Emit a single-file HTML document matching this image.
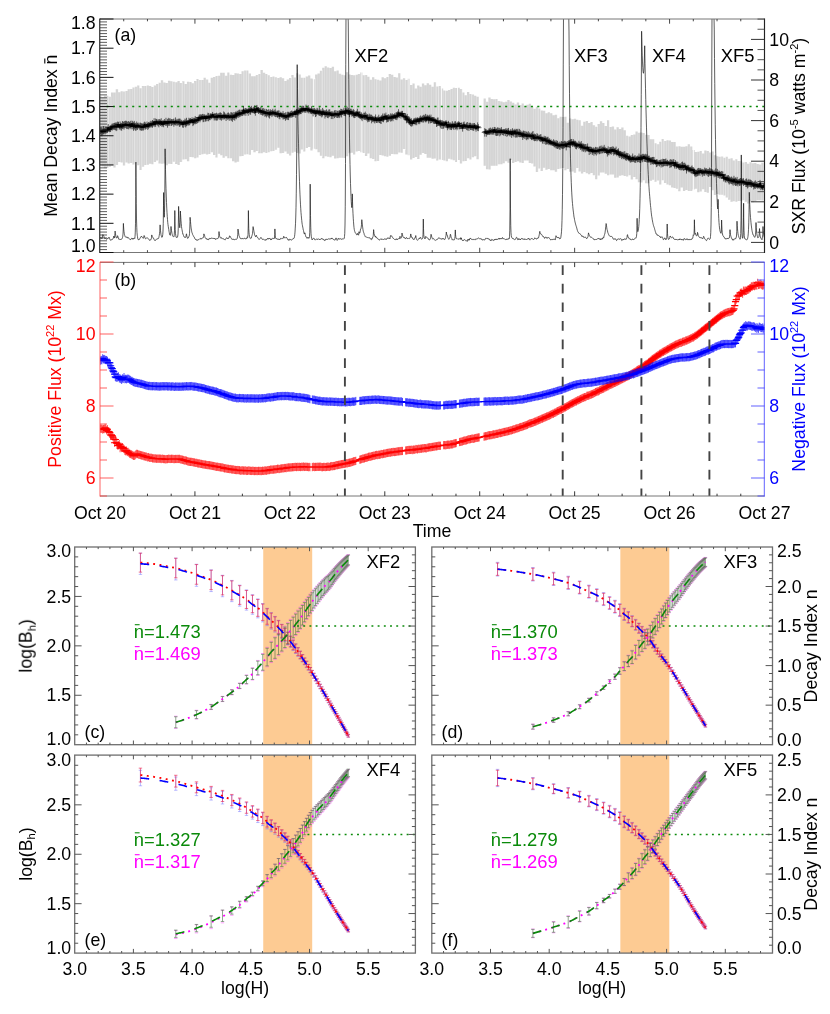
<!DOCTYPE html>
<html><head><meta charset="utf-8"><title>fig</title><style>html,body{margin:0;padding:0;background:#fff}svg{display:block}</style></head><body>
<svg width="830" height="1014" viewBox="0 0 830 1014" font-family="Liberation Sans, sans-serif" font-size="17.7px">
<defs><filter id="nf" filterUnits="userSpaceOnUse" x="0" y="0" width="830" height="1014"><feOffset dx="0" dy="0"/></filter></defs><rect width="830" height="1014" fill="#fff"/>
<polygon points="99.11,96.31 101.49,96.31 101.49,97.35 103.86,97.35 103.86,95.74 106.23,95.74 106.23,95.75 108.61,95.75 108.61,96.87 110.98,96.87 110.98,92.56 113.35,92.56 113.35,92.43 115.73,92.43 115.73,89.34 118.1,89.34 118.1,92.34 120.47,92.34 120.47,91.15 122.85,91.15 122.85,91.38 125.22,91.38 125.22,91.09 127.59,91.09 127.59,89.18 129.97,89.18 129.97,88.91 132.34,88.91 132.34,87.58 134.71,87.58 134.71,86.8 137.08,86.8 137.08,85.51 139.46,85.51 139.46,88.17 141.83,88.17 141.83,86.11 144.2,86.11 144.2,86 146.58,86 146.58,85.58 148.95,85.58 148.95,85.93 151.32,85.93 151.32,87.06 153.7,87.06 153.7,85.38 156.07,85.38 156.07,83.97 158.44,83.97 158.44,82.78 160.82,82.78 160.82,80.28 163.19,80.28 163.19,82.41 165.56,82.41 165.56,83.01 167.94,83.01 167.94,80.65 170.31,80.65 170.31,81.35 172.68,81.35 172.68,81.69 175.06,81.69 175.06,82.31 177.43,82.31 177.43,80.96 179.8,80.96 179.8,82.88 182.18,82.88 182.18,81.17 184.55,81.17 184.55,84.06 186.92,84.06 186.92,81.68 189.3,81.68 189.3,81.99 191.67,81.99 191.67,83.18 194.04,83.18 194.04,80.98 196.42,80.98 196.42,79 198.79,79 198.79,80.06 201.16,80.06 201.16,80.08 203.53,80.08 203.53,77.7 205.91,77.7 205.91,79.59 208.28,79.59 208.28,82.65 210.65,82.65 210.65,77.64 213.03,77.64 213.03,77.07 215.4,77.07 215.4,75.9 217.77,75.9 217.77,75.71 220.15,75.71 220.15,72.72 222.52,72.72 222.52,72.87 224.89,72.87 224.89,75.84 227.27,75.84 227.27,72.57 229.64,72.57 229.64,74.65 232.01,74.65 232.01,75.12 234.39,75.12 234.39,73.25 236.76,73.25 236.76,73.47 239.13,73.47 239.13,73.95 241.51,73.95 241.51,71.15 243.88,71.15 243.88,70.49 246.25,70.49 246.25,70.42 248.63,70.42 248.63,73.45 251,73.45 251,76.23 253.37,76.23 253.37,76.22 255.75,76.22 255.75,74.94 258.12,74.94 258.12,74.12 260.49,74.12 260.49,70.12 262.87,70.12 262.87,72.65 265.24,72.65 265.24,73.88 267.61,73.88 267.61,75.15 269.98,75.15 269.98,76.96 272.36,76.96 272.36,76.58 274.73,76.58 274.73,77.14 277.1,77.14 277.1,77.95 279.48,77.95 279.48,77.14 281.85,77.14 281.85,78.28 284.22,78.28 284.22,80.94 286.6,80.94 286.6,79.52 288.97,79.52 288.97,78 291.34,78 291.34,74.89 293.72,74.89 293.72,77.53 296.09,77.53 296.09,73.33 298.46,73.33 298.46,74.44 300.84,74.44 300.84,77.69 303.21,77.69 303.21,77.72 305.58,77.72 305.58,76.5 307.96,76.5 307.96,75.38 310.33,75.38 310.33,78.62 312.7,78.62 312.7,79.22 315.08,79.22 315.08,74.4 317.45,74.4 317.45,73.56 319.82,73.56 319.82,70.85 322.2,70.85 322.2,67.63 324.57,67.63 324.57,66.15 326.94,66.15 326.94,67.48 329.32,67.48 329.32,67.88 331.69,67.88 331.69,66.73 334.06,66.73 334.06,71.27 336.43,71.27 336.43,70.57 338.81,70.57 338.81,73.86 341.18,73.86 341.18,74.81 343.55,74.81 343.55,75.37 345.93,75.37 345.93,72.16 348.3,72.16 348.3,74.44 350.67,74.44 350.67,74.88 353.05,74.88 353.05,75.23 355.42,75.23 355.42,74.86 357.79,74.86 357.79,74.09 360.17,74.09 360.17,72.58 362.54,72.58 362.54,75.26 364.91,75.26 364.91,74.9 367.29,74.9 367.29,76.77 369.66,76.77 369.66,79.71 372.03,79.71 372.03,77.16 374.41,77.16 374.41,79.23 376.78,79.23 376.78,79.85 379.15,79.85 379.15,80.41 381.53,80.41 381.53,77.3 383.9,77.3 383.9,78.24 386.27,78.24 386.27,77.07 388.65,77.07 388.65,73.92 391.02,73.92 391.02,74.72 393.39,74.72 393.39,77.11 395.77,77.11 395.77,77.61 398.14,77.61 398.14,73.35 400.51,73.35 400.51,79.5 402.88,79.5 402.88,78.35 405.26,78.35 405.26,79.95 407.63,79.95 407.63,78.79 410,78.79 410,85.02 412.38,85.02 412.38,83.45 414.75,83.45 414.75,88.44 417.12,88.44 417.12,85.61 419.5,85.61 419.5,86.82 421.87,86.82 421.87,83.59 424.24,83.59 424.24,85.27 426.62,85.27 426.62,83.27 428.99,83.27 428.99,84.69 431.36,84.69 431.36,86.82 433.74,86.82 433.74,82.21 436.11,82.21 436.11,86.58 438.48,86.58 438.48,86.11 440.86,86.11 440.86,88.44 443.23,88.44 443.23,90.41 445.6,90.41 445.6,90.65 447.98,90.65 447.98,90.06 450.35,90.06 450.35,88.94 452.72,88.94 452.72,87.75 455.1,87.75 455.1,88.06 457.47,88.06 457.47,87.67 459.84,87.67 459.84,89.03 462.22,89.03 462.22,92.53 464.59,92.53 464.59,95.22 466.96,95.22 466.96,92.03 469.33,92.03 469.33,94.07 471.71,94.07 471.71,94.59 474.08,94.59 474.08,95.87 476.45,95.87 476.45,96.87 478.83,96.87 478.83,159.14 476.45,159.14 476.45,156.33 474.08,156.33 474.08,157.35 471.71,157.35 471.71,159.62 469.33,159.62 469.33,158.17 466.96,158.17 466.96,161.03 464.59,161.03 464.59,161.26 462.22,161.26 462.22,163.62 459.84,163.62 459.84,160.03 457.47,160.03 457.47,162.04 455.1,162.04 455.1,160.22 452.72,160.22 452.72,159.51 450.35,159.51 450.35,158.85 447.98,158.85 447.98,161.21 445.6,161.21 445.6,160.62 443.23,160.62 443.23,159.88 440.86,159.88 440.86,159.44 438.48,159.44 438.48,160.56 436.11,160.56 436.11,158.43 433.74,158.43 433.74,158.65 431.36,158.65 431.36,157.85 428.99,157.85 428.99,157.63 426.62,157.63 426.62,154.1 424.24,154.1 424.24,152.93 421.87,152.93 421.87,154.66 419.5,154.66 419.5,158.95 417.12,158.95 417.12,156.94 414.75,156.94 414.75,157.99 412.38,157.99 412.38,159.61 410,159.61 410,155.2 407.63,155.2 407.63,154.61 405.26,154.61 405.26,149.09 402.88,149.09 402.88,152.64 400.51,152.64 400.51,152.51 398.14,152.51 398.14,154.35 395.77,154.35 395.77,154.24 393.39,154.24 393.39,154.1 391.02,154.1 391.02,155.74 388.65,155.74 388.65,156.68 386.27,156.68 386.27,156.33 383.9,156.33 383.9,155.5 381.53,155.5 381.53,155.02 379.15,155.02 379.15,161.12 376.78,161.12 376.78,161.27 374.41,161.27 374.41,159.02 372.03,159.02 372.03,158.13 369.66,158.13 369.66,153.49 367.29,153.49 367.29,156.08 364.91,156.08 364.91,152.97 362.54,152.97 362.54,152.16 360.17,152.16 360.17,150.93 357.79,150.93 357.79,151.38 355.42,151.38 355.42,154.47 353.05,154.47 353.05,152.79 350.67,152.79 350.67,153.16 348.3,153.16 348.3,156.14 345.93,156.14 345.93,158.03 343.55,158.03 343.55,157.67 341.18,157.67 341.18,157.77 338.81,157.77 338.81,158.28 336.43,158.28 336.43,158.42 334.06,158.42 334.06,155.84 331.69,155.84 331.69,157.31 329.32,157.31 329.32,156.8 326.94,156.8 326.94,156.27 324.57,156.27 324.57,158.15 322.2,158.15 322.2,155.82 319.82,155.82 319.82,152.3 317.45,152.3 317.45,149.24 315.08,149.24 315.08,148.85 312.7,148.85 312.7,150.58 310.33,150.58 310.33,147.12 307.96,147.12 307.96,148.07 305.58,148.07 305.58,151.58 303.21,151.58 303.21,149.44 300.84,149.44 300.84,153.48 298.46,153.48 298.46,152.96 296.09,152.96 296.09,151.64 293.72,151.64 293.72,152.63 291.34,152.63 291.34,155.38 288.97,155.38 288.97,153.63 286.6,153.63 286.6,151.62 284.22,151.62 284.22,152.94 281.85,152.94 281.85,153.19 279.48,153.19 279.48,147.87 277.1,147.87 277.1,149.72 274.73,149.72 274.73,151 272.36,151 272.36,151.15 269.98,151.15 269.98,152.27 267.61,152.27 267.61,153 265.24,153 265.24,152.34 262.87,152.34 262.87,153.36 260.49,153.36 260.49,153.34 258.12,153.34 258.12,150.96 255.75,150.96 255.75,152.31 253.37,152.31 253.37,149.9 251,149.9 251,154.69 248.63,154.69 248.63,154.2 246.25,154.2 246.25,154.4 243.88,154.4 243.88,155.99 241.51,155.99 241.51,156.3 239.13,156.3 239.13,161.65 236.76,161.65 236.76,162.56 234.39,162.56 234.39,161.27 232.01,161.27 232.01,158.21 229.64,158.21 229.64,158.14 227.27,158.14 227.27,156.13 224.89,156.13 224.89,157.85 222.52,157.85 222.52,155.27 220.15,155.27 220.15,153.8 217.77,153.8 217.77,157.59 215.4,157.59 215.4,155.05 213.03,155.05 213.03,152.35 210.65,152.35 210.65,154.1 208.28,154.1 208.28,154.41 205.91,154.41 205.91,153.66 203.53,153.66 203.53,154.24 201.16,154.24 201.16,155.02 198.79,155.02 198.79,157.57 196.42,157.57 196.42,158.27 194.04,158.27 194.04,157.28 191.67,157.28 191.67,156.97 189.3,156.97 189.3,161.2 186.92,161.2 186.92,159.13 184.55,159.13 184.55,159.53 182.18,159.53 182.18,162.04 179.8,162.04 179.8,165.08 177.43,165.08 177.43,163.9 175.06,163.9 175.06,161.64 172.68,161.64 172.68,164.06 170.31,164.06 170.31,163.68 167.94,163.68 167.94,165.19 165.56,165.19 165.56,163.52 163.19,163.52 163.19,163.76 160.82,163.76 160.82,163.5 158.44,163.5 158.44,160.39 156.07,160.39 156.07,162.08 153.7,162.08 153.7,164.32 151.32,164.32 151.32,163.81 148.95,163.81 148.95,164.63 146.58,164.63 146.58,164.97 144.2,164.97 144.2,166.8 141.83,166.8 141.83,170.04 139.46,170.04 139.46,165.29 137.08,165.29 137.08,163.19 134.71,163.19 134.71,164.55 132.34,164.55 132.34,163.07 129.97,163.07 129.97,163.49 127.59,163.49 127.59,162.55 125.22,162.55 125.22,165.56 122.85,165.56 122.85,162.49 120.47,162.49 120.47,162.02 118.1,162.02 118.1,164.91 115.73,164.91 115.73,167.53 113.35,167.53 113.35,165.43 110.98,165.43 110.98,166.83 108.61,166.83 108.61,167.94 106.23,167.94 106.23,168.23 103.86,168.23 103.86,166.45 101.49,166.45 101.49,164.46 99.11,164.46" fill="#d4d4d4"/>
<polygon points="483.57,98.46 485.95,98.46 485.95,101.79 488.32,101.79 488.32,97.53 490.69,97.53 490.69,98.98 493.07,98.98 493.07,99.25 495.44,99.25 495.44,98.92 497.81,98.92 497.81,100.96 500.19,100.96 500.19,101.59 502.56,101.59 502.56,102.31 504.93,102.31 504.93,101.77 507.31,101.77 507.31,100.03 509.68,100.03 509.68,101.56 512.05,101.56 512.05,102.77 514.43,102.77 514.43,104.5 516.8,104.5 516.8,102.61 519.17,102.61 519.17,104.92 521.55,104.92 521.55,103.45 523.92,103.45 523.92,106.04 526.29,106.04 526.29,104.73 528.67,104.73 528.67,103.75 531.04,103.75 531.04,106.53 533.41,106.53 533.41,108.86 535.78,108.86 535.78,106.84 538.16,106.84 538.16,108.57 540.53,108.57 540.53,110.57 542.9,110.57 542.9,110.86 545.28,110.86 545.28,113.2 547.65,113.2 547.65,112.33 550.02,112.33 550.02,113.22 552.4,113.22 552.4,115.31 554.77,115.31 554.77,114.72 557.14,114.72 557.14,118.32 559.52,118.32 559.52,116.87 561.89,116.87 561.89,117.1 564.26,117.1 564.26,116.63 566.64,116.63 566.64,122.8 569.01,122.8 569.01,118.48 571.38,118.48 571.38,119.29 573.76,119.29 573.76,118.64 576.13,118.64 576.13,119.73 578.5,119.73 578.5,120.26 580.88,120.26 580.88,125.83 583.25,125.83 583.25,121.74 585.62,121.74 585.62,120.94 588,120.94 588,122.94 590.37,122.94 590.37,121.97 592.74,121.97 592.74,125.24 595.12,125.24 595.12,126.73 597.49,126.73 597.49,124.05 599.86,124.05 599.86,121.23 602.23,121.23 602.23,123.08 604.61,123.08 604.61,125.94 606.98,125.94 606.98,120.36 609.35,120.36 609.35,127.08 611.73,127.08 611.73,126.6 614.1,126.6 614.1,129.45 616.47,129.45 616.47,127.34 618.85,127.34 618.85,129.1 621.22,129.1 621.22,127.54 623.59,127.54 623.59,130.31 625.97,130.31 625.97,135.71 628.34,135.71 628.34,136.46 630.71,136.46 630.71,134.95 633.09,134.95 633.09,134.43 635.46,134.43 635.46,131.58 637.83,131.58 637.83,132.7 640.21,132.7 640.21,132.6 642.58,132.6 642.58,133.06 644.95,133.06 644.95,134.66 647.33,134.66 647.33,135.05 649.7,135.05 649.7,139.32 652.07,139.32 652.07,139.36 654.45,139.36 654.45,143.25 656.82,143.25 656.82,144.37 659.19,144.37 659.19,141.68 661.57,141.68 661.57,138.98 663.94,138.98 663.94,140.88 666.31,140.88 666.31,140.37 668.68,140.37 668.68,140.52 671.06,140.52 671.06,141.88 673.43,141.88 673.43,142.1 675.8,142.1 675.8,146.6 678.18,146.6 678.18,146.32 680.55,146.32 680.55,146.68 682.92,146.68 682.92,146.78 685.3,146.78 685.3,146.17 687.67,146.17 687.67,144.31 690.04,144.31 690.04,146.56 692.42,146.56 692.42,150.1 694.79,150.1 694.79,152 697.16,152 697.16,151.76 699.54,151.76 699.54,150.9 701.91,150.9 701.91,153.54 704.28,153.54 704.28,150.44 706.66,150.44 706.66,151.06 709.03,151.06 709.03,152.61 711.4,152.61 711.4,151.52 713.78,151.52 713.78,155.14 716.15,155.14 716.15,156.26 718.52,156.26 718.52,156.72 720.9,156.72 720.9,156.53 723.27,156.53 723.27,157.68 725.64,157.68 725.64,156.71 728.02,156.71 728.02,158.82 730.39,158.82 730.39,158.29 732.76,158.29 732.76,160.55 735.13,160.55 735.13,159.2 737.51,159.2 737.51,161.05 739.88,161.05 739.88,161.31 742.25,161.31 742.25,162.61 744.63,162.61 744.63,161.99 747,161.99 747,163.86 749.37,163.86 749.37,162.34 751.75,162.34 751.75,163.34 754.12,163.34 754.12,163 756.49,163 756.49,164.03 758.87,164.03 758.87,164.46 761.24,164.46 761.24,162.82 763.61,162.82 763.61,200.49 761.24,200.49 761.24,200.16 758.87,200.16 758.87,200.13 756.49,200.13 756.49,201.28 754.12,201.28 754.12,202.34 751.75,202.34 751.75,201.79 749.37,201.79 749.37,203.59 747,203.59 747,201.71 744.63,201.71 744.63,200.25 742.25,200.25 742.25,200.92 739.88,200.92 739.88,201.01 737.51,201.01 737.51,201.73 735.13,201.73 735.13,201.22 732.76,201.22 732.76,201.69 730.39,201.69 730.39,199.71 728.02,199.71 728.02,197.51 725.64,197.51 725.64,195.59 723.27,195.59 723.27,194.72 720.9,194.72 720.9,194.66 718.52,194.66 718.52,194.02 716.15,194.02 716.15,194.89 713.78,194.89 713.78,190.13 711.4,190.13 711.4,187.1 709.03,187.1 709.03,192.68 706.66,192.68 706.66,191.93 704.28,191.93 704.28,189.33 701.91,189.33 701.91,191.47 699.54,191.47 699.54,192.14 697.16,192.14 697.16,188.71 694.79,188.71 694.79,189.39 692.42,189.39 692.42,191.08 690.04,191.08 690.04,191.08 687.67,191.08 687.67,189.95 685.3,189.95 685.3,191.05 682.92,191.05 682.92,187.5 680.55,187.5 680.55,191.25 678.18,191.25 678.18,188.65 675.8,188.65 675.8,187.94 673.43,187.94 673.43,187.59 671.06,187.59 671.06,185.33 668.68,185.33 668.68,184.54 666.31,184.54 666.31,183.07 663.94,183.07 663.94,180.33 661.57,180.33 661.57,184.57 659.19,184.57 659.19,180.57 656.82,180.57 656.82,181.76 654.45,181.76 654.45,179.65 652.07,179.65 652.07,180.82 649.7,180.82 649.7,183.54 647.33,183.54 647.33,183.13 644.95,183.13 644.95,180.17 642.58,180.17 642.58,182.39 640.21,182.39 640.21,182.34 637.83,182.34 637.83,179.14 635.46,179.14 635.46,176.91 633.09,176.91 633.09,179.46 630.71,179.46 630.71,175.34 628.34,175.34 628.34,176.57 625.97,176.57 625.97,175.91 623.59,175.91 623.59,175.23 621.22,175.23 621.22,175.77 618.85,175.77 618.85,177.49 616.47,177.49 616.47,177.73 614.1,177.73 614.1,174.56 611.73,174.56 611.73,174.55 609.35,174.55 609.35,175.18 606.98,175.18 606.98,173.67 604.61,173.67 604.61,172.4 602.23,172.4 602.23,172.39 599.86,172.39 599.86,175.54 597.49,175.54 597.49,179.19 595.12,179.19 595.12,175.15 592.74,175.15 592.74,172.92 590.37,172.92 590.37,174.37 588,174.37 588,173.33 585.62,173.33 585.62,172.01 583.25,172.01 583.25,173.49 580.88,173.49 580.88,171.43 578.5,171.43 578.5,167.96 576.13,167.96 576.13,172.77 573.76,172.77 573.76,171.58 571.38,171.58 571.38,171.76 569.01,171.76 569.01,168.93 566.64,168.93 566.64,170.14 564.26,170.14 564.26,167.97 561.89,167.97 561.89,168.56 559.52,168.56 559.52,168.9 557.14,168.9 557.14,171.81 554.77,171.81 554.77,170.36 552.4,170.36 552.4,170.19 550.02,170.19 550.02,168.91 547.65,168.91 547.65,169.79 545.28,169.79 545.28,167.68 542.9,167.68 542.9,171.07 540.53,171.07 540.53,168.38 538.16,168.38 538.16,171.91 535.78,171.91 535.78,166.57 533.41,166.57 533.41,163.55 531.04,163.55 531.04,163.08 528.67,163.08 528.67,160.61 526.29,160.61 526.29,160.4 523.92,160.4 523.92,163.1 521.55,163.1 521.55,162.38 519.17,162.38 519.17,161.35 516.8,161.35 516.8,162 514.43,162 514.43,163.09 512.05,163.09 512.05,160.01 509.68,160.01 509.68,162.83 507.31,162.83 507.31,161.22 504.93,161.22 504.93,163.14 502.56,163.14 502.56,164.16 500.19,164.16 500.19,164.14 497.81,164.14 497.81,165.8 495.44,165.8 495.44,165.7 493.07,165.7 493.07,165.74 490.69,165.74 490.69,169.42 488.32,169.42 488.32,169.18 485.95,169.18 485.95,165.82 483.57,165.82" fill="#d4d4d4"/>
<path d="M101.49 95.31V165.46M103.86 96.35V167.45M113.35 91.56V166.43M118.1 88.34V165.91M127.59 90.09V163.55M148.95 84.58V165.63M151.32 84.93V164.81M156.07 84.38V163.08M165.56 81.41V164.52M170.31 79.65V164.68M177.43 81.31V164.9M179.8 79.96V166.08M186.92 83.06V160.13M191.67 80.99V157.97M203.53 79.08V155.24M213.03 76.64V153.35M220.15 74.71V154.8M222.52 71.72V156.27M227.27 74.84V157.13M232.01 73.65V159.21M234.39 74.12V162.27M236.76 72.25V163.56M241.51 72.95V157.3M251 72.45V155.69M253.37 75.23V150.9M255.75 75.22V153.31M262.87 69.12V154.36M279.48 76.95V148.87M281.85 76.14V154.19M286.6 79.94V152.62M288.97 78.52V154.63M300.84 73.44V154.48M307.96 75.5V149.07M310.33 74.38V148.12M312.7 77.62V151.58M317.45 73.4V150.24M319.82 72.56V153.3M331.69 66.88V158.31M334.06 65.73V156.84M338.81 69.57V159.28M350.67 73.44V154.16M353.05 73.88V153.79M357.79 73.86V152.38M362.54 71.58V153.16M367.29 73.9V157.08M381.53 79.41V156.02M383.9 76.3V156.5M391.02 72.92V156.74M395.77 76.11V155.24M410 77.79V156.2M419.5 84.61V159.95M424.24 82.59V153.93M426.62 84.27V155.1M428.99 82.27V158.63M433.74 85.82V159.65M440.86 85.11V160.44M447.98 89.65V162.21M459.84 86.67V161.03M474.08 93.59V158.35M478.83 95.87V160.14M490.69 96.53V170.42M493.07 97.98V166.74M502.56 100.59V165.16M507.31 100.77V162.22M519.17 101.61V162.35M528.67 103.73V161.61M531.04 102.75V164.08M542.9 109.57V172.07M547.65 112.2V170.79M552.4 112.22V171.19M554.77 114.31V171.36M569.01 121.8V169.93M573.76 118.29V172.58M583.25 124.83V174.49M588 119.94V174.33M590.37 121.94V175.37M592.74 120.97V173.92M599.86 123.05V176.54M602.23 120.23V173.39M606.98 124.94V174.67M611.73 126.08V175.55M614.1 125.6V175.56M618.85 126.34V178.49M621.22 128.1V176.77M623.59 126.54V176.23M630.71 135.46V176.34M635.46 133.43V177.91M642.58 131.6V183.39M649.7 134.05V184.54M652.07 138.32V181.82M671.06 139.52V186.33M673.43 140.88V188.59M680.55 145.32V192.25M682.92 145.68V188.5M685.3 145.78V192.05M694.79 149.1V190.39M704.28 152.54V190.33M711.4 151.61V188.1M713.78 150.52V191.13M718.52 155.26V195.02M732.76 157.29V202.69M747 160.99V202.71M754.12 162.34V203.34M756.49 162V202.28M758.87 163.03V201.13M763.61 161.82V201.49" stroke="#fff" stroke-opacity="0.18" stroke-width="0.7" fill="none"/>
<path d="M106.23 94.74V169.23M110.98 95.87V167.83M115.73 91.43V168.53M120.47 91.34V163.02M122.85 90.15V163.49M129.97 88.18V164.49M132.34 87.91V164.07M137.08 85.8V164.19M139.46 84.51V166.29M144.2 85.11V167.8M160.82 81.78V164.5M163.19 79.28V164.76M167.94 82.01V166.19M184.55 80.17V160.53M189.3 80.68V162.2M194.04 82.18V158.28M196.42 79.98V159.27M205.91 76.7V154.66M208.28 78.59V155.41M215.4 76.07V156.05M224.89 71.87V158.85M239.13 72.47V162.65M260.49 73.12V154.34M265.24 71.65V153.34M272.36 75.96V152.15M284.22 77.28V153.94M293.72 73.89V153.63M296.09 76.53V152.64M324.57 66.63V159.15M326.94 65.15V157.27M329.32 66.48V157.8M336.43 70.27V159.42M341.18 72.86V158.77M343.55 73.81V158.67M345.93 74.37V159.03M348.3 71.16V157.14M360.17 73.09V151.93M369.66 75.77V154.49M372.03 78.71V159.13M374.41 76.16V160.02M379.15 78.85V162.12M386.27 77.24V157.33M393.39 73.72V155.1M398.14 76.61V155.35M400.51 72.35V153.51M402.88 78.5V153.64M407.63 78.95V155.61M412.38 84.02V160.61M414.75 82.45V158.99M417.12 87.44V157.94M421.87 85.82V155.66M431.36 83.69V158.85M443.23 87.44V160.88M450.35 89.06V159.85M452.72 87.94V160.51M455.1 86.75V161.22M464.59 91.53V162.26M466.96 94.22V162.03M469.33 91.03V159.17M476.45 94.87V157.33M485.95 97.46V166.82M488.32 100.79V170.18M495.44 98.25V166.7M500.19 99.96V165.14M504.93 101.31V164.14M509.68 99.03V163.83M512.05 100.56V161.01M514.43 101.77V164.09M516.8 103.5V163M521.55 103.92V163.38M523.92 102.45V164.1M526.29 105.04V161.4M533.41 105.53V164.55M535.78 107.86V167.57M545.28 109.86V168.68M550.02 111.33V169.91M557.14 113.72V172.81M559.52 117.32V169.9M561.89 115.87V169.56M564.26 116.1V168.97M566.64 115.63V171.14M571.38 117.48V172.76M576.13 117.64V173.77M578.5 118.73V168.96M580.88 119.26V172.43M585.62 120.74V173.01M595.12 124.24V176.15M604.61 122.08V173.4M616.47 128.45V178.73M625.97 129.31V176.91M633.09 133.95V180.46M637.83 130.58V180.14M640.21 131.7V183.34M647.33 133.66V184.13M659.19 143.37V181.57M666.31 139.88V184.07M668.68 139.37V185.54M675.8 141.1V188.94M687.67 145.17V190.95M690.04 143.31V192.08M692.42 145.56V192.08M697.16 151V189.71M699.54 150.76V193.14M701.91 149.9V192.47M706.66 149.44V192.93M709.03 150.06V193.68M716.15 154.14V195.89M730.39 157.82V200.71M737.51 158.2V202.73M739.88 160.05V202.01M742.25 160.31V201.92M749.37 162.86V204.59M751.75 161.34V202.79M761.24 163.46V201.16" stroke="#fff" stroke-opacity="0.38" stroke-width="0.7" fill="none"/>
<path d="M108.61 94.75V168.94M125.22 90.38V166.56M134.71 86.58V165.55M141.83 87.17V171.04M146.58 85V165.97M153.7 86.06V165.32M158.44 82.97V161.39M172.68 80.35V165.06M175.06 80.69V162.64M182.18 81.88V163.04M198.79 78V158.57M201.16 79.06V156.02M210.65 81.65V155.1M217.77 74.9V158.59M229.64 71.57V159.14M243.88 70.15V156.99M246.25 69.49V155.4M248.63 69.42V155.2M258.12 73.94V151.96M267.61 72.88V154M269.98 74.15V153.27M274.73 75.58V152M277.1 76.14V150.72M291.34 77V156.38M298.46 72.33V153.96M303.21 76.69V150.44M305.58 76.72V152.58M315.08 78.22V149.85M322.2 69.85V156.82M355.42 74.23V155.47M364.91 74.26V153.97M376.78 78.23V162.27M388.65 76.07V157.68M405.26 77.35V150.09M436.11 81.21V159.43M438.48 85.58V161.56M445.6 89.41V161.62M457.47 87.06V163.04M462.22 88.03V164.62M471.71 93.07V160.62M497.81 97.92V166.8M538.16 105.84V172.91M540.53 107.57V169.38M597.49 125.73V180.19M609.35 119.36V176.18M628.34 134.71V177.57M644.95 132.06V181.17M654.45 138.36V180.65M656.82 142.25V182.76M661.57 140.68V185.57M663.94 137.98V181.33M678.18 145.6V189.65M720.9 155.72V195.66M723.27 155.53V195.72M725.64 156.68V196.59M728.02 155.71V198.51M735.13 159.55V202.22M744.63 161.61V201.25" stroke="#fff" stroke-opacity="0.6" stroke-width="0.75" fill="none"/>
<rect x="313.0" y="60" width="1" height="150" fill="#fff" fill-opacity="0.8"/>
<rect x="361.3" y="60" width="1" height="150" fill="#fff" fill-opacity="0.8"/>
<rect x="408.5" y="60" width="1" height="150" fill="#fff" fill-opacity="0.8"/>
<rect x="441.0" y="60" width="1" height="150" fill="#fff" fill-opacity="0.8"/>
<rect x="457.0" y="60" width="1" height="150" fill="#fff" fill-opacity="0.8"/>
<rect x="693.0" y="60" width="1" height="150" fill="#fff" fill-opacity="0.8"/>
<clipPath id="ca"><rect x="100.0" y="19.0" width="664.5" height="233.5"/></clipPath>
<polyline clip-path="url(#ca)" points="100,237.55 100.25,237.67 100.5,238.28 100.75,237.76 101,237.9 101.25,237.67 101.5,238.41 101.75,238.89 102,238.63 102.25,238.18 102.5,235.81 102.75,234.63 103,235.21 103.25,235.13 103.5,235.69 103.75,236.1 104,236.65 104.25,237.55 104.5,237.83 104.75,238.66 105,238.6 105.25,238.25 105.5,238.79 105.75,238.53 106,238.78 106.25,238.82 106.5,239.23 106.75,239.33 107,238.61 107.25,238.59 107.5,238.57 107.75,238.12 108,237.88 108.25,237.97 108.5,238.28 108.75,237.8 109,237.14 109.25,237.95 109.5,238.29 109.75,239.12 110,239.44 110.25,239.95 110.5,240.19 110.75,240.33 111,240.22 111.25,239.7 111.5,239.95 111.75,239.81 112,240.01 112.25,239.58 112.5,239.17 112.75,239.03 113,238.66 113.25,237.85 113.5,237.46 113.75,236.14 114,237.06 114.25,238.06 114.5,237.01 114.75,235.86 115,232.84 115.1,231.09 115.25,232.34 115.5,233.4 115.75,235.74 116,237.25 116.25,237.56 116.5,238.03 116.75,237.96 117,238.02 117.25,236.74 117.5,235.7 117.75,235.86 118,237.02 118.25,238.1 118.5,238.14 118.75,239.22 119,239.1 119.25,239.32 119.5,239.21 119.75,239.06 120,239.58 120.25,239.51 120.5,239.48 120.75,239.33 121,239.23 121.25,239.37 121.5,239.17 121.75,239.04 122,238.9 122.25,238.21 122.5,237.43 122.75,236.22 123,234.05 123.25,228.97 123.4,223.42 123.5,225.79 123.75,229.17 124,231.67 124.25,233.3 124.5,234.64 124.75,235.59 125,236.53 125.25,236.7 125.5,237 125.75,237.16 126,237.18 126.25,237.01 126.5,236.97 126.75,237.35 127,236.92 127.25,237.77 127.5,237.74 127.75,237.75 128,237.62 128.25,237.65 128.5,238.03 128.75,237.91 129,238.12 129.25,238.78 129.5,239.06 129.75,239.42 130,239.78 130.25,239.58 130.5,239.58 130.75,239.72 131,239.04 131.25,238.59 131.5,238.37 131.75,238.5 132,238.64 132.25,238.14 132.5,238.54 132.75,239.26 133,239.26 133.25,238.42 133.5,238.87 133.75,238.74 134,238.73 134.25,238.26 134.5,237.92 134.75,238.48 135,236.64 135.25,232.91 135.5,223.23 135.75,196.61 135.9,162.21 136,177.36 136.25,203.27 136.5,218.95 136.75,227.32 137,232.49 137.25,235.2 137.5,236.74 137.75,238.74 138,239.05 138.25,239.85 138.5,239.82 138.75,239.69 139,240 139.25,239.62 139.5,239.22 139.75,238.81 140,238.05 140.25,237.76 140.5,237.25 140.75,237.16 141,237.21 141.25,236.64 141.5,236.12 141.75,236.67 142,236.87 142.25,237.31 142.5,237.38 142.75,237.81 143,238.21 143.25,238.33 143.5,237.87 143.75,236.82 144,235.51 144.25,235.69 144.5,236.14 144.75,237.04 145,238.04 145.25,238.38 145.5,238.78 145.75,238.75 146,238.64 146.25,238.2 146.5,237.99 146.75,237.74 147,237.53 147.25,237.78 147.5,237.96 147.75,238.06 148,238.32 148.25,238.87 148.5,239.11 148.75,239.54 149,239.79 149.25,239.97 149.5,239.87 149.75,240.32 150,240.37 150.25,239.86 150.5,239.75 150.75,239.89 151,239.41 151.25,238.84 151.5,237.74 151.75,234.93 152,235.74 152.25,236.46 152.5,237.03 152.75,237.33 153,237.74 153.25,238.32 153.5,238.11 153.75,238.72 154,239.34 154.25,239.6 154.5,239.88 154.75,240.22 155,240.75 155.25,240.14 155.5,240.18 155.75,239.91 156,239.54 156.25,239.51 156.5,239.26 156.75,238.9 157,238.57 157.25,238.72 157.5,238.78 157.75,238.73 158,238.55 158.25,238.52 158.5,238.46 158.75,237.83 159,236.73 159.25,235.41 159.5,233.6 159.75,231.29 160,227.07 160.1,224.89 160.25,227.14 160.5,230.37 160.75,232.94 161,234.56 161.25,235.65 161.5,236.26 161.75,237.38 162,237.13 162.25,237 162.5,236.06 162.75,234.56 163,231.12 163.25,223.46 163.5,205.44 163.6,192.56 163.75,203.5 164,214.38 164.25,217.23 164.5,212.51 164.75,198.29 165,167.96 165.1,148.82 165.25,156.7 165.5,169.57 165.75,180.1 166,188.71 166.25,196.07 166.5,202.45 166.75,208.1 167,212.6 167.25,216.32 167.5,219.46 167.75,222.63 168,224.61 168.25,226.34 168.5,228.03 168.75,229.34 169,231.28 169.25,232.5 169.5,234.04 169.75,234.95 170,235.19 170.25,235.32 170.5,233.96 170.75,231.73 171,226.48 171.25,228.76 171.5,230.57 171.75,232.01 172,233.56 172.25,234.42 172.5,235.68 172.75,236.08 173,236.4 173.25,236.66 173.5,236.98 173.75,236.96 174,236.55 174.25,234.74 174.5,230.27 174.75,215.74 174.8,210.54 175,221.75 175.25,229.52 175.5,233.74 175.75,235.53 176,236.87 176.25,237.44 176.5,237.33 176.75,237.31 177,237.65 177.25,237.26 177.5,237.06 177.75,236.02 178,234.06 178.25,228.66 178.5,215.09 178.6,206.42 178.75,211.33 179,217.91 179.25,222.45 179.5,226.14 179.75,227.75 180,225.89 180.25,219.65 180.4,211.03 180.5,213.62 180.75,217.16 181,220.84 181.25,223.75 181.5,226.49 181.75,228.42 182,229.63 182.25,231.07 182.5,232.37 182.75,233.79 183,233.65 183.25,234.78 183.5,235.53 183.75,236.34 184,236.82 184.25,236.76 184.5,237.21 184.75,237.45 185,237.91 185.25,237.68 185.5,237.15 185.75,237.01 186,236.4 186.25,234.53 186.5,233.83 186.75,235.49 187,236.9 187.25,237.46 187.5,238.37 187.75,237.91 188,238.08 188.25,238.01 188.5,237.44 188.75,237.02 189,236.18 189.25,235.93 189.5,233.66 189.75,228.99 190,221.48 190.1,217.33 190.25,219.16 190.5,221.71 190.75,224.54 191,227.09 191.25,228.96 191.5,230.24 191.75,231.79 192,232.66 192.25,233.17 192.5,234.29 192.75,234.71 193,235.16 193.25,235.59 193.5,236.06 193.75,236.75 194,236.92 194.25,237.07 194.5,237.79 194.75,238.65 195,238.82 195.25,239.02 195.5,238.98 195.75,239.67 196,239.83 196.25,239.66 196.5,240.07 196.75,239.85 197,240.4 197.25,239.91 197.5,239.91 197.75,239.91 198,239.68 198.25,239.82 198.5,239.64 198.75,239.39 199,239.32 199.25,239.01 199.5,239.14 199.75,238.77 200,238.51 200.25,238.73 200.5,238.7 200.75,238.49 201,238.73 201.25,239.17 201.5,238.58 201.75,238.75 202,238.51 202.25,238.2 202.5,237.85 202.75,237.83 203,237.87 203.25,237.77 203.5,236.63 203.75,235.25 203.9,233.87 204,234.16 204.25,235.04 204.5,235.36 204.75,236.42 205,237.03 205.25,237.78 205.5,238.05 205.75,238.47 206,238.77 206.25,238.64 206.5,239.26 206.75,238.74 207,238.8 207.25,238.96 207.5,239.32 207.75,239.76 208,239.42 208.25,239.86 208.5,239.85 208.75,239.46 209,238.89 209.25,238.23 209.5,238.41 209.75,238.46 210,238.24 210.25,238.44 210.5,238.43 210.75,238.83 211,238.46 211.25,237.99 211.5,238.07 211.75,238.03 212,238.21 212.25,238.16 212.5,238.4 212.75,238.37 213,238.68 213.25,238.37 213.5,238.5 213.75,238.32 214,238.4 214.25,238.71 214.5,238.07 214.75,238.58 215,238.88 215.25,239.3 215.5,239.36 215.75,238.76 216,239.21 216.25,238.9 216.5,238.83 216.75,238.56 217,238.31 217.25,238.39 217.5,238.58 217.75,238.59 218,238.1 218.25,238.06 218.5,237.35 218.75,235.84 219,231.58 219.25,233.8 219.5,235.36 219.75,236.4 220,237.59 220.25,237.79 220.5,237.61 220.75,237.84 221,237.88 221.25,238.08 221.5,237.67 221.75,238.2 222,238.35 222.25,238.68 222.5,239.07 222.75,238.69 223,238.88 223.25,238.88 223.5,238.94 223.75,238.84 224,239.07 224.25,239.48 224.5,239.53 224.75,239.63 225,239.6 225.25,239.83 225.5,239.11 225.75,238.65 226,238.53 226.25,238.4 226.5,237.82 226.75,237.59 227,238.11 227.25,238.37 227.5,238.4 227.75,238.03 228,238.58 228.25,238.11 228.5,238.25 228.75,238.03 229,238.08 229.25,237.33 229.5,235.92 229.75,235.92 230,236.02 230.25,236.33 230.5,236.73 230.75,237.58 231,238.1 231.25,238.27 231.5,238.7 231.75,239.24 232,239.26 232.25,239.37 232.5,239.29 232.75,239.26 233,238.91 233.25,239.35 233.5,239.25 233.75,239.29 234,239.01 234.25,239.4 234.5,239.83 234.75,239.62 235,239.43 235.25,239.31 235.5,239.48 235.75,239.16 236,239.18 236.25,239.3 236.5,239.29 236.75,239.16 237,238.96 237.25,238.35 237.5,236.92 237.75,234.36 238,229.08 238.25,230.96 238.5,232.28 238.75,234.03 239,235.63 239.25,236.24 239.5,236.61 239.75,237.44 240,237.54 240.25,238.24 240.5,238.69 240.75,238.66 241,238.99 241.25,238.84 241.5,238.87 241.75,238.49 242,238.38 242.25,238.69 242.5,238.8 242.75,238.4 243,238.44 243.25,238.96 243.5,238.9 243.75,238.76 244,238.45 244.25,238.45 244.5,238.28 244.75,238.15 245,238.18 245.25,238.68 245.5,238.74 245.75,239.15 246,238.8 246.25,238.59 246.5,238.97 246.75,238.55 247,237.94 247.25,236.8 247.5,237.38 247.75,237.41 248,234.54 248.25,225.16 248.4,210.57 248.5,217.98 248.75,228.77 249,232.24 249.25,234.67 249.5,236.53 249.75,237.11 250,238.28 250.25,238.51 250.5,238.38 250.75,238.18 251,237.85 251.25,238.08 251.5,237 251.75,236.16 252,235.5 252.25,234.74 252.5,233.53 252.75,230.89 253,227.88 253.1,226.64 253.25,227.57 253.5,229.01 253.75,230.26 254,231.73 254.25,233.1 254.5,234.44 254.75,235.25 255,235.37 255.25,236.08 255.5,236.71 255.75,236.75 256,236.02 256.25,235.2 256.5,235.45 256.75,236.4 257,237.09 257.25,237.31 257.5,237.59 257.75,237.53 258,237.97 258.25,238.46 258.5,238.68 258.75,239.22 259,239.47 259.25,239.46 259.5,239.12 259.75,238.69 260,238.33 260.25,238.32 260.5,238.08 260.75,237.62 261,238.06 261.25,237.82 261.5,238.27 261.75,238.47 262,238.94 262.25,239.4 262.5,239.27 262.75,239.37 263,239.3 263.25,239.24 263.5,238.99 263.75,239.09 264,239.52 264.25,239.87 264.5,240.13 264.75,240.11 265,240.01 265.25,239.99 265.5,239.95 265.75,240.31 266,239.41 266.25,239.78 266.5,239.39 266.75,239.08 267,238.92 267.25,238.86 267.5,239.07 267.75,238.3 268,238.92 268.25,239.15 268.5,238.79 268.75,238.42 269,238.18 269.25,238.76 269.5,238.39 269.75,238.62 270,238.36 270.25,238.63 270.5,239.68 270.75,239.57 271,239.74 271.25,238.95 271.5,239.56 271.75,239.38 272,238.68 272.25,238.25 272.5,238.23 272.75,238.45 273,238.24 273.25,238.31 273.5,238.43 273.75,238.79 274,238.93 274.25,238.61 274.5,238.12 274.75,234.4 274.9,228.93 275,231.79 275.25,235.78 275.5,237.89 275.75,238.19 276,238.63 276.25,238.94 276.5,238.73 276.75,238.7 277,238.6 277.25,239.12 277.5,239.11 277.75,239.15 278,239.5 278.25,239.07 278.5,238.96 278.75,239.27 279,239.45 279.25,239.85 279.5,239.48 279.75,239.15 280,239.45 280.25,238.73 280.5,238.8 280.75,238.35 281,238.45 281.25,238.75 281.5,238.87 281.75,238.49 282,238.65 282.25,238.65 282.5,238.47 282.75,238.5 283,238.23 283.25,238.2 283.5,236.72 283.75,236.24 284,236.78 284.25,237.73 284.5,237.74 284.75,237.71 285,237.69 285.25,237.76 285.5,237.83 285.75,237.52 286,237.53 286.25,237.64 286.5,237.4 286.75,238.05 287,238.16 287.25,238.39 287.5,238.7 287.75,239.11 288,240.05 288.25,239.69 288.5,240.2 288.75,240.02 289,240.33 289.25,239.73 289.5,239.2 289.75,239.18 290,239.18 290.25,239.51 290.5,239.42 290.75,239.91 291,239.97 291.25,239.94 291.5,240.11 291.75,239.96 292,239.87 292.25,239.65 292.5,239.12 292.75,238.83 293,238.42 293.25,238.57 293.5,238.44 293.75,238.52 294,238.26 294.25,237.82 294.5,236.62 294.75,234.77 295,232.12 295.25,228.09 295.5,223.79 295.75,217.04 296,207.76 296.25,193.8 296.5,174.67 296.75,147.56 297,108.08 297.2,64.67 297.25,68.68 297.5,88.31 297.75,105.9 298,120.66 298.25,133.18 298.5,143.22 298.75,153.97 299,165.01 299.25,173.99 299.5,181.67 299.75,189.15 300,194.86 300.25,200.05 300.5,204.83 300.75,208.74 301,212.62 301.25,215.29 301.5,218.08 301.75,220.45 302,222.98 302.25,224.56 302.5,225.89 302.75,227.16 303,228.31 303.25,229.98 303.5,230.49 303.75,231.9 304,233.27 304.25,233.68 304.5,234.07 304.75,232.74 305,233.23 305.25,234.45 305.5,235.32 305.75,236.53 306,237.13 306.25,237.1 306.5,237.31 306.75,237.84 307,238.32 307.25,238.05 307.5,237.52 307.75,238.05 308,238.05 308.25,238 308.5,237.62 308.75,238.19 309,238.33 309.25,237.79 309.5,236.5 309.75,232.27 310,218.41 310.2,184.16 310.25,191.88 310.5,215.54 310.75,227.21 311,233.24 311.25,236.18 311.5,238 311.75,238.66 312,239.69 312.25,240.01 312.5,239.54 312.75,239.12 313,238.93 313.25,238.41 313.5,238.15 313.75,237.94 314,238.24 314.25,239.01 314.5,239.42 314.75,239.7 315,239.65 315.25,239.9 315.5,239.88 315.75,239.67 316,239.17 316.25,239.2 316.5,239.2 316.75,238.9 317,239.04 317.25,239.14 317.5,239.5 317.75,239.31 318,239.08 318.25,238.79 318.5,239.17 318.75,239.1 319,239.1 319.25,239.25 319.5,239.52 319.75,239.97 320,239.35 320.25,239.21 320.5,239.4 320.75,239.11 321,238.75 321.25,238.76 321.5,238.75 321.75,238.98 322,238.41 322.25,238.79 322.5,239.24 322.75,239.19 323,239.59 323.25,239.36 323.5,239.6 323.75,239.54 324,239.47 324.25,240.3 324.5,240.08 324.75,240.6 325,240.59 325.25,240.31 325.5,240.11 325.75,239.29 326,239.36 326.25,238.92 326.5,239.11 326.75,239.54 327,239.84 327.25,239.45 327.5,239.41 327.75,239.13 328,239.06 328.25,238.9 328.5,238.71 328.75,238.89 329,238.68 329.25,238.86 329.5,238.96 329.75,239.18 330,238.72 330.25,238.9 330.5,239.18 330.75,238.88 331,238.44 331.25,238.11 331.5,238.62 331.75,237.97 332,237.79 332.25,238.02 332.5,238.34 332.75,238.83 333,239.06 333.25,239.55 333.5,239.55 333.75,239.74 334,239.99 334.25,240 334.5,239.75 334.75,240.21 335,240.09 335.25,239.74 335.5,238.74 335.75,238.16 336,238.22 336.25,238.08 336.5,239.17 336.75,239.6 337,240.35 337.25,240.33 337.5,240.03 337.75,239.67 338,238.75 338.25,238.44 338.5,238.03 338.75,238.54 339,238.81 339.25,239.3 339.5,238.95 339.75,238.79 340,238.96 340.25,239 340.5,238.84 340.75,238.55 341,238.93 341.25,239.31 341.5,239.36 341.75,239.16 342,238.99 342.25,238.87 342.5,238.96 342.75,238.94 343,239.17 343.25,238.84 343.5,239.07 343.75,238.93 344,238.67 344.25,238.34 344.5,236.47 344.75,233.4 345,225.03 345.25,206.28 345.5,163.52 345.75,64.27 346,16 346.25,16 346.5,16 346.75,16 347,16 347.25,16 347.5,16 347.75,16 348,16 348.25,21.92 348.5,52.81 348.75,79.44 349,102.11 349.25,121.81 349.5,138.12 349.75,152.16 350,164.44 350.25,174.97 350.5,183.54 350.75,190.14 351,196.57 351.25,201.71 351.5,205.33 351.75,207.59 352,205.95 352.25,197.65 352.3,193.89 352.5,201.15 352.75,208.61 353,213.7 353.25,218.19 353.5,221.75 353.75,224.99 354,227.58 354.25,229.33 354.5,230.61 354.75,231.41 355,232.13 355.25,232.91 355.5,232.98 355.75,233.27 356,233.54 356.25,234.17 356.5,234.68 356.75,234.86 357,235.05 357.25,234.71 357.5,233.53 357.75,233.41 358,234.39 358.25,234.87 358.5,235.21 358.75,234.13 359,231.71 359.25,233.01 359.5,233.11 359.75,233.15 360,232.48 360.25,230.89 360.5,229.1 360.75,229.08 361,228.46 361.25,227.17 361.5,224.46 361.75,220.22 361.8,219.7 362,221.43 362.25,223.99 362.5,226.12 362.75,227.86 363,229.87 363.25,231.19 363.5,231.99 363.75,232.76 364,233.32 364.25,234.5 364.5,234.99 364.75,235.44 365,236.08 365.25,236.65 365.5,236.91 365.75,236.79 366,236.9 366.25,237.02 366.5,237.09 366.75,237.27 367,237.4 367.25,237.43 367.5,237.54 367.75,237.66 368,237.82 368.25,237.55 368.5,237.68 368.75,237.78 369,237.66 369.25,237.7 369.5,237.57 369.75,237.88 370,238.68 370.25,238.47 370.5,238.7 370.75,239.04 371,239.43 371.25,239.65 371.5,238.6 371.75,238.79 372,239.14 372.25,238.56 372.5,238.33 372.75,237.09 373,236.85 373.25,235.62 373.5,231.62 373.6,229.64 373.75,230.82 374,233.49 374.25,234.47 374.5,234.59 374.75,235.97 375,236.31 375.25,236.94 375.5,236.29 375.75,236.68 376,237.45 376.25,236.96 376.5,237.33 376.75,237.5 377,238.05 377.25,238.4 377.5,238.89 377.75,238.73 378,239.01 378.25,239.06 378.5,239.19 378.75,239.49 379,239.41 379.25,240.06 379.5,240.12 379.75,239.97 380,239.78 380.25,239.52 380.5,239.07 380.75,238.8 381,238.94 381.25,238.91 381.5,239.43 381.75,239.05 382,239.06 382.25,239.21 382.5,239.27 382.75,239.3 383,239.26 383.25,239.35 383.5,239.49 383.75,239.7 384,239.14 384.25,238.99 384.5,238.94 384.75,238.83 385,238.87 385.25,238.75 385.5,238.95 385.75,239.32 386,239.28 386.25,239.61 386.5,239.15 386.75,238.7 387,238.8 387.25,238.21 387.5,238.11 387.75,237.97 388,238.13 388.25,238.43 388.5,237.76 388.75,238.09 389,238.35 389.25,238.06 389.5,238.24 389.75,238.06 390,238.65 390.25,236.71 390.5,235.62 390.75,236.22 391,236.28 391.25,236.14 391.5,235.72 391.75,236.01 392,236.64 392.25,237.13 392.5,237.29 392.75,237.77 393,238.23 393.25,238.5 393.5,238.46 393.75,238.67 394,238.9 394.25,239.17 394.5,239.29 394.75,239.71 395,239.27 395.25,239.48 395.5,239.57 395.75,239.34 396,238.82 396.25,238.87 396.5,239.41 396.75,239.02 397,238.89 397.25,239.21 397.5,239.68 397.75,239.13 398,238.78 398.25,238.72 398.5,239.07 398.75,238.79 399,238.42 399.25,238.34 399.5,238.63 399.75,238.01 400,236.33 400.25,237.44 400.5,237.91 400.75,238.38 401,238.23 401.25,237.93 401.5,237.57 401.75,235.89 402,233.05 402.25,234.2 402.5,234.81 402.75,236 403,236.66 403.25,237.11 403.5,237.52 403.75,237.4 404,237.79 404.25,237.93 404.5,237.54 404.75,237.95 405,238.56 405.25,238.53 405.5,238.68 405.75,238.35 406,238.46 406.25,237.84 406.5,237.43 406.75,237.8 407,238.17 407.25,238.71 407.5,238.51 407.75,238.6 408,238.56 408.25,238.81 408.5,238.52 408.75,238.34 409,238.31 409.25,238.5 409.5,238.46 409.75,238.32 410,237.85 410.25,237 410.5,235.91 410.75,233.94 411,235.32 411.25,235.85 411.5,236.94 411.75,237.58 412,237.89 412.25,237.6 412.5,237.74 412.75,238.81 413,238.64 413.25,238.96 413.5,239.43 413.75,239.56 414,239.81 414.25,239.21 414.5,238.53 414.75,237.98 415,237.46 415.25,237.5 415.5,236.83 415.75,235.56 416,237.35 416.25,238.47 416.5,239.28 416.75,239.43 417,239.75 417.25,240 417.5,240.32 417.75,240.01 418,239.89 418.25,239.62 418.5,239.13 418.75,238.88 419,238.37 419.25,238.83 419.5,238.22 419.75,238.05 420,238.06 420.25,237.55 420.5,237.2 420.75,237.7 421,238.76 421.25,239.1 421.5,239.21 421.75,239.17 422,239.11 422.25,238.91 422.5,238.43 422.75,237.85 423,234.83 423.25,223.14 423.3,219.07 423.5,228.39 423.75,234.62 424,236.61 424.25,237.79 424.5,238.2 424.75,238.35 425,238.98 425.25,238.19 425.5,237.06 425.75,236.4 426,236.78 426.25,237.12 426.5,237.13 426.75,237.39 427,237.67 427.25,238.03 427.5,238.11 427.75,237.93 428,238.2 428.25,238.66 428.5,239.33 428.75,239.3 429,239.63 429.25,239.91 429.5,240.12 429.75,239.99 430,239.13 430.25,238.7 430.5,238.54 430.75,237.08 431,234.27 431.25,234.67 431.5,235.95 431.75,236.86 432,237.49 432.25,238.34 432.5,238.83 432.75,239.01 433,238.92 433.25,238.64 433.5,238.43 433.75,238.67 434,239.24 434.25,239.53 434.5,239.96 434.75,240.23 435,240.39 435.25,240.48 435.5,240.24 435.75,240.15 436,239.9 436.25,239.92 436.5,239.73 436.75,239.49 437,239.47 437.25,239.44 437.5,239 437.75,239.01 438,238.85 438.25,238.45 438.5,237.82 438.75,238.04 439,238.01 439.25,237.81 439.5,238.17 439.75,238.57 440,238.79 440.25,238.58 440.5,239.12 440.75,238.83 441,238.95 441.25,239.15 441.5,239.1 441.75,238.94 442,238.62 442.25,239.21 442.5,238.76 442.75,238.38 443,238.13 443.25,238.61 443.5,238.82 443.75,238.61 444,239.25 444.25,239.51 444.5,239.6 444.75,239.29 445,239.34 445.25,238.75 445.5,237.6 445.75,236.34 446,235.45 446.25,233.09 446.3,232.04 446.5,233.22 446.75,234.51 447,235.27 447.25,235.29 447.5,236.08 447.75,237.43 448,237.99 448.25,238.37 448.5,238.87 448.75,239.31 449,239.21 449.25,238.81 449.5,238.33 449.75,237.94 450,236.87 450.25,234.65 450.5,234.24 450.75,235.32 451,236.58 451.25,237.28 451.5,237.85 451.75,238.43 452,239.52 452.25,240.07 452.5,239.75 452.75,239.69 453,239.84 453.25,239.81 453.5,239.95 453.75,239.8 454,240.08 454.25,239.67 454.5,239.52 454.75,238.5 455,236.68 455.25,231.53 455.3,229.93 455.5,234.18 455.75,236.45 456,237.76 456.25,238.52 456.5,238.73 456.75,238.55 457,238.43 457.25,238.85 457.5,238.99 457.75,238.97 458,239.23 458.25,239.21 458.5,238.98 458.75,238.74 459,239.19 459.25,238.85 459.5,238.72 459.75,238.62 460,238.37 460.25,238.13 460.5,237.81 460.75,239.41 461,239.01 461.25,237.85 461.5,239.16 461.75,239.44 462,240.17 462.25,240.37 462.5,240.51 462.75,240.77 463,240.4 463.25,240.76 463.5,240.25 463.75,240.07 464,239.85 464.25,239.45 464.5,239.61 464.75,239.55 465,239.71 465.25,240.3 465.5,240.44 465.75,240.71 466,240.53 466.25,240.63 466.5,240.81 466.75,240.9 467,240.7 467.25,241.12 467.5,241.33 467.75,239.42 468,239.98 468.25,239.97 468.5,239.99 468.75,239.98 469,239.18 469.25,240.22 469.5,239.19 469.75,238.63 470,238.57 470.25,238.22 470.5,238.78 470.75,238.36 471,238.52 471.25,239.19 471.5,239.48 471.75,239.18 472,239.55 472.25,239.42 472.5,239.58 472.75,239.63 473,239.27 473.25,239.44 473.5,239.54 473.75,239.46 474,239.69 474.25,239.52 474.5,239.8 474.75,240.06 475,239.44 475.25,239.6 475.5,239.16 475.75,239.01 476,238.82 476.25,238.77 476.5,239.14 476.75,239.25 477,239.35 477.25,239.11 477.5,238.79 477.75,238.34 478,238.15 478.25,237.91 478.5,237.96 478.75,238.2 479,238.36 479.25,238.45 479.5,238.72 479.75,238.84 480,238.6 480.25,238.51 480.5,238.94 480.75,238.88 481,238.76 481.25,238.66 481.5,239.12 481.75,239.69 482,239.41 482.25,240.01 482.5,240.06 482.75,240.17 483,239.87 483.25,239.4 483.5,239.61 483.75,239.73 484,239.61 484.25,239.79 484.5,239.9 484.75,239.79 485,239.8 485.25,238.87 485.5,238.71 485.75,238.2 486,238.24 486.25,238.38 486.5,238.13 486.75,238.37 487,238.82 487.25,238.71 487.5,238.62 487.75,238.33 488,238.45 488.25,239.04 488.5,239.01 488.75,238.82 489,238.88 489.25,239.47 489.5,239.5 489.75,239.28 490,239.45 490.25,240.48 490.5,240.94 490.75,240.52 491,240.62 491.25,240.59 491.5,240.06 491.75,239.34 492,239.46 492.25,239.61 492.5,239.8 492.75,240.05 493,240.25 493.25,240.44 493.5,239.98 493.75,240.26 494,240.18 494.25,239.37 494.5,239.49 494.75,239.88 495,239.75 495.25,239.24 495.5,239 495.75,239.78 496,239.27 496.25,239.04 496.5,239.4 496.75,239.7 497,239.84 497.25,239.38 497.5,239.48 497.75,239.28 498,238.76 498.25,238.58 498.5,238.32 498.75,238.81 499,239.28 499.25,238.88 499.5,239.02 499.75,238.1 500,238.63 500.25,238.68 500.5,238.63 500.75,238.66 501,239.09 501.25,238.92 501.5,238.42 501.75,238.38 502,238.34 502.25,238.56 502.5,237.52 502.75,238.07 503,238.65 503.25,238.73 503.5,238.6 503.75,238.76 504,239.07 504.25,238.89 504.5,238.91 504.75,239.04 505,239.35 505.25,239.43 505.5,239.63 505.75,239.82 506,239.44 506.25,239.31 506.5,239.49 506.75,239.19 507,239.34 507.25,238.92 507.5,239.32 507.75,239.22 508,238.83 508.25,239.25 508.5,239.04 508.75,238.62 509,239.03 509.25,238.58 509.5,236.77 509.75,230.8 510,209.9 510.2,158.7 510.25,170.66 510.5,208.9 510.75,225.71 511,232.75 511.25,235.47 511.5,237.23 511.75,237.45 512,238.12 512.25,238.33 512.5,238.35 512.75,238.16 513,238.12 513.25,238.67 513.5,238.94 513.75,238.89 514,239.09 514.25,239.52 514.5,239.97 514.75,239.78 515,239.52 515.25,239.35 515.5,239.19 515.75,238.58 516,238.36 516.25,237.5 516.5,237.35 516.75,237.48 517,237.6 517.25,238.83 517.5,238.85 517.75,239.6 518,239.37 518.25,239.84 518.5,239.24 518.75,238.6 519,238.38 519.25,239.06 519.5,239.5 519.75,239.24 520,239.55 520.25,239.46 520.5,239.93 520.75,239.06 521,238.92 521.25,238.68 521.5,238.6 521.75,238.35 522,238.07 522.25,238.65 522.5,239.17 522.75,238.98 523,239.05 523.25,239.3 523.5,239.41 523.75,239.06 524,238.71 524.25,239.13 524.5,239.48 524.75,238.96 525,238.8 525.25,238.96 525.5,239.29 525.75,239.39 526,239.03 526.25,239.38 526.5,239.5 526.75,239.33 527,239.08 527.25,239.18 527.5,239.03 527.75,239.13 528,238.45 528.25,238.66 528.5,238.61 528.75,238.12 529,238.5 529.25,238.94 529.5,239.8 529.75,239.59 530,239.47 530.25,239.71 530.5,239.4 530.75,238.8 531,238.49 531.25,238.5 531.5,238.65 531.75,238.49 532,238.51 532.25,238.74 532.5,238.71 532.75,238.8 533,239.09 533.25,239.48 533.5,239.51 533.75,239.42 534,239.13 534.25,239.03 534.5,238.46 534.75,237.88 535,237.82 535.25,238.07 535.5,238.51 535.75,238.47 536,238.92 536.25,239.11 536.5,239.07 536.75,238.99 537,238.39 537.25,238.41 537.5,238.1 537.75,238.12 538,238.34 538.25,237.83 538.5,237.92 538.75,236.88 539,235.93 539.25,234.72 539.5,233.21 539.75,231.76 539.8,231.33 540,232.54 540.25,233.12 540.5,233.86 540.75,233.93 541,233.88 541.25,234.1 541.5,234.23 541.75,234.78 542,234.94 542.25,235.42 542.5,236.05 542.75,236.38 543,236.01 543.25,236.28 543.5,236.69 543.75,237.26 544,237.59 544.25,237.55 544.5,238.31 544.75,238.32 545,237.9 545.25,237.19 545.5,237.13 545.75,237.23 546,237.16 546.25,237.19 546.5,237.59 546.75,238.27 547,237.7 547.25,237.85 547.5,237.95 547.75,237.77 548,237.7 548.25,237.6 548.5,237.94 548.75,237.68 549,237.66 549.25,238.01 549.5,238.47 549.75,238.68 550,239.04 550.25,239.46 550.5,239.54 550.75,240.04 551,239.83 551.25,239.59 551.5,239.29 551.75,239.56 552,239.32 552.25,238.98 552.5,239.3 552.75,239.74 553,239.79 553.25,239.3 553.5,239.33 553.75,239.11 554,239.1 554.25,238.99 554.5,239.19 554.75,239.43 555,240.06 555.25,239.83 555.5,238.78 555.75,237.29 556,235.71 556.25,236.39 556.5,236.73 556.75,237.28 557,237.47 557.25,237.44 557.5,237.91 557.75,237.58 558,237.47 558.25,237.08 558.5,237.37 558.75,237.84 559,237.6 559.25,238.14 559.5,238.3 559.75,239 560,238.94 560.25,238.62 560.5,238.45 560.75,237.71 561,236.09 561.25,234.17 561.5,231.79 561.75,227.31 562,220.37 562.25,209.82 562.5,194.29 562.75,168.59 563,127.7 563.25,64.11 563.5,16 563.75,16 564,16 564.25,16 564.5,16 564.75,16 565,16 565.25,16 565.5,16 565.75,16 566,16 566.25,16 566.5,16 566.75,16 567,16 567.25,16 567.5,16 567.75,16 568,16 568.25,16 568.5,16 568.75,16 569,31.96 569.25,65.63 569.5,93.22 569.75,114.88 570,132.52 570.25,146.89 570.5,158.18 570.75,167.24 571,175.23 571.25,182.28 571.5,188.05 571.75,192.88 572,197.06 572.25,200.95 572.5,203.45 572.75,206.46 573,208.9 573.25,210.94 573.5,212.86 573.75,214.86 574,217.04 574.25,217.86 574.5,219.37 574.75,220.7 575,221.86 575.25,222.89 575.5,223.87 575.75,224.83 576,225.6 576.25,226.35 576.5,227.14 576.75,228.14 577,228.98 577.25,230.13 577.5,230.67 577.75,231.45 578,232.23 578.25,232.4 578.5,232.53 578.75,233.13 579,233.17 579.25,233.36 579.5,233.48 579.75,233.61 580,234.03 580.25,234.04 580.5,234.19 580.75,234.73 581,234.97 581.25,235.26 581.5,235.76 581.75,235.83 582,236.48 582.25,235.79 582.5,236.15 582.75,236.53 583,236.25 583.25,236.35 583.5,236.87 583.75,237.49 584,237.36 584.25,237.35 584.5,237.33 584.75,237.19 585,236.88 585.25,236.99 585.5,237.37 585.75,237.59 586,237.88 586.25,238.3 586.5,238.44 586.75,238.77 587,238.14 587.25,237.57 587.5,237.65 587.75,237.21 588,236.69 588.25,234.71 588.5,232.87 588.75,233.99 589,234.48 589.25,235.02 589.5,235.63 589.75,236.14 590,236.76 590.25,236.94 590.5,237.1 590.75,237.09 591,237.05 591.25,237.14 591.5,237.35 591.75,237.48 592,237.69 592.25,238.03 592.5,238.11 592.75,238.22 593,238.57 593.25,238.71 593.5,239.09 593.75,238.89 594,239.46 594.25,239.98 594.5,239.94 594.75,239.64 595,239.62 595.25,239.93 595.5,239.59 595.75,239.81 596,239.5 596.25,239.76 596.5,239.5 596.75,239.31 597,239.28 597.25,238.84 597.5,238.86 597.75,238.94 598,238.43 598.25,238.58 598.5,238.44 598.75,238.6 599,238.69 599.25,238.4 599.5,239.15 599.75,239.46 600,239.51 600.25,239.45 600.5,238.74 600.75,239.67 601,239.26 601.25,238.81 601.5,239 601.75,238.98 602,239.26 602.25,238.15 602.5,238.32 602.75,238.71 603,237.96 603.25,237.15 603.5,237 603.75,237.54 604,236.43 604.25,235.45 604.5,234.62 604.75,234.05 605,232.87 605.25,230.96 605.5,229.15 605.75,226.51 606,224.58 606.1,223.54 606.25,224.05 606.5,225.62 606.75,227.75 607,229.37 607.25,230 607.5,230.8 607.75,232.26 608,233.05 608.25,233.54 608.5,234.1 608.75,234.85 609,235.41 609.25,235.78 609.5,235.78 609.75,235.94 610,236.38 610.25,236.33 610.5,236.41 610.75,236.34 611,236.74 611.25,236.57 611.5,236.37 611.75,236.66 612,237 612.25,237.16 612.5,237.27 612.75,237.83 613,238.62 613.25,239.14 613.5,239.02 613.75,239.1 614,239.08 614.25,239.43 614.5,238.84 614.75,238.56 615,238.58 615.25,238.7 615.5,239.13 615.75,238.98 616,239.77 616.25,239.89 616.5,240.45 616.75,240.46 617,240.26 617.25,239.9 617.5,239.3 617.75,239.24 618,238.71 618.25,238.93 618.5,238.8 618.75,238.95 619,239.29 619.25,239.14 619.5,239.21 619.75,239.2 620,239.13 620.25,238.78 620.5,238.63 620.75,238.72 621,239.3 621.25,239.26 621.5,239.59 621.75,240.56 622,240.4 622.25,240.16 622.5,239.79 622.75,239.85 623,239.98 623.25,239.25 623.5,239.7 623.75,239.93 624,239.26 624.25,239.15 624.5,238.8 624.75,239.02 625,238.94 625.25,238.86 625.5,239.24 625.75,239.49 626,239.49 626.25,239.05 626.5,238.29 626.75,238.23 627,237.53 627.25,235.27 627.5,234.65 627.75,235.81 628,236.68 628.25,237.12 628.5,237.66 628.75,237.61 629,238.16 629.25,238.76 629.5,239.08 629.75,238.84 630,238.6 630.25,238.97 630.5,239.59 630.75,239.49 631,239.52 631.25,239.77 631.5,239.95 631.75,239.87 632,239.17 632.25,239.11 632.5,239.11 632.75,239.28 633,239.3 633.25,239.06 633.5,239.46 633.75,239.72 634,239.79 634.25,239.18 634.5,238.91 634.75,238.5 635,238.18 635.25,237.82 635.5,237.94 635.75,238.19 636,237.61 636.25,237.46 636.5,236.31 636.75,233.55 637,225.33 637.1,218.3 637.25,224.95 637.5,229.95 637.75,231.6 638,231.54 638.25,230.45 638.5,228.85 638.75,226.56 639,223.82 639.25,219.62 639.5,215.02 639.75,208.33 640,198.75 640.25,187.38 640.5,172.61 640.75,153.57 641,127.55 641.25,94.65 641.5,52.09 641.6,31.26 641.75,37.66 642,46.63 642.25,55.16 642.5,61.95 642.75,67.36 643,70.83 643.25,72.52 643.5,73.26 643.75,71.54 644,68.08 644.25,62 644.5,53.99 644.7,45.78 644.75,49.26 645,63.37 645.25,76.1 645.5,88.21 645.75,99.59 646,109.79 646.25,118.92 646.5,127.89 646.75,136.05 647,143.85 647.25,150.29 647.5,157.46 647.75,163.62 648,169.35 648.25,174.5 648.5,178.89 648.75,183.73 649,187.2 649.25,191.16 649.5,193.81 649.75,196.77 650,199.75 650.25,202.75 650.5,205.69 650.75,207.64 651,210.42 651.25,212.81 651.5,214.94 651.75,216.72 652,217.91 652.25,219.72 652.5,220.98 652.75,222.41 653,223.59 653.25,224.59 653.5,225.6 653.75,226.3 654,227.1 654.25,227.65 654.5,228.4 654.75,229.62 655,230.32 655.25,231.29 655.5,232.07 655.75,232.8 656,233.8 656.25,233.72 656.5,234.19 656.75,234.16 657,234.7 657.25,235.2 657.5,234.8 657.75,235.18 658,235.09 658.25,235.68 658.5,235.98 658.75,235.72 659,235.86 659.25,236.19 659.5,236.49 659.75,236.73 660,236.28 660.25,236.76 660.5,237.7 660.75,237.34 661,237.6 661.25,237.11 661.5,237.14 661.75,236.96 662,236.71 662.25,237.04 662.5,237.41 662.75,238.21 663,238.76 663.25,239.63 663.5,239.58 663.75,239.5 664,238.83 664.25,238.47 664.5,238.56 664.75,237.82 665,238.2 665.25,238.37 665.5,239.51 665.75,239.36 666,239.09 666.25,239.45 666.5,238.87 666.75,237.4 667,232.98 667.2,223.99 667.25,226.61 667.5,233.5 667.75,236.52 668,237.87 668.25,238.78 668.5,239.41 668.75,239.01 669,239.09 669.25,238.77 669.5,238.71 669.75,237.73 670,236.02 670.25,236.39 670.5,236.19 670.75,236.88 671,237.29 671.25,237.49 671.5,237.68 671.75,237.62 672,237.34 672.25,237.12 672.5,236.97 672.75,236.95 673,237.39 673.25,237.81 673.5,238.7 673.75,238.57 674,238.92 674.25,239.08 674.5,239.47 674.75,239.2 675,239.22 675.25,239.27 675.5,239.42 675.75,239.67 676,239.04 676.25,239.52 676.5,239.26 676.75,239.6 677,239.79 677.25,239.61 677.5,239.8 677.75,239.88 678,239.76 678.25,239.84 678.5,239.52 678.75,239.6 679,239.88 679.25,239.03 679.5,239.57 679.75,239.19 680,238.69 680.25,239.19 680.5,239.45 680.75,239.89 681,239.62 681.25,239.71 681.5,239.67 681.75,239.27 682,239.1 682.25,239.93 682.5,239.76 682.75,240.08 683,240.29 683.25,240.14 683.5,240.22 683.75,239.11 684,238.89 684.25,238.45 684.5,238.82 684.75,238.98 685,238.77 685.25,239.31 685.5,239.86 685.75,239.96 686,239.61 686.25,239.41 686.5,239.4 686.75,238.98 687,238.65 687.25,239.44 687.5,239.66 687.75,239.77 688,239.4 688.25,239.8 688.5,239.91 688.75,239.39 689,239.06 689.25,239.16 689.5,239.55 689.75,239.66 690,239.46 690.25,239.43 690.5,240.01 690.75,239.74 691,239.77 691.25,239.49 691.5,239.53 691.75,239.08 692,238.36 692.25,238.57 692.5,238.22 692.75,238.15 693,236.7 693.25,234.85 693.5,235.21 693.75,235.17 694,234.4 694.25,228.25 694.4,219.78 694.5,224.75 694.75,231.97 695,234.31 695.25,233.67 695.5,233.45 695.75,234.17 696,235.05 696.25,235.72 696.5,235.84 696.75,235.91 697,235.4 697.25,235.18 697.5,232.36 697.75,232.97 698,234.21 698.25,235.44 698.5,236.15 698.75,236.51 699,236.94 699.25,237.26 699.5,237.32 699.75,237.48 700,237.47 700.25,237.23 700.5,237.6 700.75,238.01 701,237.87 701.25,237.76 701.5,237.7 701.75,238.03 702,237.97 702.25,238.41 702.5,238.98 702.75,238.7 703,238.27 703.25,237.49 703.5,236.43 703.75,236.36 704,236.99 704.25,237.65 704.5,238.24 704.75,238.87 705,238.9 705.25,239.23 705.5,239.56 705.75,239.81 706,240.4 706.25,240.56 706.5,240.52 706.75,240.34 707,239.84 707.25,239.31 707.5,238.58 707.75,238.37 708,238.32 708.25,238.18 708.5,238.23 708.75,238.41 709,239.07 709.25,239.12 709.5,239.43 709.75,239.25 710,239.08 710.25,238.6 710.5,236.57 710.75,232.74 711,224.95 711.25,207.37 711.5,167.31 711.75,75.16 712,16 712.25,16 712.5,16 712.75,16 713,16 713.25,16 713.5,16 713.75,16 714,16 714.25,29.08 714.5,58.41 714.75,83.4 715,105.22 715.25,124.19 715.5,139.6 715.75,153.8 716,164.97 716.25,175.13 716.5,183.63 716.75,190.79 717,197.42 717.25,202.37 717.5,207.31 717.75,208.93 718,205.25 718.1,199.38 718.25,205.77 718.5,213.38 718.75,218.52 719,222.52 719.25,225.38 719.5,227.92 719.75,229.61 720,230.86 720.25,231.84 720.5,232.73 720.75,232.71 721,233.3 721.25,232.3 721.5,225.97 721.6,220.03 721.75,224.38 722,229.47 722.25,232.57 722.5,233.9 722.75,235.46 723,235.66 723.25,235.8 723.5,236.55 723.75,236.7 724,237.36 724.25,237.32 724.5,237.55 724.75,238.37 725,238.12 725.25,238.49 725.5,238.58 725.75,239.15 726,238.98 726.25,238.66 726.5,238.88 726.75,238.77 727,238.33 727.25,238.45 727.5,239 727.75,238.5 728,238.68 728.25,238.52 728.5,238.61 728.75,238.23 729,238.07 729.25,237.98 729.5,236.88 729.75,234.56 730,229.66 730.25,232.51 730.5,234.57 730.75,235.82 731,236.59 731.25,237.35 731.5,238.27 731.75,238.44 732,238.44 732.25,239.15 732.5,239.91 732.75,240.19 733,239.39 733.25,239.86 733.5,240.19 733.75,239.92 734,239.13 734.25,238.85 734.5,239.11 734.75,238.99 735,238.46 735.25,238.22 735.5,238.49 735.75,238.67 736,238.48 736.25,237.36 736.5,236.02 736.75,231.6 737,221.23 737.25,225.68 737.5,228.89 737.75,231.52 738,233.46 738.25,235.16 738.5,235.69 738.75,236.81 739,237.64 739.25,237.9 739.5,238.01 739.75,238.32 740,239.31 740.25,238.68 740.5,237.3 740.75,233.47 741,220.2 741.25,173.45 741.3,154.95 741.5,200.96 741.75,225.07 742,234.09 742.25,237.1 742.5,238.18 742.75,238.24 743,236.85 743.25,232.4 743.5,217.17 743.6,203.26 743.75,218.04 744,230.13 744.25,235.73 744.5,237.99 744.75,238.61 745,239.09 745.25,238.91 745.5,239.34 745.75,239.42 746,239.58 746.25,239.79 746.5,239.67 746.75,239.51 747,239.38 747.25,239.48 747.5,238.84 747.75,237.78 748,236.31 748.25,233.88 748.5,229.44 748.75,222.82 749,212.67 749.25,196.44 749.3,192.32 749.5,198.15 749.75,204.36 750,209.52 750.25,213.87 750.5,217.38 750.75,220.18 751,222.73 751.25,225.06 751.5,227.03 751.75,228.88 752,230.55 752.25,231.84 752.5,232.85 752.75,233.9 753,234.86 753.25,234.82 753.5,235.32 753.75,235.98 754,236.43 754.25,236.99 754.5,237.11 754.75,237.36 755,236.87 755.25,236.17 755.5,234.69 755.75,230.91 756,222.54 756.25,227.53 756.5,231.03 756.75,233.39 757,234.88 757.25,235.94 757.5,236.78 757.75,237.79 758,237.75 758.25,237.38 758.5,237.27 758.75,237.12 759,236.54 759.25,233.6 759.5,228.57 759.75,232.41 760,235.14 760.25,236.31 760.5,236.75 760.75,237.98 761,238.08 761.25,238.7 761.5,239.07 761.75,239.48 762,239.72 762.25,238.44 762.5,237.63 762.75,234.24 763,226.53 763.25,230.37 763.5,232.92 763.75,234.99 764,236.09 764.25,237 764.5,237.93" fill="none" stroke="#1a1a1a" stroke-width="0.7" stroke-linejoin="round"/>
<path d="M106.45 106.56h2.1M112.88 106.56h2.1M119.31 106.56h2.1M125.74 106.56h2.1M132.17 106.56h2.1M138.6 106.56h2.1M145.03 106.56h2.1M151.46 106.56h2.1M157.89 106.56h2.1M164.32 106.56h2.1M170.75 106.56h2.1M177.18 106.56h2.1M183.61 106.56h2.1M190.04 106.56h2.1M196.47 106.56h2.1M202.9 106.56h2.1M209.33 106.56h2.1M215.76 106.56h2.1M222.19 106.56h2.1M228.62 106.56h2.1M235.05 106.56h2.1M241.48 106.56h2.1M247.91 106.56h2.1M254.34 106.56h2.1M260.77 106.56h2.1M267.2 106.56h2.1M273.63 106.56h2.1M280.06 106.56h2.1M286.49 106.56h2.1M292.92 106.56h2.1M299.35 106.56h2.1M305.78 106.56h2.1M312.21 106.56h2.1M318.64 106.56h2.1M325.07 106.56h2.1M331.5 106.56h2.1M337.93 106.56h2.1M344.36 106.56h2.1M350.79 106.56h2.1M357.22 106.56h2.1M363.65 106.56h2.1M370.08 106.56h2.1M376.51 106.56h2.1M382.94 106.56h2.1M389.37 106.56h2.1M395.8 106.56h2.1M402.23 106.56h2.1M408.66 106.56h2.1M415.09 106.56h2.1M421.52 106.56h2.1M427.95 106.56h2.1M434.38 106.56h2.1M440.81 106.56h2.1M447.24 106.56h2.1M453.67 106.56h2.1M460.1 106.56h2.1M466.53 106.56h2.1M472.96 106.56h2.1M479.39 106.56h2.1M485.82 106.56h2.1M492.25 106.56h2.1M498.68 106.56h2.1M505.11 106.56h2.1M511.54 106.56h2.1M517.97 106.56h2.1M524.4 106.56h2.1M530.83 106.56h2.1M537.26 106.56h2.1M543.69 106.56h2.1M550.12 106.56h2.1M556.55 106.56h2.1M562.98 106.56h2.1M569.41 106.56h2.1M575.84 106.56h2.1M582.27 106.56h2.1M588.7 106.56h2.1M595.13 106.56h2.1M601.56 106.56h2.1M607.99 106.56h2.1M614.42 106.56h2.1M620.85 106.56h2.1M627.28 106.56h2.1M633.71 106.56h2.1M640.14 106.56h2.1M646.57 106.56h2.1M653 106.56h2.1M659.43 106.56h2.1M665.86 106.56h2.1M672.29 106.56h2.1M678.72 106.56h2.1M685.15 106.56h2.1M691.58 106.56h2.1M698.01 106.56h2.1M704.44 106.56h2.1M710.87 106.56h2.1M717.3 106.56h2.1M723.73 106.56h2.1M730.16 106.56h2.1M736.59 106.56h2.1M743.02 106.56h2.1M749.45 106.56h2.1M755.88 106.56h2.1M762.31 106.56h2.1" stroke="#0a8a0a" stroke-width="1.6" fill="none"/>
<path clip-path="url(#ca)" d="M97.3 130.8h6M100.3 127.36v6.87M98.09 131.06h6M101.09 126.96v8.2M98.88 132.16h6M101.88 127.97v8.37M99.67 131.66h6M102.67 128.56v6.19M100.46 130.22h6M103.46 126.04v8.35M101.26 130.58h6M104.26 128v5.16M102.05 131.31h6M105.05 128.18v6.26M102.84 129.81h6M105.84 126.68v6.26M103.63 129.85h6M106.63 127.13v5.43M104.42 129.76h6M107.42 126.54v6.43M105.21 127.81h6M108.21 124.03v7.56M106 129.63h6M109 127.2v4.86M106.79 128.96h6M109.79 125.75v6.42M107.58 128.68h6M110.58 125.38v6.61M108.37 127.19h6M111.37 124.58v5.23M109.17 127.06h6M112.17 123.52v7.1M109.96 126.38h6M112.96 123.65v5.46M110.75 126.49h6M113.75 123.09v6.8M111.54 126.27h6M114.54 122.87v6.8M112.33 126.28h6M115.33 122.51v7.54M113.12 126.96h6M116.12 122.8v8.33M113.91 126.33h6M116.91 122.19v8.29M114.7 124.79h6M117.7 121.53v6.51M115.49 124.63h6M118.49 121.87v5.5M116.29 126.87h6M119.29 124.16v5.42M117.08 125.27h6M120.08 121.42v7.7M117.87 126.59h6M120.87 122.79v7.59M118.66 126.8h6M121.66 122.94v7.74M119.45 124.99h6M122.45 121.04v7.9M120.24 125.21h6M123.24 121.82v6.77M121.03 125.55h6M124.03 121.47v8.17M121.82 124.55h6M124.82 120.97v7.16M122.61 124.24h6M125.61 120.71v7.05M123.41 124.81h6M126.41 120.85v7.92M124.2 125.5h6M127.2 121.94v7.14M124.99 125.01h6M127.99 121.2v7.63M125.78 125.26h6M128.78 121.11v8.31M126.57 125.1h6M129.57 122.07v6.06M127.36 124.58h6M130.36 120.8v7.55M128.15 126.43h6M131.15 123.6v5.65M128.94 123.82h6M131.94 120.6v6.44M129.73 125.24h6M132.73 121.2v8.07M130.52 126.55h6M133.52 122.3v8.49M131.32 125.05h6M134.32 120.86v8.38M132.11 126.51h6M135.11 122.72v7.58M132.9 127.05h6M135.9 123.06v7.96M133.69 125.58h6M136.69 121.52v8.11M134.48 126.4h6M137.48 122.91v6.96M135.27 125.37h6M138.27 122.66v5.42M136.06 126.56h6M139.06 124.33v4.47M136.85 126.51h6M139.85 122.71v7.6M137.64 126.52h6M140.64 122.73v7.59M138.44 127.03h6M141.44 123.3v7.47M139.23 126.71h6M142.23 123.3v6.84M140.02 127.36h6M143.02 123.78v7.16M140.81 126.28h6M143.81 122.57v7.42M141.6 124.98h6M144.6 121.67v6.63M142.39 126.05h6M145.39 122.46v7.17M143.18 126.39h6M146.18 123.72v5.34M143.97 124.81h6M146.97 121.49v6.64M144.76 126.44h6M147.76 122.92v7.04M145.56 125.38h6M148.56 121.99v6.79M146.35 125.17h6M149.35 122.43v5.48M147.14 123.95h6M150.14 121.48v4.93M147.93 124.26h6M150.93 120.69v7.15M148.72 124.61h6M151.72 122.17v4.87M149.51 123.88h6M152.51 120.01v7.74M150.3 123.96h6M153.3 121.37v5.16M151.09 122.01h6M154.09 118.19v7.64M151.88 124.19h6M154.88 121.24v5.89M152.67 122.56h6M155.67 118.47v8.19M153.47 121.69h6M156.47 119.02v5.35M154.26 122.8h6M157.26 120.27v5.06M155.05 122.58h6M158.05 118.96v7.24M155.84 123.54h6M158.84 119.72v7.65M156.63 122.04h6M159.63 119.11v5.87M157.42 122.85h6M160.42 119.66v6.38M158.21 121.85h6M161.21 118.26v7.18M159 124.21h6M162 121.39v5.64M159.79 123.13h6M162.79 120.12v6.03M160.59 123.85h6M163.59 120.47v6.78M161.38 121.87h6M164.38 119.04v5.67M162.17 122.89h6M165.17 120.38v5.01M162.96 121.91h6M165.96 117.8v8.22M163.75 123.06h6M166.75 120.61v4.92M164.54 123.38h6M167.54 119.11v8.55M165.33 121.79h6M168.33 117.82v7.95M166.12 122.23h6M169.12 119.09v6.28M166.91 122.02h6M169.91 118.01v8.01M167.71 121.79h6M170.71 119.45v4.67M168.5 122.52h6M171.5 119.14v6.76M169.29 122.34h6M172.29 119.39v5.88M170.08 121.88h6M173.08 119.05v5.66M170.87 122.63h6M173.87 118.55v8.16M171.66 122.78h6M174.66 120.5v4.56M172.45 121.45h6M175.45 117.43v8.02M173.24 122.18h6M176.24 119.82v4.73M174.03 122.44h6M177.03 118.81v7.25M174.82 122.28h6M177.82 119.48v5.6M175.62 121.98h6M178.62 118.68v6.61M176.41 122.75h6M179.41 118.61v8.29M177.2 122.59h6M180.2 118.71v7.75M177.99 122.79h6M180.99 120.39v4.82M178.78 122.61h6M181.78 119.77v5.68M179.57 124.24h6M182.57 121.01v6.45M180.36 124.11h6M183.36 120.4v7.41M181.15 122.24h6M184.15 120.03v4.42M181.94 122.57h6M184.94 118.55v8.03M182.74 123.5h6M185.74 119.54v7.94M183.53 122h6M186.53 117.79v8.42M184.32 122.81h6M187.32 120.18v5.25M185.11 122.56h6M188.11 119.92v5.3M185.9 121.7h6M188.9 117.75v7.9M186.69 121.81h6M189.69 118.52v6.56M187.48 120.79h6M190.48 118.07v5.43M188.27 121.31h6M191.27 119.07v4.47M189.06 119.96h6M192.06 117.31v5.31M189.86 122.49h6M192.86 118.87v7.24M190.65 121.46h6M193.65 117.72v7.48M191.44 120.88h6M194.44 117.94v5.89M192.23 120.2h6M195.23 116.07v8.25M193.02 120.54h6M196.02 117.27v6.54M193.81 120.45h6M196.81 117.16v6.57M194.6 120.05h6M197.6 117.02v6.06M195.39 119.4h6M198.39 116.36v6.09M196.18 117.61h6M199.18 114.66v5.91M196.97 118.38h6M199.97 114.45v7.86M197.77 117.51h6M200.77 114.38v6.25M198.56 117.34h6M201.56 114.66v5.37M199.35 117.06h6M202.35 113.95v6.23M200.14 118.06h6M203.14 113.92v8.29M200.93 118.44h6M203.93 114.9v7.08M201.72 116.6h6M204.72 114.18v4.84M202.51 118.51h6M205.51 115.43v6.16M203.3 118.13h6M206.3 114.95v6.36M204.09 116.85h6M207.09 114.62v4.46M204.89 116.93h6M207.89 112.71v8.44M205.68 117.13h6M208.68 113.01v8.25M206.47 117.58h6M209.47 115.17v4.83M207.26 116.83h6M210.26 113.47v6.72M208.05 115.96h6M211.05 113.11v5.71M208.84 116.6h6M211.84 113.95v5.29M209.63 114.72h6M212.63 111.94v5.55M210.42 116.15h6M213.42 113.83v4.62M211.21 116.89h6M214.21 113.24v7.29M212.01 116.47h6M215.01 113.5v5.94M212.8 116.84h6M215.8 113.17v7.34M213.59 116.6h6M216.59 112.69v7.82M214.38 117.07h6M217.38 113.67v6.81M215.17 116.41h6M218.17 113.49v5.84M215.96 115.64h6M218.96 113.14v4.99M216.75 116.16h6M219.75 112.6v7.14M217.54 116.07h6M220.54 112.45v7.23M218.33 116.92h6M221.33 113.08v7.68M219.12 117.22h6M222.12 114.73v4.98M219.92 116.26h6M222.92 113.96v4.59M220.71 115.49h6M223.71 111.45v8.09M221.5 115.82h6M224.5 112.34v6.95M222.29 116.09h6M225.29 113.69v4.8M223.08 117.3h6M226.08 113.61v7.38M223.87 116.71h6M226.87 114.39v4.64M224.66 116.3h6M227.66 112.77v7.05M225.45 115.86h6M228.45 112.49v6.73M226.24 117.14h6M229.24 113.44v7.4M227.04 116.71h6M230.04 114.31v4.79M227.83 116.34h6M230.83 112.23v8.22M228.62 116.53h6M231.62 112.36v8.35M229.41 117.53h6M232.41 113.26v8.54M230.2 115.9h6M233.2 112.09v7.62M230.99 116.99h6M233.99 114.14v5.71M231.78 116.44h6M234.78 112.18v8.51M232.57 115.09h6M235.57 111.6v6.98M233.36 115.55h6M236.36 111.84v7.42M234.16 114.27h6M237.16 110.68v7.18M234.95 113.68h6M237.95 111.04v5.27M235.74 113.86h6M238.74 109.87v7.98M236.53 113.19h6M239.53 109.63v7.12M237.32 113.94h6M240.32 111.27v5.33M238.11 113.22h6M241.11 110.23v5.99M238.9 113.28h6M241.9 110.78v5M239.69 112.92h6M242.69 109.81v6.22M240.48 110.19h6M243.48 105.91v8.56M241.27 112.5h6M244.27 109.5v6.01M242.07 111.06h6M245.07 108.03v6.06M242.86 111.9h6M245.86 108.02v7.77M243.65 111.03h6M246.65 108.66v4.75M244.44 111.38h6M247.44 108.93v4.9M245.23 112.03h6M248.23 108.26v7.53M246.02 110.01h6M249.02 107.53v4.95M246.81 110.93h6M249.81 107.44v6.97M247.6 110.83h6M250.6 106.91v7.83M248.39 109.25h6M251.39 105.86v6.76M249.19 110.77h6M252.19 108.4v4.74M249.98 110.16h6M252.98 107.53v5.27M250.77 110.02h6M253.77 106.69v6.67M251.56 109.63h6M254.56 105.43v8.41M252.35 112.14h6M255.35 108.56v7.15M253.14 109.33h6M256.14 105.67v7.33M253.93 108.38h6M256.93 104.93v6.9M254.72 109.76h6M257.72 106.87v5.77M255.51 110.52h6M258.51 107.04v6.95M256.31 110.8h6M259.31 108.58v4.44M257.1 111.28h6M260.1 108.21v6.14M257.89 110.76h6M260.89 106.85v7.81M258.68 112.23h6M261.68 109.6v5.26M259.47 112.01h6M262.47 108.45v7.12M260.26 111.72h6M263.26 108v7.43M261.05 112.22h6M264.05 109.69v5.06M261.84 112.71h6M264.84 108.71v8M262.63 113.47h6M265.63 110.76v5.42M263.42 113.2h6M266.42 108.98v8.44M264.22 112.87h6M267.22 109.94v5.85M265.01 113.13h6M268.01 109.64v6.97M265.8 113.46h6M268.8 109.27v8.38M266.59 114.63h6M269.59 110.71v7.84M267.38 112.48h6M270.38 109.26v6.44M268.17 112.85h6M271.17 110.24v5.22M268.96 113.58h6M271.96 110.09v6.98M269.75 112.24h6M272.75 108.8v6.87M270.54 113.06h6M273.54 110.73v4.67M271.34 113.26h6M274.34 110.25v6.01M272.13 112.83h6M275.13 108.69v8.27M272.92 113.88h6M275.92 110.57v6.61M273.71 114.08h6M276.71 111.5v5.16M274.5 114.23h6M277.5 110.68v7.1M275.29 113.61h6M278.29 110.46v6.31M276.08 114.61h6M279.08 110.49v8.24M276.87 116.11h6M279.87 112.88v6.46M277.66 114.02h6M280.66 111.77v4.51M278.46 115.18h6M281.46 112.64v5.08M279.25 115.52h6M282.25 112.95v5.14M280.04 115.33h6M283.04 111.14v8.4M280.83 116.25h6M283.83 113.29v5.91M281.62 116.07h6M284.62 113.14v5.87M282.41 116.55h6M285.41 112.3v8.5M283.2 117.11h6M286.2 114.47v5.27M283.99 115.79h6M286.99 112.28v7.01M284.78 115.87h6M287.78 111.68v8.38M285.57 115.98h6M288.57 111.87v8.22M286.37 115.04h6M289.37 112.51v5.07M287.16 114.9h6M290.16 111.71v6.38M287.95 113.75h6M290.95 111.02v5.46M288.74 114.16h6M291.74 110.49v7.34M289.53 114.42h6M292.53 111.7v5.43M290.32 114.16h6M293.32 111.59v5.14M291.11 113.88h6M294.11 111.11v5.54M291.9 112.24h6M294.9 109.77v4.95M292.69 114.09h6M295.69 110.38v7.41M293.49 111.73h6M296.49 108.94v5.57M294.28 111.95h6M297.28 108.91v6.08M295.07 112.8h6M298.07 110.02v5.56M295.86 110.58h6M298.86 107.58v6M296.65 111.68h6M299.65 108.84v5.68M297.44 111.1h6M300.44 108.16v5.88M298.23 110.39h6M301.23 106.7v7.38M299.02 109.01h6M302.02 106.45v5.13M299.81 109.32h6M302.81 105.68v7.28M300.61 108.84h6M303.61 105.91v5.86M301.4 110.09h6M304.4 107.69v4.79M302.19 110.19h6M305.19 107.74v4.9M302.98 108.68h6M305.98 104.59v8.18M303.77 109.22h6M306.77 106.93v4.58M304.56 109.6h6M307.56 106.82v5.56M305.35 109.33h6M308.35 105.32v8.03M306.14 109.6h6M309.14 107.23v4.73M306.93 110.74h6M309.93 108.1v5.29M307.72 110.96h6M310.72 108.2v5.53M308.52 110.17h6M311.52 106.21v7.91M309.31 111.04h6M312.31 108.6v4.89M310.1 112.21h6M313.1 108.02v8.37M310.89 111.06h6M313.89 108.61v4.9M311.68 111.34h6M314.68 107.96v6.78M312.47 113.23h6M315.47 109.4v7.65M313.26 112.97h6M316.26 109.6v6.75M314.05 111.14h6M317.05 107.88v6.53M314.84 111.65h6M317.84 108.53v6.24M315.64 112.64h6M318.64 109.91v5.46M316.43 111.52h6M319.43 107.24v8.57M317.22 112.87h6M320.22 109.82v6.1M318.01 112.87h6M321.01 109.33v7.09M318.8 114.03h6M321.8 110.61v6.85M319.59 112.15h6M322.59 107.93v8.44M320.38 112.19h6M323.38 109.48v5.43M321.17 112.81h6M324.17 110.28v5.05M321.96 114.45h6M324.96 110.37v8.18M322.76 113.67h6M325.76 110.4v6.54M323.55 112.9h6M326.55 109.36v7.09M324.34 114.47h6M327.34 110.96v7.03M325.13 114.39h6M328.13 110.55v7.69M325.92 113.35h6M328.92 109.39v7.92M326.71 113.04h6M329.71 109.37v7.35M327.5 113.89h6M330.5 111.68v4.42M328.29 115.09h6M331.29 111.13v7.92M329.08 114.58h6M332.08 112.29v4.58M329.87 115.09h6M332.87 111.09v8M330.67 114.49h6M333.67 112.29v4.4M331.46 114.3h6M334.46 110.47v7.65M332.25 113.65h6M335.25 110.11v7.08M333.04 114.55h6M336.04 112.3v4.51M333.83 114.2h6M336.83 110.42v7.57M334.62 114.5h6M337.62 111.08v6.83M335.41 114.92h6M338.41 112.46v4.91M336.2 114.09h6M339.2 110.04v8.08M336.99 113.88h6M339.99 110.44v6.88M337.79 111.92h6M340.79 108.75v6.34M338.58 113.25h6M341.58 109.07v8.37M339.37 112.37h6M342.37 109.74v5.25M340.16 112.03h6M343.16 109.46v5.14M340.95 111.81h6M343.95 107.73v8.15M341.74 113.29h6M344.74 110.75v5.07M342.53 112.34h6M345.53 108.42v7.83M343.32 111.03h6M346.32 108.39v5.28M344.11 110.58h6M347.11 106.67v7.82M344.91 111.85h6M347.91 108.79v6.11M345.7 111.55h6M348.7 108.06v6.99M346.49 113.65h6M349.49 110.18v6.95M347.28 111.73h6M350.28 108.7v6.06M348.07 112h6M351.07 108.71v6.58M348.86 113.14h6M351.86 109.58v7.13M349.65 113.01h6M352.65 110.52v4.97M350.44 113.33h6M353.44 109.21v8.25M351.23 114.19h6M354.23 110.26v7.86M352.02 115.36h6M355.02 112.72v5.27M352.82 113.64h6M355.82 110.97v5.35M353.61 113.81h6M356.61 110.78v6.06M354.4 112.6h6M357.4 108.78v7.64M355.19 114.27h6M358.19 110.98v6.57M355.98 115.15h6M358.98 112.29v5.72M356.77 114.8h6M359.77 110.99v7.63M357.56 116.3h6M360.56 113.69v5.22M358.35 115.98h6M361.35 112.3v7.38M359.14 117.36h6M362.14 113.58v7.57M359.94 116.62h6M362.94 114.21v4.83M360.73 116.11h6M363.73 112.71v6.79M361.52 116.28h6M364.52 112.83v6.89M362.31 115.86h6M365.31 111.62v8.48M363.1 116.06h6M366.1 113.24v5.66M363.89 117.58h6M366.89 114.42v6.33M364.68 118.12h6M367.68 113.96v8.33M365.47 119.11h6M368.47 116.64v4.95M366.26 117.7h6M369.26 113.62v8.17M367.06 117.6h6M370.06 114.63v5.94M367.85 117.54h6M370.85 114.62v5.84M368.64 119.05h6M371.64 114.76v8.58M369.43 118.81h6M372.43 115.79v6.04M370.22 118.86h6M373.22 116.14v5.44M371.01 119.82h6M374.01 117.18v5.27M371.8 119.77h6M374.8 116.11v7.32M372.59 118h6M375.59 114.47v7.07M373.38 120.25h6M376.38 117.55v5.4M374.17 119.82h6M377.17 116.58v6.48M374.97 119.34h6M377.97 116.54v5.6M375.76 118.66h6M378.76 114.7v7.92M376.55 120.05h6M379.55 117.1v5.9M377.34 119.99h6M380.34 116.5v6.99M378.13 119.91h6M381.13 115.79v8.24M378.92 117.72h6M381.92 115.02v5.4M379.71 117.76h6M382.71 113.56v8.4M380.5 119.05h6M383.5 115.83v6.44M381.29 116.94h6M384.29 113.39v7.09M382.09 117.13h6M385.09 114.35v5.54M382.88 116.25h6M385.88 112.6v7.32M383.67 118.85h6M386.67 115.13v7.44M384.46 118.42h6M387.46 114.98v6.89M385.25 118.12h6M388.25 114.11v8.02M386.04 117.77h6M389.04 114.58v6.38M386.83 117.46h6M389.83 115.23v4.46M387.62 117.48h6M390.62 113.36v8.24M388.41 117.81h6M391.41 114.42v6.79M389.21 116.77h6M392.21 113.28v6.98M390 117.79h6M393 114.33v6.91M390.79 116.31h6M393.79 114.02v4.57M391.58 116.07h6M394.58 113.26v5.61M392.37 117.28h6M395.37 114.89v4.78M393.16 116.16h6M396.16 112.6v7.13M393.95 116.17h6M396.95 112.18v7.99M394.74 114.85h6M397.74 111.27v7.17M395.53 113.12h6M398.53 109.21v7.82M396.32 115.12h6M399.32 112.22v5.8M397.12 113.73h6M400.12 111.46v4.53M397.91 115.49h6M400.91 112.43v6.12M398.7 113.44h6M401.7 110.88v5.11M399.49 113.73h6M402.49 110.89v5.68M400.28 115.85h6M403.28 113.15v5.4M401.07 116.43h6M404.07 113.86v5.16M401.86 116.86h6M404.86 113.22v7.29M402.65 116.92h6M405.65 113.46v6.91M403.44 119.35h6M406.44 115.43v7.86M404.24 118.17h6M407.24 113.9v8.53M405.03 119.76h6M408.03 117.06v5.4M405.82 120.18h6M408.82 116.01v8.34M406.61 121.22h6M409.61 117.41v7.62M407.4 122.64h6M410.4 119.26v6.76M408.19 122.34h6M411.19 118.09v8.49M408.98 123.14h6M411.98 119.86v6.55M409.77 123.3h6M412.77 121.04v4.52M410.56 121.06h6M413.56 118.6v4.92M411.36 121.22h6M414.36 118.36v5.71M412.15 121.55h6M415.15 117.89v7.32M412.94 120.92h6M415.94 117.53v6.78M413.73 121.62h6M416.73 117.99v7.27M414.52 119.55h6M417.52 117.31v4.48M415.31 120.97h6M418.31 118.25v5.44M416.1 120.92h6M419.1 117.56v6.73M416.89 119.98h6M419.89 116.41v7.15M417.68 118.58h6M420.68 115.47v6.21M418.47 119.59h6M421.47 116.93v5.32M419.27 118.91h6M422.27 116.05v5.7M420.06 119.05h6M423.06 115.25v7.6M420.85 118.44h6M423.85 114.73v7.41M421.64 118.25h6M424.64 115.53v5.44M422.43 118.09h6M425.43 113.9v8.39M423.22 120h6M426.22 117.7v4.58M424.01 117.21h6M427.01 114.52v5.38M424.8 118.21h6M427.8 115.09v6.24M425.59 119.68h6M428.59 115.79v7.78M426.39 118.08h6M429.39 114.7v6.77M427.18 119.78h6M430.18 116.17v7.24M427.97 118.82h6M430.97 114.62v8.4M428.76 119.94h6M431.76 116.97v5.94M429.55 119.54h6M432.55 116.96v5.16M430.34 120.08h6M433.34 117.02v6.12M431.13 120.52h6M434.13 117.14v6.77M431.92 120.57h6M434.92 118.09v4.96M432.71 121.03h6M435.71 118.75v4.56M433.51 123.21h6M436.51 119.49v7.45M434.3 121.98h6M437.3 117.7v8.55M435.09 121.65h6M438.09 117.5v8.31M435.88 123h6M438.88 120.01v5.98M436.67 123.17h6M439.67 120.02v6.31M437.46 123.66h6M440.46 119.72v7.88M438.25 124.6h6M441.25 120.34v8.54M439.04 123.22h6M442.04 120.27v5.9M439.83 124.81h6M442.83 120.61v8.4M440.62 124.86h6M443.62 121.19v7.33M441.42 123.94h6M444.42 121.43v5.02M442.21 124.41h6M445.21 121.26v6.29M443 122.35h6M446 120.15v4.41M443.79 125.13h6M446.79 122.08v6.11M444.58 126.93h6M447.58 123.63v6.6M445.37 124.7h6M448.37 120.83v7.75M446.16 125.4h6M449.16 122.5v5.79M446.95 126.11h6M449.95 122.55v7.13M447.74 126.15h6M450.74 122.56v7.19M448.54 126.77h6M451.54 123.47v6.6M449.33 124.7h6M452.33 121.21v6.98M450.12 125.84h6M453.12 122.67v6.33M450.91 126.55h6M453.91 123.07v6.96M451.7 124.59h6M454.7 121.42v6.33M452.49 125.34h6M455.49 121.22v8.23M453.28 126.64h6M456.28 124.21v4.87M454.07 126.26h6M457.07 122.25v8.03M454.86 125.37h6M457.86 121.61v7.53M455.66 123.58h6M458.66 121.36v4.45M456.45 125.62h6M459.45 121.91v7.42M457.24 126.05h6M460.24 123.09v5.92M458.03 125.88h6M461.03 122.61v6.53M458.82 125.76h6M461.82 122.47v6.57M459.61 127.91h6M462.61 124.16v7.49M460.4 125.47h6M463.4 122.25v6.44M461.19 125.04h6M464.19 121.5v7.07M461.98 126.35h6M464.98 123.69v5.32M462.77 126.42h6M465.77 124.07v4.7M463.57 126.27h6M466.57 122.67v7.21M464.36 126.26h6M467.36 121.99v8.55M465.15 127.04h6M468.15 124.68v4.73M465.94 126.92h6M468.94 122.81v8.22M466.73 125.75h6M469.73 122.75v6.01M467.52 126.37h6M470.52 122.8v7.14M468.31 127.08h6M471.31 124.32v5.52M469.1 126.62h6M472.1 122.97v7.3M469.89 127.37h6M472.89 124.25v6.23M470.69 126.99h6M473.69 123.13v7.74M471.48 125.78h6M474.48 123v5.56M472.27 127.16h6M475.27 124.26v5.8M473.06 128.16h6M476.06 124.65v7.03M473.85 127.54h6M476.85 125.12v4.84M474.64 126.61h6M477.64 122.36v8.5M475.43 127.7h6M478.43 124.23v6.95M481.76 132.41h6M484.76 128.17v8.48M482.55 131.49h6M485.55 128.91v5.15M483.34 133.07h6M486.34 129.38v7.38M484.13 132.52h6M487.13 129.9v5.25M484.92 132.63h6M487.92 130.26v4.75M485.72 131.64h6M488.72 128.51v6.26M486.51 131.59h6M489.51 128.4v6.38M487.3 130.91h6M490.3 127.54v6.74M488.09 131.49h6M491.09 128.31v6.36M488.88 131.66h6M491.88 129.04v5.22M489.67 131.05h6M492.67 127.42v7.26M490.46 131.8h6M493.46 129.04v5.52M491.25 129.77h6M494.25 126.96v5.62M492.04 130.82h6M495.04 126.98v7.68M492.84 132.17h6M495.84 128.54v7.26M493.63 132.28h6M496.63 128.56v7.45M494.42 131.57h6M497.42 127.43v8.27M495.21 131.55h6M498.21 127.56v7.98M496 131.06h6M499 128.4v5.32M496.79 132.08h6M499.79 127.83v8.5M497.58 132.02h6M500.58 128.73v6.58M498.37 130.47h6M501.37 127.1v6.75M499.16 132.28h6M502.16 129.5v5.57M499.96 132.07h6M502.96 129.06v6.03M500.75 132.36h6M503.75 128.99v6.74M501.54 131.45h6M504.54 129.18v4.54M502.33 132.4h6M505.33 128.69v7.42M503.12 131.1h6M506.12 128.17v5.87M503.91 133.2h6M506.91 129.55v7.31M504.7 132.2h6M507.7 128.46v7.47M505.49 131.42h6M508.49 127.92v7M506.28 133.26h6M509.28 130.91v4.71M507.07 133.22h6M510.07 129.84v6.77M507.87 131.99h6M510.87 129.05v5.89M508.66 134.18h6M511.66 130.48v7.4M509.45 131.91h6M512.45 128.21v7.39M510.24 132.91h6M513.24 129.66v6.51M511.03 133.55h6M514.03 129.81v7.47M511.82 131.3h6M514.82 128.8v5M512.61 133.7h6M515.61 129.78v7.83M513.4 133.1h6M516.4 128.86v8.47M514.19 133.46h6M517.19 129.37v8.18M514.99 132.66h6M517.99 128.75v7.81M515.78 133.85h6M518.78 130.8v6.1M516.57 133.05h6M519.57 128.9v8.32M517.36 133.66h6M520.36 130.28v6.76M518.15 134.53h6M521.15 131.88v5.3M518.94 134.16h6M521.94 130.82v6.68M519.73 135.99h6M522.73 132v7.97M520.52 134.24h6M523.52 130.62v7.25M521.31 134.88h6M524.31 130.93v7.9M522.11 134.94h6M525.11 132.66v4.55M522.9 135.18h6M525.9 130.94v8.47M523.69 136.09h6M526.69 131.96v8.28M524.48 135.87h6M527.48 132.62v6.51M525.27 135.34h6M528.27 131.2v8.28M526.06 135.25h6M529.06 132.67v5.16M526.85 135.5h6M529.85 132.54v5.93M527.64 136.35h6M530.64 133.8v5.11M528.43 136.48h6M531.43 132.87v7.21M529.22 135.96h6M532.22 131.83v8.25M530.02 135.15h6M533.02 130.99v8.31M530.81 138.33h6M533.81 135.96v4.74M531.6 137.4h6M534.6 133.59v7.63M532.39 137.62h6M535.39 134.24v6.75M533.18 137.78h6M536.18 135.11v5.33M533.97 137.27h6M536.97 133.19v8.16M534.76 137.22h6M537.76 133.91v6.62M535.55 137.79h6M538.55 135.51v4.58M536.34 138.11h6M539.34 135.12v5.98M537.14 137.98h6M540.14 134.35v7.27M537.93 138.16h6M540.93 134.18v7.97M538.72 139.01h6M541.72 136.4v5.24M539.51 140.17h6M542.51 136.72v6.89M540.3 139.49h6M543.3 137.11v4.76M541.09 139.89h6M544.09 135.78v8.23M541.88 138.88h6M544.88 136.66v4.44M542.67 140.47h6M545.67 136.23v8.48M543.46 140.97h6M546.46 137.59v6.77M544.26 140.68h6M547.26 136.9v7.56M545.05 140.36h6M548.05 136.75v7.21M545.84 141.9h6M548.84 138.64v6.52M546.63 141.5h6M549.63 138.38v6.24M547.42 142.69h6M550.42 140.05v5.27M548.21 142.26h6M551.21 139.46v5.6M549 143.52h6M552 141.12v4.8M549.79 143.17h6M552.79 140.41v5.53M550.58 142.82h6M553.58 139.25v7.15M551.37 144.02h6M554.37 140.67v6.72M552.17 143.75h6M555.17 140.36v6.78M552.96 145.02h6M555.96 141.71v6.62M553.75 144.35h6M556.75 140.16v8.37M554.54 145.01h6M557.54 141.02v7.97M555.33 145.5h6M558.33 142.75v5.51M556.12 145.82h6M559.12 142.45v6.74M556.91 145.71h6M559.91 141.48v8.47M557.7 145.48h6M560.7 142.72v5.52M558.49 144.72h6M561.49 141.05v7.35M559.29 145.16h6M562.29 141.6v7.12M560.08 145.49h6M563.08 141.88v7.21M560.87 144.77h6M563.87 141.4v6.74M561.66 144.53h6M564.66 140.77v7.51M562.45 144.3h6M565.45 141.31v5.98M563.24 146.23h6M566.24 142.06v8.33M564.03 144.52h6M567.03 141.13v6.78M564.82 144.08h6M567.82 141.17v5.82M565.61 143.93h6M568.61 140.39v7.08M566.41 143.99h6M569.41 140.35v7.28M567.2 143.83h6M570.2 139.69v8.26M567.99 142.52h6M570.99 138.99v7.07M568.78 142.28h6M571.78 138.98v6.59M569.57 143.91h6M572.57 140.97v5.88M570.36 142.31h6M573.36 139.21v6.19M571.15 143.76h6M574.15 140.95v5.6M571.94 143.99h6M574.94 140.48v7M572.73 145.05h6M575.73 141.04v8.02M573.52 145.9h6M576.52 142.45v6.89M574.32 145.27h6M577.32 142.64v5.25M575.11 145.08h6M578.11 142.8v4.55M575.9 144.84h6M578.9 140.79v8.09M576.69 145.25h6M579.69 142.43v5.64M577.48 146.17h6M580.48 142.52v7.29M578.27 145.22h6M581.27 141.04v8.37M579.06 147.34h6M582.06 143.17v8.35M579.85 147.15h6M582.85 143.78v6.73M580.64 147.73h6M583.64 143.61v8.24M581.44 147.44h6M584.44 144.39v6.09M582.23 148.15h6M585.23 143.97v8.35M583.02 147.76h6M586.02 144.13v7.25M583.81 148.27h6M586.81 145.9v4.74M584.6 147.39h6M587.6 143.48v7.81M585.39 149.35h6M588.39 146.81v5.07M586.18 150.74h6M589.18 146.44v8.59M586.97 149.73h6M589.97 147.43v4.61M587.76 150.34h6M590.76 146.55v7.58M588.56 149.64h6M591.56 147.12v5.04M589.35 151.59h6M592.35 148.26v6.67M590.14 150.43h6M593.14 147.45v5.96M590.93 151.63h6M593.93 147.59v8.08M591.72 151.13h6M594.72 148.36v5.55M592.51 150.58h6M595.51 146.87v7.42M593.3 151.32h6M596.3 147.15v8.35M594.09 150.6h6M597.09 148.26v4.67M594.88 150.61h6M597.88 146.91v7.4M595.67 150.71h6M598.67 148.33v4.75M596.47 150.4h6M599.47 146.56v7.67M597.26 149.79h6M600.26 145.8v8M598.05 150.03h6M601.05 147.53v4.98M598.84 149.59h6M601.84 145.53v8.11M599.63 150.03h6M602.63 146.91v6.24M600.42 149.47h6M603.42 146.62v5.7M601.21 149.05h6M604.21 144.83v8.46M602 149.89h6M605 146.88v6.01M602.79 150.32h6M605.79 147.68v5.28M603.59 151.15h6M606.59 148.26v5.78M604.38 152.48h6M607.38 148.38v8.2M605.17 150.67h6M608.17 146.4v8.53M605.96 152.25h6M608.96 149.1v6.31M606.75 150.44h6M609.75 147.2v6.47M607.54 150.68h6M610.54 147.22v6.91M608.33 150.75h6M611.33 146.79v7.93M609.12 149.66h6M612.12 147.44v4.44M609.91 150.01h6M612.91 146.14v7.74M610.71 151.33h6M613.71 147.09v8.48M611.5 151.39h6M614.5 148.34v6.1M612.29 151.21h6M615.29 148.09v6.24M613.08 150.83h6M616.08 146.62v8.42M613.87 153.23h6M616.87 150.17v6.11M614.66 152.04h6M617.66 149.05v5.98M615.45 152.35h6M618.45 148.34v8.01M616.24 154.52h6M619.24 151.33v6.39M617.03 154.41h6M620.03 150.85v7.12M617.82 153.99h6M620.82 151.18v5.6M618.62 155.51h6M621.62 151.88v7.26M619.41 155.01h6M622.41 152.04v5.95M620.2 155.44h6M623.2 151.6v7.69M620.99 155.8h6M623.99 152.57v6.47M621.78 155.21h6M624.78 151.08v8.26M622.57 156.91h6M625.57 153.56v6.7M623.36 156.76h6M626.36 152.76v8M624.15 156.37h6M627.15 153.25v6.25M624.94 156.67h6M627.94 153.06v7.21M625.74 158.44h6M628.74 155.68v5.52M626.53 157.9h6M629.53 154.47v6.86M627.32 159.06h6M630.32 155.47v7.18M628.11 159.57h6M631.11 156.97v5.2M628.9 158.84h6M631.9 155.5v6.68M629.69 157.67h6M632.69 153.53v8.27M630.48 159.02h6M633.48 156.4v5.25M631.27 159.05h6M634.27 155.83v6.45M632.06 159.02h6M635.06 155.06v7.92M632.86 159.56h6M635.86 156.47v6.19M633.65 158.6h6M636.65 156.34v4.53M634.44 159.01h6M637.44 155.7v6.61M635.23 158.96h6M638.23 155.79v6.34M636.02 157.68h6M639.02 153.53v8.3M636.81 159.25h6M639.81 155.66v7.19M637.6 159.11h6M640.6 155.28v7.66M638.39 157.72h6M641.39 154.75v5.95M639.18 158.24h6M642.18 154.16v8.16M639.97 157.66h6M642.97 153.72v7.88M640.77 156.6h6M643.77 154.21v4.78M641.56 158.16h6M644.56 154.58v7.18M642.35 157.89h6M645.35 153.79v8.2M643.14 158.36h6M646.14 154.8v7.13M643.93 158.35h6M646.93 154.11v8.48M644.72 159.32h6M647.72 156.58v5.5M645.51 159.19h6M648.51 155.75v6.87M646.3 158.99h6M649.3 155.67v6.64M647.09 160.28h6M650.09 157.46v5.64M647.89 161.11h6M650.89 157.27v7.68M648.68 160.45h6M651.68 157.34v6.21M649.47 160.54h6M652.47 156.98v7.13M650.26 160.75h6M653.26 156.91v7.69M651.05 160.69h6M654.05 156.96v7.45M651.84 161.63h6M654.84 159.22v4.82M652.63 162.53h6M655.63 160.21v4.63M653.42 163.19h6M656.42 159.27v7.85M654.21 162.9h6M657.21 159.33v7.13M655.01 162.99h6M658.01 160.47v5.02M655.8 163h6M658.8 160.52v4.95M656.59 163.2h6M659.59 159.96v6.49M657.38 162.51h6M660.38 159.93v5.15M658.17 163.35h6M661.17 159.2v8.31M658.96 163.21h6M661.96 160.54v5.34M659.75 162.95h6M662.75 158.77v8.36M660.54 162.66h6M663.54 158.96v7.41M661.33 162.5h6M664.33 159.14v6.73M662.12 162.62h6M665.12 159.01v7.22M662.92 162.12h6M665.92 158.47v7.31M663.71 163.35h6M666.71 160.55v5.6M664.5 163.06h6M667.5 159.84v6.45M665.29 163.19h6M668.29 160.85v4.68M666.08 163.43h6M669.08 161.13v4.6M666.87 163.87h6M669.87 159.69v8.36M667.66 163.15h6M670.66 159.17v7.97M668.45 163.47h6M671.45 159.68v7.57M669.24 162.84h6M672.24 160.43v4.84M670.04 162.62h6M673.04 159.11v7.02M670.83 163h6M673.83 159.3v7.4M671.62 165.39h6M674.62 162.29v6.21M672.41 163.1h6M675.41 160.11v5.99M673.2 165.14h6M676.2 161.41v7.45M673.99 166.05h6M676.99 163.83v4.44M674.78 164.82h6M677.78 161.63v6.38M675.57 166.57h6M678.57 163.83v5.48M676.36 166.92h6M679.36 163.78v6.26M677.16 166.38h6M680.16 163.02v6.72M677.95 167.36h6M680.95 164.28v6.17M678.74 166.13h6M681.74 162.08v8.08M679.53 165.63h6M682.53 161.58v8.1M680.32 167.01h6M683.32 163.21v7.59M681.11 166.55h6M684.11 162.68v7.74M681.9 166.07h6M684.9 162.82v6.5M682.69 166.86h6M685.69 164.09v5.54M683.48 169.6h6M686.48 165.69v7.83M684.27 167.83h6M687.27 165.39v4.89M685.07 168.18h6M688.07 164.73v6.9M685.86 168.76h6M688.86 165.23v7.06M686.65 169.77h6M689.65 167.35v4.86M687.44 169.91h6M690.44 167.28v5.26M688.23 169.97h6M691.23 166.36v7.22M689.02 169.48h6M692.02 165.47v8M689.81 170.1h6M692.81 167.08v6.04M690.6 170.68h6M693.6 167.37v6.63M691.39 172.2h6M694.39 168.51v7.37M692.19 173.7h6M695.19 170.28v6.84M692.98 172.92h6M695.98 169.75v6.34M693.77 173.28h6M696.77 169.74v7.08M694.56 172.23h6M697.56 168.54v7.38M695.35 171.84h6M698.35 167.95v7.76M696.14 171.29h6M699.14 167.91v6.76M696.93 172.29h6M699.93 168.7v7.18M697.72 170.69h6M700.72 168.08v5.22M698.51 171.93h6M701.51 169.39v5.08M699.31 172.79h6M702.31 168.89v7.8M700.1 171.93h6M703.1 169.26v5.34M700.89 172.72h6M703.89 169.6v6.24M701.68 171.66h6M704.68 167.6v8.12M702.47 171.12h6M705.47 168.61v5.02M703.26 171.73h6M706.26 168.11v7.25M704.05 171.56h6M707.05 168.84v5.44M704.84 172.76h6M707.84 169.24v7.03M705.63 173h6M708.63 169.09v7.83M706.42 171.52h6M709.42 167.59v7.85M707.22 172.13h6M710.22 168.3v7.67M708.01 172.57h6M711.01 169.28v6.58M708.8 172.63h6M711.8 169.29v6.68M709.59 172.08h6M712.59 169.52v5.12M710.38 173.19h6M713.38 170.74v4.89M711.17 173.5h6M714.17 169.73v7.54M711.96 173.61h6M714.96 171.3v4.62M712.75 172.57h6M715.75 168.42v8.32M713.54 173.77h6M716.54 171.18v5.18M714.34 172.63h6M717.34 168.92v7.42M715.13 174.86h6M718.13 171.72v6.28M715.92 173.92h6M718.92 170.44v6.97M716.71 174.93h6M719.71 171.14v7.58M717.5 174.78h6M720.5 171.96v5.64M718.29 174.91h6M721.29 170.97v7.87M719.08 175.14h6M722.08 171.36v7.57M719.87 174.94h6M722.87 171.53v6.84M720.66 178.07h6M723.66 174.66v6.81M721.46 177.41h6M724.46 174.4v6.01M722.25 178h6M725.25 173.77v8.47M723.04 179.57h6M726.04 176.55v6.03M723.83 178.08h6M726.83 175.38v5.41M724.62 178.83h6M727.62 175.46v6.74M725.41 179.14h6M728.41 175v8.27M726.2 180.42h6M729.2 176.27v8.29M726.99 180.23h6M729.99 176.82v6.83M727.78 180.49h6M730.78 177.47v6.05M728.57 180.32h6M731.57 176.55v7.54M729.37 181.05h6M732.37 177.67v6.75M730.16 181.72h6M733.16 177.79v7.86M730.95 179.77h6M733.95 175.82v7.9M731.74 181.48h6M734.74 177.8v7.35M732.53 181.68h6M735.53 177.44v8.49M733.32 182.1h6M736.32 178.54v7.12M734.11 181.14h6M737.11 176.9v8.49M734.9 182.82h6M737.9 179.26v7.14M735.69 181.88h6M738.69 179.23v5.32M736.49 182.35h6M739.49 178.84v7.04M737.28 181.82h6M740.28 178.01v7.62M738.07 181.28h6M741.07 178.19v6.18M738.86 182.08h6M741.86 179.52v5.1M739.65 181.52h6M742.65 178.58v5.88M740.44 182.11h6M743.44 178.26v7.68M741.23 182.53h6M744.23 179.89v5.27M742.02 182.8h6M745.02 180.58v4.45M742.81 182.96h6M745.81 178.91v8.09M743.61 182.7h6M746.61 178.46v8.48M744.4 184.5h6M747.4 180.48v8.05M745.19 183.62h6M748.19 179.74v7.77M745.98 182.62h6M748.98 178.89v7.46M746.77 183.54h6M749.77 180.19v6.72M747.56 183.19h6M750.56 179.62v7.14M748.35 184h6M751.35 180.23v7.53M749.14 184h6M752.14 181.11v5.78M749.93 184.09h6M752.93 181.46v5.26M750.72 185.86h6M753.72 182.2v7.31M751.52 185h6M754.52 181.53v6.93M752.31 184.66h6M755.31 180.38v8.56M753.1 184.71h6M756.1 181.64v6.14M753.89 185.1h6M756.89 182.03v6.14M754.68 186.25h6M757.68 183.8v4.91M755.47 185.86h6M758.47 183.63v4.46M756.26 186.18h6M759.26 183.69v4.98M757.05 183.37h6M760.05 179.92v6.89M757.84 185.93h6M760.84 181.7v8.45M758.64 186.8h6M761.64 184.36v4.88M759.43 187.63h6M762.43 185.09v5.07M760.22 186.56h6M763.22 182.93v7.26M761.01 185.35h6M764.01 182.51v5.67" stroke="#000" stroke-width="0.6" fill="none"/>
<polyline clip-path="url(#ca)" points="100.3,130.8 101.09,131.06 101.88,132.16 102.67,131.66 103.46,130.22 104.26,130.58 105.05,131.31 105.84,129.81 106.63,129.85 107.42,129.76 108.21,127.81 109,129.63 109.79,128.96 110.58,128.68 111.37,127.19 112.17,127.06 112.96,126.38 113.75,126.49 114.54,126.27 115.33,126.28 116.12,126.96 116.91,126.33 117.7,124.79 118.49,124.63 119.29,126.87 120.08,125.27 120.87,126.59 121.66,126.8 122.45,124.99 123.24,125.21 124.03,125.55 124.82,124.55 125.61,124.24 126.41,124.81 127.2,125.5 127.99,125.01 128.78,125.26 129.57,125.1 130.36,124.58 131.15,126.43 131.94,123.82 132.73,125.24 133.52,126.55 134.32,125.05 135.11,126.51 135.9,127.05 136.69,125.58 137.48,126.4 138.27,125.37 139.06,126.56 139.85,126.51 140.64,126.52 141.44,127.03 142.23,126.71 143.02,127.36 143.81,126.28 144.6,124.98 145.39,126.05 146.18,126.39 146.97,124.81 147.76,126.44 148.56,125.38 149.35,125.17 150.14,123.95 150.93,124.26 151.72,124.61 152.51,123.88 153.3,123.96 154.09,122.01 154.88,124.19 155.67,122.56 156.47,121.69 157.26,122.8 158.05,122.58 158.84,123.54 159.63,122.04 160.42,122.85 161.21,121.85 162,124.21 162.79,123.13 163.59,123.85 164.38,121.87 165.17,122.89 165.96,121.91 166.75,123.06 167.54,123.38 168.33,121.79 169.12,122.23 169.91,122.02 170.71,121.79 171.5,122.52 172.29,122.34 173.08,121.88 173.87,122.63 174.66,122.78 175.45,121.45 176.24,122.18 177.03,122.44 177.82,122.28 178.62,121.98 179.41,122.75 180.2,122.59 180.99,122.79 181.78,122.61 182.57,124.24 183.36,124.11 184.15,122.24 184.94,122.57 185.74,123.5 186.53,122 187.32,122.81 188.11,122.56 188.9,121.7 189.69,121.81 190.48,120.79 191.27,121.31 192.06,119.96 192.86,122.49 193.65,121.46 194.44,120.88 195.23,120.2 196.02,120.54 196.81,120.45 197.6,120.05 198.39,119.4 199.18,117.61 199.97,118.38 200.77,117.51 201.56,117.34 202.35,117.06 203.14,118.06 203.93,118.44 204.72,116.6 205.51,118.51 206.3,118.13 207.09,116.85 207.89,116.93 208.68,117.13 209.47,117.58 210.26,116.83 211.05,115.96 211.84,116.6 212.63,114.72 213.42,116.15 214.21,116.89 215.01,116.47 215.8,116.84 216.59,116.6 217.38,117.07 218.17,116.41 218.96,115.64 219.75,116.16 220.54,116.07 221.33,116.92 222.12,117.22 222.92,116.26 223.71,115.49 224.5,115.82 225.29,116.09 226.08,117.3 226.87,116.71 227.66,116.3 228.45,115.86 229.24,117.14 230.04,116.71 230.83,116.34 231.62,116.53 232.41,117.53 233.2,115.9 233.99,116.99 234.78,116.44 235.57,115.09 236.36,115.55 237.16,114.27 237.95,113.68 238.74,113.86 239.53,113.19 240.32,113.94 241.11,113.22 241.9,113.28 242.69,112.92 243.48,110.19 244.27,112.5 245.07,111.06 245.86,111.9 246.65,111.03 247.44,111.38 248.23,112.03 249.02,110.01 249.81,110.93 250.6,110.83 251.39,109.25 252.19,110.77 252.98,110.16 253.77,110.02 254.56,109.63 255.35,112.14 256.14,109.33 256.93,108.38 257.72,109.76 258.51,110.52 259.31,110.8 260.1,111.28 260.89,110.76 261.68,112.23 262.47,112.01 263.26,111.72 264.05,112.22 264.84,112.71 265.63,113.47 266.42,113.2 267.22,112.87 268.01,113.13 268.8,113.46 269.59,114.63 270.38,112.48 271.17,112.85 271.96,113.58 272.75,112.24 273.54,113.06 274.34,113.26 275.13,112.83 275.92,113.88 276.71,114.08 277.5,114.23 278.29,113.61 279.08,114.61 279.87,116.11 280.66,114.02 281.46,115.18 282.25,115.52 283.04,115.33 283.83,116.25 284.62,116.07 285.41,116.55 286.2,117.11 286.99,115.79 287.78,115.87 288.57,115.98 289.37,115.04 290.16,114.9 290.95,113.75 291.74,114.16 292.53,114.42 293.32,114.16 294.11,113.88 294.9,112.24 295.69,114.09 296.49,111.73 297.28,111.95 298.07,112.8 298.86,110.58 299.65,111.68 300.44,111.1 301.23,110.39 302.02,109.01 302.81,109.32 303.61,108.84 304.4,110.09 305.19,110.19 305.98,108.68 306.77,109.22 307.56,109.6 308.35,109.33 309.14,109.6 309.93,110.74 310.72,110.96 311.52,110.17 312.31,111.04 313.1,112.21 313.89,111.06 314.68,111.34 315.47,113.23 316.26,112.97 317.05,111.14 317.84,111.65 318.64,112.64 319.43,111.52 320.22,112.87 321.01,112.87 321.8,114.03 322.59,112.15 323.38,112.19 324.17,112.81 324.96,114.45 325.76,113.67 326.55,112.9 327.34,114.47 328.13,114.39 328.92,113.35 329.71,113.04 330.5,113.89 331.29,115.09 332.08,114.58 332.87,115.09 333.67,114.49 334.46,114.3 335.25,113.65 336.04,114.55 336.83,114.2 337.62,114.5 338.41,114.92 339.2,114.09 339.99,113.88 340.79,111.92 341.58,113.25 342.37,112.37 343.16,112.03 343.95,111.81 344.74,113.29 345.53,112.34 346.32,111.03 347.11,110.58 347.91,111.85 348.7,111.55 349.49,113.65 350.28,111.73 351.07,112 351.86,113.14 352.65,113.01 353.44,113.33 354.23,114.19 355.02,115.36 355.82,113.64 356.61,113.81 357.4,112.6 358.19,114.27 358.98,115.15 359.77,114.8 360.56,116.3 361.35,115.98 362.14,117.36 362.94,116.62 363.73,116.11 364.52,116.28 365.31,115.86 366.1,116.06 366.89,117.58 367.68,118.12 368.47,119.11 369.26,117.7 370.06,117.6 370.85,117.54 371.64,119.05 372.43,118.81 373.22,118.86 374.01,119.82 374.8,119.77 375.59,118 376.38,120.25 377.17,119.82 377.97,119.34 378.76,118.66 379.55,120.05 380.34,119.99 381.13,119.91 381.92,117.72 382.71,117.76 383.5,119.05 384.29,116.94 385.09,117.13 385.88,116.25 386.67,118.85 387.46,118.42 388.25,118.12 389.04,117.77 389.83,117.46 390.62,117.48 391.41,117.81 392.21,116.77 393,117.79 393.79,116.31 394.58,116.07 395.37,117.28 396.16,116.16 396.95,116.17 397.74,114.85 398.53,113.12 399.32,115.12 400.12,113.73 400.91,115.49 401.7,113.44 402.49,113.73 403.28,115.85 404.07,116.43 404.86,116.86 405.65,116.92 406.44,119.35 407.24,118.17 408.03,119.76 408.82,120.18 409.61,121.22 410.4,122.64 411.19,122.34 411.98,123.14 412.77,123.3 413.56,121.06 414.36,121.22 415.15,121.55 415.94,120.92 416.73,121.62 417.52,119.55 418.31,120.97 419.1,120.92 419.89,119.98 420.68,118.58 421.47,119.59 422.27,118.91 423.06,119.05 423.85,118.44 424.64,118.25 425.43,118.09 426.22,120 427.01,117.21 427.8,118.21 428.59,119.68 429.39,118.08 430.18,119.78 430.97,118.82 431.76,119.94 432.55,119.54 433.34,120.08 434.13,120.52 434.92,120.57 435.71,121.03 436.51,123.21 437.3,121.98 438.09,121.65 438.88,123 439.67,123.17 440.46,123.66 441.25,124.6 442.04,123.22 442.83,124.81 443.62,124.86 444.42,123.94 445.21,124.41 446,122.35 446.79,125.13 447.58,126.93 448.37,124.7 449.16,125.4 449.95,126.11 450.74,126.15 451.54,126.77 452.33,124.7 453.12,125.84 453.91,126.55 454.7,124.59 455.49,125.34 456.28,126.64 457.07,126.26 457.86,125.37 458.66,123.58 459.45,125.62 460.24,126.05 461.03,125.88 461.82,125.76 462.61,127.91 463.4,125.47 464.19,125.04 464.98,126.35 465.77,126.42 466.57,126.27 467.36,126.26 468.15,127.04 468.94,126.92 469.73,125.75 470.52,126.37 471.31,127.08 472.1,126.62 472.89,127.37 473.69,126.99 474.48,125.78 475.27,127.16 476.06,128.16 476.85,127.54 477.64,126.61 478.43,127.7" fill="none" stroke="#000" stroke-width="1.7" stroke-linejoin="round"/>
<polyline clip-path="url(#ca)" points="484.76,132.41 485.55,131.49 486.34,133.07 487.13,132.52 487.92,132.63 488.72,131.64 489.51,131.59 490.3,130.91 491.09,131.49 491.88,131.66 492.67,131.05 493.46,131.8 494.25,129.77 495.04,130.82 495.84,132.17 496.63,132.28 497.42,131.57 498.21,131.55 499,131.06 499.79,132.08 500.58,132.02 501.37,130.47 502.16,132.28 502.96,132.07 503.75,132.36 504.54,131.45 505.33,132.4 506.12,131.1 506.91,133.2 507.7,132.2 508.49,131.42 509.28,133.26 510.07,133.22 510.87,131.99 511.66,134.18 512.45,131.91 513.24,132.91 514.03,133.55 514.82,131.3 515.61,133.7 516.4,133.1 517.19,133.46 517.99,132.66 518.78,133.85 519.57,133.05 520.36,133.66 521.15,134.53 521.94,134.16 522.73,135.99 523.52,134.24 524.31,134.88 525.11,134.94 525.9,135.18 526.69,136.09 527.48,135.87 528.27,135.34 529.06,135.25 529.85,135.5 530.64,136.35 531.43,136.48 532.22,135.96 533.02,135.15 533.81,138.33 534.6,137.4 535.39,137.62 536.18,137.78 536.97,137.27 537.76,137.22 538.55,137.79 539.34,138.11 540.14,137.98 540.93,138.16 541.72,139.01 542.51,140.17 543.3,139.49 544.09,139.89 544.88,138.88 545.67,140.47 546.46,140.97 547.26,140.68 548.05,140.36 548.84,141.9 549.63,141.5 550.42,142.69 551.21,142.26 552,143.52 552.79,143.17 553.58,142.82 554.37,144.02 555.17,143.75 555.96,145.02 556.75,144.35 557.54,145.01 558.33,145.5 559.12,145.82 559.91,145.71 560.7,145.48 561.49,144.72 562.29,145.16 563.08,145.49 563.87,144.77 564.66,144.53 565.45,144.3 566.24,146.23 567.03,144.52 567.82,144.08 568.61,143.93 569.41,143.99 570.2,143.83 570.99,142.52 571.78,142.28 572.57,143.91 573.36,142.31 574.15,143.76 574.94,143.99 575.73,145.05 576.52,145.9 577.32,145.27 578.11,145.08 578.9,144.84 579.69,145.25 580.48,146.17 581.27,145.22 582.06,147.34 582.85,147.15 583.64,147.73 584.44,147.44 585.23,148.15 586.02,147.76 586.81,148.27 587.6,147.39 588.39,149.35 589.18,150.74 589.97,149.73 590.76,150.34 591.56,149.64 592.35,151.59 593.14,150.43 593.93,151.63 594.72,151.13 595.51,150.58 596.3,151.32 597.09,150.6 597.88,150.61 598.67,150.71 599.47,150.4 600.26,149.79 601.05,150.03 601.84,149.59 602.63,150.03 603.42,149.47 604.21,149.05 605,149.89 605.79,150.32 606.59,151.15 607.38,152.48 608.17,150.67 608.96,152.25 609.75,150.44 610.54,150.68 611.33,150.75 612.12,149.66 612.91,150.01 613.71,151.33 614.5,151.39 615.29,151.21 616.08,150.83 616.87,153.23 617.66,152.04 618.45,152.35 619.24,154.52 620.03,154.41 620.82,153.99 621.62,155.51 622.41,155.01 623.2,155.44 623.99,155.8 624.78,155.21 625.57,156.91 626.36,156.76 627.15,156.37 627.94,156.67 628.74,158.44 629.53,157.9 630.32,159.06 631.11,159.57 631.9,158.84 632.69,157.67 633.48,159.02 634.27,159.05 635.06,159.02 635.86,159.56 636.65,158.6 637.44,159.01 638.23,158.96 639.02,157.68 639.81,159.25 640.6,159.11 641.39,157.72 642.18,158.24 642.97,157.66 643.77,156.6 644.56,158.16 645.35,157.89 646.14,158.36 646.93,158.35 647.72,159.32 648.51,159.19 649.3,158.99 650.09,160.28 650.89,161.11 651.68,160.45 652.47,160.54 653.26,160.75 654.05,160.69 654.84,161.63 655.63,162.53 656.42,163.19 657.21,162.9 658.01,162.99 658.8,163 659.59,163.2 660.38,162.51 661.17,163.35 661.96,163.21 662.75,162.95 663.54,162.66 664.33,162.5 665.12,162.62 665.92,162.12 666.71,163.35 667.5,163.06 668.29,163.19 669.08,163.43 669.87,163.87 670.66,163.15 671.45,163.47 672.24,162.84 673.04,162.62 673.83,163 674.62,165.39 675.41,163.1 676.2,165.14 676.99,166.05 677.78,164.82 678.57,166.57 679.36,166.92 680.16,166.38 680.95,167.36 681.74,166.13 682.53,165.63 683.32,167.01 684.11,166.55 684.9,166.07 685.69,166.86 686.48,169.6 687.27,167.83 688.07,168.18 688.86,168.76 689.65,169.77 690.44,169.91 691.23,169.97 692.02,169.48 692.81,170.1 693.6,170.68 694.39,172.2 695.19,173.7 695.98,172.92 696.77,173.28 697.56,172.23 698.35,171.84 699.14,171.29 699.93,172.29 700.72,170.69 701.51,171.93 702.31,172.79 703.1,171.93 703.89,172.72 704.68,171.66 705.47,171.12 706.26,171.73 707.05,171.56 707.84,172.76 708.63,173 709.42,171.52 710.22,172.13 711.01,172.57 711.8,172.63 712.59,172.08 713.38,173.19 714.17,173.5 714.96,173.61 715.75,172.57 716.54,173.77 717.34,172.63 718.13,174.86 718.92,173.92 719.71,174.93 720.5,174.78 721.29,174.91 722.08,175.14 722.87,174.94 723.66,178.07 724.46,177.41 725.25,178 726.04,179.57 726.83,178.08 727.62,178.83 728.41,179.14 729.2,180.42 729.99,180.23 730.78,180.49 731.57,180.32 732.37,181.05 733.16,181.72 733.95,179.77 734.74,181.48 735.53,181.68 736.32,182.1 737.11,181.14 737.9,182.82 738.69,181.88 739.49,182.35 740.28,181.82 741.07,181.28 741.86,182.08 742.65,181.52 743.44,182.11 744.23,182.53 745.02,182.8 745.81,182.96 746.61,182.7 747.4,184.5 748.19,183.62 748.98,182.62 749.77,183.54 750.56,183.19 751.35,184 752.14,184 752.93,184.09 753.72,185.86 754.52,185 755.31,184.66 756.1,184.71 756.89,185.1 757.68,186.25 758.47,185.86 759.26,186.18 760.05,183.37 760.84,185.93 761.64,186.8 762.43,187.63 763.22,186.56 764.01,185.35" fill="none" stroke="#000" stroke-width="1.7" stroke-linejoin="round"/>
<path d="M100.0 19.0H764.5M100.0 252.5H764.5" stroke="#777" stroke-width="1" fill="none"/>
<path d="M99.75 18.5V253.0M764.5 18.5V253.0" stroke="#222" stroke-width="1.15" fill="none"/>
<path d="M123.73 252.5v-2.3M123.73 19.0v2.3M147.46 252.5v-2.3M147.46 19.0v2.3M171.2 252.5v-2.3M171.2 19.0v2.3M194.93 252.5v-4.7M194.93 19.0v4.7M218.66 252.5v-2.3M218.66 19.0v2.3M242.39 252.5v-2.3M242.39 19.0v2.3M266.12 252.5v-2.3M266.12 19.0v2.3M289.86 252.5v-4.7M289.86 19.0v4.7M313.59 252.5v-2.3M313.59 19.0v2.3M337.32 252.5v-2.3M337.32 19.0v2.3M361.05 252.5v-2.3M361.05 19.0v2.3M384.79 252.5v-4.7M384.79 19.0v4.7M408.52 252.5v-2.3M408.52 19.0v2.3M432.25 252.5v-2.3M432.25 19.0v2.3M455.98 252.5v-2.3M455.98 19.0v2.3M479.71 252.5v-4.7M479.71 19.0v4.7M503.45 252.5v-2.3M503.45 19.0v2.3M527.18 252.5v-2.3M527.18 19.0v2.3M550.91 252.5v-2.3M550.91 19.0v2.3M574.64 252.5v-4.7M574.64 19.0v4.7M598.38 252.5v-2.3M598.38 19.0v2.3M622.11 252.5v-2.3M622.11 19.0v2.3M645.84 252.5v-2.3M645.84 19.0v2.3M669.57 252.5v-4.7M669.57 19.0v4.7M693.3 252.5v-2.3M693.3 19.0v2.3M717.04 252.5v-2.3M717.04 19.0v2.3M740.77 252.5v-2.3M740.77 19.0v2.3" stroke="#333" stroke-width="0.9" fill="none"/>
<path d="M100.0 252.5h13.5M100.0 223.31h13.5M100.0 194.13h13.5M100.0 164.94h13.5M100.0 135.75h13.5M100.0 106.56h13.5M100.0 77.37h13.5M100.0 48.19h13.5M100.0 19h13.5" stroke="#111" stroke-width="1" fill="none"/>
<path d="M100.0 249.58h7M100.0 246.66h7M100.0 243.74h7M100.0 240.82h7M100.0 237.91h7M100.0 234.99h7M100.0 232.07h7M100.0 229.15h7M100.0 226.23h7M100.0 220.39h7M100.0 217.47h7M100.0 214.56h7M100.0 211.64h7M100.0 208.72h7M100.0 205.8h7M100.0 202.88h7M100.0 199.96h7M100.0 197.04h7M100.0 191.21h7M100.0 188.29h7M100.0 185.37h7M100.0 182.45h7M100.0 179.53h7M100.0 176.61h7M100.0 173.69h7M100.0 170.78h7M100.0 167.86h7M100.0 162.02h7M100.0 159.1h7M100.0 156.18h7M100.0 153.26h7M100.0 150.34h7M100.0 147.43h7M100.0 144.51h7M100.0 141.59h7M100.0 138.67h7M100.0 132.83h7M100.0 129.91h7M100.0 126.99h7M100.0 124.08h7M100.0 121.16h7M100.0 118.24h7M100.0 115.32h7M100.0 112.4h7M100.0 109.48h7M100.0 103.64h7M100.0 100.73h7M100.0 97.81h7M100.0 94.89h7M100.0 91.97h7M100.0 89.05h7M100.0 86.13h7M100.0 83.21h7M100.0 80.29h7M100.0 74.46h7M100.0 71.54h7M100.0 68.62h7M100.0 65.7h7M100.0 62.78h7M100.0 59.86h7M100.0 56.94h7M100.0 54.02h7M100.0 51.11h7M100.0 45.27h7M100.0 42.35h7M100.0 39.43h7M100.0 36.51h7M100.0 33.59h7M100.0 30.68h7M100.0 27.76h7M100.0 24.84h7M100.0 21.92h7" stroke="#333" stroke-width="0.8" fill="none"/>
<path d="M764.5 242.4h-13.5M764.5 201.8h-13.5M764.5 161.2h-13.5M764.5 120.6h-13.5M764.5 80h-13.5M764.5 39.4h-13.5" stroke="#333" stroke-width="1" fill="none"/>
<path d="M764.5 232.25h-7M764.5 222.1h-7M764.5 211.95h-7M764.5 191.65h-7M764.5 181.5h-7M764.5 171.35h-7M764.5 151.05h-7M764.5 140.9h-7M764.5 130.75h-7M764.5 110.45h-7M764.5 100.3h-7M764.5 90.15h-7M764.5 69.85h-7M764.5 59.7h-7M764.5 49.55h-7M764.5 29.25h-7M764.5 19.1h-7" stroke="#444" stroke-width="0.9" fill="none"/>
<path transform="translate(57,135.7) rotate(-90)" d="M72.2 -12.2h5" stroke="#000" stroke-width="1.1"/>
<clipPath id="cb"><rect x="100.0" y="262.4" width="664.5" height="233.60000000000002"/></clipPath>
<path clip-path="url(#cb)" d="M100.3 424.5v8.2M101.09 424.68v8.2M101.88 424.65v8.2M102.67 425.41v8.2M103.46 424.88v8.2M104.26 424.98v8.2M105.05 423.81v8.2M105.84 424.54v8.2M106.63 426.28v8.2M107.42 425.14v8.2M108.21 427.45v8.2M109 427.51v8.2M109.79 428.43v8.2M110.58 430.86v8.2M111.37 430.81v8.2M112.17 431.77v8.2M112.96 433.14v8.2M113.75 435.03v8.2M114.54 438.65v8.2M115.33 435.44v8.2M116.12 438.41v8.2M116.91 439.3v8.2M117.7 441.41v8.2M118.49 441.16v8.2M119.29 440.05v8.2M120.08 444.08v8.2M120.87 442.49v8.2M121.66 443.92v8.2M122.45 443.22v8.2M123.24 443.93v8.2M124.03 444.93v8.2M124.82 446.63v8.2M125.61 447.15v8.2M126.41 446.4v8.2M127.2 447.93v8.2M127.99 447.69v8.2M128.78 448.61v8.2M129.57 449.5v8.2M130.36 449.87v8.2M131.15 450.05v8.2M131.94 450.69v8.2M132.73 451.17v8.2M133.52 451.72v8.2M134.32 451.77v8.2M135.11 451.23v8.2M135.9 450.28v8.2M136.69 449.69v8.2M137.48 449.87v8.2M138.27 450.38v8.2M139.06 450.62v8.2M139.85 450.73v8.2M140.64 451.03v8.2M141.44 451.29v8.2M142.23 451.55v8.2M143.02 451.54v8.2M143.81 452.15v8.2M144.6 452.17v8.2M145.39 452.52v8.2M146.18 452.37v8.2M146.97 452.97v8.2M147.76 453.32v8.2M148.56 452.98v8.2M149.35 453.68v8.2M150.14 453.7v8.2M150.93 453.69v8.2M151.72 453.72v8.2M152.51 454.26v8.2M153.3 454.25v8.2M154.09 454.41v8.2M154.88 454.38v8.2M155.67 454.38v8.2M156.47 454.67v8.2M157.26 454.46v8.2M158.05 454.77v8.2M158.84 454.45v8.2M159.63 454.6v8.2M160.42 454.56v8.2M161.21 454.99v8.2M162 454.59v8.2M162.79 454.7v8.2M163.59 454.97v8.2M164.38 454.93v8.2M165.17 455.21v8.2M165.96 455.16v8.2M166.75 454.99v8.2M167.54 455v8.2M168.33 454.64v8.2M169.12 454.77v8.2M169.91 454.85v8.2M170.71 454.87v8.2M171.5 454.7v8.2M172.29 454.77v8.2M173.08 454.78v8.2M173.87 455.05v8.2M174.66 454.96v8.2M175.45 454.85v8.2M176.24 454.86v8.2M177.03 454.94v8.2M177.82 454.8v8.2M178.62 454.88v8.2M179.41 454.73v8.2M180.2 455.18v8.2M180.99 455.37v8.2M181.78 455.46v8.2M182.57 455.68v8.2M183.36 455.89v8.2M184.15 456.37v8.2M184.94 456.35v8.2M185.74 456.37v8.2M186.53 456.65v8.2M187.32 457.13v8.2M188.11 457.4v8.2M188.9 457.55v8.2M189.69 457.72v8.2M190.48 457.79v8.2M191.27 457.71v8.2M192.06 457.98v8.2M192.86 457.98v8.2M193.65 458.34v8.2M194.44 458.35v8.2M195.23 458.71v8.2M196.02 458.83v8.2M196.81 458.72v8.2M197.6 459.25v8.2M198.39 459.4v8.2M199.18 459.24v8.2M199.97 459.6v8.2M200.77 459.83v8.2M201.56 459.83v8.2M202.35 460.13v8.2M203.14 460.18v8.2M203.93 460.44v8.2M204.72 460.46v8.2M205.51 460.54v8.2M206.3 460.78v8.2M207.09 460.96v8.2M207.89 461.02v8.2M208.68 461.05v8.2M209.47 461.14v8.2M210.26 461.34v8.2M211.05 461.45v8.2M211.84 461.7v8.2M212.63 461.83v8.2M213.42 461.93v8.2M214.21 462.08v8.2M215.01 462.25v8.2M215.8 462.6v8.2M216.59 462.69v8.2M217.38 462.59v8.2M218.17 462.89v8.2M218.96 462.94v8.2M219.75 463.13v8.2M220.54 463.26v8.2M221.33 463.37v8.2M222.12 463.42v8.2M222.92 463.42v8.2M223.71 463.96v8.2M224.5 464.26v8.2M225.29 464.11v8.2M226.08 464.47v8.2M226.87 464.49v8.2M227.66 464.73v8.2M228.45 464.72v8.2M229.24 464.94v8.2M230.04 465.09v8.2M230.83 464.89v8.2M231.62 465.39v8.2M232.41 465.45v8.2M233.2 465.22v8.2M233.99 465.78v8.2M234.78 465.77v8.2M235.57 465.9v8.2M236.36 466v8.2M237.16 465.96v8.2M237.95 465.92v8.2M238.74 466.06v8.2M239.53 466.12v8.2M240.32 466.55v8.2M241.11 466.54v8.2M241.9 466.25v8.2M242.69 466.31v8.2M243.48 466.46v8.2M244.27 466.54v8.2M245.07 466.4v8.2M245.86 466.4v8.2M246.65 466.86v8.2M247.44 466.78v8.2M248.23 466.43v8.2M249.02 466.44v8.2M249.81 466.61v8.2M250.6 466.79v8.2M251.39 466.87v8.2M252.19 466.76v8.2M252.98 466.6v8.2M253.77 466.89v8.2M254.56 466.96v8.2M255.35 466.89v8.2M256.14 466.83v8.2M256.93 467v8.2M257.72 466.91v8.2M258.51 466.76v8.2M259.31 466.93v8.2M260.1 466.72v8.2M260.89 467.02v8.2M261.68 466.91v8.2M262.47 466.65v8.2M263.26 466.77v8.2M264.05 466.85v8.2M264.84 466.28v8.2M265.63 466.49v8.2M266.42 466.66v8.2M267.22 466.1v8.2M268.01 466.2v8.2M268.8 465.9v8.2M269.59 465.99v8.2M270.38 465.53v8.2M271.17 465.53v8.2M271.96 465.56v8.2M272.75 465.54v8.2M273.54 465.45v8.2M274.34 465.33v8.2M275.13 465.31v8.2M275.92 465.13v8.2M276.71 465.01v8.2M277.5 464.64v8.2M278.29 464.65v8.2M279.08 465.03v8.2M279.87 464.79v8.2M280.66 464.48v8.2M281.46 464.37v8.2M282.25 464.32v8.2M283.04 464.03v8.2M283.83 464.31v8.2M284.62 463.89v8.2M285.41 463.86v8.2M286.2 464.11v8.2M286.99 463.41v8.2M287.78 463.68v8.2M288.57 463.3v8.2M289.37 463.38v8.2M290.16 463.38v8.2M290.95 463.27v8.2M291.74 463.27v8.2M292.53 463.07v8.2M293.32 463.1v8.2M294.11 462.88v8.2M294.9 462.94v8.2M295.69 462.75v8.2M296.49 463.01v8.2M297.28 462.69v8.2M298.07 462.95v8.2M298.86 462.77v8.2M299.65 462.78v8.2M300.44 463v8.2M301.23 462.84v8.2M302.02 462.55v8.2M302.81 462.9v8.2M303.61 462.4v8.2M304.4 462.87v8.2M305.19 462.77v8.2M305.98 462.62v8.2M306.77 462.84v8.2M307.56 462.78v8.2M308.35 463.12v8.2M309.14 462.76v8.2M309.93 463.11v8.2M312.31 463.03v8.2M313.1 462.74v8.2M313.89 462.71v8.2M314.68 463.02v8.2M315.47 462.81v8.2M316.26 462.85v8.2M317.05 462.79v8.2M317.84 462.65v8.2M318.64 462.77v8.2M319.43 462.68v8.2M320.22 462.6v8.2M321.01 462.78v8.2M321.8 463.09v8.2M322.59 463.07v8.2M323.38 462.82v8.2M324.17 462.85v8.2M324.96 462.9v8.2M325.76 463v8.2M326.55 462.81v8.2M327.34 462.64v8.2M328.13 462.59v8.2M328.92 462.74v8.2M329.71 462.87v8.2M330.5 462.29v8.2M331.29 461.96v8.2M332.08 462.27v8.2M332.87 462.01v8.2M333.67 461.9v8.2M334.46 461.92v8.2M335.25 461.59v8.2M336.04 461.23v8.2M336.83 460.97v8.2M337.62 461.09v8.2M338.41 460.75v8.2M339.2 460.8v8.2M339.99 460.4v8.2M340.79 460.36v8.2M341.58 460.02v8.2M342.37 460.02v8.2M343.16 459.84v8.2M343.95 459.83v8.2M344.74 459.78v8.2M345.53 459.39v8.2M346.32 459.12v8.2M347.11 459.37v8.2M347.91 458.95v8.2M348.7 458.79v8.2M349.49 458.6v8.2M350.28 458.52v8.2M351.07 458.25v8.2M351.86 457.98v8.2M352.65 457.78v8.2M353.44 457.31v8.2M354.23 457.12v8.2M355.02 456.97v8.2M355.82 456.77v8.2M359.77 455.57v8.2M360.56 455.37v8.2M361.35 455.09v8.2M362.14 454.78v8.2M362.94 454.37v8.2M363.73 454.5v8.2M364.52 454.23v8.2M365.31 453.78v8.2M366.1 453.75v8.2M366.89 453.52v8.2M367.68 453.25v8.2M368.47 452.74v8.2M369.26 452.63v8.2M370.06 452.51v8.2M370.85 452.65v8.2M371.64 452.08v8.2M372.43 451.97v8.2M373.22 451.68v8.2M374.01 451.6v8.2M374.8 451.55v8.2M375.59 451.02v8.2M376.38 450.74v8.2M377.17 451.1v8.2M377.97 450.84v8.2M378.76 450.58v8.2M379.55 450.65v8.2M380.34 450.49v8.2M381.13 449.88v8.2M381.92 450.01v8.2M382.71 450.05v8.2M383.5 449.63v8.2M384.29 449.53v8.2M385.09 449.57v8.2M385.88 449.24v8.2M386.67 448.95v8.2M387.46 448.89v8.2M388.25 448.65v8.2M389.04 448.79v8.2M389.83 448.31v8.2M390.62 448.59v8.2M391.41 448.06v8.2M392.21 448.18v8.2M393 447.82v8.2M393.79 447.87v8.2M394.58 447.95v8.2M395.37 447.84v8.2M396.16 447.75v8.2M396.95 447.42v8.2M397.74 447.33v8.2M398.53 447.24v8.2M399.32 447.19v8.2M400.12 446.93v8.2M400.91 447.05v8.2M401.7 446.84v8.2M402.49 446.87v8.2M405.65 446.4v8.2M406.44 446.35v8.2M407.24 446.05v8.2M408.03 446.02v8.2M408.82 445.8v8.2M409.61 445.87v8.2M410.4 445.8v8.2M411.19 445.87v8.2M411.98 445.48v8.2M412.77 446.07v8.2M413.56 445.48v8.2M414.36 445.6v8.2M415.15 445.49v8.2M415.94 444.86v8.2M416.73 445.11v8.2M417.52 445.28v8.2M418.31 444.61v8.2M419.1 444.99v8.2M419.89 444.64v8.2M420.68 444.6v8.2M421.47 444.6v8.2M422.27 444.18v8.2M423.06 444.37v8.2M423.85 444.13v8.2M424.64 443.98v8.2M425.43 444.07v8.2M426.22 444.35v8.2M427.01 443.74v8.2M427.8 443.63v8.2M428.59 443.4v8.2M429.39 443.16v8.2M430.18 443.17v8.2M430.97 443.23v8.2M431.76 442.9v8.2M432.55 442.87v8.2M433.34 442.57v8.2M434.13 442.86v8.2M434.92 442.11v8.2M435.71 442.33v8.2M436.51 442.21v8.2M437.3 442.07v8.2M438.09 441.76v8.2M438.88 441.66v8.2M439.67 441.69v8.2M440.46 441.65v8.2M443.62 441.08v8.2M444.42 441.01v8.2M445.21 441.15v8.2M446 441.12v8.2M446.79 440.77v8.2M447.58 440.64v8.2M448.37 440.52v8.2M449.16 440.88v8.2M449.95 440.46v8.2M450.74 440.24v8.2M451.54 440.25v8.2M452.33 440.29v8.2M453.12 439.95v8.2M453.91 439.38v8.2M454.7 439.39v8.2M455.49 439.15v8.2M456.28 438.95v8.2M459.45 437.95v8.2M460.24 437.85v8.2M461.03 437.52v8.2M461.82 437.5v8.2M462.61 437.22v8.2M463.4 436.77v8.2M464.19 436.5v8.2M464.98 436.46v8.2M465.77 436.4v8.2M466.57 436.16v8.2M467.36 435.86v8.2M468.15 435.16v8.2M468.94 435.38v8.2M469.73 435.15v8.2M470.52 435.02v8.2M471.31 434.71v8.2M472.1 434.65v8.2M472.89 434.44v8.2M473.69 434.78v8.2M474.48 434.32v8.2M475.27 434.02v8.2M476.06 433.88v8.2M476.85 433.72v8.2M477.64 433.61v8.2M478.43 433.37v8.2M479.22 433.27v8.2M483.97 432.53v8.2M484.76 432.35v8.2M485.55 432.12v8.2M486.34 432.12v8.2M487.13 431.8v8.2M487.92 431.46v8.2M488.72 431.18v8.2M489.51 431.18v8.2M490.3 431.11v8.2M491.09 431.01v8.2M491.88 430.94v8.2M492.67 430.52v8.2M493.46 430.31v8.2M494.25 430.38v8.2M495.04 430.26v8.2M495.84 429.84v8.2M496.63 429.79v8.2M497.42 429.77v8.2M498.21 429.44v8.2M499 429.2v8.2M499.79 428.72v8.2M500.58 429.05v8.2M501.37 428.76v8.2M502.16 428.5v8.2M502.96 428.22v8.2M503.75 427.92v8.2M504.54 427.9v8.2M505.33 427.7v8.2M506.12 427.68v8.2M506.91 427.14v8.2M507.7 427.33v8.2M508.49 426.91v8.2M509.28 426.87v8.2M510.07 426.33v8.2M510.87 426.31v8.2M511.66 426.22v8.2M512.45 425.82v8.2M513.24 425.35v8.2M514.03 425.28v8.2M514.82 425.17v8.2M515.61 424.62v8.2M516.4 424.36v8.2M517.19 424.35v8.2M517.99 423.91v8.2M518.78 423.89v8.2M519.57 423.33v8.2M520.36 422.96v8.2M521.15 422.84v8.2M521.94 422.89v8.2M522.73 422.25v8.2M523.52 422.09v8.2M524.31 421.83v8.2M525.11 421.35v8.2M525.9 421.35v8.2M526.69 420.91v8.2M527.48 420.65v8.2M528.27 420.02v8.2M529.06 419.69v8.2M529.85 419.23v8.2M530.64 419.3v8.2M531.43 418.98v8.2M532.22 418.8v8.2M533.02 418.59v8.2M533.81 418.01v8.2M534.6 417.69v8.2M535.39 417.47v8.2M536.18 417.31v8.2M536.97 416.63v8.2M537.76 416.52v8.2M538.55 416.06v8.2M539.34 415.71v8.2M540.14 415.54v8.2M540.93 414.96v8.2M541.72 414.57v8.2M542.51 414.48v8.2M543.3 414.03v8.2M544.09 413.64v8.2M544.88 413.3v8.2M545.67 413.03v8.2M546.46 412.54v8.2M547.26 412.34v8.2M548.05 411.92v8.2M548.84 411.71v8.2M549.63 411.31v8.2M550.42 410.87v8.2M551.21 410.33v8.2M552 410v8.2M552.79 409.51v8.2M553.58 409.64v8.2M554.37 408.79v8.2M555.17 408.52v8.2M555.96 408.25v8.2M556.75 407.45v8.2M557.54 407.14v8.2M558.33 406.81v8.2M559.12 406.32v8.2M559.91 405.88v8.2M560.7 405.59v8.2M561.49 405.46v8.2M562.29 404.96v8.2M563.08 404.44v8.2M563.87 404.01v8.2M564.66 403.32v8.2M565.45 403.23v8.2M566.24 402.75v8.2M567.03 402.07v8.2M567.82 401.81v8.2M568.61 401.3v8.2M569.41 400.79v8.2M570.2 400.27v8.2M570.99 399.87v8.2M571.78 399.38v8.2M572.57 399.14v8.2M573.36 398.69v8.2M574.15 398.25v8.2M574.94 397.74v8.2M575.73 397.29v8.2M576.52 397.25v8.2M577.32 396.26v8.2M578.11 396.33v8.2M578.9 395.82v8.2M579.69 395.41v8.2M580.48 394.95v8.2M581.27 394.64v8.2M582.06 394.14v8.2M582.85 393.75v8.2M583.64 393.6v8.2M584.44 393.02v8.2M585.23 393.05v8.2M586.02 392.75v8.2M586.81 391.72v8.2M587.6 391.66v8.2M588.39 391.59v8.2M589.18 391.24v8.2M589.97 390.88v8.2M590.76 390.57v8.2M591.56 390.27v8.2M592.35 389.92v8.2M593.14 389.7v8.2M593.93 389.06v8.2M594.72 388.81v8.2M595.51 388.06v8.2M596.3 387.9v8.2M597.09 387.35v8.2M597.88 387.35v8.2M598.67 387.1v8.2M599.47 386.43v8.2M600.26 385.76v8.2M601.05 385.54v8.2M601.84 385.16v8.2M602.63 384.78v8.2M603.42 384.52v8.2M604.21 384.09v8.2M605 383.15v8.2M605.79 383.35v8.2M606.59 382.67v8.2M607.38 382.26v8.2M608.17 382.16v8.2M608.96 381.5v8.2M609.75 380.94v8.2M610.54 380.55v8.2M611.33 380.37v8.2M612.12 380.11v8.2M612.91 379.81v8.2M613.71 379.17v8.2M614.5 378.75v8.2M615.29 378.68v8.2M616.08 377.99v8.2M616.87 377.89v8.2M617.66 377.33v8.2M618.45 376.94v8.2M619.24 376.49v8.2M620.03 376.18v8.2M620.82 375.67v8.2M621.62 375.24v8.2M622.41 374.93v8.2M623.2 374.44v8.2M623.99 374.18v8.2M624.78 373.72v8.2M625.57 373.25v8.2M626.36 372.82v8.2M627.15 372.38v8.2M627.94 372.23v8.2M628.74 371.51v8.2M629.53 370.97v8.2M630.32 370.55v8.2M631.11 370.22v8.2M631.9 369.62v8.2M632.69 369.14v8.2M633.48 368.64v8.2M634.27 368.21v8.2M635.06 367.75v8.2M635.86 367.26v8.2M636.65 366.44v8.2M637.44 366.02v8.2M638.23 365.27v8.2M639.02 365.26v8.2M639.81 364.79v8.2M640.6 364.29v8.2M641.39 363.59v8.2M642.18 363.2v8.2M642.97 362.49v8.2M643.77 361.93v8.2M644.56 361.15v8.2M645.35 360.69v8.2M646.14 360.13v8.2M646.93 359.75v8.2M647.72 359.25v8.2M648.51 358.32v8.2M649.3 357.82v8.2M650.09 357.18v8.2M650.89 356.4v8.2M651.68 355.63v8.2M652.47 355.15v8.2M653.26 354.43v8.2M654.05 353.98v8.2M654.84 353.4v8.2M655.63 352.8v8.2M656.42 352.22v8.2M657.21 351.74v8.2M658.01 350.98v8.2M658.8 350.71v8.2M659.59 349.8v8.2M660.38 349.55v8.2M661.17 349.1v8.2M661.96 348.42v8.2M662.75 347.8v8.2M663.54 347.65v8.2M664.33 346.97v8.2M665.12 346.71v8.2M665.92 346.23v8.2M666.71 345.65v8.2M667.5 345.19v8.2M668.29 344.88v8.2M669.08 344.34v8.2M669.87 343.7v8.2M670.66 343.43v8.2M671.45 343.06v8.2M672.24 342.59v8.2M673.04 342.17v8.2M673.83 341.71v8.2M674.62 341.31v8.2M675.41 340.8v8.2M676.2 340.34v8.2M676.99 340.35v8.2M677.78 339.74v8.2M678.57 339.52v8.2M679.36 338.94v8.2M680.16 338.87v8.2M680.95 338.41v8.2M681.74 338.67v8.2M682.53 337.78v8.2M683.32 337.48v8.2M684.11 337.47v8.2M684.9 337.2v8.2M685.69 336.41v8.2M686.48 336.45v8.2M687.27 336.22v8.2M688.07 335.57v8.2M688.86 335.51v8.2M689.65 334.97v8.2M690.44 334.53v8.2M691.23 334.23v8.2M692.02 333.8v8.2M692.81 333.22v8.2M693.6 333.3v8.2M694.39 332.4v8.2M695.19 331.84v8.2M695.98 331.53v8.2M696.77 330.83v8.2M697.56 330.45v8.2M698.35 329.62v8.2M699.14 329.1v8.2M699.93 328.43v8.2M700.72 327.81v8.2M701.51 327.11v8.2M702.31 326.48v8.2M703.1 326.1v8.2M703.89 325.1v8.2M704.68 324.48v8.2M705.47 323.87v8.2M706.26 323.37v8.2M707.05 322.72v8.2M707.84 322.19v8.2M708.63 321.25v8.2M709.42 320.88v8.2M710.22 320.19v8.2M711.01 319.53v8.2M711.8 318.95v8.2M712.59 317.97v8.2M713.38 317.64v8.2M714.17 316.95v8.2M714.96 316.04v8.2M715.75 315.58v8.2M716.54 315.16v8.2M717.34 314.23v8.2M718.13 313.74v8.2M718.92 313v8.2M719.71 312.31v8.2M720.5 311.72v8.2M721.29 311.25v8.2M722.08 310.98v8.2M722.87 310.43v8.2M723.66 309.75v8.2M724.46 309.59v8.2M725.25 309.06v8.2M726.04 308.68v8.2M726.83 308.6v8.2M727.62 308.2v8.2M728.41 307.92v8.2M729.2 308.17v8.2M729.99 307.5v8.2M730.78 307.6v8.2M731.57 306.99v8.2M732.37 306.82v8.2M733.16 306.3v8.2M733.95 304.74v8.2M734.74 301.56v8.2M735.53 297.55v8.2M736.32 295.47v8.2M737.11 291.88v8.2M737.9 292.13v8.2M738.69 291.06v8.2M739.49 291.14v8.2M740.28 288.92v8.2M741.07 288.66v8.2M741.86 288.43v8.2M742.65 289.71v8.2M743.44 286.54v8.2M744.23 287.47v8.2M745.02 286.36v8.2M745.81 286.72v8.2M746.61 286.61v8.2M747.4 285.85v8.2M748.19 285.55v8.2M748.98 285.16v8.2M749.77 284.05v8.2M750.56 283.85v8.2M751.35 282.24v8.2M752.14 282.7v8.2M752.93 281.86v8.2M753.72 281.76v8.2M754.52 282.06v8.2M755.31 281.41v8.2M756.1 281.17v8.2M756.89 281.46v8.2M757.68 278.72v8.2M758.47 280.86v8.2M759.26 280.52v8.2M760.05 280.46v8.2M760.84 279.54v8.2M761.64 280.95v8.2M762.43 281.41v8.2M763.22 281.32v8.2M764.01 280.47v8.2" stroke="#ff0000" stroke-width="0.68" fill="none"/>
<path clip-path="url(#cb)" d="M96.7 428.6h7.2M97.49 428.78h7.2M98.28 428.75h7.2M99.07 429.51h7.2M99.86 428.98h7.2M100.66 429.08h7.2M101.45 427.91h7.2M102.24 428.64h7.2M103.03 430.38h7.2M103.82 429.24h7.2M104.61 431.55h7.2M105.4 431.61h7.2M106.19 432.53h7.2M106.98 434.96h7.2M107.77 434.91h7.2M108.57 435.87h7.2M109.36 437.24h7.2M110.15 439.13h7.2M110.94 442.75h7.2M111.73 439.54h7.2M112.52 442.51h7.2M113.31 443.4h7.2M114.1 445.51h7.2M114.89 445.26h7.2M115.69 444.15h7.2M116.48 448.18h7.2M117.27 446.59h7.2M118.06 448.02h7.2M118.85 447.32h7.2M119.64 448.03h7.2M120.43 449.03h7.2M121.22 450.73h7.2M122.01 451.25h7.2M122.81 450.5h7.2M123.6 452.03h7.2M124.39 451.79h7.2M125.18 452.71h7.2M125.97 453.6h7.2M126.76 453.97h7.2M127.55 454.15h7.2M128.34 454.79h7.2M129.13 455.27h7.2M129.92 455.82h7.2M130.72 455.87h7.2M131.51 455.33h7.2M132.3 454.38h7.2M133.09 453.79h7.2M133.88 453.97h7.2M134.67 454.48h7.2M135.46 454.72h7.2M136.25 454.83h7.2M137.04 455.13h7.2M137.84 455.39h7.2M138.63 455.65h7.2M139.42 455.64h7.2M140.21 456.25h7.2M141 456.27h7.2M141.79 456.62h7.2M142.58 456.47h7.2M143.37 457.07h7.2M144.16 457.42h7.2M144.96 457.08h7.2M145.75 457.78h7.2M146.54 457.8h7.2M147.33 457.79h7.2M148.12 457.82h7.2M148.91 458.36h7.2M149.7 458.35h7.2M150.49 458.51h7.2M151.28 458.48h7.2M152.07 458.48h7.2M152.87 458.77h7.2M153.66 458.56h7.2M154.45 458.87h7.2M155.24 458.55h7.2M156.03 458.7h7.2M156.82 458.66h7.2M157.61 459.09h7.2M158.4 458.69h7.2M159.19 458.8h7.2M159.99 459.07h7.2M160.78 459.03h7.2M161.57 459.31h7.2M162.36 459.26h7.2M163.15 459.09h7.2M163.94 459.1h7.2M164.73 458.74h7.2M165.52 458.87h7.2M166.31 458.95h7.2M167.11 458.97h7.2M167.9 458.8h7.2M168.69 458.87h7.2M169.48 458.88h7.2M170.27 459.15h7.2M171.06 459.06h7.2M171.85 458.95h7.2M172.64 458.96h7.2M173.43 459.04h7.2M174.22 458.9h7.2M175.02 458.98h7.2M175.81 458.83h7.2M176.6 459.28h7.2M177.39 459.47h7.2M178.18 459.56h7.2M178.97 459.78h7.2M179.76 459.99h7.2M180.55 460.47h7.2M181.34 460.45h7.2M182.14 460.47h7.2M182.93 460.75h7.2M183.72 461.23h7.2M184.51 461.5h7.2M185.3 461.65h7.2M186.09 461.82h7.2M186.88 461.89h7.2M187.67 461.81h7.2M188.46 462.08h7.2M189.26 462.08h7.2M190.05 462.44h7.2M190.84 462.45h7.2M191.63 462.81h7.2M192.42 462.93h7.2M193.21 462.82h7.2M194 463.35h7.2M194.79 463.5h7.2M195.58 463.34h7.2M196.37 463.7h7.2M197.17 463.93h7.2M197.96 463.93h7.2M198.75 464.23h7.2M199.54 464.28h7.2M200.33 464.54h7.2M201.12 464.56h7.2M201.91 464.64h7.2M202.7 464.88h7.2M203.49 465.06h7.2M204.29 465.12h7.2M205.08 465.15h7.2M205.87 465.24h7.2M206.66 465.44h7.2M207.45 465.55h7.2M208.24 465.8h7.2M209.03 465.93h7.2M209.82 466.03h7.2M210.61 466.18h7.2M211.41 466.35h7.2M212.2 466.7h7.2M212.99 466.79h7.2M213.78 466.69h7.2M214.57 466.99h7.2M215.36 467.04h7.2M216.15 467.23h7.2M216.94 467.36h7.2M217.73 467.47h7.2M218.52 467.52h7.2M219.32 467.52h7.2M220.11 468.06h7.2M220.9 468.36h7.2M221.69 468.21h7.2M222.48 468.57h7.2M223.27 468.59h7.2M224.06 468.83h7.2M224.85 468.82h7.2M225.64 469.04h7.2M226.44 469.19h7.2M227.23 468.99h7.2M228.02 469.49h7.2M228.81 469.55h7.2M229.6 469.32h7.2M230.39 469.88h7.2M231.18 469.87h7.2M231.97 470h7.2M232.76 470.1h7.2M233.56 470.06h7.2M234.35 470.02h7.2M235.14 470.16h7.2M235.93 470.22h7.2M236.72 470.65h7.2M237.51 470.64h7.2M238.3 470.35h7.2M239.09 470.41h7.2M239.88 470.56h7.2M240.67 470.64h7.2M241.47 470.5h7.2M242.26 470.5h7.2M243.05 470.96h7.2M243.84 470.88h7.2M244.63 470.53h7.2M245.42 470.54h7.2M246.21 470.71h7.2M247 470.89h7.2M247.79 470.97h7.2M248.59 470.86h7.2M249.38 470.7h7.2M250.17 470.99h7.2M250.96 471.06h7.2M251.75 470.99h7.2M252.54 470.93h7.2M253.33 471.1h7.2M254.12 471.01h7.2M254.91 470.86h7.2M255.71 471.03h7.2M256.5 470.82h7.2M257.29 471.12h7.2M258.08 471.01h7.2M258.87 470.75h7.2M259.66 470.87h7.2M260.45 470.95h7.2M261.24 470.38h7.2M262.03 470.59h7.2M262.82 470.76h7.2M263.62 470.2h7.2M264.41 470.3h7.2M265.2 470h7.2M265.99 470.09h7.2M266.78 469.63h7.2M267.57 469.63h7.2M268.36 469.66h7.2M269.15 469.64h7.2M269.94 469.55h7.2M270.74 469.43h7.2M271.53 469.41h7.2M272.32 469.23h7.2M273.11 469.11h7.2M273.9 468.74h7.2M274.69 468.75h7.2M275.48 469.13h7.2M276.27 468.89h7.2M277.06 468.58h7.2M277.86 468.47h7.2M278.65 468.42h7.2M279.44 468.13h7.2M280.23 468.41h7.2M281.02 467.99h7.2M281.81 467.96h7.2M282.6 468.21h7.2M283.39 467.51h7.2M284.18 467.78h7.2M284.97 467.4h7.2M285.77 467.48h7.2M286.56 467.48h7.2M287.35 467.37h7.2M288.14 467.37h7.2M288.93 467.17h7.2M289.72 467.2h7.2M290.51 466.98h7.2M291.3 467.04h7.2M292.09 466.85h7.2M292.89 467.11h7.2M293.68 466.79h7.2M294.47 467.05h7.2M295.26 466.87h7.2M296.05 466.88h7.2M296.84 467.1h7.2M297.63 466.94h7.2M298.42 466.65h7.2M299.21 467h7.2M300.01 466.5h7.2M300.8 466.97h7.2M301.59 466.87h7.2M302.38 466.72h7.2M303.17 466.94h7.2M303.96 466.88h7.2M304.75 467.22h7.2M305.54 466.86h7.2M306.33 467.21h7.2M308.71 467.13h7.2M309.5 466.84h7.2M310.29 466.81h7.2M311.08 467.12h7.2M311.87 466.91h7.2M312.66 466.95h7.2M313.45 466.89h7.2M314.24 466.75h7.2M315.04 466.87h7.2M315.83 466.78h7.2M316.62 466.7h7.2M317.41 466.88h7.2M318.2 467.19h7.2M318.99 467.17h7.2M319.78 466.92h7.2M320.57 466.95h7.2M321.36 467h7.2M322.16 467.1h7.2M322.95 466.91h7.2M323.74 466.74h7.2M324.53 466.69h7.2M325.32 466.84h7.2M326.11 466.97h7.2M326.9 466.39h7.2M327.69 466.06h7.2M328.48 466.37h7.2M329.27 466.11h7.2M330.07 466h7.2M330.86 466.02h7.2M331.65 465.69h7.2M332.44 465.33h7.2M333.23 465.07h7.2M334.02 465.19h7.2M334.81 464.85h7.2M335.6 464.9h7.2M336.39 464.5h7.2M337.19 464.46h7.2M337.98 464.12h7.2M338.77 464.12h7.2M339.56 463.94h7.2M340.35 463.93h7.2M341.14 463.88h7.2M341.93 463.49h7.2M342.72 463.22h7.2M343.51 463.47h7.2M344.31 463.05h7.2M345.1 462.89h7.2M345.89 462.7h7.2M346.68 462.62h7.2M347.47 462.35h7.2M348.26 462.08h7.2M349.05 461.88h7.2M349.84 461.41h7.2M350.63 461.22h7.2M351.42 461.07h7.2M352.22 460.87h7.2M356.17 459.67h7.2M356.96 459.47h7.2M357.75 459.19h7.2M358.54 458.88h7.2M359.34 458.47h7.2M360.13 458.6h7.2M360.92 458.33h7.2M361.71 457.88h7.2M362.5 457.85h7.2M363.29 457.62h7.2M364.08 457.35h7.2M364.87 456.84h7.2M365.66 456.73h7.2M366.46 456.61h7.2M367.25 456.75h7.2M368.04 456.18h7.2M368.83 456.07h7.2M369.62 455.78h7.2M370.41 455.7h7.2M371.2 455.65h7.2M371.99 455.12h7.2M372.78 454.84h7.2M373.57 455.2h7.2M374.37 454.94h7.2M375.16 454.68h7.2M375.95 454.75h7.2M376.74 454.59h7.2M377.53 453.98h7.2M378.32 454.11h7.2M379.11 454.15h7.2M379.9 453.73h7.2M380.69 453.63h7.2M381.49 453.67h7.2M382.28 453.34h7.2M383.07 453.05h7.2M383.86 452.99h7.2M384.65 452.75h7.2M385.44 452.89h7.2M386.23 452.41h7.2M387.02 452.69h7.2M387.81 452.16h7.2M388.61 452.28h7.2M389.4 451.92h7.2M390.19 451.97h7.2M390.98 452.05h7.2M391.77 451.94h7.2M392.56 451.85h7.2M393.35 451.52h7.2M394.14 451.43h7.2M394.93 451.34h7.2M395.72 451.29h7.2M396.52 451.03h7.2M397.31 451.15h7.2M398.1 450.94h7.2M398.89 450.97h7.2M402.05 450.5h7.2M402.84 450.45h7.2M403.64 450.15h7.2M404.43 450.12h7.2M405.22 449.9h7.2M406.01 449.97h7.2M406.8 449.9h7.2M407.59 449.97h7.2M408.38 449.58h7.2M409.17 450.17h7.2M409.96 449.58h7.2M410.76 449.7h7.2M411.55 449.59h7.2M412.34 448.96h7.2M413.13 449.21h7.2M413.92 449.38h7.2M414.71 448.71h7.2M415.5 449.09h7.2M416.29 448.74h7.2M417.08 448.7h7.2M417.87 448.7h7.2M418.67 448.28h7.2M419.46 448.47h7.2M420.25 448.23h7.2M421.04 448.08h7.2M421.83 448.17h7.2M422.62 448.45h7.2M423.41 447.84h7.2M424.2 447.73h7.2M424.99 447.5h7.2M425.79 447.26h7.2M426.58 447.27h7.2M427.37 447.33h7.2M428.16 447h7.2M428.95 446.97h7.2M429.74 446.67h7.2M430.53 446.96h7.2M431.32 446.21h7.2M432.11 446.43h7.2M432.91 446.31h7.2M433.7 446.17h7.2M434.49 445.86h7.2M435.28 445.76h7.2M436.07 445.79h7.2M436.86 445.75h7.2M440.02 445.18h7.2M440.82 445.11h7.2M441.61 445.25h7.2M442.4 445.22h7.2M443.19 444.87h7.2M443.98 444.74h7.2M444.77 444.62h7.2M445.56 444.98h7.2M446.35 444.56h7.2M447.14 444.34h7.2M447.94 444.35h7.2M448.73 444.39h7.2M449.52 444.05h7.2M450.31 443.48h7.2M451.1 443.49h7.2M451.89 443.25h7.2M452.68 443.05h7.2M455.85 442.05h7.2M456.64 441.95h7.2M457.43 441.62h7.2M458.22 441.6h7.2M459.01 441.32h7.2M459.8 440.87h7.2M460.59 440.6h7.2M461.38 440.56h7.2M462.17 440.5h7.2M462.97 440.26h7.2M463.76 439.96h7.2M464.55 439.26h7.2M465.34 439.48h7.2M466.13 439.25h7.2M466.92 439.12h7.2M467.71 438.81h7.2M468.5 438.75h7.2M469.29 438.54h7.2M470.09 438.88h7.2M470.88 438.42h7.2M471.67 438.12h7.2M472.46 437.98h7.2M473.25 437.82h7.2M474.04 437.71h7.2M474.83 437.47h7.2M475.62 437.37h7.2M480.37 436.63h7.2M481.16 436.45h7.2M481.95 436.22h7.2M482.74 436.22h7.2M483.53 435.9h7.2M484.32 435.56h7.2M485.12 435.28h7.2M485.91 435.28h7.2M486.7 435.21h7.2M487.49 435.11h7.2M488.28 435.04h7.2M489.07 434.62h7.2M489.86 434.41h7.2M490.65 434.48h7.2M491.44 434.36h7.2M492.24 433.94h7.2M493.03 433.89h7.2M493.82 433.87h7.2M494.61 433.54h7.2M495.4 433.3h7.2M496.19 432.82h7.2M496.98 433.15h7.2M497.77 432.86h7.2M498.56 432.6h7.2M499.36 432.32h7.2M500.15 432.02h7.2M500.94 432h7.2M501.73 431.8h7.2M502.52 431.78h7.2M503.31 431.24h7.2M504.1 431.43h7.2M504.89 431.01h7.2M505.68 430.97h7.2M506.47 430.43h7.2M507.27 430.41h7.2M508.06 430.32h7.2M508.85 429.92h7.2M509.64 429.45h7.2M510.43 429.38h7.2M511.22 429.27h7.2M512.01 428.72h7.2M512.8 428.46h7.2M513.59 428.45h7.2M514.39 428.01h7.2M515.18 427.99h7.2M515.97 427.43h7.2M516.76 427.06h7.2M517.55 426.94h7.2M518.34 426.99h7.2M519.13 426.35h7.2M519.92 426.19h7.2M520.71 425.93h7.2M521.51 425.45h7.2M522.3 425.45h7.2M523.09 425.01h7.2M523.88 424.75h7.2M524.67 424.12h7.2M525.46 423.79h7.2M526.25 423.33h7.2M527.04 423.4h7.2M527.83 423.08h7.2M528.62 422.9h7.2M529.42 422.69h7.2M530.21 422.11h7.2M531 421.79h7.2M531.79 421.57h7.2M532.58 421.41h7.2M533.37 420.73h7.2M534.16 420.62h7.2M534.95 420.16h7.2M535.74 419.81h7.2M536.54 419.64h7.2M537.33 419.06h7.2M538.12 418.67h7.2M538.91 418.58h7.2M539.7 418.13h7.2M540.49 417.74h7.2M541.28 417.4h7.2M542.07 417.13h7.2M542.86 416.64h7.2M543.66 416.44h7.2M544.45 416.02h7.2M545.24 415.81h7.2M546.03 415.41h7.2M546.82 414.97h7.2M547.61 414.43h7.2M548.4 414.1h7.2M549.19 413.61h7.2M549.98 413.74h7.2M550.77 412.89h7.2M551.57 412.62h7.2M552.36 412.35h7.2M553.15 411.55h7.2M553.94 411.24h7.2M554.73 410.91h7.2M555.52 410.42h7.2M556.31 409.98h7.2M557.1 409.69h7.2M557.89 409.56h7.2M558.69 409.06h7.2M559.48 408.54h7.2M560.27 408.11h7.2M561.06 407.42h7.2M561.85 407.33h7.2M562.64 406.85h7.2M563.43 406.17h7.2M564.22 405.91h7.2M565.01 405.4h7.2M565.81 404.89h7.2M566.6 404.37h7.2M567.39 403.97h7.2M568.18 403.48h7.2M568.97 403.24h7.2M569.76 402.79h7.2M570.55 402.35h7.2M571.34 401.84h7.2M572.13 401.39h7.2M572.92 401.35h7.2M573.72 400.36h7.2M574.51 400.43h7.2M575.3 399.92h7.2M576.09 399.51h7.2M576.88 399.05h7.2M577.67 398.74h7.2M578.46 398.24h7.2M579.25 397.85h7.2M580.04 397.7h7.2M580.84 397.12h7.2M581.63 397.15h7.2M582.42 396.85h7.2M583.21 395.82h7.2M584 395.76h7.2M584.79 395.69h7.2M585.58 395.34h7.2M586.37 394.98h7.2M587.16 394.67h7.2M587.96 394.37h7.2M588.75 394.02h7.2M589.54 393.8h7.2M590.33 393.16h7.2M591.12 392.91h7.2M591.91 392.16h7.2M592.7 392h7.2M593.49 391.45h7.2M594.28 391.45h7.2M595.07 391.2h7.2M595.87 390.53h7.2M596.66 389.86h7.2M597.45 389.64h7.2M598.24 389.26h7.2M599.03 388.88h7.2M599.82 388.62h7.2M600.61 388.19h7.2M601.4 387.25h7.2M602.19 387.45h7.2M602.99 386.77h7.2M603.78 386.36h7.2M604.57 386.26h7.2M605.36 385.6h7.2M606.15 385.04h7.2M606.94 384.65h7.2M607.73 384.47h7.2M608.52 384.21h7.2M609.31 383.91h7.2M610.11 383.27h7.2M610.9 382.85h7.2M611.69 382.78h7.2M612.48 382.09h7.2M613.27 381.99h7.2M614.06 381.43h7.2M614.85 381.04h7.2M615.64 380.59h7.2M616.43 380.28h7.2M617.22 379.77h7.2M618.02 379.34h7.2M618.81 379.03h7.2M619.6 378.54h7.2M620.39 378.28h7.2M621.18 377.82h7.2M621.97 377.35h7.2M622.76 376.92h7.2M623.55 376.48h7.2M624.34 376.33h7.2M625.14 375.61h7.2M625.93 375.07h7.2M626.72 374.65h7.2M627.51 374.32h7.2M628.3 373.72h7.2M629.09 373.24h7.2M629.88 372.74h7.2M630.67 372.31h7.2M631.46 371.85h7.2M632.26 371.36h7.2M633.05 370.54h7.2M633.84 370.12h7.2M634.63 369.37h7.2M635.42 369.36h7.2M636.21 368.89h7.2M637 368.39h7.2M637.79 367.69h7.2M638.58 367.3h7.2M639.37 366.59h7.2M640.17 366.03h7.2M640.96 365.25h7.2M641.75 364.79h7.2M642.54 364.23h7.2M643.33 363.85h7.2M644.12 363.35h7.2M644.91 362.42h7.2M645.7 361.92h7.2M646.49 361.28h7.2M647.29 360.5h7.2M648.08 359.73h7.2M648.87 359.25h7.2M649.66 358.53h7.2M650.45 358.08h7.2M651.24 357.5h7.2M652.03 356.9h7.2M652.82 356.32h7.2M653.61 355.84h7.2M654.41 355.08h7.2M655.2 354.81h7.2M655.99 353.9h7.2M656.78 353.65h7.2M657.57 353.2h7.2M658.36 352.52h7.2M659.15 351.9h7.2M659.94 351.75h7.2M660.73 351.07h7.2M661.52 350.81h7.2M662.32 350.33h7.2M663.11 349.75h7.2M663.9 349.29h7.2M664.69 348.98h7.2M665.48 348.44h7.2M666.27 347.8h7.2M667.06 347.53h7.2M667.85 347.16h7.2M668.64 346.69h7.2M669.44 346.27h7.2M670.23 345.81h7.2M671.02 345.41h7.2M671.81 344.9h7.2M672.6 344.44h7.2M673.39 344.45h7.2M674.18 343.84h7.2M674.97 343.62h7.2M675.76 343.04h7.2M676.56 342.97h7.2M677.35 342.51h7.2M678.14 342.77h7.2M678.93 341.88h7.2M679.72 341.58h7.2M680.51 341.57h7.2M681.3 341.3h7.2M682.09 340.51h7.2M682.88 340.55h7.2M683.67 340.32h7.2M684.47 339.67h7.2M685.26 339.61h7.2M686.05 339.07h7.2M686.84 338.63h7.2M687.63 338.33h7.2M688.42 337.9h7.2M689.21 337.32h7.2M690 337.4h7.2M690.79 336.5h7.2M691.59 335.94h7.2M692.38 335.63h7.2M693.17 334.93h7.2M693.96 334.55h7.2M694.75 333.72h7.2M695.54 333.2h7.2M696.33 332.53h7.2M697.12 331.91h7.2M697.91 331.21h7.2M698.71 330.58h7.2M699.5 330.2h7.2M700.29 329.2h7.2M701.08 328.58h7.2M701.87 327.97h7.2M702.66 327.47h7.2M703.45 326.82h7.2M704.24 326.29h7.2M705.03 325.35h7.2M705.82 324.98h7.2M706.62 324.29h7.2M707.41 323.63h7.2M708.2 323.05h7.2M708.99 322.07h7.2M709.78 321.74h7.2M710.57 321.05h7.2M711.36 320.14h7.2M712.15 319.68h7.2M712.94 319.26h7.2M713.74 318.33h7.2M714.53 317.84h7.2M715.32 317.1h7.2M716.11 316.41h7.2M716.9 315.82h7.2M717.69 315.35h7.2M718.48 315.08h7.2M719.27 314.53h7.2M720.06 313.85h7.2M720.86 313.69h7.2M721.65 313.16h7.2M722.44 312.78h7.2M723.23 312.7h7.2M724.02 312.3h7.2M724.81 312.02h7.2M725.6 312.27h7.2M726.39 311.6h7.2M727.18 311.7h7.2M727.97 311.09h7.2M728.77 310.92h7.2M729.56 310.4h7.2M730.35 308.84h7.2M731.14 305.66h7.2M731.93 301.65h7.2M732.72 299.57h7.2M733.51 295.98h7.2M734.3 296.23h7.2M735.09 295.16h7.2M735.89 295.24h7.2M736.68 293.02h7.2M737.47 292.76h7.2M738.26 292.53h7.2M739.05 293.81h7.2M739.84 290.64h7.2M740.63 291.57h7.2M741.42 290.46h7.2M742.21 290.82h7.2M743.01 290.71h7.2M743.8 289.95h7.2M744.59 289.65h7.2M745.38 289.26h7.2M746.17 288.15h7.2M746.96 287.95h7.2M747.75 286.34h7.2M748.54 286.8h7.2M749.33 285.96h7.2M750.12 285.86h7.2M750.92 286.16h7.2M751.71 285.51h7.2M752.5 285.27h7.2M753.29 285.56h7.2M754.08 282.82h7.2M754.87 284.96h7.2M755.66 284.62h7.2M756.45 284.56h7.2M757.24 283.64h7.2M758.04 285.05h7.2M758.83 285.51h7.2M759.62 285.42h7.2M760.41 284.57h7.2" stroke="#ff0000" stroke-width="1.15" fill="none"/>
<path clip-path="url(#cb)" d="M100.3 356.63v8.2M101.09 355.9v8.2M101.88 356.15v8.2M102.67 354.19v8.2M103.46 355.25v8.2M104.26 354.92v8.2M105.05 355.63v8.2M105.84 355.97v8.2M106.63 355.98v8.2M107.42 356.84v8.2M108.21 358.76v8.2M109 358.37v8.2M109.79 358.83v8.2M110.58 361.65v8.2M111.37 363.6v8.2M112.17 364.49v8.2M112.96 366.82v8.2M113.75 367.7v8.2M114.54 370.06v8.2M115.33 372.83v8.2M116.12 373.59v8.2M116.91 373.39v8.2M117.7 373.32v8.2M118.49 372.35v8.2M119.29 374.21v8.2M120.08 374.4v8.2M120.87 374.93v8.2M121.66 375.77v8.2M122.45 374.33v8.2M123.24 374.84v8.2M124.03 373.01v8.2M124.82 375.06v8.2M125.61 374.76v8.2M126.41 375.2v8.2M127.2 374.62v8.2M127.99 374.73v8.2M128.78 374.77v8.2M129.57 375.52v8.2M130.36 375.88v8.2M131.15 376.82v8.2M131.94 376.79v8.2M132.73 377.47v8.2M133.52 377.93v8.2M134.32 378.27v8.2M135.11 378.5v8.2M135.9 378.86v8.2M136.69 378.68v8.2M137.48 379v8.2M138.27 379.19v8.2M139.06 379.24v8.2M139.85 379.37v8.2M140.64 379.82v8.2M141.44 379.71v8.2M142.23 379.96v8.2M143.02 380.24v8.2M143.81 380.52v8.2M144.6 380.85v8.2M145.39 381.05v8.2M146.18 381.37v8.2M146.97 381.54v8.2M147.76 381.73v8.2M148.56 381.96v8.2M149.35 381.71v8.2M150.14 382.16v8.2M150.93 381.91v8.2M151.72 382.14v8.2M152.51 382.12v8.2M153.3 382.09v8.2M154.09 381.88v8.2M154.88 382.44v8.2M155.67 382.09v8.2M156.47 382.09v8.2M157.26 382.36v8.2M158.05 382.21v8.2M158.84 382.49v8.2M159.63 382.46v8.2M160.42 382.31v8.2M161.21 382.24v8.2M162 382.32v8.2M162.79 382.01v8.2M163.59 382.23v8.2M164.38 382.23v8.2M165.17 382.13v8.2M165.96 382.24v8.2M166.75 382v8.2M167.54 382.37v8.2M168.33 382.45v8.2M169.12 382.09v8.2M169.91 382.34v8.2M170.71 382.58v8.2M171.5 382.45v8.2M172.29 382.28v8.2M173.08 382.32v8.2M173.87 382.63v8.2M174.66 382.81v8.2M175.45 382.4v8.2M176.24 382.59v8.2M177.03 382.48v8.2M177.82 382.56v8.2M178.62 382.65v8.2M179.41 382.58v8.2M180.2 382.45v8.2M180.99 382.83v8.2M181.78 382.45v8.2M182.57 382.4v8.2M183.36 382.55v8.2M184.15 382.33v8.2M184.94 382.25v8.2M185.74 382.38v8.2M186.53 382.04v8.2M187.32 382.28v8.2M188.11 382.3v8.2M188.9 382.23v8.2M189.69 382.11v8.2M190.48 382.15v8.2M191.27 381.93v8.2M192.06 382.22v8.2M192.86 382.36v8.2M193.65 382.53v8.2M194.44 382.52v8.2M195.23 382.55v8.2M196.02 382.61v8.2M196.81 382.86v8.2M197.6 383.03v8.2M198.39 383.35v8.2M199.18 383.33v8.2M199.97 383.43v8.2M200.77 383.67v8.2M201.56 383.81v8.2M202.35 384.04v8.2M203.14 383.94v8.2M203.93 384.24v8.2M204.72 384.5v8.2M205.51 384.96v8.2M206.3 385.09v8.2M207.09 385.34v8.2M207.89 385.7v8.2M208.68 385.58v8.2M209.47 386.12v8.2M210.26 386.22v8.2M211.05 386.26v8.2M211.84 386.79v8.2M212.63 386.55v8.2M213.42 386.79v8.2M214.21 387.11v8.2M215.01 387.41v8.2M215.8 387.54v8.2M216.59 387.48v8.2M217.38 388v8.2M218.17 388.28v8.2M218.96 388.94v8.2M219.75 389.04v8.2M220.54 389.13v8.2M221.33 389.23v8.2M222.12 389.74v8.2M222.92 389.8v8.2M223.71 390.3v8.2M224.5 390.61v8.2M225.29 390.79v8.2M226.08 391.17v8.2M226.87 391.36v8.2M227.66 391.6v8.2M228.45 392.18v8.2M229.24 392.29v8.2M230.04 392.41v8.2M230.83 392.57v8.2M231.62 392.93v8.2M232.41 393.19v8.2M233.2 393.42v8.2M233.99 393.68v8.2M234.78 393.68v8.2M235.57 393.58v8.2M236.36 394.15v8.2M237.16 394.1v8.2M237.95 394.11v8.2M238.74 394.22v8.2M239.53 393.83v8.2M240.32 394.02v8.2M241.11 394.03v8.2M241.9 394.3v8.2M242.69 393.98v8.2M243.48 394.13v8.2M244.27 394.42v8.2M245.07 394.32v8.2M245.86 394.19v8.2M246.65 394.54v8.2M247.44 394.08v8.2M248.23 394.37v8.2M249.02 394.28v8.2M249.81 394.41v8.2M250.6 394.3v8.2M251.39 394.23v8.2M252.19 394.4v8.2M252.98 394.19v8.2M253.77 394.47v8.2M254.56 394.35v8.2M255.35 394.54v8.2M256.14 394.34v8.2M256.93 394.31v8.2M257.72 394.48v8.2M258.51 394.6v8.2M259.31 394.11v8.2M260.1 394.42v8.2M260.89 394.46v8.2M261.68 394.12v8.2M262.47 394.14v8.2M263.26 394.31v8.2M264.05 394.01v8.2M264.84 393.96v8.2M265.63 394.22v8.2M266.42 393.72v8.2M267.22 393.63v8.2M268.01 393.31v8.2M268.8 393.38v8.2M269.59 393.24v8.2M270.38 393.56v8.2M271.17 393.37v8.2M271.96 392.88v8.2M272.75 393.24v8.2M273.54 392.95v8.2M274.34 392.7v8.2M275.13 392.73v8.2M275.92 392.57v8.2M276.71 392.3v8.2M277.5 392.06v8.2M278.29 392.1v8.2M279.08 392.16v8.2M279.87 392.05v8.2M280.66 391.94v8.2M281.46 392.15v8.2M282.25 391.82v8.2M283.04 392.09v8.2M283.83 391.89v8.2M284.62 391.99v8.2M285.41 391.82v8.2M286.2 392.01v8.2M286.99 391.93v8.2M287.78 391.83v8.2M288.57 392.13v8.2M289.37 392.18v8.2M290.16 392.37v8.2M290.95 392.35v8.2M291.74 392.23v8.2M292.53 392.36v8.2M293.32 392.15v8.2M294.11 392.43v8.2M294.9 392.87v8.2M295.69 392.98v8.2M296.49 392.95v8.2M297.28 392.97v8.2M298.07 393.09v8.2M298.86 393.16v8.2M299.65 392.91v8.2M300.44 393.12v8.2M301.23 393.52v8.2M302.02 393.63v8.2M302.81 393.6v8.2M303.61 393.64v8.2M304.4 393.76v8.2M305.19 393.88v8.2M305.98 393.97v8.2M306.77 393.97v8.2M307.56 394.43v8.2M308.35 394.5v8.2M309.14 394.7v8.2M309.93 395.15v8.2M312.31 395.48v8.2M313.1 395.45v8.2M313.89 395.8v8.2M314.68 395.65v8.2M315.47 396.19v8.2M316.26 396.22v8.2M317.05 396.3v8.2M317.84 396.55v8.2M318.64 396.82v8.2M319.43 396.66v8.2M320.22 396.7v8.2M321.01 397.26v8.2M321.8 397.05v8.2M322.59 397.36v8.2M323.38 397.11v8.2M324.17 397.32v8.2M324.96 397.22v8.2M325.76 397.46v8.2M326.55 397.38v8.2M327.34 397.37v8.2M328.13 397.74v8.2M328.92 397.61v8.2M329.71 397.3v8.2M330.5 397.61v8.2M331.29 397.56v8.2M332.08 397.55v8.2M332.87 397.69v8.2M333.67 397.74v8.2M334.46 397.85v8.2M335.25 397.76v8.2M336.04 397.64v8.2M336.83 397.86v8.2M337.62 398.1v8.2M338.41 397.8v8.2M339.2 398.11v8.2M339.99 398.11v8.2M340.79 397.99v8.2M341.58 398.12v8.2M342.37 397.98v8.2M343.16 398.04v8.2M343.95 397.95v8.2M344.74 398.17v8.2M345.53 398.3v8.2M346.32 397.98v8.2M347.11 398.24v8.2M347.91 397.71v8.2M348.7 397.85v8.2M349.49 397.78v8.2M350.28 398.13v8.2M351.07 397.72v8.2M351.86 397.86v8.2M352.65 397.36v8.2M353.44 397.6v8.2M354.23 397.58v8.2M355.02 397.39v8.2M355.82 396.9v8.2M359.77 396.83v8.2M360.56 396.83v8.2M361.35 396.8v8.2M362.14 396.56v8.2M362.94 396.16v8.2M363.73 396.28v8.2M364.52 396.36v8.2M365.31 396.02v8.2M366.1 396.14v8.2M366.89 395.91v8.2M367.68 395.93v8.2M368.47 395.96v8.2M369.26 395.69v8.2M370.06 396.18v8.2M370.85 395.73v8.2M371.64 395.73v8.2M372.43 395.55v8.2M373.22 395.66v8.2M374.01 395.61v8.2M374.8 395.43v8.2M375.59 395.43v8.2M376.38 395.72v8.2M377.17 395.69v8.2M377.97 395.34v8.2M378.76 395.44v8.2M379.55 395.75v8.2M380.34 395.82v8.2M381.13 395.97v8.2M381.92 395.74v8.2M382.71 396.06v8.2M383.5 395.98v8.2M384.29 396.01v8.2M385.09 396.12v8.2M385.88 396.35v8.2M386.67 396.35v8.2M387.46 396.47v8.2M388.25 396.3v8.2M389.04 396.43v8.2M389.83 396.36v8.2M390.62 396.53v8.2M391.41 396.62v8.2M392.21 396.68v8.2M393 396.93v8.2M393.79 396.96v8.2M394.58 397.08v8.2M395.37 397.06v8.2M396.16 397.27v8.2M396.95 397.2v8.2M397.74 397.39v8.2M398.53 397.39v8.2M399.32 397.5v8.2M400.12 397.46v8.2M400.91 397.36v8.2M401.7 397.42v8.2M402.49 398.02v8.2M405.65 398.17v8.2M406.44 398.29v8.2M407.24 398.3v8.2M408.03 398.36v8.2M408.82 398.97v8.2M409.61 398.48v8.2M410.4 398.74v8.2M411.19 398.85v8.2M411.98 398.8v8.2M412.77 398.88v8.2M413.56 399.07v8.2M414.36 399.23v8.2M415.15 399.31v8.2M415.94 399.6v8.2M416.73 399.39v8.2M417.52 399.72v8.2M418.31 399.97v8.2M419.1 399.97v8.2M419.89 399.74v8.2M420.68 399.54v8.2M421.47 400.18v8.2M422.27 400.19v8.2M423.06 400.09v8.2M423.85 400.41v8.2M424.64 400.2v8.2M425.43 400.32v8.2M426.22 400.18v8.2M427.01 400.42v8.2M427.8 400.35v8.2M428.59 400.38v8.2M429.39 400.67v8.2M430.18 400.61v8.2M430.97 400.47v8.2M431.76 400.96v8.2M432.55 401.16v8.2M433.34 401.07v8.2M434.13 401.26v8.2M434.92 401.39v8.2M435.71 401.34v8.2M436.51 401.39v8.2M437.3 401.45v8.2M438.09 401.26v8.2M438.88 401.62v8.2M439.67 401.17v8.2M440.46 401.16v8.2M443.62 401.35v8.2M444.42 401.36v8.2M445.21 400.95v8.2M446 400.86v8.2M446.79 400.67v8.2M447.58 400.95v8.2M448.37 400.74v8.2M449.16 400.53v8.2M449.95 400.66v8.2M450.74 400.75v8.2M451.54 400.58v8.2M452.33 400.74v8.2M453.12 400.5v8.2M453.91 400.3v8.2M454.7 400.14v8.2M455.49 400.12v8.2M456.28 400.12v8.2M459.45 399.62v8.2M460.24 399.53v8.2M461.03 399.29v8.2M461.82 399.26v8.2M462.61 399.21v8.2M463.4 398.89v8.2M464.19 398.61v8.2M464.98 398.96v8.2M465.77 398.69v8.2M466.57 398.44v8.2M467.36 398.45v8.2M468.15 398.29v8.2M468.94 398v8.2M469.73 398.16v8.2M470.52 397.92v8.2M471.31 398.11v8.2M472.1 398.02v8.2M472.89 398.16v8.2M473.69 397.94v8.2M474.48 397.97v8.2M475.27 397.83v8.2M476.06 397.79v8.2M476.85 397.6v8.2M477.64 397.92v8.2M478.43 397.77v8.2M479.22 397.63v8.2M483.97 397.58v8.2M484.76 397.46v8.2M485.55 397.39v8.2M486.34 397.51v8.2M487.13 397.62v8.2M487.92 397.37v8.2M488.72 397.17v8.2M489.51 397.27v8.2M490.3 397.6v8.2M491.09 397.18v8.2M491.88 397.45v8.2M492.67 397.2v8.2M493.46 397.32v8.2M494.25 397.16v8.2M495.04 396.92v8.2M495.84 397.06v8.2M496.63 397.42v8.2M497.42 397.05v8.2M498.21 397.13v8.2M499 396.97v8.2M499.79 396.98v8.2M500.58 397.02v8.2M501.37 397.02v8.2M502.16 397.25v8.2M502.96 396.89v8.2M503.75 396.83v8.2M504.54 396.73v8.2M505.33 396.6v8.2M506.12 396.53v8.2M506.91 396.83v8.2M507.7 396.42v8.2M508.49 396.87v8.2M509.28 396.75v8.2M510.07 396.53v8.2M510.87 396.36v8.2M511.66 396.49v8.2M512.45 396.43v8.2M513.24 396.54v8.2M514.03 396.19v8.2M514.82 396.17v8.2M515.61 396.14v8.2M516.4 396.01v8.2M517.19 395.86v8.2M517.99 395.6v8.2M518.78 395.5v8.2M519.57 395.53v8.2M520.36 395.48v8.2M521.15 395.53v8.2M521.94 395.6v8.2M522.73 395.38v8.2M523.52 395.04v8.2M524.31 395.12v8.2M525.11 394.67v8.2M525.9 394.46v8.2M526.69 394.73v8.2M527.48 394.07v8.2M528.27 394.01v8.2M529.06 393.87v8.2M529.85 393.97v8.2M530.64 393.5v8.2M531.43 393.54v8.2M532.22 393.2v8.2M533.02 392.91v8.2M533.81 392.96v8.2M534.6 392.79v8.2M535.39 392.43v8.2M536.18 392.31v8.2M536.97 392.15v8.2M537.76 392.25v8.2M538.55 392.01v8.2M539.34 391.8v8.2M540.14 391.66v8.2M540.93 391.33v8.2M541.72 391.29v8.2M542.51 390.93v8.2M543.3 390.63v8.2M544.09 390.53v8.2M544.88 390.47v8.2M545.67 390.24v8.2M546.46 390.18v8.2M547.26 389.56v8.2M548.05 389.57v8.2M548.84 389.45v8.2M549.63 389.03v8.2M550.42 388.99v8.2M551.21 388.67v8.2M552 388.34v8.2M552.79 388.45v8.2M553.58 387.85v8.2M554.37 387.98v8.2M555.17 387.53v8.2M555.96 387.22v8.2M556.75 386.99v8.2M557.54 386.78v8.2M558.33 386.53v8.2M559.12 386.45v8.2M559.91 385.89v8.2M560.7 386.12v8.2M561.49 385.81v8.2M562.29 385.64v8.2M563.08 385.01v8.2M563.87 384.52v8.2M564.66 384.47v8.2M565.45 384.23v8.2M566.24 383.98v8.2M567.03 383.54v8.2M567.82 383.28v8.2M568.61 382.99v8.2M569.41 382.42v8.2M570.2 382.61v8.2M570.99 381.86v8.2M571.78 381.77v8.2M572.57 381.61v8.2M573.36 381.06v8.2M574.15 380.92v8.2M574.94 380.93v8.2M575.73 380.42v8.2M576.52 380.43v8.2M577.32 380.15v8.2M578.11 380v8.2M578.9 379.94v8.2M579.69 379.68v8.2M580.48 379.56v8.2M581.27 379.63v8.2M582.06 379.42v8.2M582.85 379.36v8.2M583.64 379.02v8.2M584.44 379.11v8.2M585.23 379.21v8.2M586.02 379.08v8.2M586.81 378.91v8.2M587.6 378.7v8.2M588.39 378.6v8.2M589.18 378.68v8.2M589.97 378.74v8.2M590.76 378.44v8.2M591.56 378.54v8.2M592.35 378.2v8.2M593.14 378.31v8.2M593.93 377.87v8.2M594.72 377.93v8.2M595.51 377.62v8.2M596.3 377.76v8.2M597.09 377.62v8.2M597.88 377.26v8.2M598.67 377.16v8.2M599.47 377.07v8.2M600.26 376.78v8.2M601.05 376.72v8.2M601.84 376.59v8.2M602.63 376.7v8.2M603.42 376.64v8.2M604.21 376.22v8.2M605 376.1v8.2M605.79 376.03v8.2M606.59 375.77v8.2M607.38 375.66v8.2M608.17 375.68v8.2M608.96 375.44v8.2M609.75 375.25v8.2M610.54 375.02v8.2M611.33 375.18v8.2M612.12 374.73v8.2M612.91 374.69v8.2M613.71 374.38v8.2M614.5 374.3v8.2M615.29 374.25v8.2M616.08 374.04v8.2M616.87 374.03v8.2M617.66 373.81v8.2M618.45 373.44v8.2M619.24 373.15v8.2M620.03 373.49v8.2M620.82 373.1v8.2M621.62 373.24v8.2M622.41 372.86v8.2M623.2 372.57v8.2M623.99 372.59v8.2M624.78 372.29v8.2M625.57 372.15v8.2M626.36 371.82v8.2M627.15 371.85v8.2M627.94 371.72v8.2M628.74 371.26v8.2M629.53 371.39v8.2M630.32 370.81v8.2M631.11 370.69v8.2M631.9 370.17v8.2M632.69 369.88v8.2M633.48 370.23v8.2M634.27 369.87v8.2M635.06 369.57v8.2M635.86 368.87v8.2M636.65 368.89v8.2M637.44 368.64v8.2M638.23 368.31v8.2M639.02 368.06v8.2M639.81 367.6v8.2M640.6 367.43v8.2M641.39 366.99v8.2M642.18 366.82v8.2M642.97 366.64v8.2M643.77 366.17v8.2M644.56 365.93v8.2M645.35 365.59v8.2M646.14 365.33v8.2M646.93 365.13v8.2M647.72 364.68v8.2M648.51 364.36v8.2M649.3 363.73v8.2M650.09 363.53v8.2M650.89 363.35v8.2M651.68 362.74v8.2M652.47 362.45v8.2M653.26 362.01v8.2M654.05 362.01v8.2M654.84 361.39v8.2M655.63 361.01v8.2M656.42 360.87v8.2M657.21 360.62v8.2M658.01 360.21v8.2M658.8 359.97v8.2M659.59 359.56v8.2M660.38 359.22v8.2M661.17 358.87v8.2M661.96 358.57v8.2M662.75 358.25v8.2M663.54 358.1v8.2M664.33 357.73v8.2M665.12 357.46v8.2M665.92 357.25v8.2M666.71 356.86v8.2M667.5 356.38v8.2M668.29 356.19v8.2M669.08 355.88v8.2M669.87 355.5v8.2M670.66 355.56v8.2M671.45 355.13v8.2M672.24 354.89v8.2M673.04 354.71v8.2M673.83 354.81v8.2M674.62 354.46v8.2M675.41 354.49v8.2M676.2 354.19v8.2M676.99 354v8.2M677.78 354.03v8.2M678.57 353.93v8.2M679.36 353.76v8.2M680.16 353.49v8.2M680.95 353.49v8.2M681.74 353.3v8.2M682.53 353.36v8.2M683.32 353.34v8.2M684.11 353.47v8.2M684.9 353.38v8.2M685.69 353.2v8.2M686.48 353.16v8.2M687.27 352.96v8.2M688.07 353.25v8.2M688.86 352.97v8.2M689.65 353.03v8.2M690.44 352.57v8.2M691.23 352.45v8.2M692.02 352.41v8.2M692.81 352.12v8.2M693.6 351.96v8.2M694.39 351.56v8.2M695.19 351.61v8.2M695.98 351.24v8.2M696.77 351.07v8.2M697.56 350.63v8.2M698.35 350.09v8.2M699.14 350.12v8.2M699.93 349.9v8.2M700.72 349.2v8.2M701.51 348.9v8.2M702.31 348.66v8.2M703.1 348.32v8.2M703.89 347.76v8.2M704.68 347.93v8.2M705.47 347.48v8.2M706.26 346.9v8.2M707.05 346.4v8.2M707.84 346.41v8.2M708.63 346.35v8.2M709.42 345.86v8.2M710.22 345.58v8.2M711.01 344.91v8.2M711.8 344.71v8.2M712.59 344.07v8.2M713.38 344.2v8.2M714.17 343.59v8.2M714.96 342.79v8.2M715.75 342.44v8.2M716.54 342.41v8.2M717.34 341.99v8.2M718.13 341.58v8.2M718.92 341.39v8.2M719.71 341.29v8.2M720.5 340.77v8.2M721.29 340.21v8.2M722.08 340.25v8.2M722.87 339.92v8.2M723.66 339.88v8.2M724.46 339.99v8.2M725.25 339.9v8.2M726.04 339.77v8.2M726.83 339.93v8.2M727.62 339.81v8.2M728.41 340.01v8.2M729.2 339.89v8.2M729.99 339.99v8.2M730.78 339.89v8.2M731.57 340.04v8.2M732.37 339.91v8.2M733.16 339.93v8.2M733.95 339.6v8.2M734.74 339.04v8.2M735.53 339.22v8.2M736.32 336.23v8.2M737.11 335.69v8.2M737.9 334.16v8.2M738.69 332.96v8.2M739.49 330.81v8.2M740.28 329.57v8.2M741.07 328.75v8.2M741.86 326.1v8.2M742.65 326.04v8.2M743.44 323.5v8.2M744.23 322.32v8.2M745.02 322.33v8.2M745.81 321.01v8.2M746.61 322.15v8.2M747.4 322.33v8.2M748.19 321.31v8.2M748.98 321.53v8.2M749.77 321.59v8.2M750.56 321.75v8.2M751.35 322.29v8.2M752.14 322.69v8.2M752.93 322.27v8.2M753.72 322.24v8.2M754.52 322.67v8.2M755.31 323.93v8.2M756.1 323.09v8.2M756.89 324.71v8.2M757.68 323.38v8.2M758.47 324.68v8.2M759.26 322.61v8.2M760.05 323.01v8.2M760.84 323.96v8.2M761.64 323.97v8.2M762.43 323.45v8.2M763.22 325.22v8.2M764.01 323.63v8.2" stroke="#0000ff" stroke-width="0.68" fill="none"/>
<path clip-path="url(#cb)" d="M96.7 360.73h7.2M97.49 360h7.2M98.28 360.25h7.2M99.07 358.29h7.2M99.86 359.35h7.2M100.66 359.02h7.2M101.45 359.73h7.2M102.24 360.07h7.2M103.03 360.08h7.2M103.82 360.94h7.2M104.61 362.86h7.2M105.4 362.47h7.2M106.19 362.93h7.2M106.98 365.75h7.2M107.77 367.7h7.2M108.57 368.59h7.2M109.36 370.92h7.2M110.15 371.8h7.2M110.94 374.16h7.2M111.73 376.93h7.2M112.52 377.69h7.2M113.31 377.49h7.2M114.1 377.42h7.2M114.89 376.45h7.2M115.69 378.31h7.2M116.48 378.5h7.2M117.27 379.03h7.2M118.06 379.87h7.2M118.85 378.43h7.2M119.64 378.94h7.2M120.43 377.11h7.2M121.22 379.16h7.2M122.01 378.86h7.2M122.81 379.3h7.2M123.6 378.72h7.2M124.39 378.83h7.2M125.18 378.87h7.2M125.97 379.62h7.2M126.76 379.98h7.2M127.55 380.92h7.2M128.34 380.89h7.2M129.13 381.57h7.2M129.92 382.03h7.2M130.72 382.37h7.2M131.51 382.6h7.2M132.3 382.96h7.2M133.09 382.78h7.2M133.88 383.1h7.2M134.67 383.29h7.2M135.46 383.34h7.2M136.25 383.47h7.2M137.04 383.92h7.2M137.84 383.81h7.2M138.63 384.06h7.2M139.42 384.34h7.2M140.21 384.62h7.2M141 384.95h7.2M141.79 385.15h7.2M142.58 385.47h7.2M143.37 385.64h7.2M144.16 385.83h7.2M144.96 386.06h7.2M145.75 385.81h7.2M146.54 386.26h7.2M147.33 386.01h7.2M148.12 386.24h7.2M148.91 386.22h7.2M149.7 386.19h7.2M150.49 385.98h7.2M151.28 386.54h7.2M152.07 386.19h7.2M152.87 386.19h7.2M153.66 386.46h7.2M154.45 386.31h7.2M155.24 386.59h7.2M156.03 386.56h7.2M156.82 386.41h7.2M157.61 386.34h7.2M158.4 386.42h7.2M159.19 386.11h7.2M159.99 386.33h7.2M160.78 386.33h7.2M161.57 386.23h7.2M162.36 386.34h7.2M163.15 386.1h7.2M163.94 386.47h7.2M164.73 386.55h7.2M165.52 386.19h7.2M166.31 386.44h7.2M167.11 386.68h7.2M167.9 386.55h7.2M168.69 386.38h7.2M169.48 386.42h7.2M170.27 386.73h7.2M171.06 386.91h7.2M171.85 386.5h7.2M172.64 386.69h7.2M173.43 386.58h7.2M174.22 386.66h7.2M175.02 386.75h7.2M175.81 386.68h7.2M176.6 386.55h7.2M177.39 386.93h7.2M178.18 386.55h7.2M178.97 386.5h7.2M179.76 386.65h7.2M180.55 386.43h7.2M181.34 386.35h7.2M182.14 386.48h7.2M182.93 386.14h7.2M183.72 386.38h7.2M184.51 386.4h7.2M185.3 386.33h7.2M186.09 386.21h7.2M186.88 386.25h7.2M187.67 386.03h7.2M188.46 386.32h7.2M189.26 386.46h7.2M190.05 386.63h7.2M190.84 386.62h7.2M191.63 386.65h7.2M192.42 386.71h7.2M193.21 386.96h7.2M194 387.13h7.2M194.79 387.45h7.2M195.58 387.43h7.2M196.37 387.53h7.2M197.17 387.77h7.2M197.96 387.91h7.2M198.75 388.14h7.2M199.54 388.04h7.2M200.33 388.34h7.2M201.12 388.6h7.2M201.91 389.06h7.2M202.7 389.19h7.2M203.49 389.44h7.2M204.29 389.8h7.2M205.08 389.68h7.2M205.87 390.22h7.2M206.66 390.32h7.2M207.45 390.36h7.2M208.24 390.89h7.2M209.03 390.65h7.2M209.82 390.89h7.2M210.61 391.21h7.2M211.41 391.51h7.2M212.2 391.64h7.2M212.99 391.58h7.2M213.78 392.1h7.2M214.57 392.38h7.2M215.36 393.04h7.2M216.15 393.14h7.2M216.94 393.23h7.2M217.73 393.33h7.2M218.52 393.84h7.2M219.32 393.9h7.2M220.11 394.4h7.2M220.9 394.71h7.2M221.69 394.89h7.2M222.48 395.27h7.2M223.27 395.46h7.2M224.06 395.7h7.2M224.85 396.28h7.2M225.64 396.39h7.2M226.44 396.51h7.2M227.23 396.67h7.2M228.02 397.03h7.2M228.81 397.29h7.2M229.6 397.52h7.2M230.39 397.78h7.2M231.18 397.78h7.2M231.97 397.68h7.2M232.76 398.25h7.2M233.56 398.2h7.2M234.35 398.21h7.2M235.14 398.32h7.2M235.93 397.93h7.2M236.72 398.12h7.2M237.51 398.13h7.2M238.3 398.4h7.2M239.09 398.08h7.2M239.88 398.23h7.2M240.67 398.52h7.2M241.47 398.42h7.2M242.26 398.29h7.2M243.05 398.64h7.2M243.84 398.18h7.2M244.63 398.47h7.2M245.42 398.38h7.2M246.21 398.51h7.2M247 398.4h7.2M247.79 398.33h7.2M248.59 398.5h7.2M249.38 398.29h7.2M250.17 398.57h7.2M250.96 398.45h7.2M251.75 398.64h7.2M252.54 398.44h7.2M253.33 398.41h7.2M254.12 398.58h7.2M254.91 398.7h7.2M255.71 398.21h7.2M256.5 398.52h7.2M257.29 398.56h7.2M258.08 398.22h7.2M258.87 398.24h7.2M259.66 398.41h7.2M260.45 398.11h7.2M261.24 398.06h7.2M262.03 398.32h7.2M262.82 397.82h7.2M263.62 397.73h7.2M264.41 397.41h7.2M265.2 397.48h7.2M265.99 397.34h7.2M266.78 397.66h7.2M267.57 397.47h7.2M268.36 396.98h7.2M269.15 397.34h7.2M269.94 397.05h7.2M270.74 396.8h7.2M271.53 396.83h7.2M272.32 396.67h7.2M273.11 396.4h7.2M273.9 396.16h7.2M274.69 396.2h7.2M275.48 396.26h7.2M276.27 396.15h7.2M277.06 396.04h7.2M277.86 396.25h7.2M278.65 395.92h7.2M279.44 396.19h7.2M280.23 395.99h7.2M281.02 396.09h7.2M281.81 395.92h7.2M282.6 396.11h7.2M283.39 396.03h7.2M284.18 395.93h7.2M284.97 396.23h7.2M285.77 396.28h7.2M286.56 396.47h7.2M287.35 396.45h7.2M288.14 396.33h7.2M288.93 396.46h7.2M289.72 396.25h7.2M290.51 396.53h7.2M291.3 396.97h7.2M292.09 397.08h7.2M292.89 397.05h7.2M293.68 397.07h7.2M294.47 397.19h7.2M295.26 397.26h7.2M296.05 397.01h7.2M296.84 397.22h7.2M297.63 397.62h7.2M298.42 397.73h7.2M299.21 397.7h7.2M300.01 397.74h7.2M300.8 397.86h7.2M301.59 397.98h7.2M302.38 398.07h7.2M303.17 398.07h7.2M303.96 398.53h7.2M304.75 398.6h7.2M305.54 398.8h7.2M306.33 399.25h7.2M308.71 399.58h7.2M309.5 399.55h7.2M310.29 399.9h7.2M311.08 399.75h7.2M311.87 400.29h7.2M312.66 400.32h7.2M313.45 400.4h7.2M314.24 400.65h7.2M315.04 400.92h7.2M315.83 400.76h7.2M316.62 400.8h7.2M317.41 401.36h7.2M318.2 401.15h7.2M318.99 401.46h7.2M319.78 401.21h7.2M320.57 401.42h7.2M321.36 401.32h7.2M322.16 401.56h7.2M322.95 401.48h7.2M323.74 401.47h7.2M324.53 401.84h7.2M325.32 401.71h7.2M326.11 401.4h7.2M326.9 401.71h7.2M327.69 401.66h7.2M328.48 401.65h7.2M329.27 401.79h7.2M330.07 401.84h7.2M330.86 401.95h7.2M331.65 401.86h7.2M332.44 401.74h7.2M333.23 401.96h7.2M334.02 402.2h7.2M334.81 401.9h7.2M335.6 402.21h7.2M336.39 402.21h7.2M337.19 402.09h7.2M337.98 402.22h7.2M338.77 402.08h7.2M339.56 402.14h7.2M340.35 402.05h7.2M341.14 402.27h7.2M341.93 402.4h7.2M342.72 402.08h7.2M343.51 402.34h7.2M344.31 401.81h7.2M345.1 401.95h7.2M345.89 401.88h7.2M346.68 402.23h7.2M347.47 401.82h7.2M348.26 401.96h7.2M349.05 401.46h7.2M349.84 401.7h7.2M350.63 401.68h7.2M351.42 401.49h7.2M352.22 401h7.2M356.17 400.93h7.2M356.96 400.93h7.2M357.75 400.9h7.2M358.54 400.66h7.2M359.34 400.26h7.2M360.13 400.38h7.2M360.92 400.46h7.2M361.71 400.12h7.2M362.5 400.24h7.2M363.29 400.01h7.2M364.08 400.03h7.2M364.87 400.06h7.2M365.66 399.79h7.2M366.46 400.28h7.2M367.25 399.83h7.2M368.04 399.83h7.2M368.83 399.65h7.2M369.62 399.76h7.2M370.41 399.71h7.2M371.2 399.53h7.2M371.99 399.53h7.2M372.78 399.82h7.2M373.57 399.79h7.2M374.37 399.44h7.2M375.16 399.54h7.2M375.95 399.85h7.2M376.74 399.92h7.2M377.53 400.07h7.2M378.32 399.84h7.2M379.11 400.16h7.2M379.9 400.08h7.2M380.69 400.11h7.2M381.49 400.22h7.2M382.28 400.45h7.2M383.07 400.45h7.2M383.86 400.57h7.2M384.65 400.4h7.2M385.44 400.53h7.2M386.23 400.46h7.2M387.02 400.63h7.2M387.81 400.72h7.2M388.61 400.78h7.2M389.4 401.03h7.2M390.19 401.06h7.2M390.98 401.18h7.2M391.77 401.16h7.2M392.56 401.37h7.2M393.35 401.3h7.2M394.14 401.49h7.2M394.93 401.49h7.2M395.72 401.6h7.2M396.52 401.56h7.2M397.31 401.46h7.2M398.1 401.52h7.2M398.89 402.12h7.2M402.05 402.27h7.2M402.84 402.39h7.2M403.64 402.4h7.2M404.43 402.46h7.2M405.22 403.07h7.2M406.01 402.58h7.2M406.8 402.84h7.2M407.59 402.95h7.2M408.38 402.9h7.2M409.17 402.98h7.2M409.96 403.17h7.2M410.76 403.33h7.2M411.55 403.41h7.2M412.34 403.7h7.2M413.13 403.49h7.2M413.92 403.82h7.2M414.71 404.07h7.2M415.5 404.07h7.2M416.29 403.84h7.2M417.08 403.64h7.2M417.87 404.28h7.2M418.67 404.29h7.2M419.46 404.19h7.2M420.25 404.51h7.2M421.04 404.3h7.2M421.83 404.42h7.2M422.62 404.28h7.2M423.41 404.52h7.2M424.2 404.45h7.2M424.99 404.48h7.2M425.79 404.77h7.2M426.58 404.71h7.2M427.37 404.57h7.2M428.16 405.06h7.2M428.95 405.26h7.2M429.74 405.17h7.2M430.53 405.36h7.2M431.32 405.49h7.2M432.11 405.44h7.2M432.91 405.49h7.2M433.7 405.55h7.2M434.49 405.36h7.2M435.28 405.72h7.2M436.07 405.27h7.2M436.86 405.26h7.2M440.02 405.45h7.2M440.82 405.46h7.2M441.61 405.05h7.2M442.4 404.96h7.2M443.19 404.77h7.2M443.98 405.05h7.2M444.77 404.84h7.2M445.56 404.63h7.2M446.35 404.76h7.2M447.14 404.85h7.2M447.94 404.68h7.2M448.73 404.84h7.2M449.52 404.6h7.2M450.31 404.4h7.2M451.1 404.24h7.2M451.89 404.22h7.2M452.68 404.22h7.2M455.85 403.72h7.2M456.64 403.63h7.2M457.43 403.39h7.2M458.22 403.36h7.2M459.01 403.31h7.2M459.8 402.99h7.2M460.59 402.71h7.2M461.38 403.06h7.2M462.17 402.79h7.2M462.97 402.54h7.2M463.76 402.55h7.2M464.55 402.39h7.2M465.34 402.1h7.2M466.13 402.26h7.2M466.92 402.02h7.2M467.71 402.21h7.2M468.5 402.12h7.2M469.29 402.26h7.2M470.09 402.04h7.2M470.88 402.07h7.2M471.67 401.93h7.2M472.46 401.89h7.2M473.25 401.7h7.2M474.04 402.02h7.2M474.83 401.87h7.2M475.62 401.73h7.2M480.37 401.68h7.2M481.16 401.56h7.2M481.95 401.49h7.2M482.74 401.61h7.2M483.53 401.72h7.2M484.32 401.47h7.2M485.12 401.27h7.2M485.91 401.37h7.2M486.7 401.7h7.2M487.49 401.28h7.2M488.28 401.55h7.2M489.07 401.3h7.2M489.86 401.42h7.2M490.65 401.26h7.2M491.44 401.02h7.2M492.24 401.16h7.2M493.03 401.52h7.2M493.82 401.15h7.2M494.61 401.23h7.2M495.4 401.07h7.2M496.19 401.08h7.2M496.98 401.12h7.2M497.77 401.12h7.2M498.56 401.35h7.2M499.36 400.99h7.2M500.15 400.93h7.2M500.94 400.83h7.2M501.73 400.7h7.2M502.52 400.63h7.2M503.31 400.93h7.2M504.1 400.52h7.2M504.89 400.97h7.2M505.68 400.85h7.2M506.47 400.63h7.2M507.27 400.46h7.2M508.06 400.59h7.2M508.85 400.53h7.2M509.64 400.64h7.2M510.43 400.29h7.2M511.22 400.27h7.2M512.01 400.24h7.2M512.8 400.11h7.2M513.59 399.96h7.2M514.39 399.7h7.2M515.18 399.6h7.2M515.97 399.63h7.2M516.76 399.58h7.2M517.55 399.63h7.2M518.34 399.7h7.2M519.13 399.48h7.2M519.92 399.14h7.2M520.71 399.22h7.2M521.51 398.77h7.2M522.3 398.56h7.2M523.09 398.83h7.2M523.88 398.17h7.2M524.67 398.11h7.2M525.46 397.97h7.2M526.25 398.07h7.2M527.04 397.6h7.2M527.83 397.64h7.2M528.62 397.3h7.2M529.42 397.01h7.2M530.21 397.06h7.2M531 396.89h7.2M531.79 396.53h7.2M532.58 396.41h7.2M533.37 396.25h7.2M534.16 396.35h7.2M534.95 396.11h7.2M535.74 395.9h7.2M536.54 395.76h7.2M537.33 395.43h7.2M538.12 395.39h7.2M538.91 395.03h7.2M539.7 394.73h7.2M540.49 394.63h7.2M541.28 394.57h7.2M542.07 394.34h7.2M542.86 394.28h7.2M543.66 393.66h7.2M544.45 393.67h7.2M545.24 393.55h7.2M546.03 393.13h7.2M546.82 393.09h7.2M547.61 392.77h7.2M548.4 392.44h7.2M549.19 392.55h7.2M549.98 391.95h7.2M550.77 392.08h7.2M551.57 391.63h7.2M552.36 391.32h7.2M553.15 391.09h7.2M553.94 390.88h7.2M554.73 390.63h7.2M555.52 390.55h7.2M556.31 389.99h7.2M557.1 390.22h7.2M557.89 389.91h7.2M558.69 389.74h7.2M559.48 389.11h7.2M560.27 388.62h7.2M561.06 388.57h7.2M561.85 388.33h7.2M562.64 388.08h7.2M563.43 387.64h7.2M564.22 387.38h7.2M565.01 387.09h7.2M565.81 386.52h7.2M566.6 386.71h7.2M567.39 385.96h7.2M568.18 385.87h7.2M568.97 385.71h7.2M569.76 385.16h7.2M570.55 385.02h7.2M571.34 385.03h7.2M572.13 384.52h7.2M572.92 384.53h7.2M573.72 384.25h7.2M574.51 384.1h7.2M575.3 384.04h7.2M576.09 383.78h7.2M576.88 383.66h7.2M577.67 383.73h7.2M578.46 383.52h7.2M579.25 383.46h7.2M580.04 383.12h7.2M580.84 383.21h7.2M581.63 383.31h7.2M582.42 383.18h7.2M583.21 383.01h7.2M584 382.8h7.2M584.79 382.7h7.2M585.58 382.78h7.2M586.37 382.84h7.2M587.16 382.54h7.2M587.96 382.64h7.2M588.75 382.3h7.2M589.54 382.41h7.2M590.33 381.97h7.2M591.12 382.03h7.2M591.91 381.72h7.2M592.7 381.86h7.2M593.49 381.72h7.2M594.28 381.36h7.2M595.07 381.26h7.2M595.87 381.17h7.2M596.66 380.88h7.2M597.45 380.82h7.2M598.24 380.69h7.2M599.03 380.8h7.2M599.82 380.74h7.2M600.61 380.32h7.2M601.4 380.2h7.2M602.19 380.13h7.2M602.99 379.87h7.2M603.78 379.76h7.2M604.57 379.78h7.2M605.36 379.54h7.2M606.15 379.35h7.2M606.94 379.12h7.2M607.73 379.28h7.2M608.52 378.83h7.2M609.31 378.79h7.2M610.11 378.48h7.2M610.9 378.4h7.2M611.69 378.35h7.2M612.48 378.14h7.2M613.27 378.13h7.2M614.06 377.91h7.2M614.85 377.54h7.2M615.64 377.25h7.2M616.43 377.59h7.2M617.22 377.2h7.2M618.02 377.34h7.2M618.81 376.96h7.2M619.6 376.67h7.2M620.39 376.69h7.2M621.18 376.39h7.2M621.97 376.25h7.2M622.76 375.92h7.2M623.55 375.95h7.2M624.34 375.82h7.2M625.14 375.36h7.2M625.93 375.49h7.2M626.72 374.91h7.2M627.51 374.79h7.2M628.3 374.27h7.2M629.09 373.98h7.2M629.88 374.33h7.2M630.67 373.97h7.2M631.46 373.67h7.2M632.26 372.97h7.2M633.05 372.99h7.2M633.84 372.74h7.2M634.63 372.41h7.2M635.42 372.16h7.2M636.21 371.7h7.2M637 371.53h7.2M637.79 371.09h7.2M638.58 370.92h7.2M639.37 370.74h7.2M640.17 370.27h7.2M640.96 370.03h7.2M641.75 369.69h7.2M642.54 369.43h7.2M643.33 369.23h7.2M644.12 368.78h7.2M644.91 368.46h7.2M645.7 367.83h7.2M646.49 367.63h7.2M647.29 367.45h7.2M648.08 366.84h7.2M648.87 366.55h7.2M649.66 366.11h7.2M650.45 366.11h7.2M651.24 365.49h7.2M652.03 365.11h7.2M652.82 364.97h7.2M653.61 364.72h7.2M654.41 364.31h7.2M655.2 364.07h7.2M655.99 363.66h7.2M656.78 363.32h7.2M657.57 362.97h7.2M658.36 362.67h7.2M659.15 362.35h7.2M659.94 362.2h7.2M660.73 361.83h7.2M661.52 361.56h7.2M662.32 361.35h7.2M663.11 360.96h7.2M663.9 360.48h7.2M664.69 360.29h7.2M665.48 359.98h7.2M666.27 359.6h7.2M667.06 359.66h7.2M667.85 359.23h7.2M668.64 358.99h7.2M669.44 358.81h7.2M670.23 358.91h7.2M671.02 358.56h7.2M671.81 358.59h7.2M672.6 358.29h7.2M673.39 358.1h7.2M674.18 358.13h7.2M674.97 358.03h7.2M675.76 357.86h7.2M676.56 357.59h7.2M677.35 357.59h7.2M678.14 357.4h7.2M678.93 357.46h7.2M679.72 357.44h7.2M680.51 357.57h7.2M681.3 357.48h7.2M682.09 357.3h7.2M682.88 357.26h7.2M683.67 357.06h7.2M684.47 357.35h7.2M685.26 357.07h7.2M686.05 357.13h7.2M686.84 356.67h7.2M687.63 356.55h7.2M688.42 356.51h7.2M689.21 356.22h7.2M690 356.06h7.2M690.79 355.66h7.2M691.59 355.71h7.2M692.38 355.34h7.2M693.17 355.17h7.2M693.96 354.73h7.2M694.75 354.19h7.2M695.54 354.22h7.2M696.33 354h7.2M697.12 353.3h7.2M697.91 353h7.2M698.71 352.76h7.2M699.5 352.42h7.2M700.29 351.86h7.2M701.08 352.03h7.2M701.87 351.58h7.2M702.66 351h7.2M703.45 350.5h7.2M704.24 350.51h7.2M705.03 350.45h7.2M705.82 349.96h7.2M706.62 349.68h7.2M707.41 349.01h7.2M708.2 348.81h7.2M708.99 348.17h7.2M709.78 348.3h7.2M710.57 347.69h7.2M711.36 346.89h7.2M712.15 346.54h7.2M712.94 346.51h7.2M713.74 346.09h7.2M714.53 345.68h7.2M715.32 345.49h7.2M716.11 345.39h7.2M716.9 344.87h7.2M717.69 344.31h7.2M718.48 344.35h7.2M719.27 344.02h7.2M720.06 343.98h7.2M720.86 344.09h7.2M721.65 344h7.2M722.44 343.87h7.2M723.23 344.03h7.2M724.02 343.91h7.2M724.81 344.11h7.2M725.6 343.99h7.2M726.39 344.09h7.2M727.18 343.99h7.2M727.97 344.14h7.2M728.77 344.01h7.2M729.56 344.03h7.2M730.35 343.7h7.2M731.14 343.14h7.2M731.93 343.32h7.2M732.72 340.33h7.2M733.51 339.79h7.2M734.3 338.26h7.2M735.09 337.06h7.2M735.89 334.91h7.2M736.68 333.67h7.2M737.47 332.85h7.2M738.26 330.2h7.2M739.05 330.14h7.2M739.84 327.6h7.2M740.63 326.42h7.2M741.42 326.43h7.2M742.21 325.11h7.2M743.01 326.25h7.2M743.8 326.43h7.2M744.59 325.41h7.2M745.38 325.63h7.2M746.17 325.69h7.2M746.96 325.85h7.2M747.75 326.39h7.2M748.54 326.79h7.2M749.33 326.37h7.2M750.12 326.34h7.2M750.92 326.77h7.2M751.71 328.03h7.2M752.5 327.19h7.2M753.29 328.81h7.2M754.08 327.48h7.2M754.87 328.78h7.2M755.66 326.71h7.2M756.45 327.11h7.2M757.24 328.06h7.2M758.04 328.07h7.2M758.83 327.55h7.2M759.62 329.32h7.2M760.41 327.73h7.2" stroke="#0000ff" stroke-width="1.15" fill="none"/>
<line x1="344.9" y1="262.4" x2="344.9" y2="496.0" stroke="#444" stroke-width="1.9" stroke-dasharray="9.7 8.9" stroke-dashoffset="-2.8"/>
<line x1="562.7" y1="262.4" x2="562.7" y2="496.0" stroke="#444" stroke-width="1.9" stroke-dasharray="9.7 8.9" stroke-dashoffset="-2.8"/>
<line x1="641.4" y1="262.4" x2="641.4" y2="496.0" stroke="#444" stroke-width="1.9" stroke-dasharray="9.7 8.9" stroke-dashoffset="-2.8"/>
<line x1="709.4" y1="262.4" x2="709.4" y2="496.0" stroke="#444" stroke-width="1.9" stroke-dasharray="9.7 8.9" stroke-dashoffset="-2.8"/>
<path d="M100.0 262.4H764.5M100.0 496.0H764.5" stroke="#777" stroke-width="1" fill="none"/>
<path d="M123.73 496.0v-2.3M123.73 262.4v2.3M147.46 496.0v-2.3M147.46 262.4v2.3M171.2 496.0v-2.3M171.2 262.4v2.3M194.93 496.0v-4.7M194.93 262.4v4.7M218.66 496.0v-2.3M218.66 262.4v2.3M242.39 496.0v-2.3M242.39 262.4v2.3M266.12 496.0v-2.3M266.12 262.4v2.3M289.86 496.0v-4.7M289.86 262.4v4.7M313.59 496.0v-2.3M313.59 262.4v2.3M337.32 496.0v-2.3M337.32 262.4v2.3M361.05 496.0v-2.3M361.05 262.4v2.3M384.79 496.0v-4.7M384.79 262.4v4.7M408.52 496.0v-2.3M408.52 262.4v2.3M432.25 496.0v-2.3M432.25 262.4v2.3M455.98 496.0v-2.3M455.98 262.4v2.3M479.71 496.0v-4.7M479.71 262.4v4.7M503.45 496.0v-2.3M503.45 262.4v2.3M527.18 496.0v-2.3M527.18 262.4v2.3M550.91 496.0v-2.3M550.91 262.4v2.3M574.64 496.0v-4.7M574.64 262.4v4.7M598.38 496.0v-2.3M598.38 262.4v2.3M622.11 496.0v-2.3M622.11 262.4v2.3M645.84 496.0v-2.3M645.84 262.4v2.3M669.57 496.0v-4.7M669.57 262.4v4.7M693.3 496.0v-2.3M693.3 262.4v2.3M717.04 496.0v-2.3M717.04 262.4v2.3M740.77 496.0v-2.3M740.77 262.4v2.3" stroke="#222" stroke-width="0.9" fill="none"/>
<path d="M100.0 261.9V496.5M100.0 496h7M100.0 478h13.5M100.0 460h7M100.0 442h7M100.0 424h7M100.0 406h13.5M100.0 388h7M100.0 370h7M100.0 352h7M100.0 334h13.5M100.0 316h7M100.0 298h7M100.0 280h7M100.0 262h13.5" stroke="#ff4545" stroke-width="0.85" fill="none"/>
<path d="M764.3 261.9V496.5M764.5 496h-7M764.5 478h-13.5M764.5 460h-7M764.5 442h-7M764.5 424h-7M764.5 406h-13.5M764.5 388h-7M764.5 370h-7M764.5 352h-7M764.5 334h-13.5M764.5 316h-7M764.5 298h-7M764.5 280h-7M764.5 262h-13.5" stroke="#4545ff" stroke-width="0.85" fill="none"/>
<rect x="263.24" y="547.0" width="48.96" height="197.70000000000005" fill="#fdcb93"/>
<path d="M140.44 553.18V574.43M138.74 553.18h3.4M138.74 574.43h3.4M175.78 558.09V579.95M174.08 558.09h3.4M174.08 579.95h3.4M196.46 564.26V586.3M194.76 564.26h3.4M194.76 586.3h3.4M211.13 569.87V591.56M209.43 569.87h3.4M209.43 591.56h3.4M222.5 575.29V596.72M220.8 575.29h3.4M220.8 596.72h3.4M231.8 580.43V601.63M230.1 580.43h3.4M230.1 601.63h3.4M239.66 585.16V606.13M237.96 585.16h3.4M237.96 606.13h3.4M246.47 589.95V610.14M244.77 589.95h3.4M244.77 610.14h3.4M252.47 594.74V614.26M250.77 594.74h3.4M250.77 614.26h3.4M257.84 598.96V617.87M256.14 598.96h3.4M256.14 617.87h3.4M262.7 603.55V621.9M261 603.55h3.4M261 621.9h3.4M267.14 608.27V625.65M265.44 608.27h3.4M265.44 625.65h3.4M271.22 612.66V629.15M269.52 612.66h3.4M269.52 629.15h3.4M275 616.42V632.09M273.3 616.42h3.4M273.3 632.09h3.4M278.52 620.32V635.24M276.82 620.32h3.4M276.82 635.24h3.4M281.81 624.23V638.43M280.11 624.23h3.4M280.11 638.43h3.4M284.9 628.09V641.62M283.2 628.09h3.4M283.2 641.62h3.4M287.81 632.02V644.63M286.11 632.02h3.4M286.11 644.63h3.4M290.57 636.02V647.59M288.87 636.02h3.4M288.87 647.59h3.4M293.18 639.97V650.56M291.48 639.97h3.4M291.48 650.56h3.4M295.67 643.85V653.49M293.97 643.85h3.4M293.97 653.49h3.4M298.04 647.59V656.37M296.34 647.59h3.4M296.34 656.37h3.4M300.31 651.11V659.25M298.61 651.11h3.4M298.61 659.25h3.4M302.48 654.55V662.08M300.78 654.55h3.4M300.78 662.08h3.4M304.56 657.92V664.85M302.86 657.92h3.4M302.86 664.85h3.4M306.56 661.21V667.58M304.86 661.21h3.4M304.86 667.58h3.4M308.49 664.43V670.25M306.79 664.43h3.4M306.79 670.25h3.4M310.34 667.49V672.96M308.64 667.49h3.4M308.64 672.96h3.4M312.13 670.38V675.73M310.43 670.38h3.4M310.43 675.73h3.4M313.86 673.24V678.46M312.16 673.24h3.4M312.16 678.46h3.4M315.53 676.06V681.16M313.83 676.06h3.4M313.83 681.16h3.4M317.15 678.83V683.82M315.45 678.83h3.4M315.45 683.82h3.4M318.72 681.55V686.42M317.02 681.55h3.4M317.02 686.42h3.4M320.24 684.2V688.96M318.54 684.2h3.4M318.54 688.96h3.4M321.72 686.78V691.43M320.02 686.78h3.4M320.02 691.43h3.4M323.15 689.29V693.84M321.45 689.29h3.4M321.45 693.84h3.4M324.55 691.73V696.18M322.85 691.73h3.4M322.85 696.18h3.4M325.91 694.11V698.47M324.21 694.11h3.4M324.21 698.47h3.4M327.23 696.45V700.71M325.53 696.45h3.4M325.53 700.71h3.4M328.53 698.73V702.9M326.83 698.73h3.4M326.83 702.9h3.4M329.78 700.97V705.04M328.08 700.97h3.4M328.08 705.04h3.4M331.01 703.16V707.14M329.31 703.16h3.4M329.31 707.14h3.4M332.21 705.3V709.2M330.51 705.3h3.4M330.51 709.2h3.4M333.39 707.4V711.21M331.69 707.4h3.4M331.69 711.21h3.4M334.53 709.45V713.18M332.83 709.45h3.4M332.83 713.18h3.4M335.65 711.46V715.11M333.95 711.46h3.4M333.95 715.11h3.4M336.75 713.43V717M335.05 713.43h3.4M335.05 717h3.4M337.82 715.36V718.86M336.12 715.36h3.4M336.12 718.86h3.4M338.87 717.26V720.67M337.17 717.26h3.4M337.17 720.67h3.4M339.9 719.12V722.46M338.2 719.12h3.4M338.2 722.46h3.4M340.91 720.94V724.21M339.21 720.94h3.4M339.21 724.21h3.4M341.9 722.73V725.93M340.2 722.73h3.4M340.2 725.93h3.4M342.87 724.49V727.62M341.17 724.49h3.4M341.17 727.62h3.4M343.83 726.23V729.29M342.13 726.23h3.4M342.13 729.29h3.4M344.76 727.93V730.92M343.06 727.93h3.4M343.06 730.92h3.4M345.68 729.6V732.53M343.98 729.6h3.4M343.98 732.53h3.4M346.58 731.25V734.11M344.88 731.25h3.4M344.88 734.11h3.4M347.47 732.87V735.67M345.77 732.87h3.4M345.77 735.67h3.4M348.34 734.46V737.2M346.64 734.46h3.4M346.64 737.2h3.4" stroke="#6a6aff" stroke-width="0.45" fill="none"/>
<path d="M140.44 553.13V572.11M138.74 553.13h3.4M138.74 572.11h3.4M175.78 558.28V577.8M174.08 558.28h3.4M174.08 577.8h3.4M196.46 564.57V584.25M194.76 564.57h3.4M194.76 584.25h3.4M211.13 570.24V589.61M209.43 570.24h3.4M209.43 589.61h3.4M222.5 575.72V594.85M220.8 575.72h3.4M220.8 594.85h3.4M231.8 580.9V599.83M230.1 580.9h3.4M230.1 599.83h3.4M239.66 585.66V604.38M237.96 585.66h3.4M237.96 604.38h3.4M246.47 590.45V608.48M244.77 590.45h3.4M244.77 608.48h3.4M252.47 595.24V612.67M250.77 595.24h3.4M250.77 612.67h3.4M257.84 599.45V616.34M256.14 599.45h3.4M256.14 616.34h3.4M262.7 604.05V620.42M261 604.05h3.4M261 620.42h3.4M267.14 608.74V624.26M265.44 608.74h3.4M265.44 624.26h3.4M271.22 613.1V627.83M269.52 613.1h3.4M269.52 627.83h3.4M275 616.84V630.83M273.3 616.84h3.4M273.3 630.83h3.4M278.52 620.72V634.04M276.82 620.72h3.4M276.82 634.04h3.4M281.81 624.61V637.29M280.11 624.61h3.4M280.11 637.29h3.4M284.9 628.45V640.53M283.2 628.45h3.4M283.2 640.53h3.4M287.81 632.35V643.61M286.11 632.35h3.4M286.11 643.61h3.4M290.57 636.31V646.64M288.87 636.31h3.4M288.87 646.64h3.4M293.18 640.23V649.68M291.48 640.23h3.4M291.48 649.68h3.4M295.67 644.06V652.67M293.97 644.06h3.4M293.97 652.67h3.4M298.04 647.77V655.61M296.34 647.77h3.4M296.34 655.61h3.4M300.31 651.28V658.54M298.61 651.28h3.4M298.61 658.54h3.4M302.48 654.7V661.41M300.78 654.7h3.4M300.78 661.41h3.4M304.56 658.04V664.23M302.86 658.04h3.4M302.86 664.23h3.4M306.56 661.31V667M304.86 661.31h3.4M304.86 667h3.4M308.49 664.51V669.71M306.79 664.51h3.4M306.79 669.71h3.4M310.34 667.56V672.45M308.64 667.56h3.4M308.64 672.45h3.4M312.13 670.46V675.23M310.43 670.46h3.4M310.43 675.23h3.4M313.86 673.32V677.98M312.16 673.32h3.4M312.16 677.98h3.4M315.53 676.15V680.7M313.83 676.15h3.4M313.83 680.7h3.4M317.15 678.92V683.37M315.45 678.92h3.4M315.45 683.37h3.4M318.72 681.64V685.99M317.02 681.64h3.4M317.02 685.99h3.4M320.24 684.29V688.54M318.54 684.29h3.4M318.54 688.54h3.4M321.72 686.88V691.03M320.02 686.88h3.4M320.02 691.03h3.4M323.15 689.39V693.45M321.45 689.39h3.4M321.45 693.45h3.4M324.55 691.83V695.8M322.85 691.83h3.4M322.85 695.8h3.4M325.91 694.22V698.1M324.21 694.22h3.4M324.21 698.1h3.4M327.23 696.56V700.36M325.53 696.56h3.4M325.53 700.36h3.4M328.53 698.84V702.56M326.83 698.84h3.4M326.83 702.56h3.4M329.78 701.08V704.72M328.08 701.08h3.4M328.08 704.72h3.4M331.01 703.27V706.83M329.31 703.27h3.4M329.31 706.83h3.4M332.21 705.42V708.9M330.51 705.42h3.4M330.51 708.9h3.4M333.39 707.52V710.92M331.69 707.52h3.4M331.69 710.92h3.4M334.53 709.57V712.91M332.83 709.57h3.4M332.83 712.91h3.4M335.65 711.59V714.85M333.95 711.59h3.4M333.95 714.85h3.4M336.75 713.56V716.75M335.05 713.56h3.4M335.05 716.75h3.4M337.82 715.49V718.61M336.12 715.49h3.4M336.12 718.61h3.4M338.87 717.39V720.44M337.17 717.39h3.4M337.17 720.44h3.4M339.9 719.25V722.23M338.2 719.25h3.4M338.2 722.23h3.4M340.91 721.07V723.99M339.21 721.07h3.4M339.21 723.99h3.4M341.9 722.87V725.72M340.2 722.87h3.4M340.2 725.72h3.4M342.87 724.63V727.42M341.17 724.63h3.4M341.17 727.42h3.4M343.83 726.36V729.1M342.13 726.36h3.4M342.13 729.1h3.4M344.76 728.07V730.74M343.06 728.07h3.4M343.06 730.74h3.4M345.68 729.74V732.36M343.98 729.74h3.4M343.98 732.36h3.4M346.58 731.39V733.95M344.88 731.39h3.4M344.88 733.95h3.4M347.47 733.01V735.51M345.77 733.01h3.4M345.77 735.51h3.4M348.34 734.61V737.05M346.64 734.61h3.4M346.64 737.05h3.4" stroke="#e82050" stroke-width="0.62" fill="none"/>
<path d="M174.08 716.19h3.4M174.08 728.35h3.4M194.76 710.26h3.4M194.76 719.01h3.4M209.43 704.34h3.4M209.43 709.56h3.4M220.8 696.37h3.4M220.8 701.59h3.4M230.1 689.56h3.4M230.1 694.78h3.4M237.96 683.15h3.4M237.96 688.68h3.4M244.77 675h3.4M244.77 684.06h3.4M250.77 667.79h3.4M250.77 679.97h3.4M256.14 660.45h3.4M256.14 675.42h3.4M261 653.54h3.4M261 671.02h3.4M265.44 647.34h3.4M265.44 666.79h3.4M269.52 641.3h3.4M269.52 662.56h3.4M273.3 636.74h3.4M273.3 659.36h3.4M276.82 633.02h3.4M276.82 655.64h3.4M280.11 629.45h3.4M280.11 652.07h3.4M283.2 625.99h3.4M283.2 648.61h3.4M286.11 622.62h3.4M286.11 645.24h3.4M288.87 619.34h3.4M288.87 641.96h3.4M291.48 616.14h3.4M291.48 638.77h3.4M293.97 613.02h3.4M293.97 635.64h3.4M296.34 610h3.4M296.34 632.56h3.4M298.61 607.24h3.4M298.61 629.29h3.4M300.78 604.44h3.4M300.78 626.01h3.4M302.86 601.67h3.4M302.86 622.78h3.4M304.86 598.98h3.4M304.86 619.64h3.4M306.79 596.42h3.4M306.79 616.66h3.4M308.64 594.05h3.4M308.64 613.86h3.4M310.43 591.87h3.4M310.43 611.26h3.4M312.16 589.82h3.4M312.16 608.79h3.4M313.83 587.87h3.4M313.83 606.44h3.4M315.45 586.01h3.4M315.45 604.19h3.4M317.02 584.25h3.4M317.02 602.06h3.4M318.54 582.59h3.4M318.54 600.03h3.4M320.02 581.02h3.4M320.02 598.1h3.4M321.45 579.54h3.4M321.45 596.28h3.4M322.85 578.17h3.4M322.85 594.58h3.4M324.21 576.95h3.4M324.21 593.02h3.4M325.53 575.79h3.4M325.53 591.55h3.4M326.83 574.62h3.4M326.83 590.07h3.4M328.08 573.39h3.4M328.08 588.53h3.4M329.31 572.05h3.4M329.31 586.9h3.4M330.51 570.66h3.4M330.51 585.22h3.4M331.69 569.26h3.4M331.69 583.55h3.4M332.83 567.91h3.4M332.83 581.92h3.4M333.95 566.64h3.4M333.95 580.38h3.4M335.05 565.47h3.4M335.05 578.95h3.4M336.12 564.35h3.4M336.12 577.57h3.4M337.17 563.28h3.4M337.17 576.24h3.4M338.2 562.25h3.4M338.2 574.97h3.4M339.21 561.26h3.4M339.21 573.74h3.4M340.2 560.31h3.4M340.2 572.55h3.4M341.17 559.4h3.4M341.17 571.41h3.4M342.13 558.52h3.4M342.13 570.31h3.4M343.06 557.68h3.4M343.06 569.24h3.4M343.98 556.87h3.4M343.98 568.2h3.4M344.88 556.08h3.4M344.88 567.2h3.4M345.77 555.33h3.4M345.77 566.24h3.4M346.64 554.6h3.4M346.64 565.3h3.4" stroke="#ff40ff" stroke-width="0.5" fill="none"/>
<path d="M175.78 716.74V727.8M174.08 716.74h3.4M174.08 727.8h3.4M196.46 710.66V718.62M194.76 710.66h3.4M194.76 718.62h3.4M211.13 704.58V709.32M209.43 704.58h3.4M209.43 709.32h3.4M222.5 696.6V701.35M220.8 696.6h3.4M220.8 701.35h3.4M231.8 689.8V694.55M230.1 689.8h3.4M230.1 694.55h3.4M239.66 683.4V688.43M237.96 683.4h3.4M237.96 688.43h3.4M246.47 675.41V683.65M244.77 675.41h3.4M244.77 683.65h3.4M252.47 668.34V679.41M250.77 668.34h3.4M250.77 679.41h3.4M257.84 661.13V674.74M256.14 661.13h3.4M256.14 674.74h3.4M262.7 654.34V670.22M261 654.34h3.4M261 670.22h3.4M267.14 648.22V665.9M265.44 648.22h3.4M265.44 665.9h3.4M271.22 642.26V661.59M269.52 642.26h3.4M269.52 661.59h3.4M275 637.77V658.33M273.3 637.77h3.4M273.3 658.33h3.4M278.52 634.05V654.62M276.82 634.05h3.4M276.82 654.62h3.4M281.81 630.48V651.04M280.11 630.48h3.4M280.11 651.04h3.4M284.9 627.02V647.58M283.2 627.02h3.4M283.2 647.58h3.4M287.81 623.65V644.22M286.11 623.65h3.4M286.11 644.22h3.4M290.57 620.37V640.94M288.87 620.37h3.4M288.87 640.94h3.4M293.18 617.17V637.74M291.48 617.17h3.4M291.48 637.74h3.4M295.67 614.05V634.61M293.97 614.05h3.4M293.97 634.61h3.4M298.04 611.02V631.53M296.34 611.02h3.4M296.34 631.53h3.4M300.31 608.24V628.29M298.61 608.24h3.4M298.61 628.29h3.4M302.48 605.42V625.03M300.78 605.42h3.4M300.78 625.03h3.4M304.56 602.63V621.82M302.86 602.63h3.4M302.86 621.82h3.4M306.56 599.92V618.7M304.86 599.92h3.4M304.86 618.7h3.4M308.49 597.34V615.74M306.79 597.34h3.4M306.79 615.74h3.4M310.34 594.95V612.96M308.64 594.95h3.4M308.64 612.96h3.4M312.13 592.75V610.37M310.43 592.75h3.4M310.43 610.37h3.4M313.86 590.69V607.93M312.16 590.69h3.4M312.16 607.93h3.4M315.53 588.71V605.59M313.83 588.71h3.4M313.83 605.59h3.4M317.15 586.84V603.37M315.45 586.84h3.4M315.45 603.37h3.4M318.72 585.06V601.25M317.02 585.06h3.4M317.02 601.25h3.4M320.24 583.38V599.23M318.54 583.38h3.4M318.54 599.23h3.4M321.72 581.8V597.33M320.02 581.8h3.4M320.02 597.33h3.4M323.15 580.3V595.52M321.45 580.3h3.4M321.45 595.52h3.4M324.55 578.92V593.83M322.85 578.92h3.4M322.85 593.83h3.4M325.91 577.68V592.29M324.21 577.68h3.4M324.21 592.29h3.4M327.23 576.5V590.83M325.53 576.5h3.4M325.53 590.83h3.4M328.53 575.32V589.37M326.83 575.32h3.4M326.83 589.37h3.4M329.78 574.07V587.85M328.08 574.07h3.4M328.08 587.85h3.4M331.01 572.72V586.23M329.31 572.72h3.4M329.31 586.23h3.4M332.21 571.32V584.56M330.51 571.32h3.4M330.51 584.56h3.4M333.39 569.91V582.9M331.69 569.91h3.4M331.69 582.9h3.4M334.53 568.55V581.28M332.83 568.55h3.4M332.83 581.28h3.4M335.65 567.26V579.76M333.95 567.26h3.4M333.95 579.76h3.4M336.75 566.08V578.33M335.05 566.08h3.4M335.05 578.33h3.4M337.82 564.95V576.97M336.12 564.95h3.4M336.12 576.97h3.4M338.87 563.87V575.66M337.17 563.87h3.4M337.17 575.66h3.4M339.9 562.82V574.39M338.2 562.82h3.4M338.2 574.39h3.4M340.91 561.83V573.17M339.21 561.83h3.4M339.21 573.17h3.4M341.9 560.87V572M340.2 560.87h3.4M340.2 572h3.4M342.87 559.95V570.86M341.17 559.95h3.4M341.17 570.86h3.4M343.83 559.06V569.77M342.13 559.06h3.4M342.13 569.77h3.4M344.76 558.21V568.71M343.06 558.21h3.4M343.06 568.71h3.4M345.68 557.38V567.69M343.98 557.38h3.4M343.98 567.69h3.4M346.58 556.59V566.7M344.88 556.59h3.4M344.88 566.7h3.4M347.47 555.83V565.74M345.77 555.83h3.4M345.77 565.74h3.4M348.34 555.09V564.82M346.64 555.09h3.4M346.64 564.82h3.4" stroke="#50704c" stroke-width="0.62" fill="none"/>
<polyline points="140.44,562.62 141.49,562.68 142.53,562.75 143.58,562.83 144.62,562.91 145.67,563.01 146.71,563.11 147.76,563.22 148.8,563.33 149.85,563.46 150.89,563.59 151.94,563.72 152.98,563.86 154.03,564.01 155.07,564.16 156.11,564.32 157.16,564.49 158.2,564.66 159.25,564.83 160.29,565.01 161.34,565.19 162.38,565.38 163.43,565.57 164.47,565.76 165.52,565.96 166.56,566.16 167.61,566.36 168.65,566.57 169.7,566.78 170.74,566.99 171.79,567.2 172.83,567.42 173.87,567.64 174.92,567.85 175.96,568.07 177.01,568.3 178.05,568.55 179.1,568.81 180.14,569.09 181.19,569.37 182.23,569.67 183.28,569.99 184.32,570.31 185.37,570.64 186.41,570.97 187.46,571.32 188.5,571.67 189.55,572.02 190.59,572.38 191.63,572.74 192.68,573.11 193.72,573.47 194.77,573.83 195.81,574.19 196.86,574.55 197.9,574.91 198.95,575.27 199.99,575.64 201.04,576.01 202.08,576.39 203.13,576.78 204.17,577.17 205.22,577.56 206.26,577.97 207.31,578.38 208.35,578.79 209.4,579.21 210.44,579.64 211.48,580.08 212.53,580.53 213.57,580.99 214.62,581.46 215.66,581.94 216.71,582.43 217.75,582.93 218.8,583.44 219.84,583.95 220.89,584.47 221.93,585 222.98,585.53 224.02,586.07 225.07,586.62 226.11,587.19 227.16,587.76 228.2,588.34 229.24,588.92 230.29,589.51 231.33,590.1 232.38,590.7 233.42,591.3 234.47,591.9 235.51,592.51 236.56,593.13 237.6,593.76 238.65,594.4 239.69,595.04 240.74,595.7 241.78,596.36 242.83,597.03 243.87,597.71 244.92,598.4 245.96,599.11 247,599.84 248.05,600.59 249.09,601.37 250.14,602.17 251.18,602.97 252.23,603.77 253.27,604.55 254.32,605.31 255.36,606.05 256.41,606.81 257.45,607.59 258.5,608.42 259.54,609.31 260.59,610.25 261.63,611.22 262.68,612.21 263.72,613.19 264.76,614.19 265.81,615.21 266.85,616.22 267.9,617.24 268.94,618.26 269.99,619.29 271.03,620.29 272.08,621.25 273.12,622.14 274.17,623.05 275.21,624.04 276.26,625.07 277.3,626.12 278.35,627.2 279.39,628.31 280.44,629.44 281.48,630.59 282.53,631.76 283.57,632.95 284.61,634.16 285.66,635.39 286.7,636.63 287.75,637.9 288.79,639.2 289.84,640.53 290.88,641.88 291.93,643.26 292.97,644.66 294.02,646.08 295.06,647.52 296.11,648.97 297.15,650.43 298.2,651.9 299.24,653.38 300.29,654.87 301.33,656.38 302.37,657.9 303.42,659.44 304.46,660.99 305.51,662.56 306.55,664.14 307.6,665.74 308.64,667.35 309.69,668.98 310.73,670.63 311.78,672.28 312.82,673.96 313.87,675.67 314.91,677.39 315.96,679.14 317,680.89 318.05,682.67 319.09,684.45 320.13,686.24 321.18,688.03 322.22,689.83 323.27,691.62 324.31,693.41 325.36,695.21 326.4,697.01 327.45,698.83 328.49,700.64 329.54,702.47 330.58,704.3 331.63,706.13 332.67,707.96 333.72,709.8 334.76,711.64 335.81,713.49 336.85,715.33 337.89,717.18 338.94,719.03 339.98,720.88 341.03,722.74 342.07,724.6 343.12,726.46 344.16,728.33 345.21,730.2 346.25,732.07 347.3,733.95 348.34,735.83" fill="none" stroke="#ff0000" stroke-width="1.8" stroke-dasharray="1.9 4.5"/>
<polyline points="140.44,563.8 141.49,563.86 142.53,563.92 143.58,564 144.62,564.08 145.67,564.17 146.71,564.26 147.76,564.36 148.8,564.47 149.85,564.59 150.89,564.71 151.94,564.84 152.98,564.98 154.03,565.12 155.07,565.27 156.11,565.42 157.16,565.58 158.2,565.74 159.25,565.91 160.29,566.08 161.34,566.26 162.38,566.44 163.43,566.62 164.47,566.81 165.52,567 166.56,567.2 167.61,567.39 168.65,567.59 169.7,567.8 170.74,568 171.79,568.21 172.83,568.42 173.87,568.63 174.92,568.84 175.96,569.06 177.01,569.28 178.05,569.52 179.1,569.78 180.14,570.05 181.19,570.33 182.23,570.62 183.28,570.93 184.32,571.24 185.37,571.57 186.41,571.9 187.46,572.24 188.5,572.58 189.55,572.93 190.59,573.28 191.63,573.64 192.68,573.99 193.72,574.35 194.77,574.71 195.81,575.06 196.86,575.41 197.9,575.76 198.95,576.12 199.99,576.49 201.04,576.85 202.08,577.23 203.13,577.61 204.17,577.99 205.22,578.38 206.26,578.78 207.31,579.18 208.35,579.59 209.4,580.01 210.44,580.43 211.48,580.86 212.53,581.3 213.57,581.76 214.62,582.22 215.66,582.7 216.71,583.18 217.75,583.68 218.8,584.18 219.84,584.68 220.89,585.2 221.93,585.72 222.98,586.24 224.02,586.78 225.07,587.33 226.11,587.88 227.16,588.45 228.2,589.02 229.24,589.6 230.29,590.18 231.33,590.77 232.38,591.36 233.42,591.95 234.47,592.55 235.51,593.16 236.56,593.77 237.6,594.39 238.65,595.02 239.69,595.66 240.74,596.31 241.78,596.96 242.83,597.63 243.87,598.3 244.92,598.99 245.96,599.7 247,600.42 248.05,601.17 249.09,601.94 250.14,602.73 251.18,603.53 252.23,604.32 253.27,605.09 254.32,605.84 255.36,606.58 256.41,607.33 257.45,608.11 258.5,608.93 259.54,609.82 260.59,610.75 261.63,611.72 262.68,612.7 263.72,613.68 264.76,614.67 265.81,615.68 266.85,616.69 267.9,617.7 268.94,618.72 269.99,619.73 271.03,620.73 272.08,621.68 273.12,622.57 274.17,623.48 275.21,624.46 276.26,625.48 277.3,626.53 278.35,627.6 279.39,628.7 280.44,629.82 281.48,630.97 282.53,632.13 283.57,633.32 284.61,634.53 285.66,635.75 286.7,636.99 287.75,638.25 288.79,639.54 289.84,640.86 290.88,642.21 291.93,643.58 292.97,644.98 294.02,646.39 295.06,647.82 296.11,649.27 297.15,650.73 298.2,652.19 299.24,653.66 300.29,655.14 301.33,656.64 302.37,658.16 303.42,659.69 304.46,661.24 305.51,662.8 306.55,664.38 307.6,665.97 308.64,667.58 309.69,669.2 310.73,670.84 311.78,672.49 312.82,674.17 313.87,675.86 314.91,677.58 315.96,679.32 317,681.07 318.05,682.84 319.09,684.62 320.13,686.4 321.18,688.19 322.22,689.97 323.27,691.76 324.31,693.55 325.36,695.34 326.4,697.14 327.45,698.95 328.49,700.76 329.54,702.58 330.58,704.4 331.63,706.22 332.67,708.05 333.72,709.89 334.76,711.72 335.81,713.56 336.85,715.4 337.89,717.24 338.94,719.08 339.98,720.93 341.03,722.78 342.07,724.64 343.12,726.49 344.16,728.36 345.21,730.22 346.25,732.09 347.3,733.96 348.34,735.83" fill="none" stroke="#0000ff" stroke-width="1.6" stroke-dasharray="8.8 10.5"/>
<polyline points="175.78,722.27 176.65,722.02 177.52,721.77 178.39,721.51 179.25,721.24 180.12,720.96 180.99,720.68 181.85,720.39 182.72,720.09 183.59,719.79 184.46,719.48 185.32,719.16 186.19,718.84 187.06,718.51 187.92,718.18 188.79,717.84 189.66,717.49 190.53,717.14 191.39,716.79 192.26,716.43 193.13,716.07 193.99,715.7 194.86,715.33 195.73,714.95 196.6,714.58 197.46,714.19 198.33,713.79 199.2,713.39 200.06,712.98 200.93,712.55 201.8,712.12 202.67,711.68 203.53,711.23 204.4,710.77 205.27,710.31 206.13,709.83 207,709.35 207.87,708.86 208.74,708.36 209.6,707.86 210.47,707.34 211.34,706.82 212.2,706.28 213.07,705.73 213.94,705.15 214.81,704.56 215.67,703.95 216.54,703.33 217.41,702.7 218.27,702.07 219.14,701.43 220.01,700.79 220.88,700.16 221.74,699.53 222.61,698.9 223.48,698.28 224.34,697.66 225.21,697.03 226.08,696.41 226.95,695.78 227.81,695.15 228.68,694.51 229.55,693.87 230.41,693.22 231.28,692.57 232.15,691.91 233.01,691.25 233.88,690.58 234.75,689.91 235.62,689.23 236.48,688.55 237.35,687.85 238.22,687.14 239.08,686.41 239.95,685.66 240.82,684.89 241.69,684.1 242.55,683.28 243.42,682.45 244.29,681.62 245.15,680.78 246.02,679.95 246.89,679.13 247.76,678.32 248.62,677.52 249.49,676.72 250.36,675.92 251.22,675.1 252.09,674.26 252.96,673.38 253.83,672.47 254.69,671.53 255.56,670.55 256.43,669.56 257.29,668.57 258.16,667.57 259.03,666.58 259.9,665.57 260.76,664.56 261.63,663.54 262.5,662.52 263.36,661.5 264.23,660.49 265.1,659.48 265.97,658.46 266.83,657.43 267.7,656.38 268.57,655.28 269.43,654.16 270.3,653.05 271.17,651.99 272.04,651.03 272.9,650.15 273.77,649.3 274.64,648.43 275.5,647.52 276.37,646.61 277.24,645.7 278.11,644.77 278.97,643.84 279.84,642.91 280.71,641.97 281.57,641.02 282.44,640.06 283.31,639.09 284.18,638.12 285.04,637.14 285.91,636.15 286.78,635.14 287.64,634.13 288.51,633.11 289.38,632.08 290.24,631.04 291.11,630 291.98,628.94 292.85,627.87 293.71,626.8 294.58,625.71 295.45,624.62 296.31,623.51 297.18,622.4 298.05,621.27 298.92,620.13 299.78,618.98 300.65,617.8 301.52,616.59 302.38,615.37 303.25,614.12 304.12,612.87 304.99,611.6 305.85,610.34 306.72,609.08 307.59,607.83 308.45,606.58 309.32,605.36 310.19,604.16 311.06,602.98 311.92,601.84 312.79,600.7 313.66,599.57 314.52,598.44 315.39,597.33 316.26,596.23 317.13,595.13 317.99,594.05 318.86,592.98 319.73,591.93 320.59,590.89 321.46,589.86 322.33,588.85 323.2,587.86 324.06,586.9 324.93,585.98 325.8,585.1 326.66,584.24 327.53,583.37 328.4,582.48 329.27,581.55 330.13,580.55 331,579.49 331.87,578.39 332.73,577.26 333.6,576.12 334.47,575 335.34,573.9 336.2,572.85 337.07,571.83 337.94,570.83 338.8,569.84 339.67,568.87 340.54,567.91 341.41,566.97 342.27,566.04 343.14,565.13 344.01,564.23 344.87,563.35 345.74,562.48 346.61,561.62 347.47,560.78 348.34,559.95" fill="none" stroke="#ff00ff" stroke-width="1.8" stroke-dasharray="1.9 4.5"/>
<polyline points="175.78,722.27 176.65,722.02 177.52,721.77 178.39,721.51 179.25,721.24 180.12,720.96 180.99,720.68 181.85,720.39 182.72,720.09 183.59,719.79 184.46,719.48 185.32,719.16 186.19,718.84 187.06,718.51 187.92,718.18 188.79,717.84 189.66,717.49 190.53,717.14 191.39,716.79 192.26,716.43 193.13,716.07 193.99,715.7 194.86,715.33 195.73,714.95 196.6,714.58 197.46,714.19 198.33,713.79 199.2,713.39 200.06,712.98 200.93,712.55 201.8,712.12 202.67,711.68 203.53,711.23 204.4,710.77 205.27,710.31 206.13,709.83 207,709.35 207.87,708.86 208.74,708.36 209.6,707.86 210.47,707.34 211.34,706.82 212.2,706.28 213.07,705.73 213.94,705.15 214.81,704.56 215.67,703.95 216.54,703.33 217.41,702.7 218.27,702.07 219.14,701.43 220.01,700.79 220.88,700.16 221.74,699.53 222.61,698.9 223.48,698.28 224.34,697.66 225.21,697.03 226.08,696.41 226.95,695.78 227.81,695.15 228.68,694.51 229.55,693.87 230.41,693.22 231.28,692.57 232.15,691.91 233.01,691.25 233.88,690.58 234.75,689.91 235.62,689.23 236.48,688.55 237.35,687.85 238.22,687.14 239.08,686.41 239.95,685.66 240.82,684.89 241.69,684.1 242.55,683.28 243.42,682.45 244.29,681.62 245.15,680.78 246.02,679.95 246.89,679.13 247.76,678.32 248.62,677.52 249.49,676.72 250.36,675.92 251.22,675.1 252.09,674.26 252.96,673.38 253.83,672.47 254.69,671.53 255.56,670.55 256.43,669.56 257.29,668.57 258.16,667.57 259.03,666.58 259.9,665.57 260.76,664.56 261.63,663.54 262.5,662.52 263.36,661.5 264.23,660.49 265.1,659.48 265.97,658.46 266.83,657.43 267.7,656.38 268.57,655.28 269.43,654.16 270.3,653.05 271.17,651.99 272.04,651.03 272.9,650.15 273.77,649.3 274.64,648.43 275.5,647.52 276.37,646.61 277.24,645.7 278.11,644.77 278.97,643.84 279.84,642.91 280.71,641.97 281.57,641.02 282.44,640.06 283.31,639.09 284.18,638.12 285.04,637.14 285.91,636.15 286.78,635.14 287.64,634.13 288.51,633.11 289.38,632.08 290.24,631.04 291.11,630 291.98,628.94 292.85,627.87 293.71,626.8 294.58,625.71 295.45,624.62 296.31,623.51 297.18,622.4 298.05,621.27 298.92,620.13 299.78,618.98 300.65,617.8 301.52,616.59 302.38,615.37 303.25,614.12 304.12,612.87 304.99,611.6 305.85,610.34 306.72,609.08 307.59,607.83 308.45,606.58 309.32,605.36 310.19,604.16 311.06,602.98 311.92,601.84 312.79,600.7 313.66,599.57 314.52,598.44 315.39,597.33 316.26,596.23 317.13,595.13 317.99,594.05 318.86,592.98 319.73,591.93 320.59,590.89 321.46,589.86 322.33,588.85 323.2,587.86 324.06,586.9 324.93,585.98 325.8,585.1 326.66,584.24 327.53,583.37 328.4,582.48 329.27,581.55 330.13,580.55 331,579.49 331.87,578.39 332.73,577.26 333.6,576.12 334.47,575 335.34,573.9 336.2,572.85 337.07,571.83 337.94,570.83 338.8,569.84 339.67,568.87 340.54,567.91 341.41,566.97 342.27,566.04 343.14,565.13 344.01,564.23 344.87,563.35 345.74,562.48 346.61,561.62 347.47,560.78 348.34,559.95" fill="none" stroke="#0a8a0a" stroke-width="1.6" stroke-dasharray="8.8 10.5"/>
<path d="M297.05 626.05h1.9M303.25 626.05h1.9M309.45 626.05h1.9M315.65 626.05h1.9M321.85 626.05h1.9M328.05 626.05h1.9M334.25 626.05h1.9M340.45 626.05h1.9M346.65 626.05h1.9M352.85 626.05h1.9M359.05 626.05h1.9M365.25 626.05h1.9M371.45 626.05h1.9M377.65 626.05h1.9M383.85 626.05h1.9M390.05 626.05h1.9M396.25 626.05h1.9M402.45 626.05h1.9M408.65 626.05h1.9" stroke="#0a8a0a" stroke-width="1.6" fill="none"/>
<rect x="74.7" y="547.0" width="340.7" height="197.70000000000005" fill="none" stroke="#6e6e6e" stroke-width="1.3"/>
<path d="M86.44 744.7v-2.1M86.44 547.0v2.1M98.18 744.7v-2.1M98.18 547.0v2.1M109.92 744.7v-2.1M109.92 547.0v2.1M121.66 744.7v-2.1M121.66 547.0v2.1M133.4 744.7v-4.2M133.4 547.0v4.2M145.14 744.7v-2.1M145.14 547.0v2.1M156.88 744.7v-2.1M156.88 547.0v2.1M168.62 744.7v-2.1M168.62 547.0v2.1M180.36 744.7v-2.1M180.36 547.0v2.1M192.1 744.7v-4.2M192.1 547.0v4.2M203.84 744.7v-2.1M203.84 547.0v2.1M215.58 744.7v-2.1M215.58 547.0v2.1M227.32 744.7v-2.1M227.32 547.0v2.1M239.06 744.7v-2.1M239.06 547.0v2.1M250.8 744.7v-4.2M250.8 547.0v4.2M262.54 744.7v-2.1M262.54 547.0v2.1M274.28 744.7v-2.1M274.28 547.0v2.1M286.02 744.7v-2.1M286.02 547.0v2.1M297.76 744.7v-2.1M297.76 547.0v2.1M309.5 744.7v-4.2M309.5 547.0v4.2M321.24 744.7v-2.1M321.24 547.0v2.1M332.98 744.7v-2.1M332.98 547.0v2.1M344.72 744.7v-2.1M344.72 547.0v2.1M356.46 744.7v-2.1M356.46 547.0v2.1M368.2 744.7v-4.2M368.2 547.0v4.2M379.94 744.7v-2.1M379.94 547.0v2.1M391.68 744.7v-2.1M391.68 547.0v2.1M403.42 744.7v-2.1M403.42 547.0v2.1M74.7 734.82h3.5M74.7 724.93h3.5M74.7 715.05h3.5M74.7 705.16h3.5M74.7 695.28h6.9M74.7 685.39h3.5M74.7 675.5h3.5M74.7 665.62h3.5M74.7 655.74h3.5M74.7 645.85h6.9M74.7 635.97h3.5M74.7 626.08h3.5M74.7 616.2h3.5M74.7 606.31h3.5M74.7 596.43h6.9M74.7 586.54h3.5M74.7 576.65h3.5M74.7 566.77h3.5M74.7 556.88h3.5M415.4 736.79h-3.5M415.4 728.88h-3.5M415.4 720.97h-3.5M415.4 713.06h-3.5M415.4 705.15h-6.9M415.4 697.24h-3.5M415.4 689.33h-3.5M415.4 681.42h-3.5M415.4 673.51h-3.5M415.4 665.6h-6.9M415.4 657.69h-3.5M415.4 649.78h-3.5M415.4 641.87h-3.5M415.4 633.96h-3.5M415.4 626.05h-6.9M415.4 618.14h-3.5M415.4 610.23h-3.5M415.4 602.32h-3.5M415.4 594.41h-3.5M415.4 586.5h-6.9M415.4 578.59h-3.5M415.4 570.68h-3.5M415.4 562.77h-3.5M415.4 554.86h-3.5" stroke="#555" stroke-width="1" fill="none"/>
<path d="M134.8 624.7h4.8" stroke="#0a8a0a" stroke-width="1.1"/>
<path d="M134.8 646.6h4.8" stroke="#ff00ff" stroke-width="1.1"/>
<rect x="620.34" y="547.0" width="48.96" height="197.70000000000005" fill="#fdcb93"/>
<path d="M497.54 562.33V576.06M495.84 562.33h3.4M495.84 576.06h3.4M532.88 567.53V581M531.18 567.53h3.4M531.18 581h3.4M553.56 572.17V585.49M551.86 572.17h3.4M551.86 585.49h3.4M568.23 576.2V589.42M566.53 576.2h3.4M566.53 589.42h3.4M579.6 580.91V594.05M577.9 580.91h3.4M577.9 594.05h3.4M588.9 585.1V598.17M587.2 585.1h3.4M587.2 598.17h3.4M596.76 588.74V601.75M595.06 588.74h3.4M595.06 601.75h3.4M603.57 592.6V605.56M601.87 592.6h3.4M601.87 605.56h3.4M609.57 596.59V609.5M607.87 596.59h3.4M607.87 609.5h3.4M614.94 600.25V613.13M613.24 600.25h3.4M613.24 613.13h3.4M619.8 603.71V616.54M618.1 603.71h3.4M618.1 616.54h3.4M624.24 608.19V620.47M622.54 608.19h3.4M622.54 620.47h3.4M628.32 611.48V623.26M626.62 611.48h3.4M626.62 623.26h3.4M632.1 615.69V627.01M630.4 615.69h3.4M630.4 627.01h3.4M635.62 619.39V630.27M633.92 619.39h3.4M633.92 630.27h3.4M638.91 622.97V633.45M637.21 622.97h3.4M637.21 633.45h3.4M642 626.27V636.37M640.3 626.27h3.4M640.3 636.37h3.4M644.91 629.35V638.89M643.21 629.35h3.4M643.21 638.89h3.4M647.67 632.6V641.5M645.97 632.6h3.4M645.97 641.5h3.4M650.28 636.36V644.63M648.58 636.36h3.4M648.58 644.63h3.4M652.77 640.41V648.1M651.07 640.41h3.4M651.07 648.1h3.4M655.14 644.32V651.45M653.44 644.32h3.4M653.44 651.45h3.4M657.41 647.78V654.38M655.71 647.78h3.4M655.71 654.38h3.4M659.58 650.92V657M657.88 650.92h3.4M657.88 657h3.4M661.66 653.85V659.44M659.96 653.85h3.4M659.96 659.44h3.4M663.66 656.66V661.78M661.96 656.66h3.4M661.96 661.78h3.4M665.59 659.41V664.08M663.89 659.41h3.4M663.89 664.08h3.4M667.44 662.08V666.47M665.74 662.08h3.4M665.74 666.47h3.4M669.23 664.69V669M667.53 664.69h3.4M667.53 669h3.4M670.96 667.32V671.56M669.26 667.32h3.4M669.26 671.56h3.4M672.63 669.95V674.12M670.93 669.95h3.4M670.93 674.12h3.4M674.25 672.57V676.65M672.55 672.57h3.4M672.55 676.65h3.4M675.82 675.14V679.16M674.12 675.14h3.4M674.12 679.16h3.4M677.34 677.65V681.61M675.64 677.65h3.4M675.64 681.61h3.4M678.82 680.11V683.99M677.12 680.11h3.4M677.12 683.99h3.4M680.25 682.48V686.31M678.55 682.48h3.4M678.55 686.31h3.4M681.65 684.79V688.55M679.95 684.79h3.4M679.95 688.55h3.4M683.01 687.05V690.75M681.31 687.05h3.4M681.31 690.75h3.4M684.33 689.28V692.92M682.63 689.28h3.4M682.63 692.92h3.4M685.63 691.46V695.04M683.93 691.46h3.4M683.93 695.04h3.4M686.88 693.59V697.12M685.18 693.59h3.4M685.18 697.12h3.4M688.11 695.67V699.15M686.41 695.67h3.4M686.41 699.15h3.4M689.31 697.71V701.13M687.61 697.71h3.4M687.61 701.13h3.4M690.49 699.69V703.06M688.79 699.69h3.4M688.79 703.06h3.4M691.63 701.62V704.94M689.93 701.62h3.4M689.93 704.94h3.4M692.75 703.49V706.76M691.05 703.49h3.4M691.05 706.76h3.4M693.85 705.32V708.54M692.15 705.32h3.4M692.15 708.54h3.4M694.92 707.1V710.27M693.22 707.1h3.4M693.22 710.27h3.4M695.97 708.84V711.96M694.27 708.84h3.4M694.27 711.96h3.4M697 710.54V713.62M695.3 710.54h3.4M695.3 713.62h3.4M698.01 712.21V715.24M696.31 712.21h3.4M696.31 715.24h3.4M699 713.84V716.83M697.3 713.84h3.4M697.3 716.83h3.4M699.97 715.43V718.38M698.27 715.43h3.4M698.27 718.38h3.4M700.93 717V719.9M699.23 717h3.4M699.23 719.9h3.4M701.86 718.53V721.39M700.16 718.53h3.4M700.16 721.39h3.4M702.78 720.03V722.86M701.08 720.03h3.4M701.08 722.86h3.4M703.68 721.51V724.29M701.98 721.51h3.4M701.98 724.29h3.4M704.57 722.95V725.69M702.87 722.95h3.4M702.87 725.69h3.4M705.44 724.37V727.07M703.74 724.37h3.4M703.74 727.07h3.4" stroke="#6a6aff" stroke-width="0.45" fill="none"/>
<path d="M497.54 563.07V575.33M495.84 563.07h3.4M495.84 575.33h3.4M532.88 568.25V580.28M531.18 568.25h3.4M531.18 580.28h3.4M553.56 572.89V584.78M551.86 572.89h3.4M551.86 584.78h3.4M568.23 576.91V588.71M566.53 576.91h3.4M566.53 588.71h3.4M579.6 581.62V593.34M577.9 581.62h3.4M577.9 593.34h3.4M588.9 585.8V597.47M587.2 585.8h3.4M587.2 597.47h3.4M596.76 589.44V601.05M595.06 589.44h3.4M595.06 601.05h3.4M603.57 593.3V604.87M601.87 593.3h3.4M601.87 604.87h3.4M609.57 597.28V608.81M607.87 597.28h3.4M607.87 608.81h3.4M614.94 600.94V612.44M613.24 600.94h3.4M613.24 612.44h3.4M619.8 604.4V615.85M618.1 604.4h3.4M618.1 615.85h3.4M624.24 608.85V619.81M622.54 608.85h3.4M622.54 619.81h3.4M628.32 612.11V622.63M626.62 612.11h3.4M626.62 622.63h3.4M632.1 616.3V626.4M630.4 616.3h3.4M630.4 626.4h3.4M635.62 619.97V629.69M633.92 619.97h3.4M633.92 629.69h3.4M638.91 623.53V632.88M637.21 623.53h3.4M637.21 632.88h3.4M642 626.81V635.83M640.3 626.81h3.4M640.3 635.83h3.4M644.91 629.86V638.38M643.21 629.86h3.4M643.21 638.38h3.4M647.67 633.08V641.02M645.97 633.08h3.4M645.97 641.02h3.4M650.28 636.8V644.19M648.58 636.8h3.4M648.58 644.19h3.4M652.77 640.82V647.69M651.07 640.82h3.4M651.07 647.69h3.4M655.14 644.7V651.07M653.44 644.7h3.4M653.44 651.07h3.4M657.41 648.14V654.02M655.71 648.14h3.4M655.71 654.02h3.4M659.58 651.24V656.68M657.88 651.24h3.4M657.88 656.68h3.4M661.66 654.15V659.14M659.96 654.15h3.4M659.96 659.14h3.4M663.66 656.94V661.51M661.96 656.94h3.4M661.96 661.51h3.4M665.59 659.66V663.83M663.89 659.66h3.4M663.89 663.83h3.4M667.44 662.31V666.23M665.74 662.31h3.4M665.74 666.23h3.4M669.23 664.92V668.77M667.53 664.92h3.4M667.53 668.77h3.4M670.96 667.55V671.33M669.26 667.55h3.4M669.26 671.33h3.4M672.63 670.18V673.89M670.93 670.18h3.4M670.93 673.89h3.4M674.25 672.78V676.44M672.55 672.78h3.4M672.55 676.44h3.4M675.82 675.35V678.94M674.12 675.35h3.4M674.12 678.94h3.4M677.34 677.87V681.39M675.64 677.87h3.4M675.64 681.39h3.4M678.82 680.31V683.78M677.12 680.31h3.4M677.12 683.78h3.4M680.25 682.69V686.1M678.55 682.69h3.4M678.55 686.1h3.4M681.65 684.99V688.35M679.95 684.99h3.4M679.95 688.35h3.4M683.01 687.25V690.55M681.31 687.25h3.4M681.31 690.55h3.4M684.33 689.47V692.72M682.63 689.47h3.4M682.63 692.72h3.4M685.63 691.65V694.85M683.93 691.65h3.4M683.93 694.85h3.4M686.88 693.78V696.93M685.18 693.78h3.4M685.18 696.93h3.4M688.11 695.86V698.96M686.41 695.86h3.4M686.41 698.96h3.4M689.31 697.89V700.95M687.61 697.89h3.4M687.61 700.95h3.4M690.49 699.87V702.88M688.79 699.87h3.4M688.79 702.88h3.4M691.63 701.8V704.76M689.93 701.8h3.4M689.93 704.76h3.4M692.75 703.67V706.59M691.05 703.67h3.4M691.05 706.59h3.4M693.85 705.49V708.36M692.15 705.49h3.4M692.15 708.36h3.4M694.92 707.27V710.1M693.22 707.27h3.4M693.22 710.1h3.4M695.97 709.01V711.8M694.27 709.01h3.4M694.27 711.8h3.4M697 710.71V713.46M695.3 710.71h3.4M695.3 713.46h3.4M698.01 712.37V715.08M696.31 712.37h3.4M696.31 715.08h3.4M699 714V716.67M697.3 714h3.4M697.3 716.67h3.4M699.97 715.59V718.22M698.27 715.59h3.4M698.27 718.22h3.4M700.93 717.15V719.75M699.23 717.15h3.4M699.23 719.75h3.4M701.86 718.68V721.24M700.16 718.68h3.4M700.16 721.24h3.4M702.78 720.18V722.7M701.08 720.18h3.4M701.08 722.7h3.4M703.68 721.66V724.14M701.98 721.66h3.4M701.98 724.14h3.4M704.57 723.1V725.55M702.87 723.1h3.4M702.87 725.55h3.4M705.44 724.51V726.93M703.74 724.51h3.4M703.74 726.93h3.4" stroke="#e82050" stroke-width="0.62" fill="none"/>
<path d="M531.18 724.08h3.4M531.18 729.3h3.4M551.86 717.71h3.4M551.86 722.48h3.4M566.53 711.51h3.4M566.53 715.95h3.4M577.9 704.65h3.4M577.9 708.83h3.4M587.2 698.19h3.4M587.2 702.14h3.4M595.06 691.63h3.4M595.06 695.39h3.4M601.87 685.88h3.4M601.87 689.46h3.4M607.87 679.62h3.4M607.87 683.6h3.4M613.24 673.93h3.4M613.24 679.5h3.4M618.1 667.45h3.4M618.1 674.5h3.4M622.54 661.44h3.4M622.54 670.99h3.4M626.62 655.19h3.4M626.62 667.04h3.4M630.4 650.29h3.4M630.4 664.1h3.4M633.92 644.69h3.4M633.92 659.65h3.4M637.21 639.84h3.4M637.21 655.86h3.4M640.3 635.15h3.4M640.3 652.18h3.4M643.21 631.75h3.4M643.21 649.15h3.4M645.97 628.35h3.4M645.97 645.75h3.4M648.58 624.8h3.4M648.58 642.21h3.4M651.07 621.26h3.4M651.07 638.66h3.4M653.44 617.82h3.4M653.44 635.18h3.4M655.71 614.66h3.4M655.71 631.68h3.4M657.88 611.46h3.4M657.88 628.16h3.4M659.96 608.3h3.4M659.96 624.7h3.4M661.96 605.26h3.4M661.96 621.36h3.4M663.89 602.39h3.4M663.89 618.21h3.4M665.74 599.76h3.4M665.74 615.29h3.4M667.53 597.39h3.4M667.53 612.63h3.4M669.26 595.24h3.4M669.26 610.2h3.4M670.93 593.25h3.4M670.93 607.94h3.4M672.55 591.38h3.4M672.55 605.8h3.4M674.12 589.59h3.4M674.12 603.76h3.4M675.64 587.85h3.4M675.64 601.78h3.4M677.12 586.14h3.4M677.12 599.83h3.4M678.55 584.44h3.4M678.55 597.9h3.4M679.95 582.72h3.4M679.95 595.96h3.4M681.31 581.01h3.4M681.31 594.02h3.4M682.63 579.32h3.4M682.63 592.12h3.4M683.93 577.7h3.4M683.93 590.29h3.4M685.18 576.16h3.4M685.18 588.55h3.4M686.41 574.69h3.4M686.41 586.88h3.4M687.61 573.28h3.4M687.61 585.28h3.4M688.79 571.92h3.4M688.79 583.73h3.4M689.93 570.61h3.4M689.93 582.24h3.4M691.05 569.36h3.4M691.05 580.81h3.4M692.15 568.16h3.4M692.15 579.42h3.4M693.22 566.98h3.4M693.22 578.08h3.4M694.27 565.85h3.4M694.27 576.77h3.4M695.3 564.76h3.4M695.3 575.52h3.4M696.31 563.74h3.4M696.31 574.33h3.4M697.3 562.77h3.4M697.3 573.21h3.4M698.27 561.88h3.4M698.27 572.16h3.4M699.23 561.03h3.4M699.23 571.16h3.4M700.16 560.23h3.4M700.16 570.2h3.4M701.08 559.46h3.4M701.08 569.29h3.4M701.98 558.74h3.4M701.98 568.42h3.4M702.87 558.06h3.4M702.87 567.59h3.4M703.74 557.42h3.4M703.74 566.81h3.4" stroke="#ff40ff" stroke-width="0.5" fill="none"/>
<path d="M532.88 724.32V729.07M531.18 724.32h3.4M531.18 729.07h3.4M553.56 717.93V722.26M551.86 717.93h3.4M551.86 722.26h3.4M568.23 711.71V715.75M566.53 711.71h3.4M566.53 715.75h3.4M579.6 704.84V708.64M577.9 704.84h3.4M577.9 708.64h3.4M588.9 698.37V701.96M587.2 698.37h3.4M587.2 701.96h3.4M596.76 691.81V695.22M595.06 691.81h3.4M595.06 695.22h3.4M603.57 686.04V689.3M601.87 686.04h3.4M601.87 689.3h3.4M609.57 679.8V683.42M607.87 679.8h3.4M607.87 683.42h3.4M614.94 674.18V679.25M613.24 674.18h3.4M613.24 679.25h3.4M619.8 667.77V674.18M618.1 667.77h3.4M618.1 674.18h3.4M624.24 661.87V670.55M622.54 661.87h3.4M622.54 670.55h3.4M628.32 655.73V666.5M626.62 655.73h3.4M626.62 666.5h3.4M632.1 650.92V663.47M630.4 650.92h3.4M630.4 663.47h3.4M635.62 645.37V658.97M633.92 645.37h3.4M633.92 658.97h3.4M638.91 640.56V655.14M637.21 640.56h3.4M637.21 655.14h3.4M642 635.92V651.41M640.3 635.92h3.4M640.3 651.41h3.4M644.91 632.54V648.36M643.21 632.54h3.4M643.21 648.36h3.4M647.67 629.14V644.96M645.97 629.14h3.4M645.97 644.96h3.4M650.28 625.6V641.42M648.58 625.6h3.4M648.58 641.42h3.4M652.77 622.05V637.87M651.07 622.05h3.4M651.07 637.87h3.4M655.14 618.61V634.4M653.44 618.61h3.4M653.44 634.4h3.4M657.41 615.43V630.91M655.71 615.43h3.4M655.71 630.91h3.4M659.58 612.22V627.4M657.88 612.22h3.4M657.88 627.4h3.4M661.66 609.05V623.95M659.96 609.05h3.4M659.96 623.95h3.4M663.66 605.99V620.62M661.96 605.99h3.4M661.96 620.62h3.4M665.59 603.11V617.49M663.89 603.11h3.4M663.89 617.49h3.4M667.44 600.47V614.58M665.74 600.47h3.4M665.74 614.58h3.4M669.23 598.08V611.94M667.53 598.08h3.4M667.53 611.94h3.4M670.96 595.92V609.52M669.26 595.92h3.4M669.26 609.52h3.4M672.63 593.92V607.27M670.93 593.92h3.4M670.93 607.27h3.4M674.25 592.03V605.15M672.55 592.03h3.4M672.55 605.15h3.4M675.82 590.23V603.12M674.12 590.23h3.4M674.12 603.12h3.4M677.34 588.48V601.15M675.64 588.48h3.4M675.64 601.15h3.4M678.82 586.76V599.21M677.12 586.76h3.4M677.12 599.21h3.4M680.25 585.05V597.29M678.55 585.05h3.4M678.55 597.29h3.4M681.65 583.33V595.36M679.95 583.33h3.4M679.95 595.36h3.4M683.01 581.6V593.43M681.31 581.6h3.4M681.31 593.43h3.4M684.33 579.9V591.54M682.63 579.9h3.4M682.63 591.54h3.4M685.63 578.27V589.72M683.93 578.27h3.4M683.93 589.72h3.4M686.88 576.72V587.99M685.18 576.72h3.4M685.18 587.99h3.4M688.11 575.25V586.33M686.41 575.25h3.4M686.41 586.33h3.4M689.31 573.82V584.73M687.61 573.82h3.4M687.61 584.73h3.4M690.49 572.46V583.19M688.79 572.46h3.4M688.79 583.19h3.4M691.63 571.14V581.71M689.93 571.14h3.4M689.93 581.71h3.4M692.75 569.88V580.29M691.05 569.88h3.4M691.05 580.29h3.4M693.85 568.67V578.91M692.15 568.67h3.4M692.15 578.91h3.4M694.92 567.49V577.57M693.22 567.49h3.4M693.22 577.57h3.4M695.97 566.35V576.28M694.27 566.35h3.4M694.27 576.28h3.4M697 565.25V575.03M695.3 565.25h3.4M695.3 575.03h3.4M698.01 564.22V573.85M696.31 564.22h3.4M696.31 573.85h3.4M699 563.25V572.73M697.3 563.25h3.4M697.3 572.73h3.4M699.97 562.35V571.69M698.27 562.35h3.4M698.27 571.69h3.4M700.93 561.49V570.7M699.23 561.49h3.4M699.23 570.7h3.4M701.86 560.68V569.75M700.16 560.68h3.4M700.16 569.75h3.4M702.78 559.91V568.84M701.08 559.91h3.4M701.08 568.84h3.4M703.68 559.18V567.98M701.98 559.18h3.4M701.98 567.98h3.4M704.57 558.49V567.16M702.87 558.49h3.4M702.87 567.16h3.4M705.44 557.84V566.39M703.74 557.84h3.4M703.74 566.39h3.4" stroke="#50704c" stroke-width="0.62" fill="none"/>
<polyline points="497.54,569.2 498.59,569.3 499.63,569.4 500.68,569.51 501.72,569.62 502.77,569.73 503.81,569.85 504.86,569.98 505.9,570.1 506.95,570.23 507.99,570.36 509.04,570.5 510.08,570.64 511.13,570.78 512.17,570.92 513.21,571.07 514.26,571.22 515.3,571.37 516.35,571.53 517.39,571.68 518.44,571.85 519.48,572.01 520.53,572.17 521.57,572.34 522.62,572.51 523.66,572.68 524.71,572.85 525.75,573.03 526.8,573.2 527.84,573.38 528.89,573.56 529.93,573.74 530.97,573.93 532.02,574.11 533.06,574.29 534.11,574.48 535.15,574.68 536.2,574.88 537.24,575.09 538.29,575.3 539.33,575.52 540.38,575.74 541.42,575.97 542.47,576.2 543.51,576.44 544.56,576.68 545.6,576.92 546.65,577.16 547.69,577.41 548.73,577.66 549.78,577.91 550.82,578.17 551.87,578.42 552.91,578.68 553.96,578.93 555,579.19 556.05,579.44 557.09,579.7 558.14,579.96 559.18,580.23 560.23,580.49 561.27,580.77 562.32,581.05 563.36,581.34 564.41,581.63 565.45,581.94 566.5,582.26 567.54,582.59 568.58,582.93 569.63,583.29 570.67,583.68 571.72,584.08 572.76,584.51 573.81,584.95 574.85,585.4 575.9,585.86 576.94,586.32 577.99,586.78 579.03,587.23 580.08,587.68 581.12,588.14 582.17,588.6 583.21,589.06 584.26,589.53 585.3,590 586.34,590.48 587.39,590.95 588.43,591.42 589.48,591.9 590.52,592.36 591.57,592.83 592.61,593.29 593.66,593.76 594.7,594.24 595.75,594.74 596.79,595.26 597.84,595.8 598.88,596.36 599.93,596.94 600.97,597.54 602.02,598.15 603.06,598.78 604.1,599.41 605.15,600.07 606.19,600.76 607.24,601.46 608.28,602.17 609.33,602.88 610.37,603.59 611.42,604.29 612.46,604.99 613.51,605.7 614.55,606.42 615.6,607.15 616.64,607.87 617.69,608.58 618.73,609.32 619.78,610.1 620.82,610.97 621.86,611.98 622.91,613.04 623.95,614.07 625,614.96 626.04,615.72 627.09,616.45 628.13,617.22 629.18,618.14 630.22,619.24 631.27,620.42 632.31,621.58 633.36,622.63 634.4,623.65 635.45,624.66 636.49,625.71 637.54,626.79 638.58,627.87 639.63,628.94 640.67,629.99 641.71,631.04 642.76,632.06 643.8,633.06 644.85,634.06 645.89,635.12 646.94,636.23 647.98,637.42 649.03,638.75 650.07,640.19 651.12,641.72 652.16,643.31 653.21,644.93 654.25,646.54 655.3,648.11 656.34,649.61 657.39,651.05 658.43,652.45 659.47,653.82 660.52,655.18 661.56,656.52 662.61,657.86 663.65,659.21 664.7,660.57 665.74,661.96 666.79,663.37 667.83,664.82 668.88,666.33 669.92,667.87 670.97,669.45 672.01,671.07 673.06,672.71 674.1,674.37 675.15,676.06 676.19,677.75 677.23,679.46 678.28,681.17 679.32,682.88 680.37,684.58 681.41,686.28 682.46,687.99 683.5,689.72 684.55,691.45 685.59,693.19 686.64,694.94 687.68,696.69 688.73,698.44 689.77,700.18 690.82,701.92 691.86,703.66 692.91,705.38 693.95,707.09 694.99,708.8 696.04,710.51 697.08,712.21 698.13,713.91 699.17,715.61 700.22,717.3 701.26,718.99 702.31,720.68 703.35,722.36 704.4,724.04 705.44,725.72" fill="none" stroke="#ff0000" stroke-width="1.8" stroke-dasharray="1.9 4.5"/>
<polyline points="497.54,569.2 498.59,569.3 499.63,569.4 500.68,569.51 501.72,569.62 502.77,569.73 503.81,569.85 504.86,569.98 505.9,570.1 506.95,570.23 507.99,570.36 509.04,570.5 510.08,570.64 511.13,570.78 512.17,570.92 513.21,571.07 514.26,571.22 515.3,571.37 516.35,571.53 517.39,571.68 518.44,571.85 519.48,572.01 520.53,572.17 521.57,572.34 522.62,572.51 523.66,572.68 524.71,572.85 525.75,573.03 526.8,573.2 527.84,573.38 528.89,573.56 529.93,573.74 530.97,573.93 532.02,574.11 533.06,574.29 534.11,574.48 535.15,574.68 536.2,574.88 537.24,575.09 538.29,575.3 539.33,575.52 540.38,575.74 541.42,575.97 542.47,576.2 543.51,576.44 544.56,576.68 545.6,576.92 546.65,577.16 547.69,577.41 548.73,577.66 549.78,577.91 550.82,578.17 551.87,578.42 552.91,578.68 553.96,578.93 555,579.19 556.05,579.44 557.09,579.7 558.14,579.96 559.18,580.23 560.23,580.49 561.27,580.77 562.32,581.05 563.36,581.34 564.41,581.63 565.45,581.94 566.5,582.26 567.54,582.59 568.58,582.93 569.63,583.29 570.67,583.68 571.72,584.08 572.76,584.51 573.81,584.95 574.85,585.4 575.9,585.86 576.94,586.32 577.99,586.78 579.03,587.23 580.08,587.68 581.12,588.14 582.17,588.6 583.21,589.06 584.26,589.53 585.3,590 586.34,590.48 587.39,590.95 588.43,591.42 589.48,591.9 590.52,592.36 591.57,592.83 592.61,593.29 593.66,593.76 594.7,594.24 595.75,594.74 596.79,595.26 597.84,595.8 598.88,596.36 599.93,596.94 600.97,597.54 602.02,598.15 603.06,598.78 604.1,599.41 605.15,600.07 606.19,600.76 607.24,601.46 608.28,602.17 609.33,602.88 610.37,603.59 611.42,604.29 612.46,604.99 613.51,605.7 614.55,606.42 615.6,607.15 616.64,607.87 617.69,608.58 618.73,609.32 619.78,610.1 620.82,610.97 621.86,611.98 622.91,613.04 623.95,614.07 625,614.96 626.04,615.72 627.09,616.45 628.13,617.22 629.18,618.14 630.22,619.24 631.27,620.42 632.31,621.58 633.36,622.63 634.4,623.65 635.45,624.66 636.49,625.71 637.54,626.79 638.58,627.87 639.63,628.94 640.67,629.99 641.71,631.04 642.76,632.06 643.8,633.06 644.85,634.06 645.89,635.12 646.94,636.23 647.98,637.42 649.03,638.75 650.07,640.19 651.12,641.72 652.16,643.31 653.21,644.93 654.25,646.54 655.3,648.11 656.34,649.61 657.39,651.05 658.43,652.45 659.47,653.82 660.52,655.18 661.56,656.52 662.61,657.86 663.65,659.21 664.7,660.57 665.74,661.96 666.79,663.37 667.83,664.82 668.88,666.33 669.92,667.87 670.97,669.45 672.01,671.07 673.06,672.71 674.1,674.37 675.15,676.06 676.19,677.75 677.23,679.46 678.28,681.17 679.32,682.88 680.37,684.58 681.41,686.28 682.46,687.99 683.5,689.72 684.55,691.45 685.59,693.19 686.64,694.94 687.68,696.69 688.73,698.44 689.77,700.18 690.82,701.92 691.86,703.66 692.91,705.38 693.95,707.09 694.99,708.8 696.04,710.51 697.08,712.21 698.13,713.91 699.17,715.61 700.22,717.3 701.26,718.99 702.31,720.68 703.35,722.36 704.4,724.04 705.44,725.72" fill="none" stroke="#0000ff" stroke-width="1.6" stroke-dasharray="8.8 10.5"/>
<polyline points="532.88,726.69 533.75,726.47 534.62,726.25 535.49,726.01 536.35,725.77 537.22,725.53 538.09,725.28 538.95,725.03 539.82,724.77 540.69,724.5 541.56,724.23 542.42,723.96 543.29,723.68 544.16,723.4 545.02,723.11 545.89,722.82 546.76,722.53 547.63,722.23 548.49,721.93 549.36,721.62 550.23,721.31 551.09,721 551.96,720.68 552.83,720.36 553.7,720.04 554.56,719.72 555.43,719.39 556.3,719.05 557.16,718.71 558.03,718.36 558.9,718.01 559.77,717.65 560.63,717.28 561.5,716.91 562.37,716.52 563.23,716.13 564.1,715.74 564.97,715.33 565.84,714.92 566.7,714.5 567.57,714.06 568.44,713.62 569.3,713.17 570.17,712.69 571.04,712.2 571.91,711.68 572.77,711.16 573.64,710.62 574.51,710.07 575.37,709.52 576.24,708.95 577.11,708.38 577.98,707.81 578.84,707.24 579.71,706.67 580.58,706.09 581.44,705.51 582.31,704.92 583.18,704.33 584.05,703.72 584.91,703.11 585.78,702.49 586.65,701.86 587.51,701.22 588.38,700.56 589.25,699.89 590.11,699.2 590.98,698.49 591.85,697.76 592.72,697.02 593.58,696.27 594.45,695.51 595.32,694.76 596.18,694 597.05,693.26 597.92,692.53 598.79,691.8 599.65,691.08 600.52,690.34 601.39,689.6 602.25,688.85 603.12,688.07 603.99,687.28 604.86,686.44 605.72,685.57 606.59,684.68 607.46,683.77 608.32,682.87 609.19,681.99 610.06,681.14 610.93,680.33 611.79,679.56 612.66,678.81 613.53,678.04 614.39,677.24 615.26,676.4 616.13,675.47 617,674.45 617.86,673.38 618.73,672.29 619.6,671.22 620.46,670.21 621.33,669.27 622.2,668.37 623.07,667.48 623.93,666.55 624.8,665.57 625.67,664.5 626.53,663.38 627.4,662.25 628.27,661.18 629.14,660.2 630,659.32 630.87,658.47 631.74,657.59 632.6,656.6 633.47,655.43 634.34,654.12 635.21,652.79 636.07,651.53 636.94,650.37 637.81,649.26 638.67,648.15 639.54,647.01 640.41,645.81 641.28,644.62 642.14,643.49 643.01,642.48 643.88,641.56 644.74,640.64 645.61,639.64 646.48,638.58 647.34,637.47 648.21,636.33 649.08,635.17 649.95,633.98 650.81,632.76 651.68,631.53 652.55,630.28 653.41,629.03 654.28,627.76 655.15,626.5 656.02,625.23 656.88,623.96 657.75,622.65 658.62,621.32 659.48,619.96 660.35,618.59 661.22,617.21 662.09,615.82 662.95,614.43 663.82,613.06 664.69,611.69 665.55,610.35 666.42,609.03 667.29,607.74 668.16,606.5 669.02,605.29 669.89,604.12 670.76,602.98 671.62,601.86 672.49,600.77 673.36,599.69 674.23,598.62 675.09,597.56 675.96,596.5 676.83,595.44 677.69,594.38 678.56,593.31 679.43,592.22 680.3,591.11 681.16,589.99 682.03,588.84 682.9,587.67 683.76,586.49 684.63,585.32 685.5,584.16 686.37,583.02 687.23,581.91 688.1,580.81 688.97,579.71 689.83,578.63 690.7,577.56 691.57,576.5 692.44,575.46 693.3,574.43 694.17,573.41 695.04,572.4 695.9,571.39 696.77,570.4 697.64,569.44 698.51,568.51 699.37,567.62 700.24,566.76 701.11,565.92 701.97,565.11 702.84,564.32 703.71,563.56 704.57,562.82 705.44,562.11" fill="none" stroke="#ff00ff" stroke-width="1.8" stroke-dasharray="1.9 4.5"/>
<polyline points="532.88,726.69 533.75,726.47 534.62,726.25 535.49,726.01 536.35,725.77 537.22,725.53 538.09,725.28 538.95,725.03 539.82,724.77 540.69,724.5 541.56,724.23 542.42,723.96 543.29,723.68 544.16,723.4 545.02,723.11 545.89,722.82 546.76,722.53 547.63,722.23 548.49,721.93 549.36,721.62 550.23,721.31 551.09,721 551.96,720.68 552.83,720.36 553.7,720.04 554.56,719.72 555.43,719.39 556.3,719.05 557.16,718.71 558.03,718.36 558.9,718.01 559.77,717.65 560.63,717.28 561.5,716.91 562.37,716.52 563.23,716.13 564.1,715.74 564.97,715.33 565.84,714.92 566.7,714.5 567.57,714.06 568.44,713.62 569.3,713.17 570.17,712.69 571.04,712.2 571.91,711.68 572.77,711.16 573.64,710.62 574.51,710.07 575.37,709.52 576.24,708.95 577.11,708.38 577.98,707.81 578.84,707.24 579.71,706.67 580.58,706.09 581.44,705.51 582.31,704.92 583.18,704.33 584.05,703.72 584.91,703.11 585.78,702.49 586.65,701.86 587.51,701.22 588.38,700.56 589.25,699.89 590.11,699.2 590.98,698.49 591.85,697.76 592.72,697.02 593.58,696.27 594.45,695.51 595.32,694.76 596.18,694 597.05,693.26 597.92,692.53 598.79,691.8 599.65,691.08 600.52,690.34 601.39,689.6 602.25,688.85 603.12,688.07 603.99,687.28 604.86,686.44 605.72,685.57 606.59,684.68 607.46,683.77 608.32,682.87 609.19,681.99 610.06,681.14 610.93,680.33 611.79,679.56 612.66,678.81 613.53,678.04 614.39,677.24 615.26,676.4 616.13,675.47 617,674.45 617.86,673.38 618.73,672.29 619.6,671.22 620.46,670.21 621.33,669.27 622.2,668.37 623.07,667.48 623.93,666.55 624.8,665.57 625.67,664.5 626.53,663.38 627.4,662.25 628.27,661.18 629.14,660.2 630,659.32 630.87,658.47 631.74,657.59 632.6,656.6 633.47,655.43 634.34,654.12 635.21,652.79 636.07,651.53 636.94,650.37 637.81,649.26 638.67,648.15 639.54,647.01 640.41,645.81 641.28,644.62 642.14,643.49 643.01,642.48 643.88,641.56 644.74,640.64 645.61,639.64 646.48,638.58 647.34,637.47 648.21,636.33 649.08,635.17 649.95,633.98 650.81,632.76 651.68,631.53 652.55,630.28 653.41,629.03 654.28,627.76 655.15,626.5 656.02,625.23 656.88,623.96 657.75,622.65 658.62,621.32 659.48,619.96 660.35,618.59 661.22,617.21 662.09,615.82 662.95,614.43 663.82,613.06 664.69,611.69 665.55,610.35 666.42,609.03 667.29,607.74 668.16,606.5 669.02,605.29 669.89,604.12 670.76,602.98 671.62,601.86 672.49,600.77 673.36,599.69 674.23,598.62 675.09,597.56 675.96,596.5 676.83,595.44 677.69,594.38 678.56,593.31 679.43,592.22 680.3,591.11 681.16,589.99 682.03,588.84 682.9,587.67 683.76,586.49 684.63,585.32 685.5,584.16 686.37,583.02 687.23,581.91 688.1,580.81 688.97,579.71 689.83,578.63 690.7,577.56 691.57,576.5 692.44,575.46 693.3,574.43 694.17,573.41 695.04,572.4 695.9,571.39 696.77,570.4 697.64,569.44 698.51,568.51 699.37,567.62 700.24,566.76 701.11,565.92 701.97,565.11 702.84,564.32 703.71,563.56 704.57,562.82 705.44,562.11" fill="none" stroke="#0a8a0a" stroke-width="1.6" stroke-dasharray="8.8 10.5"/>
<path d="M662.55 626.05h1.9M668.75 626.05h1.9M674.95 626.05h1.9M681.15 626.05h1.9M687.35 626.05h1.9M693.55 626.05h1.9M699.75 626.05h1.9M705.95 626.05h1.9M712.15 626.05h1.9M718.35 626.05h1.9M724.55 626.05h1.9M730.75 626.05h1.9M736.95 626.05h1.9M743.15 626.05h1.9M749.35 626.05h1.9M755.55 626.05h1.9M761.75 626.05h1.9M767.95 626.05h1.9" stroke="#0a8a0a" stroke-width="1.6" fill="none"/>
<rect x="431.8" y="547.0" width="340.7" height="197.70000000000005" fill="none" stroke="#6e6e6e" stroke-width="1.3"/>
<path d="M443.54 744.7v-2.1M443.54 547.0v2.1M455.28 744.7v-2.1M455.28 547.0v2.1M467.02 744.7v-2.1M467.02 547.0v2.1M478.76 744.7v-2.1M478.76 547.0v2.1M490.5 744.7v-4.2M490.5 547.0v4.2M502.24 744.7v-2.1M502.24 547.0v2.1M513.98 744.7v-2.1M513.98 547.0v2.1M525.72 744.7v-2.1M525.72 547.0v2.1M537.46 744.7v-2.1M537.46 547.0v2.1M549.2 744.7v-4.2M549.2 547.0v4.2M560.94 744.7v-2.1M560.94 547.0v2.1M572.68 744.7v-2.1M572.68 547.0v2.1M584.42 744.7v-2.1M584.42 547.0v2.1M596.16 744.7v-2.1M596.16 547.0v2.1M607.9 744.7v-4.2M607.9 547.0v4.2M619.64 744.7v-2.1M619.64 547.0v2.1M631.38 744.7v-2.1M631.38 547.0v2.1M643.12 744.7v-2.1M643.12 547.0v2.1M654.86 744.7v-2.1M654.86 547.0v2.1M666.6 744.7v-4.2M666.6 547.0v4.2M678.34 744.7v-2.1M678.34 547.0v2.1M690.08 744.7v-2.1M690.08 547.0v2.1M701.82 744.7v-2.1M701.82 547.0v2.1M713.56 744.7v-2.1M713.56 547.0v2.1M725.3 744.7v-4.2M725.3 547.0v4.2M737.04 744.7v-2.1M737.04 547.0v2.1M748.78 744.7v-2.1M748.78 547.0v2.1M760.52 744.7v-2.1M760.52 547.0v2.1M431.8 734.82h3.5M431.8 724.93h3.5M431.8 715.05h3.5M431.8 705.16h3.5M431.8 695.28h6.9M431.8 685.39h3.5M431.8 675.5h3.5M431.8 665.62h3.5M431.8 655.74h3.5M431.8 645.85h6.9M431.8 635.97h3.5M431.8 626.08h3.5M431.8 616.2h3.5M431.8 606.31h3.5M431.8 596.43h6.9M431.8 586.54h3.5M431.8 576.65h3.5M431.8 566.77h3.5M431.8 556.88h3.5M772.5 736.79h-3.5M772.5 728.88h-3.5M772.5 720.97h-3.5M772.5 713.06h-3.5M772.5 705.15h-6.9M772.5 697.24h-3.5M772.5 689.33h-3.5M772.5 681.42h-3.5M772.5 673.51h-3.5M772.5 665.6h-6.9M772.5 657.69h-3.5M772.5 649.78h-3.5M772.5 641.87h-3.5M772.5 633.96h-3.5M772.5 626.05h-6.9M772.5 618.14h-3.5M772.5 610.23h-3.5M772.5 602.32h-3.5M772.5 594.41h-3.5M772.5 586.5h-6.9M772.5 578.59h-3.5M772.5 570.68h-3.5M772.5 562.77h-3.5M772.5 554.86h-3.5" stroke="#555" stroke-width="1" fill="none"/>
<path d="M491.9 624.7h4.8" stroke="#0a8a0a" stroke-width="1.1"/>
<path d="M491.9 646.6h4.8" stroke="#ff00ff" stroke-width="1.1"/>
<rect x="263.24" y="755.1" width="48.96" height="198.0" fill="#fdcb93"/>
<path d="M140.44 770.29V785.79M138.74 770.29h3.4M138.74 785.79h3.4M175.78 777.03V790.26M174.08 777.03h3.4M174.08 790.26h3.4M196.46 783.4V795.62M194.76 783.4h3.4M194.76 795.62h3.4M211.13 787.7V800.06M209.43 787.7h3.4M209.43 800.06h3.4M222.5 791.52V803.98M220.8 791.52h3.4M220.8 803.98h3.4M231.8 795.44V807.99M230.1 795.44h3.4M230.1 807.99h3.4M239.66 798.91V811.54M237.96 798.91h3.4M237.96 811.54h3.4M246.47 802.73V815.42M244.77 802.73h3.4M244.77 815.42h3.4M252.47 806.38V819.13M250.77 806.38h3.4M250.77 819.13h3.4M257.84 809.72V822.52M256.14 809.72h3.4M256.14 822.52h3.4M262.7 812.76V825.58M261 812.76h3.4M261 825.58h3.4M267.14 816.81V828.87M265.44 816.81h3.4M265.44 828.87h3.4M271.22 820.32V831.69M269.52 820.32h3.4M269.52 831.69h3.4M275 823.5V834.23M273.3 823.5h3.4M273.3 834.23h3.4M278.52 827.02V837.15M276.82 827.02h3.4M276.82 837.15h3.4M281.81 830.19V839.76M280.11 830.19h3.4M280.11 839.76h3.4M284.9 833.22V842.27M283.2 833.22h3.4M283.2 842.27h3.4M287.81 836.6V845.12M286.11 836.6h3.4M286.11 845.12h3.4M290.57 840.16V848.16M288.87 840.16h3.4M288.87 848.16h3.4M293.18 843.75V851.26M291.48 843.75h3.4M291.48 851.26h3.4M295.67 847.28V854.32M293.97 847.28h3.4M293.97 854.32h3.4M298.04 850.66V857.25M296.34 850.66h3.4M296.34 857.25h3.4M300.31 853.84V860.01M298.61 853.84h3.4M298.61 860.01h3.4M302.48 856.85V862.61M300.78 856.85h3.4M300.78 862.61h3.4M304.56 859.74V865.1M302.86 859.74h3.4M302.86 865.1h3.4M306.56 862.55V867.53M304.86 862.55h3.4M304.86 867.53h3.4M308.49 865.31V869.93M306.79 865.31h3.4M306.79 869.93h3.4M310.34 868V872.39M308.64 868h3.4M308.64 872.39h3.4M312.13 870.62V874.93M310.43 870.62h3.4M310.43 874.93h3.4M313.86 873.26V877.5M312.16 873.26h3.4M312.16 877.5h3.4M315.53 875.91V880.08M313.83 875.91h3.4M313.83 880.08h3.4M317.15 878.54V882.63M315.45 878.54h3.4M315.45 882.63h3.4M318.72 881.13V885.15M317.02 881.13h3.4M317.02 885.15h3.4M320.24 883.66V887.62M318.54 883.66h3.4M318.54 887.62h3.4M321.72 886.13V890.01M320.02 886.13h3.4M320.02 890.01h3.4M323.15 888.51V892.33M321.45 888.51h3.4M321.45 892.33h3.4M324.55 890.82V894.58M322.85 890.82h3.4M322.85 894.58h3.4M325.91 893.09V896.79M324.21 893.09h3.4M324.21 896.79h3.4M327.23 895.32V898.96M325.53 895.32h3.4M325.53 898.96h3.4M328.53 897.51V901.09M326.83 897.51h3.4M326.83 901.09h3.4M329.78 899.64V903.17M328.08 899.64h3.4M328.08 903.17h3.4M331.01 901.72V905.2M329.31 901.72h3.4M329.31 905.2h3.4M332.21 903.75V907.17M330.51 903.75h3.4M330.51 907.17h3.4M333.39 905.71V909.08M331.69 905.71h3.4M331.69 909.08h3.4M334.53 907.61V910.93M332.83 907.61h3.4M332.83 910.93h3.4M335.65 909.44V912.71M333.95 909.44h3.4M333.95 912.71h3.4M336.75 911.21V914.43M335.05 911.21h3.4M335.05 914.43h3.4M337.82 912.93V916.1M336.12 912.93h3.4M336.12 916.1h3.4M338.87 914.61V917.73M337.17 914.61h3.4M337.17 917.73h3.4M339.9 916.24V919.32M338.2 916.24h3.4M338.2 919.32h3.4M340.91 917.83V920.87M339.21 917.83h3.4M339.21 920.87h3.4M341.9 919.38V922.37M340.2 919.38h3.4M340.2 922.37h3.4M342.87 920.9V923.84M341.17 920.9h3.4M341.17 923.84h3.4M343.83 922.37V925.28M342.13 922.37h3.4M342.13 925.28h3.4M344.76 923.82V926.68M343.06 923.82h3.4M343.06 926.68h3.4M345.68 925.22V928.05M343.98 925.22h3.4M343.98 928.05h3.4M346.58 926.6V929.38M344.88 926.6h3.4M344.88 929.38h3.4M347.47 927.94V930.69M345.77 927.94h3.4M345.77 930.69h3.4M348.34 929.26V931.96M346.64 929.26h3.4M346.64 931.96h3.4" stroke="#6a6aff" stroke-width="0.45" fill="none"/>
<path d="M140.44 768.15V781.99M138.74 768.15h3.4M138.74 781.99h3.4M175.78 775.28V787.09M174.08 775.28h3.4M174.08 787.09h3.4M196.46 781.89V792.8M194.76 781.89h3.4M194.76 792.8h3.4M211.13 786.4V797.44M209.43 786.4h3.4M209.43 797.44h3.4M222.5 790.39V801.52M220.8 790.39h3.4M220.8 801.52h3.4M231.8 794.45V805.66M230.1 794.45h3.4M230.1 805.66h3.4M239.66 798.04V809.31M237.96 798.04h3.4M237.96 809.31h3.4M246.47 801.95V813.28M244.77 801.95h3.4M244.77 813.28h3.4M252.47 805.7V817.08M250.77 805.7h3.4M250.77 817.08h3.4M257.84 809.11V820.54M256.14 809.11h3.4M256.14 820.54h3.4M262.7 812.23V823.67M261 812.23h3.4M261 823.67h3.4M267.14 816.3V827.07M265.44 816.3h3.4M265.44 827.07h3.4M271.22 819.83V829.98M269.52 819.83h3.4M269.52 829.98h3.4M275 823.03V832.61M273.3 823.03h3.4M273.3 832.61h3.4M278.52 826.56V835.61M276.82 826.56h3.4M276.82 835.61h3.4M281.81 829.75V838.3M280.11 829.75h3.4M280.11 838.3h3.4M284.9 832.8V840.88M283.2 832.8h3.4M283.2 840.88h3.4M287.81 836.19V843.8M286.11 836.19h3.4M286.11 843.8h3.4M290.57 839.76V846.9M288.87 839.76h3.4M288.87 846.9h3.4M293.18 843.37V850.07M291.48 843.37h3.4M291.48 850.07h3.4M295.67 846.9V853.19M293.97 846.9h3.4M293.97 853.19h3.4M298.04 850.3V856.18M296.34 850.3h3.4M296.34 856.18h3.4M300.31 853.49V858.99M298.61 853.49h3.4M298.61 858.99h3.4M302.48 856.51V861.64M300.78 856.51h3.4M300.78 861.64h3.4M304.56 859.4V864.19M302.86 859.4h3.4M302.86 864.19h3.4M306.56 862.22V866.67M304.86 862.22h3.4M304.86 866.67h3.4M308.49 864.99V869.11M306.79 864.99h3.4M306.79 869.11h3.4M310.34 867.69V871.61M308.64 867.69h3.4M308.64 871.61h3.4M312.13 870.33V874.18M310.43 870.33h3.4M310.43 874.18h3.4M313.86 873V876.78M312.16 873h3.4M312.16 876.78h3.4M315.53 875.67V879.38M313.83 875.67h3.4M313.83 879.38h3.4M317.15 878.32V881.97M315.45 878.32h3.4M315.45 881.97h3.4M318.72 880.92V884.51M317.02 880.92h3.4M317.02 884.51h3.4M320.24 883.48V887M318.54 883.48h3.4M318.54 887h3.4M321.72 885.96V889.43M320.02 885.96h3.4M320.02 889.43h3.4M323.15 888.36V891.77M321.45 888.36h3.4M321.45 891.77h3.4M324.55 890.68V894.04M322.85 890.68h3.4M322.85 894.04h3.4M325.91 892.97V896.27M324.21 892.97h3.4M324.21 896.27h3.4M327.23 895.21V898.46M325.53 895.21h3.4M325.53 898.46h3.4M328.53 897.42V900.62M326.83 897.42h3.4M326.83 900.62h3.4M329.78 899.57V902.72M328.08 899.57h3.4M328.08 902.72h3.4M331.01 901.66V904.77M329.31 901.66h3.4M329.31 904.77h3.4M332.21 903.7V906.76M330.51 903.7h3.4M330.51 906.76h3.4M333.39 905.68V908.68M331.69 905.68h3.4M331.69 908.68h3.4M334.53 907.59V910.55M332.83 907.59h3.4M332.83 910.55h3.4M335.65 909.43V912.35M333.95 909.43h3.4M333.95 912.35h3.4M336.75 911.22V914.09M335.05 911.22h3.4M335.05 914.09h3.4M337.82 912.95V915.78M336.12 912.95h3.4M336.12 915.78h3.4M338.87 914.64V917.43M337.17 914.64h3.4M337.17 917.43h3.4M339.9 916.28V919.03M338.2 916.28h3.4M338.2 919.03h3.4M340.91 917.89V920.6M339.21 917.89h3.4M339.21 920.6h3.4M341.9 919.45V922.12M340.2 919.45h3.4M340.2 922.12h3.4M342.87 920.98V923.61M341.17 920.98h3.4M341.17 923.61h3.4M343.83 922.47V925.06M342.13 922.47h3.4M342.13 925.06h3.4M344.76 923.92V926.48M343.06 923.92h3.4M343.06 926.48h3.4M345.68 925.34V927.86M343.98 925.34h3.4M343.98 927.86h3.4M346.58 926.72V929.21M344.88 926.72h3.4M344.88 929.21h3.4M347.47 928.08V930.53M345.77 928.08h3.4M345.77 930.53h3.4M348.34 929.4V931.82M346.64 929.4h3.4M346.64 931.82h3.4" stroke="#e82050" stroke-width="0.62" fill="none"/>
<path d="M174.08 930.53h3.4M174.08 938.53h3.4M194.76 924.89h3.4M194.76 932.89h3.4M209.43 916.09h3.4M209.43 928.62h3.4M220.8 910.31h3.4M220.8 922.84h3.4M230.1 907.19h3.4M230.1 915.3h3.4M237.96 901.69h3.4M237.96 908.47h3.4M244.77 897.21h3.4M244.77 901.98h3.4M250.77 892.71h3.4M250.77 896.44h3.4M256.14 886.83h3.4M256.14 891.35h3.4M261 881.36h3.4M261 886.66h3.4M265.44 875.01h3.4M265.44 882.62h3.4M269.52 869.22h3.4M269.52 878.94h3.4M273.3 864.39h3.4M273.3 875.97h3.4M276.82 858.71h3.4M276.82 871.59h3.4M280.11 853.92h3.4M280.11 868.02h3.4M283.2 849.5h3.4M283.2 864.75h3.4M286.11 845.75h3.4M286.11 861.41h3.4M288.87 842.18h3.4M288.87 857.84h3.4M291.48 838.66h3.4M291.48 854.32h3.4M293.97 835.19h3.4M293.97 850.85h3.4M296.34 831.79h3.4M296.34 847.4h3.4M298.61 828.56h3.4M298.61 843.77h3.4M300.78 825.16h3.4M300.78 839.98h3.4M302.86 821.73h3.4M302.86 836.18h3.4M304.86 818.43h3.4M304.86 832.53h3.4M306.79 815.4h3.4M306.79 829.15h3.4M308.64 812.71h3.4M308.64 826.16h3.4M310.43 810.42h3.4M310.43 823.62h3.4M312.16 808.42h3.4M312.16 821.39h3.4M313.83 806.63h3.4M313.83 819.37h3.4M315.45 804.99h3.4M315.45 817.5h3.4M317.02 803.46h3.4M317.02 815.75h3.4M318.54 802h3.4M318.54 814.07h3.4M320.02 800.57h3.4M320.02 812.44h3.4M321.45 799.15h3.4M321.45 810.82h3.4M322.85 797.75h3.4M322.85 809.22h3.4M324.21 796.42h3.4M324.21 807.71h3.4M325.53 795.13h3.4M325.53 806.23h3.4M326.83 793.82h3.4M326.83 804.74h3.4M328.08 792.44h3.4M328.08 803.18h3.4M329.31 790.98h3.4M329.31 801.55h3.4M330.51 789.46h3.4M330.51 799.86h3.4M331.69 787.92h3.4M331.69 798.16h3.4M332.83 786.4h3.4M332.83 796.48h3.4M333.95 784.92h3.4M333.95 794.85h3.4M335.05 783.49h3.4M335.05 793.27h3.4M336.12 782.07h3.4M336.12 791.69h3.4M337.17 780.66h3.4M337.17 790.14h3.4M338.2 779.29h3.4M338.2 788.62h3.4M339.21 777.98h3.4M339.21 787.17h3.4M340.2 776.74h3.4M340.2 785.79h3.4M341.17 775.57h3.4M341.17 784.49h3.4M342.13 774.46h3.4M342.13 783.24h3.4M343.06 773.39h3.4M343.06 782.04h3.4M343.98 772.37h3.4M343.98 780.89h3.4M344.88 771.38h3.4M344.88 779.78h3.4M345.77 770.45h3.4M345.77 778.72h3.4M346.64 769.55h3.4M346.64 777.7h3.4" stroke="#ff40ff" stroke-width="0.5" fill="none"/>
<path d="M175.78 930.1V937.38M174.08 930.1h3.4M174.08 937.38h3.4M196.46 924.46V931.74M194.76 924.46h3.4M194.76 931.74h3.4M211.13 915.87V927.26M209.43 915.87h3.4M209.43 927.26h3.4M222.5 910.09V921.48M220.8 910.09h3.4M220.8 921.48h3.4M231.8 906.77V914.14M230.1 906.77h3.4M230.1 914.14h3.4M239.66 901.2V907.37M237.96 901.2h3.4M237.96 907.37h3.4M246.47 896.64V900.97M244.77 896.64h3.4M244.77 900.97h3.4M252.47 892.09V895.48M250.77 892.09h3.4M250.77 895.48h3.4M257.84 886.24V890.36M256.14 886.24h3.4M256.14 890.36h3.4M262.7 880.81V885.63M261 880.81h3.4M261 885.63h3.4M267.14 874.57V881.48M265.44 874.57h3.4M265.44 881.48h3.4M271.22 868.87V877.71M269.52 868.87h3.4M269.52 877.71h3.4M275 864.13V874.65M273.3 864.13h3.4M273.3 874.65h3.4M278.52 858.5V870.21M276.82 858.5h3.4M276.82 870.21h3.4M281.81 853.77V866.59M280.11 853.77h3.4M280.11 866.59h3.4M284.9 849.4V863.27M283.2 849.4h3.4M283.2 863.27h3.4M287.81 845.67V859.91M286.11 845.67h3.4M286.11 859.91h3.4M290.57 842.1V856.34M288.87 842.1h3.4M288.87 856.34h3.4M293.18 838.58V852.82M291.48 838.58h3.4M291.48 852.82h3.4M295.67 835.11V849.35M293.97 835.11h3.4M293.97 849.35h3.4M298.04 831.71V845.9M296.34 831.71h3.4M296.34 845.9h3.4M300.31 828.46V842.29M298.61 828.46h3.4M298.61 842.29h3.4M302.48 825.04V838.51M300.78 825.04h3.4M300.78 838.51h3.4M304.56 821.59V834.73M302.86 821.59h3.4M302.86 834.73h3.4M306.56 818.28V831.1M304.86 818.28h3.4M304.86 831.1h3.4M308.49 815.23V827.74M306.79 815.23h3.4M306.79 827.74h3.4M310.34 812.53V824.76M308.64 812.53h3.4M308.64 824.76h3.4M312.13 810.23V822.23M310.43 810.23h3.4M310.43 822.23h3.4M313.86 808.22V820.01M312.16 808.22h3.4M312.16 820.01h3.4M315.53 806.42V818M313.83 806.42h3.4M313.83 818h3.4M317.15 804.77V816.14M315.45 804.77h3.4M315.45 816.14h3.4M318.72 803.23V814.4M317.02 803.23h3.4M317.02 814.4h3.4M320.24 801.76V812.73M318.54 801.76h3.4M318.54 812.73h3.4M321.72 800.32V811.11M320.02 800.32h3.4M320.02 811.11h3.4M323.15 798.89V809.5M321.45 798.89h3.4M321.45 809.5h3.4M324.55 797.48V807.91M322.85 797.48h3.4M322.85 807.91h3.4M325.91 796.15V806.41M324.21 796.15h3.4M324.21 806.41h3.4M327.23 794.84V804.94M325.53 794.84h3.4M325.53 804.94h3.4M328.53 793.52V803.45M326.83 793.52h3.4M326.83 803.45h3.4M329.78 792.14V801.9M328.08 792.14h3.4M328.08 801.9h3.4M331.01 790.66V800.28M329.31 790.66h3.4M329.31 800.28h3.4M332.21 789.14V798.6M330.51 789.14h3.4M330.51 798.6h3.4M333.39 787.59V796.9M331.69 787.59h3.4M331.69 796.9h3.4M334.53 786.06V795.23M332.83 786.06h3.4M332.83 795.23h3.4M335.65 784.58V793.6M333.95 784.58h3.4M333.95 793.6h3.4M336.75 783.15V792.03M335.05 783.15h3.4M335.05 792.03h3.4M337.82 781.71V790.46M336.12 781.71h3.4M336.12 790.46h3.4M338.87 780.3V788.92M337.17 780.3h3.4M337.17 788.92h3.4M339.9 778.93V787.41M338.2 778.93h3.4M338.2 787.41h3.4M340.91 777.61V785.96M339.21 777.61h3.4M339.21 785.96h3.4M341.9 776.36V784.59M340.2 776.36h3.4M340.2 784.59h3.4M342.87 775.19V783.29M341.17 775.19h3.4M341.17 783.29h3.4M343.83 774.07V782.05M342.13 774.07h3.4M342.13 782.05h3.4M344.76 772.99V780.86M343.06 772.99h3.4M343.06 780.86h3.4M345.68 771.96V779.71M343.98 771.96h3.4M343.98 779.71h3.4M346.58 770.98V778.61M344.88 770.98h3.4M344.88 778.61h3.4M347.47 770.03V777.56M345.77 770.03h3.4M345.77 777.56h3.4M348.34 769.13V776.54M346.64 769.13h3.4M346.64 776.54h3.4" stroke="#50704c" stroke-width="0.62" fill="none"/>
<polyline points="140.44,775.07 141.49,775.17 142.53,775.28 143.58,775.4 144.62,775.52 145.67,775.64 146.71,775.77 147.76,775.91 148.8,776.06 149.85,776.21 150.89,776.36 151.94,776.52 152.98,776.68 154.03,776.85 155.07,777.03 156.11,777.21 157.16,777.39 158.2,777.57 159.25,777.77 160.29,777.96 161.34,778.16 162.38,778.36 163.43,778.56 164.47,778.77 165.52,778.98 166.56,779.2 167.61,779.41 168.65,779.63 169.7,779.85 170.74,780.08 171.79,780.3 172.83,780.53 173.87,780.76 174.92,780.99 175.96,781.23 177.01,781.47 178.05,781.72 179.1,781.99 180.14,782.27 181.19,782.56 182.23,782.86 183.28,783.17 184.32,783.49 185.37,783.81 186.41,784.14 187.46,784.47 188.5,784.81 189.55,785.14 190.59,785.48 191.63,785.82 192.68,786.15 193.72,786.49 194.77,786.82 195.81,787.14 196.86,787.46 197.9,787.78 198.95,788.1 199.99,788.42 201.04,788.74 202.08,789.06 203.13,789.38 204.17,789.7 205.22,790.02 206.26,790.35 207.31,790.68 208.35,791.02 209.4,791.35 210.44,791.69 211.48,792.04 212.53,792.39 213.57,792.74 214.62,793.09 215.66,793.45 216.71,793.81 217.75,794.18 218.8,794.56 219.84,794.94 220.89,795.33 221.93,795.73 222.98,796.15 224.02,796.58 225.07,797.02 226.11,797.48 227.16,797.94 228.2,798.42 229.24,798.89 230.29,799.37 231.33,799.84 232.38,800.32 233.42,800.78 234.47,801.24 235.51,801.71 236.56,802.18 237.6,802.66 238.65,803.17 239.69,803.69 240.74,804.25 241.78,804.83 242.83,805.43 243.87,806.05 244.92,806.68 245.96,807.31 247,807.94 248.05,808.59 249.09,809.24 250.14,809.9 251.18,810.57 252.23,811.23 253.27,811.9 254.32,812.56 255.36,813.23 256.41,813.9 257.45,814.57 258.5,815.25 259.54,815.91 260.59,816.56 261.63,817.22 262.68,817.93 263.72,818.71 264.76,819.58 265.81,820.51 266.85,821.44 267.9,822.31 268.94,823.14 269.99,823.95 271.03,824.75 272.08,825.57 273.12,826.36 274.17,827.16 275.21,828 276.26,828.92 277.3,829.92 278.35,830.93 279.39,831.89 280.44,832.81 281.48,833.73 282.53,834.67 283.57,835.6 284.61,836.57 285.66,837.61 286.7,838.73 287.75,839.92 288.79,841.15 289.84,842.42 290.88,843.73 291.93,845.07 292.97,846.44 294.02,847.82 295.06,849.22 296.11,850.63 297.15,852.04 298.2,853.44 299.24,854.83 300.29,856.21 301.33,857.57 302.37,858.94 303.42,860.3 304.46,861.67 305.51,863.04 306.55,864.43 307.6,865.84 308.64,867.27 309.69,868.72 310.73,870.21 311.78,871.73 312.82,873.3 313.87,874.9 314.91,876.54 315.96,878.21 317,879.9 318.05,881.61 319.09,883.33 320.13,885.07 321.18,886.8 322.22,888.53 323.27,890.25 324.31,891.97 325.36,893.7 326.4,895.44 327.45,897.2 328.49,898.96 329.54,900.72 330.58,902.49 331.63,904.24 332.67,905.99 333.72,907.73 334.76,909.45 335.81,911.14 336.85,912.82 337.89,914.48 338.94,916.14 339.98,917.79 341.03,919.42 342.07,921.05 343.12,922.67 344.16,924.28 345.21,925.88 346.25,927.46 347.3,929.04 348.34,930.61" fill="none" stroke="#ff0000" stroke-width="1.8" stroke-dasharray="1.9 4.5"/>
<polyline points="140.44,778.04 141.49,778.12 142.53,778.22 143.58,778.32 144.62,778.42 145.67,778.53 146.71,778.65 147.76,778.77 148.8,778.9 149.85,779.04 150.89,779.18 151.94,779.32 152.98,779.47 154.03,779.63 155.07,779.78 156.11,779.95 157.16,780.12 158.2,780.29 159.25,780.46 160.29,780.64 161.34,780.83 162.38,781.01 163.43,781.2 164.47,781.39 165.52,781.59 166.56,781.79 167.61,781.99 168.65,782.2 169.7,782.4 170.74,782.61 171.79,782.82 172.83,783.04 173.87,783.25 174.92,783.47 175.96,783.68 177.01,783.91 178.05,784.15 179.1,784.41 180.14,784.67 181.19,784.95 182.23,785.23 183.28,785.53 184.32,785.83 185.37,786.14 186.41,786.45 187.46,786.77 188.5,787.09 189.55,787.41 190.59,787.73 191.63,788.05 192.68,788.37 193.72,788.69 194.77,789.01 195.81,789.32 196.86,789.62 197.9,789.93 198.95,790.23 199.99,790.53 201.04,790.84 202.08,791.14 203.13,791.45 204.17,791.76 205.22,792.07 206.26,792.38 207.31,792.69 208.35,793.01 209.4,793.34 210.44,793.66 211.48,793.99 212.53,794.33 213.57,794.66 214.62,795 215.66,795.34 216.71,795.69 217.75,796.04 218.8,796.4 219.84,796.77 220.89,797.15 221.93,797.54 222.98,797.93 224.02,798.35 225.07,798.78 226.11,799.22 227.16,799.67 228.2,800.13 229.24,800.59 230.29,801.05 231.33,801.51 232.38,801.97 233.42,802.42 234.47,802.87 235.51,803.32 236.56,803.77 237.6,804.24 238.65,804.73 239.69,805.24 240.74,805.78 241.78,806.35 242.83,806.94 243.87,807.54 244.92,808.15 245.96,808.77 247,809.39 248.05,810.02 249.09,810.65 250.14,811.3 251.18,811.95 252.23,812.6 253.27,813.25 254.32,813.9 255.36,814.56 256.41,815.21 257.45,815.87 258.5,816.53 259.54,817.18 260.59,817.81 261.63,818.46 262.68,819.15 263.72,819.91 264.76,820.78 265.81,821.69 266.85,822.6 267.9,823.45 268.94,824.27 269.99,825.06 271.03,825.86 272.08,826.65 273.12,827.43 274.17,828.21 275.21,829.04 276.26,829.95 277.3,830.93 278.35,831.92 279.39,832.87 280.44,833.78 281.48,834.69 282.53,835.61 283.57,836.53 284.61,837.48 285.66,838.5 286.7,839.61 287.75,840.78 288.79,842 289.84,843.25 290.88,844.55 291.93,845.88 292.97,847.23 294.02,848.6 295.06,849.98 296.11,851.38 297.15,852.77 298.2,854.15 299.24,855.53 300.29,856.89 301.33,858.24 302.37,859.59 303.42,860.94 304.46,862.29 305.51,863.65 306.55,865.03 307.6,866.42 308.64,867.83 309.69,869.28 310.73,870.75 311.78,872.26 312.82,873.81 313.87,875.39 314.91,877.02 315.96,878.67 317,880.35 318.05,882.04 319.09,883.75 320.13,885.47 321.18,887.19 322.22,888.9 323.27,890.61 324.31,892.31 325.36,894.02 326.4,895.75 327.45,897.5 328.49,899.24 329.54,900.99 330.58,902.74 331.63,904.48 332.67,906.22 333.72,907.94 334.76,909.64 335.81,911.32 336.85,912.98 337.89,914.63 338.94,916.27 339.98,917.91 341.03,919.53 342.07,921.14 343.12,922.75 344.16,924.34 345.21,925.92 346.25,927.49 347.3,929.06 348.34,930.61" fill="none" stroke="#0000ff" stroke-width="1.6" stroke-dasharray="8.8 10.5"/>
<polyline points="175.78,934.53 176.65,934.38 177.52,934.21 178.39,934.04 179.25,933.86 180.12,933.67 180.99,933.47 181.85,933.27 182.72,933.06 183.59,932.84 184.46,932.61 185.32,932.37 186.19,932.13 187.06,931.89 187.92,931.63 188.79,931.38 189.66,931.11 190.53,930.84 191.39,930.57 192.26,930.29 193.13,930.01 193.99,929.72 194.86,929.43 195.73,929.14 196.6,928.84 197.46,928.53 198.33,928.21 199.2,927.87 200.06,927.52 200.93,927.15 201.8,926.77 202.67,926.39 203.53,925.99 204.4,925.59 205.27,925.18 206.13,924.77 207,924.35 207.87,923.93 208.74,923.51 209.6,923.09 210.47,922.67 211.34,922.26 212.2,921.84 213.07,921.42 213.94,921 214.81,920.57 215.67,920.14 216.54,919.7 217.41,919.26 218.27,918.81 219.14,918.36 220.01,917.91 220.88,917.45 221.74,916.98 222.61,916.52 223.48,916.05 224.34,915.58 225.21,915.12 226.08,914.65 226.95,914.17 227.81,913.68 228.68,913.18 229.55,912.67 230.41,912.13 231.28,911.58 232.15,911.01 233.01,910.4 233.88,909.75 234.75,909.08 235.62,908.38 236.48,907.68 237.35,906.96 238.22,906.25 239.08,905.54 239.95,904.84 240.82,904.15 241.69,903.46 242.55,902.77 243.42,902.07 244.29,901.37 245.15,900.67 246.02,899.96 246.89,899.25 247.76,898.54 248.62,897.83 249.49,897.13 250.36,896.41 251.22,895.68 252.09,894.92 252.96,894.13 253.83,893.3 254.69,892.42 255.56,891.52 256.43,890.6 257.29,889.67 258.16,888.76 259.03,887.86 259.9,886.96 260.76,886.06 261.63,885.16 262.5,884.23 263.36,883.28 264.23,882.29 265.1,881.26 265.97,880.22 266.83,879.18 267.7,878.16 268.57,877.14 269.43,876.13 270.3,875.12 271.17,874.14 272.04,873.2 272.9,872.33 273.77,871.48 274.64,870.58 275.5,869.59 276.37,868.41 277.24,867.1 278.11,865.76 278.97,864.51 279.84,863.39 280.71,862.31 281.57,861.26 282.44,860.19 283.31,859.1 284.18,858.02 285.04,856.95 285.91,855.89 286.78,854.85 287.64,853.79 288.51,852.7 289.38,851.58 290.24,850.44 291.11,849.29 291.98,848.13 292.85,846.96 293.71,845.77 294.58,844.56 295.45,843.34 296.31,842.11 297.18,840.86 298.05,839.59 298.92,838.31 299.78,836.99 300.65,835.62 301.52,834.2 302.38,832.73 303.25,831.24 304.12,829.73 304.99,828.21 305.85,826.7 306.72,825.21 307.59,823.75 308.45,822.33 309.32,820.96 310.19,819.66 311.06,818.43 311.92,817.28 312.79,816.19 313.66,815.14 314.52,814.13 315.39,813.15 316.26,812.2 317.13,811.27 317.99,810.36 318.86,809.46 319.73,808.56 320.59,807.67 321.46,806.77 322.33,805.87 323.2,804.94 324.06,804.01 324.93,803.09 325.8,802.18 326.66,801.28 327.53,800.37 328.4,799.42 329.27,798.43 330.13,797.38 331,796.28 331.87,795.13 332.73,793.94 333.6,792.74 334.47,791.53 335.34,790.32 336.2,789.13 337.07,787.93 337.94,786.72 338.8,785.5 339.67,784.28 340.54,783.08 341.41,781.92 342.27,780.79 343.14,779.7 344.01,778.63 344.87,777.58 345.74,776.56 346.61,775.56 347.47,774.58 348.34,773.63" fill="none" stroke="#ff00ff" stroke-width="1.8" stroke-dasharray="1.9 4.5"/>
<polyline points="175.78,933.74 176.65,933.59 177.52,933.42 178.39,933.25 179.25,933.07 180.12,932.88 180.99,932.68 181.85,932.48 182.72,932.26 183.59,932.04 184.46,931.82 185.32,931.58 186.19,931.34 187.06,931.1 187.92,930.84 188.79,930.59 189.66,930.32 190.53,930.05 191.39,929.78 192.26,929.5 193.13,929.22 193.99,928.93 194.86,928.64 195.73,928.35 196.6,928.05 197.46,927.74 198.33,927.42 199.2,927.08 200.06,926.72 200.93,926.36 201.8,925.98 202.67,925.6 203.53,925.2 204.4,924.8 205.27,924.39 206.13,923.98 207,923.56 207.87,923.14 208.74,922.72 209.6,922.3 210.47,921.88 211.34,921.47 212.2,921.05 213.07,920.63 213.94,920.21 214.81,919.78 215.67,919.35 216.54,918.91 217.41,918.47 218.27,918.02 219.14,917.57 220.01,917.11 220.88,916.66 221.74,916.19 222.61,915.73 223.48,915.26 224.34,914.79 225.21,914.33 226.08,913.85 226.95,913.38 227.81,912.89 228.68,912.39 229.55,911.87 230.41,911.34 231.28,910.79 232.15,910.22 233.01,909.61 233.88,908.96 234.75,908.29 235.62,907.59 236.48,906.88 237.35,906.17 238.22,905.45 239.08,904.75 239.95,904.05 240.82,903.36 241.69,902.67 242.55,901.97 243.42,901.28 244.29,900.58 245.15,899.88 246.02,899.17 246.89,898.45 247.76,897.75 248.62,897.04 249.49,896.33 250.36,895.62 251.22,894.88 252.09,894.13 252.96,893.34 253.83,892.5 254.69,891.63 255.56,890.73 256.43,889.81 257.29,888.88 258.16,887.97 259.03,887.06 259.9,886.17 260.76,885.27 261.63,884.37 262.5,883.44 263.36,882.49 264.23,881.49 265.1,880.47 265.97,879.43 266.83,878.39 267.7,877.37 268.57,876.35 269.43,875.34 270.3,874.33 271.17,873.35 272.04,872.41 272.9,871.54 273.77,870.69 274.64,869.79 275.5,868.8 276.37,867.62 277.24,866.31 278.11,864.97 278.97,863.72 279.84,862.6 280.71,861.52 281.57,860.47 282.44,859.39 283.31,858.31 284.18,857.23 285.04,856.16 285.91,855.1 286.78,854.06 287.64,853 288.51,851.91 289.38,850.78 290.24,849.65 291.11,848.5 291.98,847.34 292.85,846.16 293.71,844.97 294.58,843.77 295.45,842.55 296.31,841.32 297.18,840.07 298.05,838.8 298.92,837.52 299.78,836.2 300.65,834.83 301.52,833.41 302.38,831.94 303.25,830.45 304.12,828.94 304.99,827.42 305.85,825.91 306.72,824.42 307.59,822.96 308.45,821.54 309.32,820.17 310.19,818.87 311.06,817.64 311.92,816.49 312.79,815.4 313.66,814.35 314.52,813.34 315.39,812.36 316.26,811.41 317.13,810.48 317.99,809.57 318.86,808.67 319.73,807.77 320.59,806.88 321.46,805.98 322.33,805.07 323.2,804.15 324.06,803.22 324.93,802.3 325.8,801.39 326.66,800.49 327.53,799.57 328.4,798.63 329.27,797.64 330.13,796.59 331,795.49 331.87,794.34 332.73,793.15 333.6,791.95 334.47,790.73 335.34,789.53 336.2,788.34 337.07,787.14 337.94,785.93 338.8,784.71 339.67,783.49 340.54,782.29 341.41,781.12 342.27,780 343.14,778.91 344.01,777.84 344.87,776.79 345.74,775.77 346.61,774.77 347.47,773.79 348.34,772.83" fill="none" stroke="#0a8a0a" stroke-width="1.6" stroke-dasharray="8.8 10.5"/>
<path d="M307.45 834.45h1.9M313.65 834.45h1.9M319.85 834.45h1.9M326.05 834.45h1.9M332.25 834.45h1.9M338.45 834.45h1.9M344.65 834.45h1.9M350.85 834.45h1.9M357.05 834.45h1.9M363.25 834.45h1.9M369.45 834.45h1.9M375.65 834.45h1.9M381.85 834.45h1.9M388.05 834.45h1.9M394.25 834.45h1.9M400.45 834.45h1.9M406.65 834.45h1.9M412.85 834.45h1.9" stroke="#0a8a0a" stroke-width="1.6" fill="none"/>
<rect x="74.7" y="755.1" width="340.7" height="198.0" fill="none" stroke="#6e6e6e" stroke-width="1.3"/>
<path d="M86.44 953.1v-2.1M86.44 755.1v2.1M98.18 953.1v-2.1M98.18 755.1v2.1M109.92 953.1v-2.1M109.92 755.1v2.1M121.66 953.1v-2.1M121.66 755.1v2.1M133.4 953.1v-4.2M133.4 755.1v4.2M145.14 953.1v-2.1M145.14 755.1v2.1M156.88 953.1v-2.1M156.88 755.1v2.1M168.62 953.1v-2.1M168.62 755.1v2.1M180.36 953.1v-2.1M180.36 755.1v2.1M192.1 953.1v-4.2M192.1 755.1v4.2M203.84 953.1v-2.1M203.84 755.1v2.1M215.58 953.1v-2.1M215.58 755.1v2.1M227.32 953.1v-2.1M227.32 755.1v2.1M239.06 953.1v-2.1M239.06 755.1v2.1M250.8 953.1v-4.2M250.8 755.1v4.2M262.54 953.1v-2.1M262.54 755.1v2.1M274.28 953.1v-2.1M274.28 755.1v2.1M286.02 953.1v-2.1M286.02 755.1v2.1M297.76 953.1v-2.1M297.76 755.1v2.1M309.5 953.1v-4.2M309.5 755.1v4.2M321.24 953.1v-2.1M321.24 755.1v2.1M332.98 953.1v-2.1M332.98 755.1v2.1M344.72 953.1v-2.1M344.72 755.1v2.1M356.46 953.1v-2.1M356.46 755.1v2.1M368.2 953.1v-4.2M368.2 755.1v4.2M379.94 953.1v-2.1M379.94 755.1v2.1M391.68 953.1v-2.1M391.68 755.1v2.1M403.42 953.1v-2.1M403.42 755.1v2.1M74.7 943.22h3.5M74.7 933.33h3.5M74.7 923.45h3.5M74.7 913.56h3.5M74.7 903.68h6.9M74.7 893.79h3.5M74.7 883.9h3.5M74.7 874.02h3.5M74.7 864.13h3.5M74.7 854.25h6.9M74.7 844.37h3.5M74.7 834.48h3.5M74.7 824.6h3.5M74.7 814.71h3.5M74.7 804.83h6.9M74.7 794.94h3.5M74.7 785.06h3.5M74.7 775.17h3.5M74.7 765.28h3.5M415.4 945.19h-3.5M415.4 937.28h-3.5M415.4 929.37h-3.5M415.4 921.46h-3.5M415.4 913.55h-6.9M415.4 905.64h-3.5M415.4 897.73h-3.5M415.4 889.82h-3.5M415.4 881.91h-3.5M415.4 874h-6.9M415.4 866.09h-3.5M415.4 858.18h-3.5M415.4 850.27h-3.5M415.4 842.36h-3.5M415.4 834.45h-6.9M415.4 826.54h-3.5M415.4 818.63h-3.5M415.4 810.72h-3.5M415.4 802.81h-3.5M415.4 794.9h-6.9M415.4 786.99h-3.5M415.4 779.08h-3.5M415.4 771.17h-3.5M415.4 763.26h-3.5" stroke="#555" stroke-width="1" fill="none"/>
<path d="M134.8 832.8h4.8" stroke="#0a8a0a" stroke-width="1.1"/>
<path d="M134.8 854.7h4.8" stroke="#ff00ff" stroke-width="1.1"/>
<rect x="620.34" y="755.1" width="48.96" height="198.0" fill="#fdcb93"/>
<path d="M497.54 769.35V786.62M495.84 769.35h3.4M495.84 786.62h3.4M532.88 777.51V789.78M531.18 777.51h3.4M531.18 789.78h3.4M553.56 783.74V793.89M551.86 783.74h3.4M551.86 793.89h3.4M568.23 787.52V798.26M566.53 787.52h3.4M566.53 798.26h3.4M579.6 791.06V802.27M577.9 791.06h3.4M577.9 802.27h3.4M588.9 795.33V806.91M587.2 795.33h3.4M587.2 806.91h3.4M596.76 798.68V810.59M595.06 798.68h3.4M595.06 810.59h3.4M603.57 802.01V814.19M601.87 802.01h3.4M601.87 814.19h3.4M609.57 805.37V817.8M607.87 805.37h3.4M607.87 817.8h3.4M614.94 808.41V821.06M613.24 808.41h3.4M613.24 821.06h3.4M619.8 811.74V824.56M618.1 811.74h3.4M618.1 824.56h3.4M624.24 815.73V827.79M622.54 815.73h3.4M622.54 827.79h3.4M628.32 819.13V830.5M626.62 819.13h3.4M626.62 830.5h3.4M632.1 822.42V833.14M630.4 822.42h3.4M630.4 833.14h3.4M635.62 825.73V835.86M633.92 825.73h3.4M633.92 835.86h3.4M638.91 829.35V838.92M637.21 829.35h3.4M637.21 838.92h3.4M642 832.62V841.67M640.3 832.62h3.4M640.3 841.67h3.4M644.91 835.86V844.38M643.21 835.86h3.4M643.21 844.38h3.4M647.67 839.09V847.09M645.97 839.09h3.4M645.97 847.09h3.4M650.28 842.57V850.07M648.58 842.57h3.4M648.58 850.07h3.4M652.77 846.15V853.19M651.07 846.15h3.4M651.07 853.19h3.4M655.14 849.64V856.23M653.44 849.64h3.4M653.44 856.23h3.4M657.41 852.88V859.04M655.71 852.88h3.4M655.71 859.04h3.4M659.58 855.95V861.7M657.88 855.95h3.4M657.88 861.7h3.4M661.66 858.89V864.25M659.96 858.89h3.4M659.96 864.25h3.4M663.66 861.72V866.7M661.96 861.72h3.4M661.96 866.7h3.4M665.59 864.46V869.08M663.89 864.46h3.4M663.89 869.08h3.4M667.44 867.08V871.47M665.74 867.08h3.4M665.74 871.47h3.4M669.23 869.57V873.88M667.53 869.57h3.4M667.53 873.88h3.4M670.96 871.99V876.23M669.26 871.99h3.4M669.26 876.23h3.4M672.63 874.34V878.5M670.93 874.34h3.4M670.93 878.5h3.4M674.25 876.64V880.72M672.55 876.64h3.4M672.55 880.72h3.4M675.82 878.89V882.91M674.12 878.89h3.4M674.12 882.91h3.4M677.34 881.11V885.07M675.64 881.11h3.4M675.64 885.07h3.4M678.82 883.31V887.2M677.12 883.31h3.4M677.12 887.2h3.4M680.25 885.5V889.32M678.55 885.5h3.4M678.55 889.32h3.4M681.65 887.69V891.45M679.95 887.69h3.4M679.95 891.45h3.4M683.01 889.9V893.6M681.31 889.9h3.4M681.31 893.6h3.4M684.33 892.11V895.76M682.63 892.11h3.4M682.63 895.76h3.4M685.63 894.32V897.9M683.93 894.32h3.4M683.93 897.9h3.4M686.88 896.49V900.02M685.18 896.49h3.4M685.18 900.02h3.4M688.11 898.62V902.09M686.41 898.62h3.4M686.41 902.09h3.4M689.31 900.69V904.11M687.61 900.69h3.4M687.61 904.11h3.4M690.49 902.69V906.06M688.79 902.69h3.4M688.79 906.06h3.4M691.63 904.62V907.94M689.93 904.62h3.4M689.93 907.94h3.4M692.75 906.47V909.74M691.05 906.47h3.4M691.05 909.74h3.4M693.85 908.24V911.46M692.15 908.24h3.4M692.15 911.46h3.4M694.92 909.96V913.13M693.22 909.96h3.4M693.22 913.13h3.4M695.97 911.64V914.76M694.27 911.64h3.4M694.27 914.76h3.4M697 913.26V916.34M695.3 913.26h3.4M695.3 916.34h3.4M698.01 914.85V917.89M696.31 914.85h3.4M696.31 917.89h3.4M699 916.4V919.39M697.3 916.4h3.4M697.3 919.39h3.4M699.97 917.9V920.85M698.27 917.9h3.4M698.27 920.85h3.4M700.93 919.37V922.28M699.23 919.37h3.4M699.23 922.28h3.4M701.86 920.8V923.67M700.16 920.8h3.4M700.16 923.67h3.4M702.78 922.2V925.02M701.08 922.2h3.4M701.08 925.02h3.4M703.68 923.57V926.35M701.98 923.57h3.4M701.98 926.35h3.4M704.57 924.9V927.64M702.87 924.9h3.4M702.87 927.64h3.4M705.44 926.2V928.9M703.74 926.2h3.4M703.74 928.9h3.4" stroke="#6a6aff" stroke-width="0.45" fill="none"/>
<path d="M497.54 770.28V785.7M495.84 770.28h3.4M495.84 785.7h3.4M532.88 778.17V789.13M531.18 778.17h3.4M531.18 789.13h3.4M553.56 784.29V793.34M551.86 784.29h3.4M551.86 793.34h3.4M568.23 788.1V797.69M566.53 788.1h3.4M566.53 797.69h3.4M579.6 791.66V801.67M577.9 791.66h3.4M577.9 801.67h3.4M588.9 795.95V806.29M587.2 795.95h3.4M587.2 806.29h3.4M596.76 799.32V809.95M595.06 799.32h3.4M595.06 809.95h3.4M603.57 802.66V813.54M601.87 802.66h3.4M601.87 813.54h3.4M609.57 806.03V817.13M607.87 806.03h3.4M607.87 817.13h3.4M614.94 809.08V820.38M613.24 809.08h3.4M613.24 820.38h3.4M619.8 812.43V823.87M618.1 812.43h3.4M618.1 823.87h3.4M624.24 816.38V827.15M622.54 816.38h3.4M622.54 827.15h3.4M628.32 819.74V829.89M626.62 819.74h3.4M626.62 829.89h3.4M632.1 822.99V832.57M630.4 822.99h3.4M630.4 832.57h3.4M635.62 826.27V835.31M633.92 826.27h3.4M633.92 835.31h3.4M638.91 829.86V838.41M637.21 829.86h3.4M637.21 838.41h3.4M642 833.11V841.19M640.3 833.11h3.4M640.3 841.19h3.4M644.91 836.32V843.92M643.21 836.32h3.4M643.21 843.92h3.4M647.67 839.52V846.67M645.97 839.52h3.4M645.97 846.67h3.4M650.28 842.97V849.67M648.58 842.97h3.4M648.58 849.67h3.4M652.77 846.53V852.81M651.07 846.53h3.4M651.07 852.81h3.4M655.14 849.99V855.87M653.44 849.99h3.4M653.44 855.87h3.4M657.41 853.21V858.71M655.71 853.21h3.4M655.71 858.71h3.4M659.58 856.26V861.39M657.88 856.26h3.4M657.88 861.39h3.4M661.66 859.17V863.96M659.96 859.17h3.4M659.96 863.96h3.4M663.66 861.98V866.43M661.96 861.98h3.4M661.96 866.43h3.4M665.59 864.71V868.83M663.89 864.71h3.4M663.89 868.83h3.4M667.44 867.32V871.24M665.74 867.32h3.4M665.74 871.24h3.4M669.23 869.8V873.65M667.53 869.8h3.4M667.53 873.65h3.4M670.96 872.22V876M669.26 872.22h3.4M669.26 876h3.4M672.63 874.56V878.28M670.93 874.56h3.4M670.93 878.28h3.4M674.25 876.85V880.51M672.55 876.85h3.4M672.55 880.51h3.4M675.82 879.11V882.69M674.12 879.11h3.4M674.12 882.69h3.4M677.34 881.33V884.85M675.64 881.33h3.4M675.64 884.85h3.4M678.82 883.52V886.99M677.12 883.52h3.4M677.12 886.99h3.4M680.25 885.71V889.12M678.55 885.71h3.4M678.55 889.12h3.4M681.65 887.89V891.25M679.95 887.89h3.4M679.95 891.25h3.4M683.01 890.1V893.4M681.31 890.1h3.4M681.31 893.4h3.4M684.33 892.31V895.56M682.63 892.31h3.4M682.63 895.56h3.4M685.63 894.51V897.71M683.93 894.51h3.4M683.93 897.71h3.4M686.88 896.68V899.83M685.18 896.68h3.4M685.18 899.83h3.4M688.11 898.8V901.9M686.41 898.8h3.4M686.41 901.9h3.4M689.31 900.87V903.92M687.61 900.87h3.4M687.61 903.92h3.4M690.49 902.87V905.88M688.79 902.87h3.4M688.79 905.88h3.4M691.63 904.8V907.76M689.93 904.8h3.4M689.93 907.76h3.4M692.75 906.65V909.57M691.05 906.65h3.4M691.05 909.57h3.4M693.85 908.42V911.29M692.15 908.42h3.4M692.15 911.29h3.4M694.92 910.13V912.96M693.22 910.13h3.4M693.22 912.96h3.4M695.97 911.8V914.59M694.27 911.8h3.4M694.27 914.59h3.4M697 913.43V916.18M695.3 913.43h3.4M695.3 916.18h3.4M698.01 915.01V917.72M696.31 915.01h3.4M696.31 917.72h3.4M699 916.56V919.23M697.3 916.56h3.4M697.3 919.23h3.4M699.97 918.06V920.69M698.27 918.06h3.4M698.27 920.69h3.4M700.93 919.53V922.12M699.23 919.53h3.4M699.23 922.12h3.4M701.86 920.96V923.51M700.16 920.96h3.4M700.16 923.51h3.4M702.78 922.35V924.87M701.08 922.35h3.4M701.08 924.87h3.4M703.68 923.71V926.2M701.98 923.71h3.4M701.98 926.2h3.4M704.57 925.04V927.49M702.87 925.04h3.4M702.87 927.49h3.4M705.44 926.34V928.76M703.74 926.34h3.4M703.74 928.76h3.4" stroke="#e82050" stroke-width="0.62" fill="none"/>
<path d="M531.18 929h3.4M531.18 937.71h3.4M551.86 921.52h3.4M551.86 932.79h3.4M566.53 915.86h3.4M566.53 928.36h3.4M577.9 910.6h3.4M577.9 921.92h3.4M587.2 907.2h3.4M587.2 915.28h3.4M595.06 902.24h3.4M595.06 909.02h3.4M601.87 898.05h3.4M601.87 902.82h3.4M607.87 894.32h3.4M607.87 898.05h3.4M613.24 888.98h3.4M613.24 893.51h3.4M618.1 884.06h3.4M618.1 889.37h3.4M622.54 878.23h3.4M622.54 885.84h3.4M626.62 872.54h3.4M626.62 882.26h3.4M630.4 867.6h3.4M630.4 879.18h3.4M633.92 862.9h3.4M633.92 875.78h3.4M637.21 858.15h3.4M637.21 872.25h3.4M640.3 853.04h3.4M640.3 868.28h3.4M643.21 849.15h3.4M643.21 864.49h3.4M645.97 846.08h3.4M645.97 860.93h3.4M648.58 842.81h3.4M648.58 857.2h3.4M651.07 839.41h3.4M651.07 853.36h3.4M653.44 836.12h3.4M653.44 849.64h3.4M655.71 833.08h3.4M655.71 846.17h3.4M657.88 830.2h3.4M657.88 842.86h3.4M659.96 827.44h3.4M659.96 839.7h3.4M661.96 824.8h3.4M661.96 836.68h3.4M663.89 822.28h3.4M663.89 833.78h3.4M665.74 819.83h3.4M665.74 831.07h3.4M667.53 817.44h3.4M667.53 828.52h3.4M669.26 815.17h3.4M669.26 826.1h3.4M670.93 813h3.4M670.93 823.78h3.4M672.55 810.91h3.4M672.55 821.55h3.4M674.12 808.89h3.4M674.12 819.4h3.4M675.64 806.93h3.4M675.64 817.31h3.4M677.12 805.03h3.4M677.12 815.27h3.4M678.55 803.16h3.4M678.55 813.28h3.4M679.95 801.33h3.4M679.95 811.33h3.4M681.31 799.53h3.4M681.31 809.41h3.4M682.63 797.78h3.4M682.63 807.54h3.4M683.93 796.08h3.4M683.93 805.73h3.4M685.18 794.44h3.4M685.18 803.98h3.4M686.41 792.86h3.4M686.41 802.29h3.4M687.61 791.33h3.4M687.61 800.66h3.4M688.79 789.84h3.4M688.79 799.07h3.4M689.93 788.38h3.4M689.93 797.51h3.4M691.05 786.94h3.4M691.05 795.97h3.4M692.15 785.5h3.4M692.15 794.44h3.4M693.22 784.05h3.4M693.22 792.89h3.4M694.27 782.61h3.4M694.27 791.36h3.4M695.3 781.21h3.4M695.3 789.87h3.4M696.31 779.87h3.4M696.31 788.44h3.4M697.3 778.6h3.4M697.3 787.09h3.4M698.27 777.42h3.4M698.27 785.82h3.4M699.23 776.29h3.4M699.23 784.6h3.4M700.16 775.2h3.4M700.16 783.44h3.4M701.08 774.16h3.4M701.08 782.32h3.4M701.98 773.17h3.4M701.98 781.25h3.4M702.87 772.22h3.4M702.87 780.22h3.4M703.74 771.32h3.4M703.74 779.24h3.4" stroke="#ff40ff" stroke-width="0.5" fill="none"/>
<path d="M532.88 929.39V937.32M531.18 929.39h3.4M531.18 937.32h3.4M553.56 922.03V932.27M551.86 922.03h3.4M551.86 932.27h3.4M568.23 916.42V927.79M566.53 916.42h3.4M566.53 927.79h3.4M579.6 911.11V921.41M577.9 911.11h3.4M577.9 921.41h3.4M588.9 907.57V914.91M587.2 907.57h3.4M587.2 914.91h3.4M596.76 902.55V908.71M595.06 902.55h3.4M595.06 908.71h3.4M603.57 898.27V902.6M601.87 898.27h3.4M601.87 902.6h3.4M609.57 894.49V897.88M607.87 894.49h3.4M607.87 897.88h3.4M614.94 889.19V893.3M613.24 889.19h3.4M613.24 893.3h3.4M619.8 884.3V889.13M618.1 884.3h3.4M618.1 889.13h3.4M624.24 878.58V885.49M622.54 878.58h3.4M622.54 885.49h3.4M628.32 872.98V881.82M626.62 872.98h3.4M626.62 881.82h3.4M632.1 868.13V878.65M630.4 868.13h3.4M630.4 878.65h3.4M635.62 863.48V875.19M633.92 863.48h3.4M633.92 875.19h3.4M638.91 858.79V871.61M637.21 858.79h3.4M637.21 871.61h3.4M642 853.73V867.59M640.3 853.73h3.4M640.3 867.59h3.4M644.91 849.84V863.79M643.21 849.84h3.4M643.21 863.79h3.4M647.67 846.75V860.26M645.97 846.75h3.4M645.97 860.26h3.4M650.28 843.47V856.55M648.58 843.47h3.4M648.58 856.55h3.4M652.77 840.05V852.72M651.07 840.05h3.4M651.07 852.72h3.4M655.14 836.73V849.02M653.44 836.73h3.4M653.44 849.02h3.4M657.41 833.68V845.57M655.71 833.68h3.4M655.71 845.57h3.4M659.58 830.77V842.29M657.88 830.77h3.4M657.88 842.29h3.4M661.66 828V839.14M659.96 828h3.4M659.96 839.14h3.4M663.66 825.34V836.14M661.96 825.34h3.4M661.96 836.14h3.4M665.59 822.8V833.26M663.89 822.8h3.4M663.89 833.26h3.4M667.44 820.34V830.55M665.74 820.34h3.4M665.74 830.55h3.4M669.23 817.94V828.02M667.53 817.94h3.4M667.53 828.02h3.4M670.96 815.67V825.6M669.26 815.67h3.4M669.26 825.6h3.4M672.63 813.49V823.29M670.93 813.49h3.4M670.93 823.29h3.4M674.25 811.39V821.07M672.55 811.39h3.4M672.55 821.07h3.4M675.82 809.37V818.92M674.12 809.37h3.4M674.12 818.92h3.4M677.34 807.4V816.84M675.64 807.4h3.4M675.64 816.84h3.4M678.82 805.49V814.81M677.12 805.49h3.4M677.12 814.81h3.4M680.25 803.62V812.82M678.55 803.62h3.4M678.55 812.82h3.4M681.65 801.78V810.87M679.95 801.78h3.4M679.95 810.87h3.4M683.01 799.98V808.96M681.31 799.98h3.4M681.31 808.96h3.4M684.33 798.22V807.1M682.63 798.22h3.4M682.63 807.1h3.4M685.63 796.52V805.29M683.93 796.52h3.4M683.93 805.29h3.4M686.88 794.87V803.54M685.18 794.87h3.4M685.18 803.54h3.4M688.11 793.29V801.86M686.41 793.29h3.4M686.41 801.86h3.4M689.31 791.75V800.24M687.61 791.75h3.4M687.61 800.24h3.4M690.49 790.26V798.65M688.79 790.26h3.4M688.79 798.65h3.4M691.63 788.8V797.1M689.93 788.8h3.4M689.93 797.1h3.4M692.75 787.35V795.56M691.05 787.35h3.4M691.05 795.56h3.4M693.85 785.91V794.03M692.15 785.91h3.4M692.15 794.03h3.4M694.92 784.45V792.49M693.22 784.45h3.4M693.22 792.49h3.4M695.97 783.01V790.96M694.27 783.01h3.4M694.27 790.96h3.4M697 781.6V789.48M695.3 781.6h3.4M695.3 789.48h3.4M698.01 780.26V788.05M696.31 780.26h3.4M696.31 788.05h3.4M699 778.99V786.7M697.3 778.99h3.4M697.3 786.7h3.4M699.97 777.8V785.44M698.27 777.8h3.4M698.27 785.44h3.4M700.93 776.66V784.23M699.23 776.66h3.4M699.23 784.23h3.4M701.86 775.58V783.06M700.16 775.58h3.4M700.16 783.06h3.4M702.78 774.54V781.95M701.08 774.54h3.4M701.08 781.95h3.4M703.68 773.54V780.88M701.98 773.54h3.4M701.98 780.88h3.4M704.57 772.59V779.86M702.87 772.59h3.4M702.87 779.86h3.4M705.44 771.68V778.88M703.74 771.68h3.4M703.74 778.88h3.4" stroke="#50704c" stroke-width="0.62" fill="none"/>
<polyline points="497.54,777.99 498.59,778.1 499.63,778.21 500.68,778.33 501.72,778.45 502.77,778.58 503.81,778.71 504.86,778.85 505.9,778.99 506.95,779.13 507.99,779.28 509.04,779.43 510.08,779.58 511.13,779.74 512.17,779.9 513.21,780.07 514.26,780.24 515.3,780.41 516.35,780.58 517.39,780.76 518.44,780.94 519.48,781.12 520.53,781.3 521.57,781.49 522.62,781.68 523.66,781.87 524.71,782.06 525.75,782.26 526.8,782.46 527.84,782.66 528.89,782.86 529.93,783.06 530.97,783.27 532.02,783.48 533.06,783.68 534.11,783.9 535.15,784.12 536.2,784.35 537.24,784.59 538.29,784.83 539.33,785.08 540.38,785.34 541.42,785.6 542.47,785.87 543.51,786.14 544.56,786.41 545.6,786.69 546.65,786.96 547.69,787.24 548.73,787.52 549.78,787.81 550.82,788.09 551.87,788.37 552.91,788.64 553.96,788.92 555,789.2 556.05,789.48 557.09,789.75 558.14,790.03 559.18,790.32 560.23,790.6 561.27,790.89 562.32,791.18 563.36,791.47 564.41,791.77 565.45,792.07 566.5,792.38 567.54,792.69 568.58,793 569.63,793.32 570.67,793.64 571.72,793.96 572.76,794.28 573.81,794.62 574.85,794.96 575.9,795.31 576.94,795.67 577.99,796.05 579.03,796.44 580.08,796.86 581.12,797.31 582.17,797.79 583.21,798.3 584.26,798.82 585.3,799.35 586.34,799.88 587.39,800.4 588.43,800.9 589.48,801.39 590.52,801.86 591.57,802.31 592.61,802.77 593.66,803.22 594.7,803.69 595.75,804.16 596.79,804.65 597.84,805.15 598.88,805.67 599.93,806.19 600.97,806.72 602.02,807.27 603.06,807.83 604.1,808.39 605.15,808.98 606.19,809.58 607.24,810.2 608.28,810.82 609.33,811.44 610.37,812.05 611.42,812.65 612.46,813.25 613.51,813.86 614.55,814.49 615.6,815.15 616.64,815.85 617.69,816.58 618.73,817.35 619.78,818.13 620.82,818.94 621.86,819.79 622.91,820.67 623.95,821.53 625,822.36 626.04,823.14 627.09,823.9 628.13,824.67 629.18,825.47 630.22,826.28 631.27,827.11 632.31,827.95 633.36,828.82 634.4,829.71 635.45,830.63 636.49,831.62 637.54,832.69 638.58,833.8 639.63,834.86 640.67,835.86 641.71,836.87 642.76,837.91 643.8,838.97 644.85,840.05 645.89,841.16 646.94,842.28 647.98,843.46 649.03,844.72 650.07,846.04 651.12,847.42 652.16,848.83 653.21,850.27 654.25,851.71 655.3,853.14 656.34,854.54 657.39,855.93 658.43,857.31 659.47,858.69 660.52,860.06 661.56,861.44 662.61,862.81 663.65,864.2 664.7,865.59 665.74,866.98 666.79,868.39 667.83,869.81 668.88,871.24 669.92,872.68 670.97,874.12 672.01,875.56 673.06,877.01 674.1,878.47 675.15,879.94 676.19,881.43 677.23,882.94 678.28,884.46 679.32,886.01 680.37,887.59 681.41,889.2 682.46,890.85 683.5,892.56 684.55,894.29 685.59,896.05 686.64,897.83 687.68,899.61 688.73,901.4 689.77,903.17 690.82,904.93 691.86,906.66 692.91,908.35 693.95,910.01 694.99,911.66 696.04,913.3 697.08,914.93 698.13,916.55 699.17,918.15 700.22,919.75 701.26,921.33 702.31,922.9 703.35,924.46 704.4,926.01 705.44,927.55" fill="none" stroke="#ff0000" stroke-width="1.8" stroke-dasharray="1.9 4.5"/>
<polyline points="497.54,777.99 498.59,778.1 499.63,778.21 500.68,778.33 501.72,778.45 502.77,778.58 503.81,778.71 504.86,778.85 505.9,778.99 506.95,779.13 507.99,779.28 509.04,779.43 510.08,779.58 511.13,779.74 512.17,779.9 513.21,780.07 514.26,780.24 515.3,780.41 516.35,780.58 517.39,780.76 518.44,780.94 519.48,781.12 520.53,781.3 521.57,781.49 522.62,781.68 523.66,781.87 524.71,782.06 525.75,782.26 526.8,782.46 527.84,782.66 528.89,782.86 529.93,783.06 530.97,783.27 532.02,783.48 533.06,783.68 534.11,783.9 535.15,784.12 536.2,784.35 537.24,784.59 538.29,784.83 539.33,785.08 540.38,785.34 541.42,785.6 542.47,785.87 543.51,786.14 544.56,786.41 545.6,786.69 546.65,786.96 547.69,787.24 548.73,787.52 549.78,787.81 550.82,788.09 551.87,788.37 552.91,788.64 553.96,788.92 555,789.2 556.05,789.48 557.09,789.75 558.14,790.03 559.18,790.32 560.23,790.6 561.27,790.89 562.32,791.18 563.36,791.47 564.41,791.77 565.45,792.07 566.5,792.38 567.54,792.69 568.58,793 569.63,793.32 570.67,793.64 571.72,793.96 572.76,794.28 573.81,794.62 574.85,794.96 575.9,795.31 576.94,795.67 577.99,796.05 579.03,796.44 580.08,796.86 581.12,797.31 582.17,797.79 583.21,798.3 584.26,798.82 585.3,799.35 586.34,799.88 587.39,800.4 588.43,800.9 589.48,801.39 590.52,801.86 591.57,802.31 592.61,802.77 593.66,803.22 594.7,803.69 595.75,804.16 596.79,804.65 597.84,805.15 598.88,805.67 599.93,806.19 600.97,806.72 602.02,807.27 603.06,807.83 604.1,808.39 605.15,808.98 606.19,809.58 607.24,810.2 608.28,810.82 609.33,811.44 610.37,812.05 611.42,812.65 612.46,813.25 613.51,813.86 614.55,814.49 615.6,815.15 616.64,815.85 617.69,816.58 618.73,817.35 619.78,818.13 620.82,818.94 621.86,819.79 622.91,820.67 623.95,821.53 625,822.36 626.04,823.14 627.09,823.9 628.13,824.67 629.18,825.47 630.22,826.28 631.27,827.11 632.31,827.95 633.36,828.82 634.4,829.71 635.45,830.63 636.49,831.62 637.54,832.69 638.58,833.8 639.63,834.86 640.67,835.86 641.71,836.87 642.76,837.91 643.8,838.97 644.85,840.05 645.89,841.16 646.94,842.28 647.98,843.46 649.03,844.72 650.07,846.04 651.12,847.42 652.16,848.83 653.21,850.27 654.25,851.71 655.3,853.14 656.34,854.54 657.39,855.93 658.43,857.31 659.47,858.69 660.52,860.06 661.56,861.44 662.61,862.81 663.65,864.2 664.7,865.59 665.74,866.98 666.79,868.39 667.83,869.81 668.88,871.24 669.92,872.68 670.97,874.12 672.01,875.56 673.06,877.01 674.1,878.47 675.15,879.94 676.19,881.43 677.23,882.94 678.28,884.46 679.32,886.01 680.37,887.59 681.41,889.2 682.46,890.85 683.5,892.56 684.55,894.29 685.59,896.05 686.64,897.83 687.68,899.61 688.73,901.4 689.77,903.17 690.82,904.93 691.86,906.66 692.91,908.35 693.95,910.01 694.99,911.66 696.04,913.3 697.08,914.93 698.13,916.55 699.17,918.15 700.22,919.75 701.26,921.33 702.31,922.9 703.35,924.46 704.4,926.01 705.44,927.55" fill="none" stroke="#0000ff" stroke-width="1.6" stroke-dasharray="8.8 10.5"/>
<polyline points="532.88,933.36 533.75,933.12 534.62,932.88 535.49,932.63 536.35,932.39 537.22,932.14 538.09,931.89 538.95,931.64 539.82,931.39 540.69,931.13 541.56,930.88 542.42,930.62 543.29,930.36 544.16,930.09 545.02,929.83 545.89,929.57 546.76,929.3 547.63,929.03 548.49,928.76 549.36,928.49 550.23,928.21 551.09,927.94 551.96,927.66 552.83,927.39 553.7,927.11 554.56,926.83 555.43,926.55 556.3,926.28 557.16,926 558.03,925.73 558.9,925.45 559.77,925.17 560.63,924.88 561.5,924.59 562.37,924.3 563.23,924 564.1,923.69 564.97,923.38 565.84,923.05 566.7,922.72 567.57,922.38 568.44,922.02 569.3,921.65 570.17,921.25 571.04,920.83 571.91,920.4 572.77,919.96 573.64,919.5 574.51,919.03 575.37,918.56 576.24,918.08 577.11,917.61 577.98,917.13 578.84,916.66 579.71,916.2 580.58,915.75 581.44,915.3 582.31,914.86 583.18,914.41 584.05,913.96 584.91,913.5 585.78,913.04 586.65,912.56 587.51,912.06 588.38,911.55 589.25,911.02 590.11,910.46 590.98,909.87 591.85,909.26 592.72,908.64 593.58,908 594.45,907.35 595.32,906.7 596.18,906.06 597.05,905.41 597.92,904.76 598.79,904.1 599.65,903.43 600.52,902.76 601.39,902.09 602.25,901.42 603.12,900.77 603.99,900.12 604.86,899.5 605.72,898.9 606.59,898.32 607.46,897.72 608.32,897.11 609.19,896.47 610.06,895.79 610.93,895.06 611.79,894.27 612.66,893.45 613.53,892.62 614.39,891.77 615.26,890.94 616.13,890.14 617,889.34 617.86,888.54 618.73,887.74 619.6,886.91 620.46,886.06 621.33,885.17 622.2,884.26 623.07,883.32 623.93,882.37 624.8,881.42 625.67,880.44 626.53,879.44 627.4,878.44 628.27,877.46 629.14,876.51 630,875.6 630.87,874.69 631.74,873.78 632.6,872.84 633.47,871.86 634.34,870.86 635.21,869.83 636.07,868.78 636.94,867.72 637.81,866.64 638.67,865.51 639.54,864.33 640.41,863.05 641.28,861.73 642.14,860.45 643.01,859.27 643.88,858.13 644.74,857.03 645.61,855.95 646.48,854.91 647.34,853.9 648.21,852.82 649.08,851.68 649.95,850.48 650.81,849.25 651.68,847.99 652.55,846.72 653.41,845.43 654.28,844.15 655.15,842.87 656.02,841.61 656.88,840.38 657.75,839.14 658.62,837.9 659.48,836.67 660.35,835.43 661.22,834.2 662.09,832.97 662.95,831.74 663.82,830.51 664.69,829.29 665.55,828.07 666.42,826.86 667.29,825.66 668.16,824.46 669.02,823.26 669.89,822.08 670.76,820.91 671.62,819.74 672.49,818.57 673.36,817.42 674.23,816.26 675.09,815.11 675.96,813.95 676.83,812.8 677.69,811.65 678.56,810.49 679.43,809.33 680.3,808.17 681.16,806.99 682.03,805.81 682.9,804.63 683.76,803.44 684.63,802.26 685.5,801.08 686.37,799.9 687.23,798.74 688.1,797.59 688.97,796.45 689.83,795.31 690.7,794.17 691.57,793.03 692.44,791.88 693.3,790.72 694.17,789.52 695.04,788.31 695.9,787.09 696.77,785.87 697.64,784.66 698.51,783.49 699.37,782.37 700.24,781.29 701.11,780.23 701.97,779.19 702.84,778.17 703.71,777.18 704.57,776.22 705.44,775.28" fill="none" stroke="#ff00ff" stroke-width="1.8" stroke-dasharray="1.9 4.5"/>
<polyline points="532.88,933.36 533.75,933.12 534.62,932.88 535.49,932.63 536.35,932.39 537.22,932.14 538.09,931.89 538.95,931.64 539.82,931.39 540.69,931.13 541.56,930.88 542.42,930.62 543.29,930.36 544.16,930.09 545.02,929.83 545.89,929.57 546.76,929.3 547.63,929.03 548.49,928.76 549.36,928.49 550.23,928.21 551.09,927.94 551.96,927.66 552.83,927.39 553.7,927.11 554.56,926.83 555.43,926.55 556.3,926.28 557.16,926 558.03,925.73 558.9,925.45 559.77,925.17 560.63,924.88 561.5,924.59 562.37,924.3 563.23,924 564.1,923.69 564.97,923.38 565.84,923.05 566.7,922.72 567.57,922.38 568.44,922.02 569.3,921.65 570.17,921.25 571.04,920.83 571.91,920.4 572.77,919.96 573.64,919.5 574.51,919.03 575.37,918.56 576.24,918.08 577.11,917.61 577.98,917.13 578.84,916.66 579.71,916.2 580.58,915.75 581.44,915.3 582.31,914.86 583.18,914.41 584.05,913.96 584.91,913.5 585.78,913.04 586.65,912.56 587.51,912.06 588.38,911.55 589.25,911.02 590.11,910.46 590.98,909.87 591.85,909.26 592.72,908.64 593.58,908 594.45,907.35 595.32,906.7 596.18,906.06 597.05,905.41 597.92,904.76 598.79,904.1 599.65,903.43 600.52,902.76 601.39,902.09 602.25,901.42 603.12,900.77 603.99,900.12 604.86,899.5 605.72,898.9 606.59,898.32 607.46,897.72 608.32,897.11 609.19,896.47 610.06,895.79 610.93,895.06 611.79,894.27 612.66,893.45 613.53,892.62 614.39,891.77 615.26,890.94 616.13,890.14 617,889.34 617.86,888.54 618.73,887.74 619.6,886.91 620.46,886.06 621.33,885.17 622.2,884.26 623.07,883.32 623.93,882.37 624.8,881.42 625.67,880.44 626.53,879.44 627.4,878.44 628.27,877.46 629.14,876.51 630,875.6 630.87,874.69 631.74,873.78 632.6,872.84 633.47,871.86 634.34,870.86 635.21,869.83 636.07,868.78 636.94,867.72 637.81,866.64 638.67,865.51 639.54,864.33 640.41,863.05 641.28,861.73 642.14,860.45 643.01,859.27 643.88,858.13 644.74,857.03 645.61,855.95 646.48,854.91 647.34,853.9 648.21,852.82 649.08,851.68 649.95,850.48 650.81,849.25 651.68,847.99 652.55,846.72 653.41,845.43 654.28,844.15 655.15,842.87 656.02,841.61 656.88,840.38 657.75,839.14 658.62,837.9 659.48,836.67 660.35,835.43 661.22,834.2 662.09,832.97 662.95,831.74 663.82,830.51 664.69,829.29 665.55,828.07 666.42,826.86 667.29,825.66 668.16,824.46 669.02,823.26 669.89,822.08 670.76,820.91 671.62,819.74 672.49,818.57 673.36,817.42 674.23,816.26 675.09,815.11 675.96,813.95 676.83,812.8 677.69,811.65 678.56,810.49 679.43,809.33 680.3,808.17 681.16,806.99 682.03,805.81 682.9,804.63 683.76,803.44 684.63,802.26 685.5,801.08 686.37,799.9 687.23,798.74 688.1,797.59 688.97,796.45 689.83,795.31 690.7,794.17 691.57,793.03 692.44,791.88 693.3,790.72 694.17,789.52 695.04,788.31 695.9,787.09 696.77,785.87 697.64,784.66 698.51,783.49 699.37,782.37 700.24,781.29 701.11,780.23 701.97,779.19 702.84,778.17 703.71,777.18 704.57,776.22 705.44,775.28" fill="none" stroke="#0a8a0a" stroke-width="1.6" stroke-dasharray="8.8 10.5"/>
<path d="M662.35 834.45h1.9M668.55 834.45h1.9M674.75 834.45h1.9M680.95 834.45h1.9M687.15 834.45h1.9M693.35 834.45h1.9M699.55 834.45h1.9M705.75 834.45h1.9M711.95 834.45h1.9M718.15 834.45h1.9M724.35 834.45h1.9M730.55 834.45h1.9M736.75 834.45h1.9M742.95 834.45h1.9M749.15 834.45h1.9M755.35 834.45h1.9M761.55 834.45h1.9M767.75 834.45h1.9" stroke="#0a8a0a" stroke-width="1.6" fill="none"/>
<rect x="431.8" y="755.1" width="340.7" height="198.0" fill="none" stroke="#6e6e6e" stroke-width="1.3"/>
<path d="M443.54 953.1v-2.1M443.54 755.1v2.1M455.28 953.1v-2.1M455.28 755.1v2.1M467.02 953.1v-2.1M467.02 755.1v2.1M478.76 953.1v-2.1M478.76 755.1v2.1M490.5 953.1v-4.2M490.5 755.1v4.2M502.24 953.1v-2.1M502.24 755.1v2.1M513.98 953.1v-2.1M513.98 755.1v2.1M525.72 953.1v-2.1M525.72 755.1v2.1M537.46 953.1v-2.1M537.46 755.1v2.1M549.2 953.1v-4.2M549.2 755.1v4.2M560.94 953.1v-2.1M560.94 755.1v2.1M572.68 953.1v-2.1M572.68 755.1v2.1M584.42 953.1v-2.1M584.42 755.1v2.1M596.16 953.1v-2.1M596.16 755.1v2.1M607.9 953.1v-4.2M607.9 755.1v4.2M619.64 953.1v-2.1M619.64 755.1v2.1M631.38 953.1v-2.1M631.38 755.1v2.1M643.12 953.1v-2.1M643.12 755.1v2.1M654.86 953.1v-2.1M654.86 755.1v2.1M666.6 953.1v-4.2M666.6 755.1v4.2M678.34 953.1v-2.1M678.34 755.1v2.1M690.08 953.1v-2.1M690.08 755.1v2.1M701.82 953.1v-2.1M701.82 755.1v2.1M713.56 953.1v-2.1M713.56 755.1v2.1M725.3 953.1v-4.2M725.3 755.1v4.2M737.04 953.1v-2.1M737.04 755.1v2.1M748.78 953.1v-2.1M748.78 755.1v2.1M760.52 953.1v-2.1M760.52 755.1v2.1M431.8 943.22h3.5M431.8 933.33h3.5M431.8 923.45h3.5M431.8 913.56h3.5M431.8 903.68h6.9M431.8 893.79h3.5M431.8 883.9h3.5M431.8 874.02h3.5M431.8 864.13h3.5M431.8 854.25h6.9M431.8 844.37h3.5M431.8 834.48h3.5M431.8 824.6h3.5M431.8 814.71h3.5M431.8 804.83h6.9M431.8 794.94h3.5M431.8 785.06h3.5M431.8 775.17h3.5M431.8 765.28h3.5M772.5 945.19h-3.5M772.5 937.28h-3.5M772.5 929.37h-3.5M772.5 921.46h-3.5M772.5 913.55h-6.9M772.5 905.64h-3.5M772.5 897.73h-3.5M772.5 889.82h-3.5M772.5 881.91h-3.5M772.5 874h-6.9M772.5 866.09h-3.5M772.5 858.18h-3.5M772.5 850.27h-3.5M772.5 842.36h-3.5M772.5 834.45h-6.9M772.5 826.54h-3.5M772.5 818.63h-3.5M772.5 810.72h-3.5M772.5 802.81h-3.5M772.5 794.9h-6.9M772.5 786.99h-3.5M772.5 779.08h-3.5M772.5 771.17h-3.5M772.5 763.26h-3.5" stroke="#555" stroke-width="1" fill="none"/>
<path d="M491.9 832.8h4.8" stroke="#0a8a0a" stroke-width="1.1"/>
<path d="M491.9 854.7h4.8" stroke="#ff00ff" stroke-width="1.1"/>
<g filter="url(#nf)"><text x="95.5" y="252" text-anchor="end">1.0</text>
<text x="95.5" y="229.51" text-anchor="end">1.1</text>
<text x="95.5" y="200.33" text-anchor="end">1.2</text>
<text x="95.5" y="171.14" text-anchor="end">1.3</text>
<text x="95.5" y="141.95" text-anchor="end">1.4</text>
<text x="95.5" y="112.76" text-anchor="end">1.5</text>
<text x="95.5" y="83.57" text-anchor="end">1.6</text>
<text x="95.5" y="54.39" text-anchor="end">1.7</text>
<text x="95.5" y="29.1" text-anchor="end">1.8</text>
<text x="769.3" y="248.6">0</text>
<text x="769.3" y="208">2</text>
<text x="769.3" y="167.4">4</text>
<text x="769.3" y="126.8">6</text>
<text x="769.3" y="86.2">8</text>
<text x="769.3" y="45.6">10</text>
<text transform="translate(57,135.7) rotate(-90)" text-anchor="middle">Mean Decay Index n</text>
<text transform="translate(804.5,136) rotate(-90)" text-anchor="middle">SXR Flux (10<tspan font-size="11px" dy="-7">-5</tspan><tspan dy="7"> watts m</tspan><tspan font-size="11px" dy="-7">-2</tspan><tspan dy="7">)</tspan></text>
<text x="114.5" y="40.8">(a)</text>
<text x="354.5" y="62.2" font-size="18.4px">XF2</text>
<text x="574" y="62.2" font-size="18.4px">XF3</text>
<text x="652" y="62.2" font-size="18.4px">XF4</text>
<text x="720.8" y="62.2" font-size="18.4px">XF5</text>
<text x="95.5" y="484.2" text-anchor="end" fill="#ff0000">6</text>
<text x="769.3" y="484.2" fill="#0000ff">6</text>
<text x="95.5" y="412.2" text-anchor="end" fill="#ff0000">8</text>
<text x="769.3" y="412.2" fill="#0000ff">8</text>
<text x="95.5" y="340.2" text-anchor="end" fill="#ff0000">10</text>
<text x="769.3" y="340.2" fill="#0000ff">10</text>
<text x="95.5" y="272.4" text-anchor="end" fill="#ff0000">12</text>
<text x="769.3" y="272.4" fill="#0000ff">12</text>
<text transform="translate(61.3,379) rotate(-90)" text-anchor="middle" fill="#ff0000">Positive Flux (10<tspan font-size="11px" dy="-7">22</tspan><tspan dy="7"> Mx)</tspan></text>
<text transform="translate(804.5,379) rotate(-90)" text-anchor="middle" fill="#0000ff">Negative Flux (10<tspan font-size="11px" dy="-7">22</tspan><tspan dy="7"> Mx)</tspan></text>
<text x="114.5" y="285.8">(b)</text>
<text x="100" y="518.5" text-anchor="middle">Oct 20</text>
<text x="194.93" y="518.5" text-anchor="middle">Oct 21</text>
<text x="289.86" y="518.5" text-anchor="middle">Oct 22</text>
<text x="384.79" y="518.5" text-anchor="middle">Oct 23</text>
<text x="479.71" y="518.5" text-anchor="middle">Oct 24</text>
<text x="574.64" y="518.5" text-anchor="middle">Oct 25</text>
<text x="669.57" y="518.5" text-anchor="middle">Oct 26</text>
<text x="764.5" y="518.5" text-anchor="middle">Oct 27</text>
<text x="432" y="537" text-anchor="middle">Time</text>
<text x="366.4" y="568.25" font-size="18.4px">XF2</text>
<text x="84.5" y="737.7">(c)</text>
<text x="133.7" y="637.6" font-size="18.4px" fill="#0a8a0a">n=1.473</text>
<text x="133.7" y="660.2" font-size="18.4px" fill="#ff00ff">n=1.469</text>
<text x="71.2" y="745.4" text-anchor="end">1.0</text>
<text x="71.2" y="701.48" text-anchor="end">1.5</text>
<text x="71.2" y="652.05" text-anchor="end">2.0</text>
<text x="71.2" y="602.63" text-anchor="end">2.5</text>
<text x="71.2" y="557.2" text-anchor="end">3.0</text>
<text transform="translate(31.7,645.85) rotate(-90)" text-anchor="middle">log(B<tspan font-size="11px" dy="3.5">h</tspan><tspan dy="-3.5">)</tspan></text>
<text x="723.5" y="568.25" font-size="18.4px">XF3</text>
<text x="441.6" y="737.7">(d)</text>
<text x="490.8" y="637.6" font-size="18.4px" fill="#0a8a0a">n=1.370</text>
<text x="490.8" y="660.2" font-size="18.4px" fill="#ff00ff">n=1.373</text>
<text x="777" y="745.9">0.0</text>
<text x="777" y="711.35">0.5</text>
<text x="777" y="671.8">1.0</text>
<text x="777" y="632.25">1.5</text>
<text x="777" y="592.7">2.0</text>
<text x="777" y="557.15">2.5</text>
<text transform="translate(816.5,645.85) rotate(-90)" text-anchor="middle">Decay Index n</text>
<text x="366.4" y="776.35" font-size="18.4px">XF4</text>
<text x="84.5" y="946.1">(e)</text>
<text x="133.7" y="845.7" font-size="18.4px" fill="#0a8a0a">n=1.327</text>
<text x="133.7" y="868.3" font-size="18.4px" fill="#ff00ff">n=1.317</text>
<text x="71.2" y="953.8" text-anchor="end">1.0</text>
<text x="71.2" y="909.88" text-anchor="end">1.5</text>
<text x="71.2" y="860.45" text-anchor="end">2.0</text>
<text x="71.2" y="811.03" text-anchor="end">2.5</text>
<text x="71.2" y="765.6" text-anchor="end">3.0</text>
<text transform="translate(31.7,854.1) rotate(-90)" text-anchor="middle">log(B<tspan font-size="11px" dy="3.5">h</tspan><tspan dy="-3.5">)</tspan></text>
<text x="74.7" y="974.6" text-anchor="middle">3.0</text>
<text x="133.4" y="974.6" text-anchor="middle">3.5</text>
<text x="192.1" y="974.6" text-anchor="middle">4.0</text>
<text x="250.8" y="974.6" text-anchor="middle">4.5</text>
<text x="309.5" y="974.6" text-anchor="middle">5.0</text>
<text x="368.2" y="974.6" text-anchor="middle">5.5</text>
<text x="245.05" y="994.3" text-anchor="middle">log(H)</text>
<text x="723.5" y="776.35" font-size="18.4px">XF5</text>
<text x="441.6" y="946.1">(f)</text>
<text x="490.8" y="845.7" font-size="18.4px" fill="#0a8a0a">n=1.279</text>
<text x="490.8" y="868.3" font-size="18.4px" fill="#ff00ff">n=1.269</text>
<text x="777" y="954.3">0.0</text>
<text x="777" y="919.75">0.5</text>
<text x="777" y="880.2">1.0</text>
<text x="777" y="840.65">1.5</text>
<text x="777" y="801.1">2.0</text>
<text x="777" y="765.55">2.5</text>
<text transform="translate(816.5,854.1) rotate(-90)" text-anchor="middle">Decay Index n</text>
<text x="431.8" y="974.6" text-anchor="middle">3.0</text>
<text x="490.5" y="974.6" text-anchor="middle">3.5</text>
<text x="549.2" y="974.6" text-anchor="middle">4.0</text>
<text x="607.9" y="974.6" text-anchor="middle">4.5</text>
<text x="666.6" y="974.6" text-anchor="middle">5.0</text>
<text x="725.3" y="974.6" text-anchor="middle">5.5</text>
<text x="602.15" y="994.3" text-anchor="middle">log(H)</text></g>
</svg>
</body></html>
